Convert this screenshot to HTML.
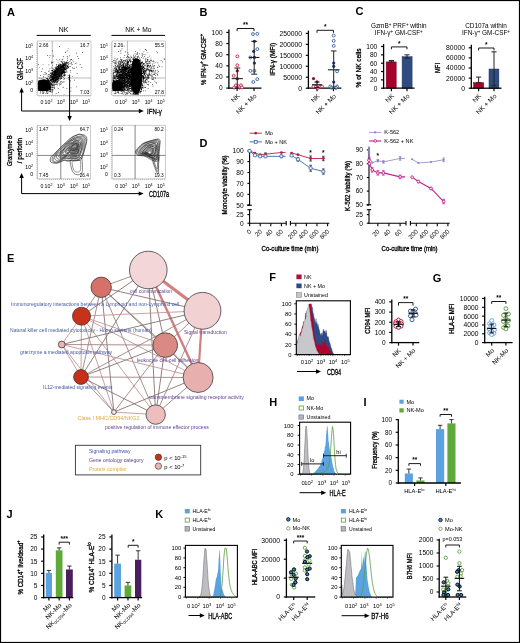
<!DOCTYPE html>
<html><head><meta charset="utf-8"><style>
html,body{margin:0;padding:0;background:#fff;}
svg{display:block;will-change:transform;}
text{font-family:"Liberation Sans",sans-serif;}
</style></head><body>
<svg width="520" height="643" viewBox="0 0 520 643" font-family="Liberation Sans">
<rect x="0" y="0" width="520" height="643" fill="#fff"/>
<text x="7" y="16.4" font-size="11" font-weight="bold">A</text>
<text x="63.6" y="32" font-size="6.9" text-anchor="middle">NK</text>
<line x1="36.6" y1="35.4" x2="90.8" y2="35.4" stroke="#000" stroke-width="1"/>
<text x="138.4" y="32" font-size="6.7" text-anchor="middle">NK + Mo</text>
<line x1="111.5" y1="35.4" x2="165" y2="35.4" stroke="#000" stroke-width="1"/>
<rect x="37.3" y="41" width="53.7" height="54.4" fill="none" stroke="#9a9a9a" stroke-width="0.5"/>
<path d="M37.3 43h-1.2M37.3 45.06h-1.2M37.3 47.11h-1.2M37.3 49.17h-1.2M37.3 51.22h-1.2M37.3 53.28h-1.2M37.3 55.34h-1.2M37.3 57.39h-1.2M37.3 59.45h-1.2M37.3 61.5h-1.2M37.3 63.56h-1.2M37.3 65.62h-1.2M37.3 67.67h-1.2M37.3 69.73h-1.2M37.3 71.78h-1.2M37.3 73.84h-1.2M37.3 75.9h-1.2M37.3 77.95h-1.2M37.3 80.01h-1.2M37.3 82.06h-1.2M37.3 84.12h-1.2M37.3 86.18h-1.2M37.3 88.23h-1.2M37.3 90.29h-1.2M37.3 92.34h-1.2M37.3 94.4h-1.2M39.3 95.4v1.2M41.33 95.4v1.2M43.36 95.4v1.2M45.38 95.4v1.2M47.41 95.4v1.2M49.44 95.4v1.2M51.47 95.4v1.2M53.5 95.4v1.2M55.52 95.4v1.2M57.55 95.4v1.2M59.58 95.4v1.2M61.61 95.4v1.2M63.64 95.4v1.2M65.66 95.4v1.2M67.69 95.4v1.2M69.72 95.4v1.2M71.75 95.4v1.2M73.78 95.4v1.2M75.8 95.4v1.2M77.83 95.4v1.2M79.86 95.4v1.2M81.89 95.4v1.2M83.92 95.4v1.2M85.94 95.4v1.2M87.97 95.4v1.2M90 95.4v1.2" fill="none" stroke="#666" stroke-width="0.4"/>
<text x="33.1" y="47.7" font-size="5.2" text-anchor="end">10<tspan baseline-shift="super" font-size="70%">5</tspan></text>
<text x="33.1" y="60.4" font-size="5.2" text-anchor="end">10<tspan baseline-shift="super" font-size="70%">4</tspan></text>
<text x="33.1" y="72.9" font-size="5.2" text-anchor="end">10<tspan baseline-shift="super" font-size="70%">3</tspan></text>
<text x="33.1" y="84.9" font-size="5.2" text-anchor="end">10<tspan baseline-shift="super" font-size="70%">2</tspan></text>
<text x="33.1" y="91.9" font-size="5.2" text-anchor="end">0</text>
<text x="41.9" y="104.2" font-size="5.2" text-anchor="middle">0</text>
<text x="48.5" y="104.2" font-size="5.2" text-anchor="middle">10<tspan baseline-shift="super" font-size="70%">2</tspan></text>
<text x="60.9" y="104.2" font-size="5.2" text-anchor="middle">10<tspan baseline-shift="super" font-size="70%">3</tspan></text>
<text x="73.9" y="104.2" font-size="5.2" text-anchor="middle">10<tspan baseline-shift="super" font-size="70%">4</tspan></text>
<text x="86.1" y="104.2" font-size="5.2" text-anchor="middle">10<tspan baseline-shift="super" font-size="70%">5</tspan></text>
<line x1="52.3" y1="41" x2="52.3" y2="95.4" stroke="#aaa" stroke-width="0.8"/>
<line x1="37.3" y1="78" x2="91" y2="78" stroke="#aaa" stroke-width="0.8"/>
<text x="39.1" y="46.5" font-size="4.8">2.66</text>
<text x="89.4" y="46.5" font-size="4.8" text-anchor="end">16.7</text>
<text x="39.1" y="93.6" font-size="4.8">79.6</text>
<text x="89.4" y="93.6" font-size="4.8" text-anchor="end">7.03</text>
<rect x="112" y="41" width="53.6" height="54.4" fill="none" stroke="#9a9a9a" stroke-width="0.5"/>
<path d="M112 43h-1.2M112 45.06h-1.2M112 47.11h-1.2M112 49.17h-1.2M112 51.22h-1.2M112 53.28h-1.2M112 55.34h-1.2M112 57.39h-1.2M112 59.45h-1.2M112 61.5h-1.2M112 63.56h-1.2M112 65.62h-1.2M112 67.67h-1.2M112 69.73h-1.2M112 71.78h-1.2M112 73.84h-1.2M112 75.9h-1.2M112 77.95h-1.2M112 80.01h-1.2M112 82.06h-1.2M112 84.12h-1.2M112 86.18h-1.2M112 88.23h-1.2M112 90.29h-1.2M112 92.34h-1.2M112 94.4h-1.2M114 95.4v1.2M116.02 95.4v1.2M118.05 95.4v1.2M120.07 95.4v1.2M122.1 95.4v1.2M124.12 95.4v1.2M126.14 95.4v1.2M128.17 95.4v1.2M130.19 95.4v1.2M132.22 95.4v1.2M134.24 95.4v1.2M136.26 95.4v1.2M138.29 95.4v1.2M140.31 95.4v1.2M142.34 95.4v1.2M144.36 95.4v1.2M146.38 95.4v1.2M148.41 95.4v1.2M150.43 95.4v1.2M152.46 95.4v1.2M154.48 95.4v1.2M156.5 95.4v1.2M158.53 95.4v1.2M160.55 95.4v1.2M162.58 95.4v1.2M164.6 95.4v1.2" fill="none" stroke="#666" stroke-width="0.4"/>
<text x="107.8" y="47.7" font-size="5.2" text-anchor="end">10<tspan baseline-shift="super" font-size="70%">5</tspan></text>
<text x="107.8" y="60.4" font-size="5.2" text-anchor="end">10<tspan baseline-shift="super" font-size="70%">4</tspan></text>
<text x="107.8" y="72.9" font-size="5.2" text-anchor="end">10<tspan baseline-shift="super" font-size="70%">3</tspan></text>
<text x="107.8" y="84.9" font-size="5.2" text-anchor="end">10<tspan baseline-shift="super" font-size="70%">2</tspan></text>
<text x="107.8" y="91.9" font-size="5.2" text-anchor="end">0</text>
<text x="116.6" y="104.2" font-size="5.2" text-anchor="middle">0</text>
<text x="123.2" y="104.2" font-size="5.2" text-anchor="middle">10<tspan baseline-shift="super" font-size="70%">2</tspan></text>
<text x="135.6" y="104.2" font-size="5.2" text-anchor="middle">10<tspan baseline-shift="super" font-size="70%">3</tspan></text>
<text x="148.6" y="104.2" font-size="5.2" text-anchor="middle">10<tspan baseline-shift="super" font-size="70%">4</tspan></text>
<text x="160.8" y="104.2" font-size="5.2" text-anchor="middle">10<tspan baseline-shift="super" font-size="70%">5</tspan></text>
<line x1="127.4" y1="41" x2="127.4" y2="95.4" stroke="#aaa" stroke-width="0.8"/>
<line x1="112" y1="78" x2="165.6" y2="78" stroke="#aaa" stroke-width="0.8"/>
<text x="113.8" y="46.5" font-size="4.8">2.26</text>
<text x="164" y="46.5" font-size="4.8" text-anchor="end">55.5</text>
<text x="113.8" y="93.6" font-size="4.8">14.5</text>
<text x="164" y="93.6" font-size="4.8" text-anchor="end">27.8</text>
<path d="M43.16 87.83h0.7v0.7h-0.7zM43.25 85.68h0.7v0.7h-0.7zM40.93 85.95h0.7v0.7h-0.7zM47.67 87.6h0.7v0.7h-0.7zM47.42 87.15h0.7v0.7h-0.7zM45.3 86.98h0.7v0.7h-0.7zM38.5 88.72h0.7v0.7h-0.7zM45.67 87.8h0.7v0.7h-0.7zM38.42 81.97h0.7v0.7h-0.7zM41.06 85.28h0.7v0.7h-0.7zM45.01 86.38h0.7v0.7h-0.7zM45.72 84.83h0.7v0.7h-0.7zM45.02 87.52h0.7v0.7h-0.7zM41.82 90.97h0.7v0.7h-0.7zM45.84 89.61h0.7v0.7h-0.7zM41.95 84.58h0.7v0.7h-0.7zM42.86 86.22h0.7v0.7h-0.7zM46.09 87.15h0.7v0.7h-0.7zM42.52 84.01h0.7v0.7h-0.7zM42.28 89.67h0.7v0.7h-0.7zM41.33 87.14h0.7v0.7h-0.7zM45.41 82.63h0.7v0.7h-0.7zM44.16 89.9h0.7v0.7h-0.7zM43.65 84.38h0.7v0.7h-0.7zM45.64 86.34h0.7v0.7h-0.7zM39.17 88.65h0.7v0.7h-0.7zM46.21 88.96h0.7v0.7h-0.7zM48.75 87.44h0.7v0.7h-0.7zM44.39 83.12h0.7v0.7h-0.7zM46.03 84.91h0.7v0.7h-0.7zM42.51 83.21h0.7v0.7h-0.7zM40.81 85.12h0.7v0.7h-0.7zM48.25 81.22h0.7v0.7h-0.7zM39.19 87.12h0.7v0.7h-0.7zM48.76 88h0.7v0.7h-0.7zM45.18 84.59h0.7v0.7h-0.7zM40.3 89.04h0.7v0.7h-0.7zM47.64 86.91h0.7v0.7h-0.7zM44.81 87.63h0.7v0.7h-0.7zM49.26 88.11h0.7v0.7h-0.7zM45.71 87.92h0.7v0.7h-0.7zM38.82 89.83h0.7v0.7h-0.7zM47.15 87.88h0.7v0.7h-0.7zM46.78 81.79h0.7v0.7h-0.7zM43.39 89.15h0.7v0.7h-0.7zM39.67 90.69h0.7v0.7h-0.7zM45.82 86.11h0.7v0.7h-0.7zM45.07 88.19h0.7v0.7h-0.7zM44.4 89.48h0.7v0.7h-0.7zM41.82 85.42h0.7v0.7h-0.7zM47.44 86.57h0.7v0.7h-0.7zM41.09 88.96h0.7v0.7h-0.7zM48.84 85.34h0.7v0.7h-0.7zM39.45 86.15h0.7v0.7h-0.7zM43.51 85.73h0.7v0.7h-0.7zM48.64 83.83h0.7v0.7h-0.7zM48.16 83.2h0.7v0.7h-0.7zM41.4 88.14h0.7v0.7h-0.7zM47.72 88.73h0.7v0.7h-0.7zM45.14 86.87h0.7v0.7h-0.7zM44.5 88h0.7v0.7h-0.7zM43.42 87.22h0.7v0.7h-0.7zM45.89 86.5h0.7v0.7h-0.7zM46.52 87.97h0.7v0.7h-0.7zM50.64 87.34h0.7v0.7h-0.7zM42.59 85.53h0.7v0.7h-0.7zM43.96 88.9h0.7v0.7h-0.7zM42.89 87.5h0.7v0.7h-0.7zM50.06 79.83h0.7v0.7h-0.7zM40.29 87.13h0.7v0.7h-0.7zM45.31 87.12h0.7v0.7h-0.7zM42.58 88.2h0.7v0.7h-0.7zM44.93 85.14h0.7v0.7h-0.7zM52.02 87.42h0.7v0.7h-0.7zM42.17 86.24h0.7v0.7h-0.7zM43.26 86.34h0.7v0.7h-0.7zM47.33 83.46h0.7v0.7h-0.7zM43.78 88.98h0.7v0.7h-0.7zM46.83 90.38h0.7v0.7h-0.7zM38.39 85.58h0.7v0.7h-0.7zM42.87 88.12h0.7v0.7h-0.7zM47.6 79.52h0.7v0.7h-0.7zM47.59 82.74h0.7v0.7h-0.7zM46.25 82.62h0.7v0.7h-0.7zM44.58 89.61h0.7v0.7h-0.7zM43.51 87h0.7v0.7h-0.7zM46.63 86.87h0.7v0.7h-0.7zM43.71 90.49h0.7v0.7h-0.7zM47.46 85.74h0.7v0.7h-0.7zM53.06 83.52h0.7v0.7h-0.7zM47.02 85.81h0.7v0.7h-0.7zM44.44 88.33h0.7v0.7h-0.7zM44.73 88.16h0.7v0.7h-0.7zM38.96 82.58h0.7v0.7h-0.7zM46.03 84h0.7v0.7h-0.7zM40.61 82.68h0.7v0.7h-0.7zM48.18 88.44h0.7v0.7h-0.7zM48.86 84.06h0.7v0.7h-0.7zM44 83.54h0.7v0.7h-0.7zM46.53 90.63h0.7v0.7h-0.7zM41.06 90.56h0.7v0.7h-0.7zM47.26 86.04h0.7v0.7h-0.7zM43.68 84.93h0.7v0.7h-0.7zM45.32 87.57h0.7v0.7h-0.7zM48.94 83.85h0.7v0.7h-0.7zM47.75 90.37h0.7v0.7h-0.7zM48.79 86.03h0.7v0.7h-0.7zM41.54 89.15h0.7v0.7h-0.7zM44.38 86.82h0.7v0.7h-0.7zM48.7 85.82h0.7v0.7h-0.7zM37.88 88.63h0.7v0.7h-0.7zM45.05 84.91h0.7v0.7h-0.7zM43.97 88.66h0.7v0.7h-0.7zM44.26 89.95h0.7v0.7h-0.7zM43.8 89.2h0.7v0.7h-0.7zM48.92 90.69h0.7v0.7h-0.7zM41.78 88.79h0.7v0.7h-0.7zM37.81 83.68h0.7v0.7h-0.7zM39.93 86.47h0.7v0.7h-0.7zM43.37 86.43h0.7v0.7h-0.7zM42.05 87.11h0.7v0.7h-0.7zM49.91 86.62h0.7v0.7h-0.7zM45.75 89.1h0.7v0.7h-0.7zM43.35 83.22h0.7v0.7h-0.7zM42.17 89.29h0.7v0.7h-0.7zM38.57 84.95h0.7v0.7h-0.7zM47.32 88.56h0.7v0.7h-0.7zM44.03 88.59h0.7v0.7h-0.7zM44.55 83.43h0.7v0.7h-0.7zM38.84 84.84h0.7v0.7h-0.7zM47.05 85.03h0.7v0.7h-0.7zM41.02 84.5h0.7v0.7h-0.7zM38.95 86.2h0.7v0.7h-0.7zM40.11 87.45h0.7v0.7h-0.7zM41.88 81.45h0.7v0.7h-0.7zM46.39 85.78h0.7v0.7h-0.7zM44.96 85.31h0.7v0.7h-0.7zM46.57 88.44h0.7v0.7h-0.7zM46.2 87.35h0.7v0.7h-0.7zM48.4 88.22h0.7v0.7h-0.7zM45.49 81.08h0.7v0.7h-0.7zM46.96 89.9h0.7v0.7h-0.7zM43.02 85.28h0.7v0.7h-0.7zM50.4 81.93h0.7v0.7h-0.7zM45.55 92.8h0.7v0.7h-0.7zM40.94 88.29h0.7v0.7h-0.7zM50.23 86.19h0.7v0.7h-0.7zM45.85 88.85h0.7v0.7h-0.7zM41.01 86.27h0.7v0.7h-0.7zM44.97 88.65h0.7v0.7h-0.7zM43.89 85.99h0.7v0.7h-0.7zM40.65 85.57h0.7v0.7h-0.7zM46.94 86.76h0.7v0.7h-0.7zM41.19 84.31h0.7v0.7h-0.7zM52.8 89.46h0.7v0.7h-0.7zM46.1 79.76h0.7v0.7h-0.7zM46.05 87.75h0.7v0.7h-0.7zM49.56 87.61h0.7v0.7h-0.7zM43.78 87.86h0.7v0.7h-0.7zM45.07 84.67h0.7v0.7h-0.7zM48.37 91.2h0.7v0.7h-0.7zM39.37 84.77h0.7v0.7h-0.7zM44.96 86.98h0.7v0.7h-0.7zM42.69 83.97h0.7v0.7h-0.7zM51 89.2h0.7v0.7h-0.7zM40.06 83h0.7v0.7h-0.7zM49.62 89.07h0.7v0.7h-0.7zM50.01 88.61h0.7v0.7h-0.7zM41.12 87.18h0.7v0.7h-0.7zM43.81 87.86h0.7v0.7h-0.7zM41.6 86.18h0.7v0.7h-0.7zM45.51 87.48h0.7v0.7h-0.7zM46.11 87.04h0.7v0.7h-0.7zM42.93 88.55h0.7v0.7h-0.7zM44.16 84.35h0.7v0.7h-0.7zM41.93 86.5h0.7v0.7h-0.7zM43.64 86.91h0.7v0.7h-0.7zM44 86.96h0.7v0.7h-0.7zM43.56 83.23h0.7v0.7h-0.7zM45.39 89.24h0.7v0.7h-0.7zM45.43 86.01h0.7v0.7h-0.7zM45.47 83.99h0.7v0.7h-0.7zM40.93 88.42h0.7v0.7h-0.7zM40.42 79.67h0.7v0.7h-0.7zM40.57 90.6h0.7v0.7h-0.7zM42.74 82.94h0.7v0.7h-0.7zM41.48 87.85h0.7v0.7h-0.7zM45.64 86.96h0.7v0.7h-0.7zM48.9 88.34h0.7v0.7h-0.7zM43.93 88.05h0.7v0.7h-0.7zM49.46 89.03h0.7v0.7h-0.7zM47.38 83.68h0.7v0.7h-0.7zM43.51 88.4h0.7v0.7h-0.7zM43.02 89.28h0.7v0.7h-0.7zM45.97 88.86h0.7v0.7h-0.7zM43.3 93.12h0.7v0.7h-0.7zM48.09 85.94h0.7v0.7h-0.7zM44.3 93.25h0.7v0.7h-0.7zM42.87 88.77h0.7v0.7h-0.7zM47.24 86.52h0.7v0.7h-0.7zM40.15 86.99h0.7v0.7h-0.7zM45.19 89.44h0.7v0.7h-0.7zM46.58 86.56h0.7v0.7h-0.7zM46.82 87.9h0.7v0.7h-0.7zM44.68 86.64h0.7v0.7h-0.7zM43.2 88.28h0.7v0.7h-0.7zM40.52 84.87h0.7v0.7h-0.7zM44.02 82.69h0.7v0.7h-0.7zM42.56 81.28h0.7v0.7h-0.7zM41.75 87.98h0.7v0.7h-0.7zM45.87 86.36h0.7v0.7h-0.7zM43.23 82.82h0.7v0.7h-0.7zM50.03 87.84h0.7v0.7h-0.7zM47.61 84.21h0.7v0.7h-0.7zM43.39 81.77h0.7v0.7h-0.7zM46.58 88.93h0.7v0.7h-0.7zM46.08 81.92h0.7v0.7h-0.7zM37.98 83.73h0.7v0.7h-0.7zM41.92 82.85h0.7v0.7h-0.7zM44.1 87.15h0.7v0.7h-0.7zM46.09 88.33h0.7v0.7h-0.7zM48.96 89.53h0.7v0.7h-0.7zM39.67 85.19h0.7v0.7h-0.7zM40.5 83.7h0.7v0.7h-0.7zM43.73 86.51h0.7v0.7h-0.7zM45.62 82.37h0.7v0.7h-0.7zM39.92 86.44h0.7v0.7h-0.7zM43.34 85.69h0.7v0.7h-0.7zM43.79 84.52h0.7v0.7h-0.7zM46.31 87.42h0.7v0.7h-0.7zM43.71 84.75h0.7v0.7h-0.7zM43.43 79.42h0.7v0.7h-0.7zM40.76 86.6h0.7v0.7h-0.7zM39.04 87.02h0.7v0.7h-0.7zM44.49 82.92h0.7v0.7h-0.7zM43.17 85.68h0.7v0.7h-0.7zM45.52 88.09h0.7v0.7h-0.7zM43.88 84.29h0.7v0.7h-0.7zM43.52 86.33h0.7v0.7h-0.7zM46.42 87.27h0.7v0.7h-0.7zM41.62 82.98h0.7v0.7h-0.7zM42.77 84.57h0.7v0.7h-0.7zM40.33 86.2h0.7v0.7h-0.7zM42.38 86.77h0.7v0.7h-0.7zM45.73 85.43h0.7v0.7h-0.7zM51.67 85.66h0.7v0.7h-0.7zM47.64 86.82h0.7v0.7h-0.7zM47.68 80.32h0.7v0.7h-0.7zM41.52 87.14h0.7v0.7h-0.7zM45.99 92.57h0.7v0.7h-0.7zM45.06 89.83h0.7v0.7h-0.7zM46.53 88.96h0.7v0.7h-0.7zM45.68 86.09h0.7v0.7h-0.7zM45.68 83.7h0.7v0.7h-0.7zM47.9 83.86h0.7v0.7h-0.7zM44.82 92.01h0.7v0.7h-0.7zM43.26 86.55h0.7v0.7h-0.7zM47.84 86.57h0.7v0.7h-0.7zM41.33 87.17h0.7v0.7h-0.7zM45.92 88.35h0.7v0.7h-0.7zM41.45 91.06h0.7v0.7h-0.7zM49.5 86.55h0.7v0.7h-0.7zM44.89 85.39h0.7v0.7h-0.7zM48.67 84.67h0.7v0.7h-0.7zM46.22 85.25h0.7v0.7h-0.7zM41.71 88.37h0.7v0.7h-0.7zM48.4 86.47h0.7v0.7h-0.7zM41.76 88.61h0.7v0.7h-0.7zM43.84 87.31h0.7v0.7h-0.7zM49.03 89.44h0.7v0.7h-0.7zM42.28 92.44h0.7v0.7h-0.7zM44.01 88.54h0.7v0.7h-0.7zM41.86 86.38h0.7v0.7h-0.7zM38.23 91.15h0.7v0.7h-0.7zM48.51 83.34h0.7v0.7h-0.7zM39.03 82.29h0.7v0.7h-0.7zM47.88 85.31h0.7v0.7h-0.7zM43.8 85.69h0.7v0.7h-0.7zM43.6 83.67h0.7v0.7h-0.7zM44.08 82.76h0.7v0.7h-0.7zM43.76 87.3h0.7v0.7h-0.7zM45.54 85.9h0.7v0.7h-0.7zM41.02 86.91h0.7v0.7h-0.7zM42.4 90.57h0.7v0.7h-0.7zM46.53 86.2h0.7v0.7h-0.7zM42.45 84.67h0.7v0.7h-0.7zM40.91 85.58h0.7v0.7h-0.7zM44.97 87.84h0.7v0.7h-0.7zM45.88 91.96h0.7v0.7h-0.7zM41.67 86.53h0.7v0.7h-0.7zM53.22 81.65h0.7v0.7h-0.7zM42.28 86.94h0.7v0.7h-0.7zM44.51 87.56h0.7v0.7h-0.7zM43.21 87.45h0.7v0.7h-0.7zM44.17 88.51h0.7v0.7h-0.7zM43.99 83.82h0.7v0.7h-0.7zM40.55 88.13h0.7v0.7h-0.7zM41.86 88.15h0.7v0.7h-0.7zM46.46 87.3h0.7v0.7h-0.7zM45.68 86.23h0.7v0.7h-0.7zM39.35 86.42h0.7v0.7h-0.7zM45.5 85.12h0.7v0.7h-0.7zM43.67 88.45h0.7v0.7h-0.7zM41.1 88.16h0.7v0.7h-0.7zM50.15 85.06h0.7v0.7h-0.7zM44.48 86.11h0.7v0.7h-0.7zM49.08 87.32h0.7v0.7h-0.7zM46.96 84.71h0.7v0.7h-0.7zM43.95 86.47h0.7v0.7h-0.7zM38.14 90.25h0.7v0.7h-0.7zM46.97 81.95h0.7v0.7h-0.7zM46.46 86.16h0.7v0.7h-0.7zM45.48 87.45h0.7v0.7h-0.7zM39.05 85.95h0.7v0.7h-0.7zM48.93 85.01h0.7v0.7h-0.7zM40.62 82.97h0.7v0.7h-0.7zM39.97 87.37h0.7v0.7h-0.7zM49.59 87.62h0.7v0.7h-0.7zM44.81 92.31h0.7v0.7h-0.7zM42.29 84.75h0.7v0.7h-0.7zM45.74 87.93h0.7v0.7h-0.7zM40.65 83.46h0.7v0.7h-0.7zM44.96 87.14h0.7v0.7h-0.7zM39.69 85.97h0.7v0.7h-0.7zM42.21 87.7h0.7v0.7h-0.7zM43.61 86.28h0.7v0.7h-0.7zM42.83 89.24h0.7v0.7h-0.7zM48.59 85.55h0.7v0.7h-0.7zM46.79 84.53h0.7v0.7h-0.7zM44.24 88.45h0.7v0.7h-0.7zM49 85.51h0.7v0.7h-0.7zM43.76 87.01h0.7v0.7h-0.7zM39.06 86.54h0.7v0.7h-0.7zM41.77 87.47h0.7v0.7h-0.7zM40.27 81.36h0.7v0.7h-0.7zM44.13 87.18h0.7v0.7h-0.7zM42.19 88.81h0.7v0.7h-0.7zM43.1 84.93h0.7v0.7h-0.7zM45.58 82.42h0.7v0.7h-0.7zM41.76 86.45h0.7v0.7h-0.7zM46.8 86.08h0.7v0.7h-0.7zM45.02 84.8h0.7v0.7h-0.7zM45 90.83h0.7v0.7h-0.7zM41.73 92.65h0.7v0.7h-0.7zM41.88 86.54h0.7v0.7h-0.7zM44.57 89.16h0.7v0.7h-0.7zM39.92 81.04h0.7v0.7h-0.7zM46 88.57h0.7v0.7h-0.7zM46.06 93.34h0.7v0.7h-0.7zM44.68 87.16h0.7v0.7h-0.7zM47.07 87.46h0.7v0.7h-0.7zM49.49 83.28h0.7v0.7h-0.7zM42.76 77.54h0.7v0.7h-0.7zM46.68 85.53h0.7v0.7h-0.7zM47.05 92.1h0.7v0.7h-0.7zM43.98 85.84h0.7v0.7h-0.7zM42.35 84.32h0.7v0.7h-0.7zM41.92 88.16h0.7v0.7h-0.7zM44.12 86.67h0.7v0.7h-0.7zM43.43 88.88h0.7v0.7h-0.7zM45.63 86.13h0.7v0.7h-0.7zM46.19 86.11h0.7v0.7h-0.7zM40.2 90.28h0.7v0.7h-0.7zM45.54 84.01h0.7v0.7h-0.7zM47.56 87.4h0.7v0.7h-0.7zM38.84 90.69h0.7v0.7h-0.7zM45.1 88.82h0.7v0.7h-0.7zM44.65 86.11h0.7v0.7h-0.7zM38.89 89.03h0.7v0.7h-0.7zM44.1 85.76h0.7v0.7h-0.7zM45.16 86.7h0.7v0.7h-0.7zM46.23 85.54h0.7v0.7h-0.7zM43.88 80.94h0.7v0.7h-0.7zM42.6 88.26h0.7v0.7h-0.7zM48.41 85.55h0.7v0.7h-0.7zM43.6 90.62h0.7v0.7h-0.7zM42.92 88.41h0.7v0.7h-0.7zM49.54 86.6h0.7v0.7h-0.7zM48.05 84.65h0.7v0.7h-0.7zM44.69 86.3h0.7v0.7h-0.7zM44.38 89.44h0.7v0.7h-0.7zM51.89 84.77h0.7v0.7h-0.7zM42.1 87.79h0.7v0.7h-0.7zM40.52 87.79h0.7v0.7h-0.7zM45.89 85.78h0.7v0.7h-0.7zM45.75 82.47h0.7v0.7h-0.7zM46.51 82.48h0.7v0.7h-0.7zM41.7 85.05h0.7v0.7h-0.7zM42.68 88.73h0.7v0.7h-0.7zM44.27 85.47h0.7v0.7h-0.7zM45.79 90.61h0.7v0.7h-0.7zM44.02 87.45h0.7v0.7h-0.7zM48.09 87.2h0.7v0.7h-0.7zM39.76 92.97h0.7v0.7h-0.7zM51.29 81.34h0.7v0.7h-0.7zM43.87 87.58h0.7v0.7h-0.7zM47.19 88.24h0.7v0.7h-0.7zM43.1 83.76h0.7v0.7h-0.7zM44.34 89.19h0.7v0.7h-0.7zM40.4 83.83h0.7v0.7h-0.7zM43.92 81.46h0.7v0.7h-0.7zM43.14 85.37h0.7v0.7h-0.7zM45.49 84.68h0.7v0.7h-0.7zM41.09 85.48h0.7v0.7h-0.7zM43.84 84.77h0.7v0.7h-0.7zM44.04 88.45h0.7v0.7h-0.7zM47.91 90.93h0.7v0.7h-0.7zM41.41 85.41h0.7v0.7h-0.7zM41.61 86.41h0.7v0.7h-0.7zM45.72 82.97h0.7v0.7h-0.7zM45.53 86.43h0.7v0.7h-0.7zM37.97 87.26h0.7v0.7h-0.7zM47.94 81.64h0.7v0.7h-0.7zM46.66 87.04h0.7v0.7h-0.7zM45.57 87.65h0.7v0.7h-0.7zM48.3 85.92h0.7v0.7h-0.7zM46.88 85.43h0.7v0.7h-0.7zM46.4 84.38h0.7v0.7h-0.7zM43.64 91h0.7v0.7h-0.7zM45.47 86.09h0.7v0.7h-0.7zM40.22 84.45h0.7v0.7h-0.7zM44.64 88.94h0.7v0.7h-0.7zM45.41 87.86h0.7v0.7h-0.7zM43.86 90.02h0.7v0.7h-0.7zM42.71 85.07h0.7v0.7h-0.7zM46.93 86.67h0.7v0.7h-0.7zM43.08 85h0.7v0.7h-0.7zM43.15 88.12h0.7v0.7h-0.7zM45.17 83.35h0.7v0.7h-0.7zM45.41 86.97h0.7v0.7h-0.7zM40.7 88.51h0.7v0.7h-0.7zM43.07 85.63h0.7v0.7h-0.7zM46.63 89.93h0.7v0.7h-0.7zM41.73 87.64h0.7v0.7h-0.7zM41.11 92.52h0.7v0.7h-0.7zM42.37 89.61h0.7v0.7h-0.7zM41.86 88.61h0.7v0.7h-0.7zM51.32 79.89h0.7v0.7h-0.7zM42.57 87.8h0.7v0.7h-0.7zM43.69 84.76h0.7v0.7h-0.7zM51.1 86.71h0.7v0.7h-0.7zM38.57 88.72h0.7v0.7h-0.7zM38.32 89.49h0.7v0.7h-0.7zM42.09 86.88h0.7v0.7h-0.7zM48.16 86.81h0.7v0.7h-0.7zM39.41 82.09h0.7v0.7h-0.7zM47.9 88.43h0.7v0.7h-0.7zM41.31 88.73h0.7v0.7h-0.7zM45.64 88.18h0.7v0.7h-0.7zM46.97 88.41h0.7v0.7h-0.7zM46.91 80.11h0.7v0.7h-0.7zM44.56 87.78h0.7v0.7h-0.7zM52.42 84.02h0.7v0.7h-0.7zM42.91 86.59h0.7v0.7h-0.7zM46.92 85.35h0.7v0.7h-0.7zM47.79 84.45h0.7v0.7h-0.7zM44.88 85.13h0.7v0.7h-0.7zM44.52 84.7h0.7v0.7h-0.7zM38.73 89.34h0.7v0.7h-0.7zM45 85.05h0.7v0.7h-0.7zM44.66 89.07h0.7v0.7h-0.7zM40.77 86.21h0.7v0.7h-0.7zM45.78 87.87h0.7v0.7h-0.7zM42.89 81.02h0.7v0.7h-0.7zM48.1 87.35h0.7v0.7h-0.7zM44.04 85.78h0.7v0.7h-0.7zM44.87 85.39h0.7v0.7h-0.7zM40.62 84.58h0.7v0.7h-0.7zM42.03 84.91h0.7v0.7h-0.7zM40.18 88.15h0.7v0.7h-0.7zM39.68 88.22h0.7v0.7h-0.7zM40.65 87.42h0.7v0.7h-0.7zM48.53 87.03h0.7v0.7h-0.7zM41.59 86.63h0.7v0.7h-0.7zM44.49 81.99h0.7v0.7h-0.7zM41.99 86.92h0.7v0.7h-0.7zM42.45 86.71h0.7v0.7h-0.7zM46.42 88.49h0.7v0.7h-0.7zM46.99 88.03h0.7v0.7h-0.7zM43.05 86.45h0.7v0.7h-0.7zM43.11 85.69h0.7v0.7h-0.7zM43.41 82.02h0.7v0.7h-0.7zM42.9 86.44h0.7v0.7h-0.7zM40.79 86.44h0.7v0.7h-0.7zM45.7 86.07h0.7v0.7h-0.7zM50.85 79.72h0.7v0.7h-0.7zM43.32 81.75h0.7v0.7h-0.7zM47.23 93.4h0.7v0.7h-0.7zM45.71 85.71h0.7v0.7h-0.7zM45.82 80.67h0.7v0.7h-0.7zM46.81 87.47h0.7v0.7h-0.7zM44.08 84.97h0.7v0.7h-0.7zM46.11 85.24h0.7v0.7h-0.7zM44.74 85.17h0.7v0.7h-0.7zM44.67 88.46h0.7v0.7h-0.7zM41.11 86.41h0.7v0.7h-0.7zM46.04 86.88h0.7v0.7h-0.7zM48.1 91.68h0.7v0.7h-0.7zM41 81.51h0.7v0.7h-0.7zM46.83 90.48h0.7v0.7h-0.7zM47.04 88.62h0.7v0.7h-0.7zM41.96 84.64h0.7v0.7h-0.7zM46.93 84.13h0.7v0.7h-0.7zM38.02 83.91h0.7v0.7h-0.7zM52.22 91.5h0.7v0.7h-0.7zM41.73 84.6h0.7v0.7h-0.7zM44.76 84.55h0.7v0.7h-0.7zM48.32 86.3h0.7v0.7h-0.7zM40.42 89.9h0.7v0.7h-0.7zM42.08 87.08h0.7v0.7h-0.7zM43.96 85.68h0.7v0.7h-0.7zM45.07 84.7h0.7v0.7h-0.7zM37.91 80.76h0.7v0.7h-0.7zM39.82 84.53h0.7v0.7h-0.7zM43.92 86.64h0.7v0.7h-0.7zM45.83 86.81h0.7v0.7h-0.7zM41.38 84.66h0.7v0.7h-0.7zM45.6 87.88h0.7v0.7h-0.7zM43.6 86.05h0.7v0.7h-0.7zM47.09 86.54h0.7v0.7h-0.7zM46.43 88.01h0.7v0.7h-0.7zM44.7 89.9h0.7v0.7h-0.7zM42.11 85.57h0.7v0.7h-0.7zM41.33 84.43h0.7v0.7h-0.7zM49.13 91.07h0.7v0.7h-0.7zM44.08 87.98h0.7v0.7h-0.7zM47.88 88.6h0.7v0.7h-0.7zM47.98 83.22h0.7v0.7h-0.7zM41.89 87.68h0.7v0.7h-0.7zM48.74 86.77h0.7v0.7h-0.7zM41.17 85.58h0.7v0.7h-0.7zM41.82 84.27h0.7v0.7h-0.7zM48.95 84.87h0.7v0.7h-0.7zM44.07 92.12h0.7v0.7h-0.7zM47.91 87.37h0.7v0.7h-0.7zM41.98 87.57h0.7v0.7h-0.7zM49.35 88.12h0.7v0.7h-0.7zM48.16 86.76h0.7v0.7h-0.7zM45.7 85.98h0.7v0.7h-0.7zM45.41 89.88h0.7v0.7h-0.7zM39.28 86.34h0.7v0.7h-0.7zM44.79 85.02h0.7v0.7h-0.7zM42.98 88.55h0.7v0.7h-0.7zM50.61 88.14h0.7v0.7h-0.7zM45.08 82.47h0.7v0.7h-0.7zM50.36 86.7h0.7v0.7h-0.7zM43.89 83.59h0.7v0.7h-0.7zM43.81 83.65h0.7v0.7h-0.7zM44.23 87.71h0.7v0.7h-0.7zM44.1 87.23h0.7v0.7h-0.7zM41.19 90.22h0.7v0.7h-0.7zM41.84 81.77h0.7v0.7h-0.7zM43.38 84.51h0.7v0.7h-0.7zM40.67 85.58h0.7v0.7h-0.7zM44.96 83.43h0.7v0.7h-0.7zM43.55 90.21h0.7v0.7h-0.7zM46.25 86.1h0.7v0.7h-0.7zM44.42 86.19h0.7v0.7h-0.7zM43.84 88.4h0.7v0.7h-0.7zM43.69 80.25h0.7v0.7h-0.7zM43.93 84.19h0.7v0.7h-0.7zM46.15 84.91h0.7v0.7h-0.7zM44.49 92.16h0.7v0.7h-0.7zM40.55 83.58h0.7v0.7h-0.7zM39.34 80.27h0.7v0.7h-0.7zM37.8 87.45h0.7v0.7h-0.7zM41.89 81.64h0.7v0.7h-0.7zM39.11 88.1h0.7v0.7h-0.7zM41.44 85.55h0.7v0.7h-0.7zM45.09 90.03h0.7v0.7h-0.7zM50.41 89.18h0.7v0.7h-0.7zM44.47 86.98h0.7v0.7h-0.7zM49.95 90.21h0.7v0.7h-0.7zM42.98 87.69h0.7v0.7h-0.7zM44.95 86.64h0.7v0.7h-0.7zM42.35 83.05h0.7v0.7h-0.7zM42.24 82.49h0.7v0.7h-0.7zM48.04 87.9h0.7v0.7h-0.7zM40.02 90.13h0.7v0.7h-0.7zM46.94 81.54h0.7v0.7h-0.7zM50.08 88.61h0.7v0.7h-0.7zM50.81 83.3h0.7v0.7h-0.7zM45.75 87.6h0.7v0.7h-0.7zM44.67 86.95h0.7v0.7h-0.7zM47.48 82.61h0.7v0.7h-0.7zM39.9 82.88h0.7v0.7h-0.7zM42.16 84.93h0.7v0.7h-0.7zM45.21 87.19h0.7v0.7h-0.7zM44.1 84.74h0.7v0.7h-0.7zM42.54 88.98h0.7v0.7h-0.7zM46.52 86.76h0.7v0.7h-0.7zM42.94 90.54h0.7v0.7h-0.7zM42.04 88.19h0.7v0.7h-0.7zM47.81 85.81h0.7v0.7h-0.7zM46.72 83.6h0.7v0.7h-0.7zM47.34 87.02h0.7v0.7h-0.7zM38.76 88.24h0.7v0.7h-0.7zM41.06 89.83h0.7v0.7h-0.7zM41.76 86.07h0.7v0.7h-0.7zM44.93 85.64h0.7v0.7h-0.7zM44.86 85.06h0.7v0.7h-0.7zM46.22 86.51h0.7v0.7h-0.7zM44.7 79.34h0.7v0.7h-0.7zM47.83 86.58h0.7v0.7h-0.7zM38.12 86.75h0.7v0.7h-0.7zM45.54 89.28h0.7v0.7h-0.7zM40.43 90.52h0.7v0.7h-0.7zM43.47 92.73h0.7v0.7h-0.7zM43.52 88.27h0.7v0.7h-0.7zM42.79 83.6h0.7v0.7h-0.7zM47.62 88.86h0.7v0.7h-0.7zM49.08 88.73h0.7v0.7h-0.7zM42.11 82.18h0.7v0.7h-0.7zM41.85 84.74h0.7v0.7h-0.7zM41.31 88.01h0.7v0.7h-0.7zM45.08 85.8h0.7v0.7h-0.7zM44.57 86.12h0.7v0.7h-0.7zM44.7 88.46h0.7v0.7h-0.7zM47.17 84.72h0.7v0.7h-0.7zM39.03 90.21h0.7v0.7h-0.7zM44.38 89.37h0.7v0.7h-0.7zM38.58 85.64h0.7v0.7h-0.7zM44.09 82.75h0.7v0.7h-0.7zM42.3 88.38h0.7v0.7h-0.7zM47.56 90.64h0.7v0.7h-0.7zM41.15 82.86h0.7v0.7h-0.7zM45.72 88.95h0.7v0.7h-0.7zM44.64 83.12h0.7v0.7h-0.7zM46.58 88.56h0.7v0.7h-0.7zM45.83 85.23h0.7v0.7h-0.7zM45 88.56h0.7v0.7h-0.7zM42.16 81.71h0.7v0.7h-0.7zM45.08 87.75h0.7v0.7h-0.7zM44.04 88.81h0.7v0.7h-0.7zM42.06 86.29h0.7v0.7h-0.7zM42.99 87.99h0.7v0.7h-0.7zM49.27 85.85h0.7v0.7h-0.7zM50.78 90.48h0.7v0.7h-0.7zM46.61 88.03h0.7v0.7h-0.7zM49.84 86.03h0.7v0.7h-0.7zM43.63 83.74h0.7v0.7h-0.7zM45.56 90h0.7v0.7h-0.7zM45.76 87.6h0.7v0.7h-0.7zM43.34 86.94h0.7v0.7h-0.7zM39.3 89.23h0.7v0.7h-0.7zM42.65 83.63h0.7v0.7h-0.7zM41.52 84.36h0.7v0.7h-0.7zM46.82 89.25h0.7v0.7h-0.7zM39.52 88.91h0.7v0.7h-0.7zM46.93 84.99h0.7v0.7h-0.7zM39.09 84.56h0.7v0.7h-0.7zM41.91 87.39h0.7v0.7h-0.7zM42.82 81.23h0.7v0.7h-0.7zM44.77 82.51h0.7v0.7h-0.7zM46.99 83.36h0.7v0.7h-0.7zM41.71 84.28h0.7v0.7h-0.7zM42.21 89.87h0.7v0.7h-0.7zM46.81 88.06h0.7v0.7h-0.7zM45.05 82.48h0.7v0.7h-0.7zM42.28 85.07h0.7v0.7h-0.7zM40.77 87.82h0.7v0.7h-0.7zM41.55 84.65h0.7v0.7h-0.7zM40.55 81.15h0.7v0.7h-0.7zM45.96 89.96h0.7v0.7h-0.7zM44.58 83.96h0.7v0.7h-0.7zM48.01 87.27h0.7v0.7h-0.7zM47.06 90.34h0.7v0.7h-0.7zM47.72 85.35h0.7v0.7h-0.7zM47.47 88.52h0.7v0.7h-0.7zM38.93 85.45h0.7v0.7h-0.7zM39.3 86.22h0.7v0.7h-0.7zM45.91 83.72h0.7v0.7h-0.7zM45.24 90.33h0.7v0.7h-0.7zM39.63 89.26h0.7v0.7h-0.7zM50.84 91.72h0.7v0.7h-0.7zM43.31 87.2h0.7v0.7h-0.7zM43.49 89.1h0.7v0.7h-0.7zM47.42 86.73h0.7v0.7h-0.7zM39.52 88.43h0.7v0.7h-0.7zM42.45 88.14h0.7v0.7h-0.7zM44.87 90.72h0.7v0.7h-0.7zM47.75 85.33h0.7v0.7h-0.7zM45.15 91.09h0.7v0.7h-0.7zM42.23 87.63h0.7v0.7h-0.7zM47.93 89.77h0.7v0.7h-0.7zM45.71 83.07h0.7v0.7h-0.7zM39.84 87.14h0.7v0.7h-0.7zM45.28 93.12h0.7v0.7h-0.7zM41.16 89.46h0.7v0.7h-0.7zM46.54 82.15h0.7v0.7h-0.7zM41.3 86.93h0.7v0.7h-0.7zM42.37 86.1h0.7v0.7h-0.7zM45.55 84.4h0.7v0.7h-0.7zM45.54 84.85h0.7v0.7h-0.7zM42.2 87.9h0.7v0.7h-0.7zM42.11 87.25h0.7v0.7h-0.7zM49.28 86.57h0.7v0.7h-0.7zM43.52 88.41h0.7v0.7h-0.7zM42.79 89.32h0.7v0.7h-0.7zM39.77 88.11h0.7v0.7h-0.7zM42.31 84.42h0.7v0.7h-0.7zM49.84 84.29h0.7v0.7h-0.7zM49.8 88.21h0.7v0.7h-0.7zM48.79 83.96h0.7v0.7h-0.7zM47.96 90.29h0.7v0.7h-0.7zM43.62 86.16h0.7v0.7h-0.7zM52.1 86.96h0.7v0.7h-0.7zM42.61 84.86h0.7v0.7h-0.7zM45.47 87.36h0.7v0.7h-0.7zM44.59 90.98h0.7v0.7h-0.7zM42.92 87.73h0.7v0.7h-0.7zM48.82 83.89h0.7v0.7h-0.7zM47.43 91.26h0.7v0.7h-0.7zM39.53 83.65h0.7v0.7h-0.7zM40.57 81.7h0.7v0.7h-0.7zM45.49 81.67h0.7v0.7h-0.7zM45.65 90.28h0.7v0.7h-0.7zM38.67 85.68h0.7v0.7h-0.7zM41.57 85.81h0.7v0.7h-0.7zM44.18 87.92h0.7v0.7h-0.7zM42.86 86.54h0.7v0.7h-0.7zM42.2 86.8h0.7v0.7h-0.7zM40.13 86.67h0.7v0.7h-0.7zM50.32 86.71h0.7v0.7h-0.7zM39.84 87.17h0.7v0.7h-0.7zM40.79 82.21h0.7v0.7h-0.7zM41.57 88.42h0.7v0.7h-0.7zM45.27 86.25h0.7v0.7h-0.7zM40.94 83.7h0.7v0.7h-0.7zM48.45 87.14h0.7v0.7h-0.7zM40.86 81.01h0.7v0.7h-0.7zM39.48 92.94h0.7v0.7h-0.7zM40.21 86.3h0.7v0.7h-0.7zM44.69 86.09h0.7v0.7h-0.7zM43.08 82.93h0.7v0.7h-0.7zM40.53 90.89h0.7v0.7h-0.7zM41.5 88.7h0.7v0.7h-0.7zM38.41 85.79h0.7v0.7h-0.7zM44.86 89.19h0.7v0.7h-0.7zM40.3 88.05h0.7v0.7h-0.7zM45.27 84.58h0.7v0.7h-0.7zM45.57 84.17h0.7v0.7h-0.7zM41.37 86.45h0.7v0.7h-0.7zM40.7 82.7h0.7v0.7h-0.7zM42.6 88.48h0.7v0.7h-0.7zM42.67 89.79h0.7v0.7h-0.7zM40.17 83.09h0.7v0.7h-0.7zM49.12 87.54h0.7v0.7h-0.7zM47.12 84.35h0.7v0.7h-0.7zM46.65 87.18h0.7v0.7h-0.7zM46.14 86.57h0.7v0.7h-0.7zM47.98 84.81h0.7v0.7h-0.7zM40.82 82.66h0.7v0.7h-0.7zM47.83 84.58h0.7v0.7h-0.7zM40.56 84.06h0.7v0.7h-0.7zM42.53 83.19h0.7v0.7h-0.7zM43.04 84.87h0.7v0.7h-0.7zM42.18 84.01h0.7v0.7h-0.7zM44.12 85.3h0.7v0.7h-0.7zM44.38 87.15h0.7v0.7h-0.7zM45.12 80.81h0.7v0.7h-0.7zM42.23 84.43h0.7v0.7h-0.7zM46.56 82.4h0.7v0.7h-0.7zM41.64 85.74h0.7v0.7h-0.7zM42.89 89.08h0.7v0.7h-0.7zM42.54 89.01h0.7v0.7h-0.7zM39.16 81.79h0.7v0.7h-0.7zM48.02 87.63h0.7v0.7h-0.7zM45.61 86.82h0.7v0.7h-0.7zM45.6 83.34h0.7v0.7h-0.7zM47.13 85.12h0.7v0.7h-0.7zM47.25 86.73h0.7v0.7h-0.7zM47.72 86.14h0.7v0.7h-0.7zM42.69 87.13h0.7v0.7h-0.7zM42.6 85.08h0.7v0.7h-0.7zM44.34 86.88h0.7v0.7h-0.7zM49.01 86.62h0.7v0.7h-0.7zM50.2 91.19h0.7v0.7h-0.7zM49.66 89.26h0.7v0.7h-0.7zM44.43 86.86h0.7v0.7h-0.7zM43.53 84.6h0.7v0.7h-0.7zM43.78 84.83h0.7v0.7h-0.7zM49.41 87.89h0.7v0.7h-0.7zM42.53 81.52h0.7v0.7h-0.7zM43.82 85.42h0.7v0.7h-0.7zM40.42 83.55h0.7v0.7h-0.7zM43.78 93.21h0.7v0.7h-0.7zM43.9 86.11h0.7v0.7h-0.7zM48.77 86.85h0.7v0.7h-0.7zM44.55 85.53h0.7v0.7h-0.7zM42 90.4h0.7v0.7h-0.7zM47.3 90.96h0.7v0.7h-0.7zM42.85 86.58h0.7v0.7h-0.7zM41.09 89.01h0.7v0.7h-0.7zM39.4 87.97h0.7v0.7h-0.7zM47.62 90.17h0.7v0.7h-0.7zM40.9 89.33h0.7v0.7h-0.7zM41.65 84.53h0.7v0.7h-0.7zM39.63 89.5h0.7v0.7h-0.7zM49.44 84.95h0.7v0.7h-0.7zM41.49 85.62h0.7v0.7h-0.7zM52.27 89.11h0.7v0.7h-0.7zM42.21 81.83h0.7v0.7h-0.7zM41.78 89.59h0.7v0.7h-0.7zM50.16 85.81h0.7v0.7h-0.7zM41.72 85.17h0.7v0.7h-0.7zM40.42 89.26h0.7v0.7h-0.7zM38.36 83.2h0.7v0.7h-0.7zM44.95 84.51h0.7v0.7h-0.7zM46.58 86.52h0.7v0.7h-0.7zM40.12 88.12h0.7v0.7h-0.7zM46.78 81.53h0.7v0.7h-0.7zM50.03 87.79h0.7v0.7h-0.7zM46.51 81.66h0.7v0.7h-0.7zM41.62 85.59h0.7v0.7h-0.7zM47.55 82.71h0.7v0.7h-0.7zM41.08 81.22h0.7v0.7h-0.7zM43.2 87.4h0.7v0.7h-0.7zM38.44 84.96h0.7v0.7h-0.7zM45.68 90.62h0.7v0.7h-0.7zM46.19 85.71h0.7v0.7h-0.7zM40.11 84.07h0.7v0.7h-0.7zM41.81 86.88h0.7v0.7h-0.7zM43.84 90.83h0.7v0.7h-0.7zM44.95 83.71h0.7v0.7h-0.7zM49.1 88.97h0.7v0.7h-0.7zM44.33 84.63h0.7v0.7h-0.7zM37.83 83.84h0.7v0.7h-0.7zM47.01 84.41h0.7v0.7h-0.7zM39.64 87.01h0.7v0.7h-0.7zM44.8 88.08h0.7v0.7h-0.7zM46.16 90.16h0.7v0.7h-0.7zM41.23 89.04h0.7v0.7h-0.7zM40.74 88.3h0.7v0.7h-0.7zM44.59 87.13h0.7v0.7h-0.7zM47.19 86.45h0.7v0.7h-0.7zM47.67 88.78h0.7v0.7h-0.7zM44.45 85.03h0.7v0.7h-0.7zM41.51 85.13h0.7v0.7h-0.7zM43.33 86.44h0.7v0.7h-0.7zM53.84 88.16h0.7v0.7h-0.7zM46.54 84.26h0.7v0.7h-0.7zM41.66 85.67h0.7v0.7h-0.7zM44.63 83.81h0.7v0.7h-0.7zM49.32 85.04h0.7v0.7h-0.7zM47.56 80.43h0.7v0.7h-0.7zM43.98 87.22h0.7v0.7h-0.7zM44.63 88.06h0.7v0.7h-0.7zM44.92 86.92h0.7v0.7h-0.7zM45.01 85.99h0.7v0.7h-0.7zM41.29 84.99h0.7v0.7h-0.7zM50.09 91h0.7v0.7h-0.7zM43.81 89.85h0.7v0.7h-0.7zM38.76 81.47h0.7v0.7h-0.7zM42.41 84.23h0.7v0.7h-0.7zM42.15 86.99h0.7v0.7h-0.7zM53.98 84.78h0.7v0.7h-0.7zM44.16 87.22h0.7v0.7h-0.7zM43.89 88.92h0.7v0.7h-0.7zM49.86 83.27h0.7v0.7h-0.7zM44.53 85.81h0.7v0.7h-0.7zM45.18 82.52h0.7v0.7h-0.7zM38.2 80.48h0.7v0.7h-0.7zM45.73 87h0.7v0.7h-0.7zM44.24 80.35h0.7v0.7h-0.7zM42.77 84.54h0.7v0.7h-0.7zM39.33 84.12h0.7v0.7h-0.7zM46.3 87.91h0.7v0.7h-0.7zM43.93 87.84h0.7v0.7h-0.7zM42.01 86.69h0.7v0.7h-0.7zM44.13 87.94h0.7v0.7h-0.7zM56.92 73.6h0.7v0.7h-0.7zM55.66 73.05h0.7v0.7h-0.7zM68.09 63.48h0.7v0.7h-0.7zM63.82 75.34h0.7v0.7h-0.7zM60.48 63.98h0.7v0.7h-0.7zM62.12 71.54h0.7v0.7h-0.7zM68.16 66.55h0.7v0.7h-0.7zM58.51 67.72h0.7v0.7h-0.7zM54.29 78.21h0.7v0.7h-0.7zM57.67 69.28h0.7v0.7h-0.7zM55.07 74.69h0.7v0.7h-0.7zM58.42 73.78h0.7v0.7h-0.7zM53.85 72.78h0.7v0.7h-0.7zM65.95 70.17h0.7v0.7h-0.7zM59.05 75.78h0.7v0.7h-0.7zM60.69 72.46h0.7v0.7h-0.7zM58.07 69.84h0.7v0.7h-0.7zM61.94 72.43h0.7v0.7h-0.7zM57.5 81.25h0.7v0.7h-0.7zM70.03 66.42h0.7v0.7h-0.7zM67.48 65.06h0.7v0.7h-0.7zM54.88 74.12h0.7v0.7h-0.7zM54.24 77.67h0.7v0.7h-0.7zM58.67 74.81h0.7v0.7h-0.7zM53.35 87.33h0.7v0.7h-0.7zM67.21 62.34h0.7v0.7h-0.7zM61.33 71.01h0.7v0.7h-0.7zM58.27 71.81h0.7v0.7h-0.7zM55.36 72.68h0.7v0.7h-0.7zM58.22 72.59h0.7v0.7h-0.7zM57.2 70.47h0.7v0.7h-0.7zM57.76 73.39h0.7v0.7h-0.7zM58.02 68.72h0.7v0.7h-0.7zM61.22 73.14h0.7v0.7h-0.7zM59.34 69.95h0.7v0.7h-0.7zM54.93 75.49h0.7v0.7h-0.7zM63.66 72.6h0.7v0.7h-0.7zM55.57 73.17h0.7v0.7h-0.7zM59.51 72.02h0.7v0.7h-0.7zM52.16 76.67h0.7v0.7h-0.7zM58.38 75.15h0.7v0.7h-0.7zM50.39 77.58h0.7v0.7h-0.7zM57.25 68.96h0.7v0.7h-0.7zM58.65 73.57h0.7v0.7h-0.7zM55.04 72.3h0.7v0.7h-0.7zM56.59 73.22h0.7v0.7h-0.7zM57.3 70.42h0.7v0.7h-0.7zM58.91 65.3h0.7v0.7h-0.7zM56.76 74.37h0.7v0.7h-0.7zM60.44 67.76h0.7v0.7h-0.7zM58.73 69.86h0.7v0.7h-0.7zM64.06 72.88h0.7v0.7h-0.7zM56.64 76.22h0.7v0.7h-0.7zM55.42 79.7h0.7v0.7h-0.7zM62.76 67.65h0.7v0.7h-0.7zM53.42 79.73h0.7v0.7h-0.7zM64.56 69.76h0.7v0.7h-0.7zM57.41 66.39h0.7v0.7h-0.7zM57.36 79.26h0.7v0.7h-0.7zM54.45 81.43h0.7v0.7h-0.7zM67.06 65.61h0.7v0.7h-0.7zM61.66 67.46h0.7v0.7h-0.7zM52.04 79.31h0.7v0.7h-0.7zM56.55 74.39h0.7v0.7h-0.7zM60.21 69.85h0.7v0.7h-0.7zM59.15 73.29h0.7v0.7h-0.7zM61.08 76.69h0.7v0.7h-0.7zM59.56 71.48h0.7v0.7h-0.7zM55.39 73.44h0.7v0.7h-0.7zM63.56 67.19h0.7v0.7h-0.7zM51.77 77.8h0.7v0.7h-0.7zM56.04 73.4h0.7v0.7h-0.7zM59.88 66.21h0.7v0.7h-0.7zM59.89 71.34h0.7v0.7h-0.7zM52.54 79.33h0.7v0.7h-0.7zM58.07 74.82h0.7v0.7h-0.7zM56.16 76.22h0.7v0.7h-0.7zM48.24 79.77h0.7v0.7h-0.7zM62.9 71.45h0.7v0.7h-0.7zM56.27 72.53h0.7v0.7h-0.7zM58.06 64.62h0.7v0.7h-0.7zM55.38 78.56h0.7v0.7h-0.7zM58.28 68.54h0.7v0.7h-0.7zM52.24 85.21h0.7v0.7h-0.7zM56.41 71.22h0.7v0.7h-0.7zM59.5 74.78h0.7v0.7h-0.7zM48.55 88.06h0.7v0.7h-0.7zM56.61 66.32h0.7v0.7h-0.7zM57.33 66.68h0.7v0.7h-0.7zM63.17 68.62h0.7v0.7h-0.7zM65.97 61.45h0.7v0.7h-0.7zM59.57 75.27h0.7v0.7h-0.7zM53.38 75.42h0.7v0.7h-0.7zM55.76 75.19h0.7v0.7h-0.7zM53.8 79.62h0.7v0.7h-0.7zM59.97 70.97h0.7v0.7h-0.7zM64.15 64.64h0.7v0.7h-0.7zM62.04 66.18h0.7v0.7h-0.7zM56.96 66.49h0.7v0.7h-0.7zM58.01 72.23h0.7v0.7h-0.7zM54.18 74.87h0.7v0.7h-0.7zM54.6 73.96h0.7v0.7h-0.7zM46.93 83.19h0.7v0.7h-0.7zM54.12 75.28h0.7v0.7h-0.7zM52.7 78.43h0.7v0.7h-0.7zM60.38 69.24h0.7v0.7h-0.7zM58.04 78.24h0.7v0.7h-0.7zM63.49 70.31h0.7v0.7h-0.7zM61.82 67.3h0.7v0.7h-0.7zM59.12 76.04h0.7v0.7h-0.7zM54.89 76h0.7v0.7h-0.7zM59.85 72.29h0.7v0.7h-0.7zM58.24 76.54h0.7v0.7h-0.7zM58.15 75.61h0.7v0.7h-0.7zM63.38 69.4h0.7v0.7h-0.7zM58.38 67.93h0.7v0.7h-0.7zM50.67 78.84h0.7v0.7h-0.7zM62.47 73.75h0.7v0.7h-0.7zM52.86 80h0.7v0.7h-0.7zM52.41 76.41h0.7v0.7h-0.7zM57.67 76.04h0.7v0.7h-0.7zM60.72 74.48h0.7v0.7h-0.7zM55.01 79.84h0.7v0.7h-0.7zM61.63 69.08h0.7v0.7h-0.7zM58.45 70.2h0.7v0.7h-0.7zM52.03 78.13h0.7v0.7h-0.7zM60.39 81.6h0.7v0.7h-0.7zM58.64 78.7h0.7v0.7h-0.7zM58.98 73.05h0.7v0.7h-0.7zM59.17 68.53h0.7v0.7h-0.7zM62.17 69.67h0.7v0.7h-0.7zM52.17 81.93h0.7v0.7h-0.7zM60.75 71.58h0.7v0.7h-0.7zM63.49 65.05h0.7v0.7h-0.7zM61.16 72.28h0.7v0.7h-0.7zM55.98 79.96h0.7v0.7h-0.7zM48.74 78.35h0.7v0.7h-0.7zM57.61 69.08h0.7v0.7h-0.7zM53.79 71.25h0.7v0.7h-0.7zM55.58 71.22h0.7v0.7h-0.7zM55.97 69.2h0.7v0.7h-0.7zM58.9 70.85h0.7v0.7h-0.7zM57.64 73.07h0.7v0.7h-0.7zM55.48 70.59h0.7v0.7h-0.7zM46.56 86.08h0.7v0.7h-0.7zM52.6 77.29h0.7v0.7h-0.7zM55.45 68.01h0.7v0.7h-0.7zM53.03 76.18h0.7v0.7h-0.7zM53.6 79.22h0.7v0.7h-0.7zM55.3 72.78h0.7v0.7h-0.7zM54.85 79.69h0.7v0.7h-0.7zM55.81 77.72h0.7v0.7h-0.7zM55.73 68.06h0.7v0.7h-0.7zM52.86 78.8h0.7v0.7h-0.7zM60.49 73.17h0.7v0.7h-0.7zM62.96 71.36h0.7v0.7h-0.7zM55.48 74.96h0.7v0.7h-0.7zM60 68.98h0.7v0.7h-0.7zM58.93 65.61h0.7v0.7h-0.7zM59.97 70.01h0.7v0.7h-0.7zM50.98 84.79h0.7v0.7h-0.7zM58.88 72.02h0.7v0.7h-0.7zM51.97 77.96h0.7v0.7h-0.7zM62.37 64.7h0.7v0.7h-0.7zM40.93 88.98h0.7v0.7h-0.7zM52.1 79.13h0.7v0.7h-0.7zM54.03 73.85h0.7v0.7h-0.7zM55.94 79.41h0.7v0.7h-0.7zM55.13 83.9h0.7v0.7h-0.7zM53.03 74.28h0.7v0.7h-0.7zM61.98 70.62h0.7v0.7h-0.7zM54.49 79.88h0.7v0.7h-0.7zM47.8 80.9h0.7v0.7h-0.7zM61.83 67.56h0.7v0.7h-0.7zM52.92 80.74h0.7v0.7h-0.7zM61.39 68.98h0.7v0.7h-0.7zM49.07 81.73h0.7v0.7h-0.7zM60.79 72.78h0.7v0.7h-0.7zM64.96 64.02h0.7v0.7h-0.7zM55.36 75.79h0.7v0.7h-0.7zM60.84 65.99h0.7v0.7h-0.7zM57.73 62.41h0.7v0.7h-0.7zM59.6 68.45h0.7v0.7h-0.7zM60.81 72.44h0.7v0.7h-0.7zM52.26 79.13h0.7v0.7h-0.7zM59.68 73.33h0.7v0.7h-0.7zM51.57 76.34h0.7v0.7h-0.7zM54.21 87.25h0.7v0.7h-0.7zM56.24 74.06h0.7v0.7h-0.7zM52.9 82.39h0.7v0.7h-0.7zM58.01 78.57h0.7v0.7h-0.7zM61.2 69.38h0.7v0.7h-0.7zM58.45 68.04h0.7v0.7h-0.7zM54.98 74.1h0.7v0.7h-0.7zM52.09 79.73h0.7v0.7h-0.7zM59.68 76.67h0.7v0.7h-0.7zM41.8 88.72h0.7v0.7h-0.7zM52.65 77.19h0.7v0.7h-0.7zM60.1 72.13h0.7v0.7h-0.7zM56.7 72.55h0.7v0.7h-0.7zM60.32 71.7h0.7v0.7h-0.7zM49.08 82.05h0.7v0.7h-0.7zM49.29 78.19h0.7v0.7h-0.7zM58.25 72.89h0.7v0.7h-0.7zM56.28 71.44h0.7v0.7h-0.7zM54.85 72.92h0.7v0.7h-0.7zM60.48 72.82h0.7v0.7h-0.7zM67.5 67.1h0.7v0.7h-0.7zM53.15 76.65h0.7v0.7h-0.7zM54.07 78.61h0.7v0.7h-0.7zM67.38 65.04h0.7v0.7h-0.7zM45.61 82.08h0.7v0.7h-0.7zM52.96 80.7h0.7v0.7h-0.7zM58.09 74.01h0.7v0.7h-0.7zM63.53 63.38h0.7v0.7h-0.7zM57.7 81.01h0.7v0.7h-0.7zM57.45 70.49h0.7v0.7h-0.7zM45.82 80.79h0.7v0.7h-0.7zM47.15 85.55h0.7v0.7h-0.7zM59.63 74.99h0.7v0.7h-0.7zM55.55 72.99h0.7v0.7h-0.7zM58.03 80.38h0.7v0.7h-0.7zM50.26 82.42h0.7v0.7h-0.7zM58.81 74.43h0.7v0.7h-0.7zM56.74 76.33h0.7v0.7h-0.7zM60.71 69.26h0.7v0.7h-0.7zM55.17 75.41h0.7v0.7h-0.7zM52.95 77.86h0.7v0.7h-0.7zM56.62 75.34h0.7v0.7h-0.7zM65.79 69.22h0.7v0.7h-0.7zM56.77 76.71h0.7v0.7h-0.7zM60.25 73.37h0.7v0.7h-0.7zM58.11 73.85h0.7v0.7h-0.7zM53.96 74.44h0.7v0.7h-0.7zM63.78 71.47h0.7v0.7h-0.7zM61.19 71.01h0.7v0.7h-0.7zM57.76 71.43h0.7v0.7h-0.7zM51.15 83.35h0.7v0.7h-0.7zM57.27 71.58h0.7v0.7h-0.7zM55.86 80.4h0.7v0.7h-0.7zM53.2 85.33h0.7v0.7h-0.7zM64.87 74.44h0.7v0.7h-0.7zM54.38 76.97h0.7v0.7h-0.7zM55.63 76.24h0.7v0.7h-0.7zM55.14 73.24h0.7v0.7h-0.7zM60.58 66.9h0.7v0.7h-0.7zM56.4 76.93h0.7v0.7h-0.7zM54.34 75.38h0.7v0.7h-0.7zM58.31 71.13h0.7v0.7h-0.7zM51.95 79.41h0.7v0.7h-0.7zM59.89 77.5h0.7v0.7h-0.7zM54.69 80.52h0.7v0.7h-0.7zM53.43 76.73h0.7v0.7h-0.7zM56.63 75.56h0.7v0.7h-0.7zM64.62 72.29h0.7v0.7h-0.7zM57.37 78.89h0.7v0.7h-0.7zM63.36 70.03h0.7v0.7h-0.7zM56 78.75h0.7v0.7h-0.7zM57.73 74.63h0.7v0.7h-0.7zM57.64 75.95h0.7v0.7h-0.7zM64.49 70h0.7v0.7h-0.7zM58.56 76.21h0.7v0.7h-0.7zM61.9 64.8h0.7v0.7h-0.7zM61.21 64.02h0.7v0.7h-0.7zM60.99 71.87h0.7v0.7h-0.7zM64.41 66.74h0.7v0.7h-0.7zM53.88 74.48h0.7v0.7h-0.7zM53.63 80.92h0.7v0.7h-0.7zM55.08 73.43h0.7v0.7h-0.7zM58.29 69.59h0.7v0.7h-0.7zM54.73 74.85h0.7v0.7h-0.7zM67.45 67.93h0.7v0.7h-0.7zM53.75 71.58h0.7v0.7h-0.7zM58.83 72.27h0.7v0.7h-0.7zM60.1 72.77h0.7v0.7h-0.7zM57.93 76.65h0.7v0.7h-0.7zM61.5 69.77h0.7v0.7h-0.7zM54.82 74.66h0.7v0.7h-0.7zM58.32 68.23h0.7v0.7h-0.7zM55.35 72.99h0.7v0.7h-0.7zM52.7 81.34h0.7v0.7h-0.7zM57.46 73.69h0.7v0.7h-0.7zM58.33 66.67h0.7v0.7h-0.7zM57.78 74.32h0.7v0.7h-0.7zM58.95 67.57h0.7v0.7h-0.7zM61 70.38h0.7v0.7h-0.7zM65.54 68.83h0.7v0.7h-0.7zM64.05 74.5h0.7v0.7h-0.7zM56.67 72.78h0.7v0.7h-0.7zM54.2 73.55h0.7v0.7h-0.7zM53.71 70.42h0.7v0.7h-0.7zM57.97 74.64h0.7v0.7h-0.7zM61.07 68.06h0.7v0.7h-0.7zM62.19 65.6h0.7v0.7h-0.7zM53.25 70.94h0.7v0.7h-0.7zM52.69 75.86h0.7v0.7h-0.7zM64.77 67.27h0.7v0.7h-0.7zM53.89 79.66h0.7v0.7h-0.7zM59.07 70.81h0.7v0.7h-0.7zM57.01 72.88h0.7v0.7h-0.7zM51.85 73.12h0.7v0.7h-0.7zM59.57 76.08h0.7v0.7h-0.7zM62.97 66.2h0.7v0.7h-0.7zM53.97 76.71h0.7v0.7h-0.7zM61.93 69.81h0.7v0.7h-0.7zM55.75 76.89h0.7v0.7h-0.7zM57.62 75.35h0.7v0.7h-0.7zM52.99 72.98h0.7v0.7h-0.7zM59.19 74.5h0.7v0.7h-0.7zM52.66 78.6h0.7v0.7h-0.7zM60.46 68.69h0.7v0.7h-0.7zM58.64 79.99h0.7v0.7h-0.7zM62.93 71.27h0.7v0.7h-0.7zM56.65 80.73h0.7v0.7h-0.7zM49.59 80.51h0.7v0.7h-0.7zM63.12 72.2h0.7v0.7h-0.7zM52.36 76.81h0.7v0.7h-0.7zM54.65 69.35h0.7v0.7h-0.7zM61.23 71.4h0.7v0.7h-0.7zM56.65 76.52h0.7v0.7h-0.7zM61.32 70.33h0.7v0.7h-0.7zM62.55 73.55h0.7v0.7h-0.7zM55.82 76.03h0.7v0.7h-0.7zM57.28 77.7h0.7v0.7h-0.7zM56.7 76.22h0.7v0.7h-0.7zM58.19 72.96h0.7v0.7h-0.7zM64.48 65.23h0.7v0.7h-0.7zM64.95 68.17h0.7v0.7h-0.7zM62.67 66.99h0.7v0.7h-0.7zM62.78 70.37h0.7v0.7h-0.7zM55.46 76.85h0.7v0.7h-0.7zM56.9 74.05h0.7v0.7h-0.7zM61.54 66.16h0.7v0.7h-0.7zM47.24 78.55h0.7v0.7h-0.7zM54.41 74.57h0.7v0.7h-0.7zM58.63 74.37h0.7v0.7h-0.7zM65.37 65.71h0.7v0.7h-0.7zM58.03 70.1h0.7v0.7h-0.7zM62.46 73.01h0.7v0.7h-0.7zM59.37 63.95h0.7v0.7h-0.7zM64.17 71.93h0.7v0.7h-0.7zM58.1 67.14h0.7v0.7h-0.7zM57.34 75.92h0.7v0.7h-0.7zM57.69 70.2h0.7v0.7h-0.7zM55.64 79.29h0.7v0.7h-0.7zM54.68 82.15h0.7v0.7h-0.7zM58.15 73.9h0.7v0.7h-0.7zM50.87 78.79h0.7v0.7h-0.7zM57.58 67.83h0.7v0.7h-0.7zM63.41 61.45h0.7v0.7h-0.7zM52.54 79.31h0.7v0.7h-0.7zM60.87 72.45h0.7v0.7h-0.7zM55.58 74.9h0.7v0.7h-0.7zM55.45 73.66h0.7v0.7h-0.7zM48.67 87.19h0.7v0.7h-0.7zM58.83 72.58h0.7v0.7h-0.7zM55.38 76.87h0.7v0.7h-0.7zM57.3 73.44h0.7v0.7h-0.7zM58.82 65.47h0.7v0.7h-0.7zM56.54 70.56h0.7v0.7h-0.7zM59 77.46h0.7v0.7h-0.7zM52.85 78.42h0.7v0.7h-0.7zM56.84 77.84h0.7v0.7h-0.7zM50.31 75.32h0.7v0.7h-0.7zM58.95 70.51h0.7v0.7h-0.7zM58.21 76.78h0.7v0.7h-0.7zM53.14 77.05h0.7v0.7h-0.7zM58.88 73.49h0.7v0.7h-0.7zM57.31 77.63h0.7v0.7h-0.7zM65.97 62.32h0.7v0.7h-0.7zM61.25 61.26h0.7v0.7h-0.7zM62.65 66.34h0.7v0.7h-0.7zM57.43 72.3h0.7v0.7h-0.7zM52.48 74.38h0.7v0.7h-0.7zM58.31 77.49h0.7v0.7h-0.7zM61.54 67.58h0.7v0.7h-0.7zM54.01 74.82h0.7v0.7h-0.7zM55.94 82.1h0.7v0.7h-0.7zM60.45 70.58h0.7v0.7h-0.7zM53.56 74.12h0.7v0.7h-0.7zM64.39 68.61h0.7v0.7h-0.7zM55.43 79.6h0.7v0.7h-0.7zM54.14 79.75h0.7v0.7h-0.7zM52.76 77.32h0.7v0.7h-0.7zM60.35 71.89h0.7v0.7h-0.7zM60.1 67.38h0.7v0.7h-0.7zM66.52 68.31h0.7v0.7h-0.7zM58.33 74.31h0.7v0.7h-0.7zM54.01 76.9h0.7v0.7h-0.7zM52.23 79.84h0.7v0.7h-0.7zM60.84 74.78h0.7v0.7h-0.7zM62.93 70.4h0.7v0.7h-0.7zM55.59 74.83h0.7v0.7h-0.7zM56.51 75.46h0.7v0.7h-0.7zM51 83.82h0.7v0.7h-0.7zM50.08 80h0.7v0.7h-0.7zM56.63 72.55h0.7v0.7h-0.7zM64.17 65.54h0.7v0.7h-0.7zM66.17 68.07h0.7v0.7h-0.7zM56.21 76.49h0.7v0.7h-0.7zM62.22 66.86h0.7v0.7h-0.7zM56.82 72.17h0.7v0.7h-0.7zM57.08 72.64h0.7v0.7h-0.7zM59.72 74.76h0.7v0.7h-0.7zM63.49 67.19h0.7v0.7h-0.7zM59.94 73.96h0.7v0.7h-0.7zM54.32 73.12h0.7v0.7h-0.7zM60.32 66.76h0.7v0.7h-0.7zM59.52 67.55h0.7v0.7h-0.7zM63.08 63.2h0.7v0.7h-0.7zM63.81 71.99h0.7v0.7h-0.7zM56.33 80.45h0.7v0.7h-0.7zM50.8 74.45h0.7v0.7h-0.7zM61.79 71.27h0.7v0.7h-0.7zM51.93 70.29h0.7v0.7h-0.7zM56.7 73.25h0.7v0.7h-0.7zM55.39 74.8h0.7v0.7h-0.7zM49.06 80.96h0.7v0.7h-0.7zM67.81 67.61h0.7v0.7h-0.7zM54.68 74.02h0.7v0.7h-0.7zM61.12 73.39h0.7v0.7h-0.7zM58.29 68.18h0.7v0.7h-0.7zM58.43 72.97h0.7v0.7h-0.7zM65.67 68.73h0.7v0.7h-0.7zM61.94 73.05h0.7v0.7h-0.7zM58.76 77.89h0.7v0.7h-0.7zM56.49 76.15h0.7v0.7h-0.7zM59.57 67.69h0.7v0.7h-0.7zM51.31 73.9h0.7v0.7h-0.7zM58.08 72.64h0.7v0.7h-0.7zM57.09 75.85h0.7v0.7h-0.7zM48.74 83.38h0.7v0.7h-0.7zM57.36 72.65h0.7v0.7h-0.7zM64.06 72.66h0.7v0.7h-0.7zM53.9 74.04h0.7v0.7h-0.7zM55.18 76.49h0.7v0.7h-0.7zM58.3 69.33h0.7v0.7h-0.7zM59.69 67.13h0.7v0.7h-0.7zM61.71 70.33h0.7v0.7h-0.7zM63.46 74.88h0.7v0.7h-0.7zM56.1 74.46h0.7v0.7h-0.7zM61.08 72.69h0.7v0.7h-0.7zM52.5 80.23h0.7v0.7h-0.7zM55.63 78.01h0.7v0.7h-0.7zM63.24 67.16h0.7v0.7h-0.7zM57.41 74.3h0.7v0.7h-0.7zM46.77 88.62h0.7v0.7h-0.7zM60.12 71.14h0.7v0.7h-0.7zM54.5 74.15h0.7v0.7h-0.7zM59.04 76.34h0.7v0.7h-0.7zM59.61 76.2h0.7v0.7h-0.7zM46.05 84.8h0.7v0.7h-0.7zM58.6 72.19h0.7v0.7h-0.7zM49.42 80.19h0.7v0.7h-0.7zM60.23 65.51h0.7v0.7h-0.7zM51.36 76.34h0.7v0.7h-0.7zM56.43 77.15h0.7v0.7h-0.7zM56.14 67.37h0.7v0.7h-0.7zM62.4 65.68h0.7v0.7h-0.7zM58.2 79.01h0.7v0.7h-0.7zM54.84 71.84h0.7v0.7h-0.7zM53.51 75.3h0.7v0.7h-0.7zM52.72 77.68h0.7v0.7h-0.7zM61.77 69.96h0.7v0.7h-0.7zM57.04 84.56h0.7v0.7h-0.7zM53.64 78.33h0.7v0.7h-0.7zM59.06 74.61h0.7v0.7h-0.7zM57 75.79h0.7v0.7h-0.7zM66.35 63.79h0.7v0.7h-0.7zM53.66 79.12h0.7v0.7h-0.7zM53.5 76.65h0.7v0.7h-0.7zM58.91 73.17h0.7v0.7h-0.7zM57.92 76.23h0.7v0.7h-0.7zM54.26 72.25h0.7v0.7h-0.7zM60.43 68.78h0.7v0.7h-0.7zM61.27 66.74h0.7v0.7h-0.7zM60.45 71.33h0.7v0.7h-0.7zM43.59 83.68h0.7v0.7h-0.7zM55.53 81.06h0.7v0.7h-0.7zM51.44 83.86h0.7v0.7h-0.7zM62.93 69.2h0.7v0.7h-0.7zM59.35 69.52h0.7v0.7h-0.7zM57.88 73.92h0.7v0.7h-0.7zM60.56 72.69h0.7v0.7h-0.7zM55.33 73.31h0.7v0.7h-0.7zM55.95 76.81h0.7v0.7h-0.7zM48.31 79.22h0.7v0.7h-0.7zM54.77 74.52h0.7v0.7h-0.7zM51.39 70.38h0.7v0.7h-0.7zM55.62 74.68h0.7v0.7h-0.7zM56.98 66.6h0.7v0.7h-0.7zM57.13 75.72h0.7v0.7h-0.7zM61.76 73.18h0.7v0.7h-0.7zM59.88 66.82h0.7v0.7h-0.7zM59.49 69.96h0.7v0.7h-0.7zM57.07 79.8h0.7v0.7h-0.7zM53.3 75.04h0.7v0.7h-0.7zM54.22 74.01h0.7v0.7h-0.7zM62.36 69.4h0.7v0.7h-0.7zM64.05 67.6h0.7v0.7h-0.7zM56.93 78.12h0.7v0.7h-0.7zM53.93 75.81h0.7v0.7h-0.7zM56.88 74.35h0.7v0.7h-0.7zM61.29 66.89h0.7v0.7h-0.7zM58.9 71.8h0.7v0.7h-0.7zM50.25 77.6h0.7v0.7h-0.7zM57.35 75.2h0.7v0.7h-0.7zM59.72 72.79h0.7v0.7h-0.7zM56.86 72.53h0.7v0.7h-0.7zM57.38 69.84h0.7v0.7h-0.7zM51.32 79.27h0.7v0.7h-0.7zM50.62 79.37h0.7v0.7h-0.7zM53.37 76.1h0.7v0.7h-0.7zM55.81 72.39h0.7v0.7h-0.7zM52.53 72.66h0.7v0.7h-0.7zM56.44 71.36h0.7v0.7h-0.7zM53.85 66.92h0.7v0.7h-0.7zM54.64 77.68h0.7v0.7h-0.7zM46.73 84.4h0.7v0.7h-0.7zM58.08 73.23h0.7v0.7h-0.7zM51.74 80.93h0.7v0.7h-0.7zM56.28 71.19h0.7v0.7h-0.7zM60.49 69.91h0.7v0.7h-0.7zM56.73 72.67h0.7v0.7h-0.7zM59.95 71.08h0.7v0.7h-0.7zM63.06 68.89h0.7v0.7h-0.7zM54.52 76.04h0.7v0.7h-0.7zM60.61 68.57h0.7v0.7h-0.7zM60.07 72.56h0.7v0.7h-0.7zM52.36 70.49h0.7v0.7h-0.7zM58.45 73.23h0.7v0.7h-0.7zM56.63 71.6h0.7v0.7h-0.7zM62.26 67.57h0.7v0.7h-0.7zM53.56 75.25h0.7v0.7h-0.7zM56.93 70h0.7v0.7h-0.7zM57.13 81.54h0.7v0.7h-0.7zM64.93 69.06h0.7v0.7h-0.7zM64.29 68.04h0.7v0.7h-0.7zM52.77 83.44h0.7v0.7h-0.7zM63.57 68.46h0.7v0.7h-0.7zM51.73 84.81h0.7v0.7h-0.7zM62.24 66.23h0.7v0.7h-0.7zM59.5 74.19h0.7v0.7h-0.7zM59.22 75.73h0.7v0.7h-0.7zM59.15 74.26h0.7v0.7h-0.7zM55.06 70.64h0.7v0.7h-0.7zM59.36 83.47h0.7v0.7h-0.7zM61.14 74.36h0.7v0.7h-0.7zM65.48 70.96h0.7v0.7h-0.7zM58.68 69.89h0.7v0.7h-0.7zM53.94 70.22h0.7v0.7h-0.7zM58.43 75.9h0.7v0.7h-0.7zM48.88 84.07h0.7v0.7h-0.7zM63.44 71.81h0.7v0.7h-0.7zM52.41 76.8h0.7v0.7h-0.7zM47.76 80.69h0.7v0.7h-0.7zM63.64 74.42h0.7v0.7h-0.7zM55.34 81.23h0.7v0.7h-0.7zM58.34 70.65h0.7v0.7h-0.7zM61.86 58.9h0.7v0.7h-0.7zM57.63 74.18h0.7v0.7h-0.7zM69.78 66.39h0.7v0.7h-0.7zM67.19 62.99h0.7v0.7h-0.7zM64.18 71.12h0.7v0.7h-0.7zM60.32 71.67h0.7v0.7h-0.7zM55.96 73.69h0.7v0.7h-0.7zM56.08 82.58h0.7v0.7h-0.7zM51.69 72.15h0.7v0.7h-0.7zM58.54 72.19h0.7v0.7h-0.7zM61.68 75.69h0.7v0.7h-0.7zM56.55 73.56h0.7v0.7h-0.7zM54.34 77.01h0.7v0.7h-0.7zM56.06 75.92h0.7v0.7h-0.7zM71.28 59.32h0.7v0.7h-0.7zM57.59 80.79h0.7v0.7h-0.7zM62.66 70.76h0.7v0.7h-0.7zM62.04 71.47h0.7v0.7h-0.7zM63 72.65h0.7v0.7h-0.7zM64.26 70.97h0.7v0.7h-0.7zM55.4 75.88h0.7v0.7h-0.7zM56.28 78.56h0.7v0.7h-0.7zM60.08 68.77h0.7v0.7h-0.7zM64.93 75.11h0.7v0.7h-0.7zM60.54 65.76h0.7v0.7h-0.7zM58.32 75h0.7v0.7h-0.7zM58.09 74.32h0.7v0.7h-0.7zM63.05 68.44h0.7v0.7h-0.7zM54.27 79.91h0.7v0.7h-0.7zM57.31 74.15h0.7v0.7h-0.7zM52.5 73.88h0.7v0.7h-0.7zM51.62 78.84h0.7v0.7h-0.7zM47.87 74.05h0.7v0.7h-0.7zM60.09 66.1h0.7v0.7h-0.7zM55.48 77.84h0.7v0.7h-0.7zM49.98 87.21h0.7v0.7h-0.7zM55.54 78.26h0.7v0.7h-0.7zM56.07 76.3h0.7v0.7h-0.7zM57.94 73h0.7v0.7h-0.7zM47.07 79.73h0.7v0.7h-0.7zM60.01 76.05h0.7v0.7h-0.7zM56.23 76.98h0.7v0.7h-0.7zM59.1 73.54h0.7v0.7h-0.7zM58.79 66.28h0.7v0.7h-0.7zM58.31 71.9h0.7v0.7h-0.7zM54.57 73.56h0.7v0.7h-0.7zM52.26 75.52h0.7v0.7h-0.7zM57.69 82.92h0.7v0.7h-0.7zM64.62 65.43h0.7v0.7h-0.7zM58.74 68.34h0.7v0.7h-0.7zM42.4 83.69h0.7v0.7h-0.7zM60.83 75.23h0.7v0.7h-0.7zM55.42 72.03h0.7v0.7h-0.7zM54.59 72.98h0.7v0.7h-0.7zM51.23 79.75h0.7v0.7h-0.7zM54.28 74.04h0.7v0.7h-0.7zM52.03 76.16h0.7v0.7h-0.7zM61.14 74.71h0.7v0.7h-0.7zM60.88 78.24h0.7v0.7h-0.7zM51.26 81.66h0.7v0.7h-0.7zM52.36 78.73h0.7v0.7h-0.7zM58.99 73.95h0.7v0.7h-0.7zM61.17 67.2h0.7v0.7h-0.7zM51.95 79.1h0.7v0.7h-0.7zM57.4 70.93h0.7v0.7h-0.7zM64.44 72.06h0.7v0.7h-0.7zM52.24 80.88h0.7v0.7h-0.7zM58.09 65.45h0.7v0.7h-0.7zM57.93 72.14h0.7v0.7h-0.7zM54.05 82.48h0.7v0.7h-0.7zM57.5 71.67h0.7v0.7h-0.7zM60.58 72.46h0.7v0.7h-0.7zM61.82 70.81h0.7v0.7h-0.7zM56.97 69.59h0.7v0.7h-0.7zM55.98 75.72h0.7v0.7h-0.7zM49.99 90.24h0.7v0.7h-0.7zM53.91 73.54h0.7v0.7h-0.7zM50.37 82.57h0.7v0.7h-0.7zM56.52 72.37h0.7v0.7h-0.7zM54.07 74h0.7v0.7h-0.7zM54.18 76.9h0.7v0.7h-0.7zM56.1 77.7h0.7v0.7h-0.7zM57.16 74.4h0.7v0.7h-0.7zM61.61 73.7h0.7v0.7h-0.7zM60.45 71.02h0.7v0.7h-0.7zM55.28 72.93h0.7v0.7h-0.7zM57.37 76.27h0.7v0.7h-0.7zM57.71 71.77h0.7v0.7h-0.7zM49.01 77.28h0.7v0.7h-0.7zM60.8 73.69h0.7v0.7h-0.7zM56.45 69.42h0.7v0.7h-0.7zM57.03 74.88h0.7v0.7h-0.7zM54.32 78.45h0.7v0.7h-0.7zM55.07 73.06h0.7v0.7h-0.7zM53.85 80.77h0.7v0.7h-0.7zM57.3 70.32h0.7v0.7h-0.7zM54.95 79.81h0.7v0.7h-0.7zM59.41 70.15h0.7v0.7h-0.7zM63.61 65.44h0.7v0.7h-0.7zM55.16 80.35h0.7v0.7h-0.7zM57.37 74.97h0.7v0.7h-0.7zM55.75 71.64h0.7v0.7h-0.7zM52.17 78.82h0.7v0.7h-0.7zM61.46 65.14h0.7v0.7h-0.7zM63.6 67.41h0.7v0.7h-0.7zM53.36 79.23h0.7v0.7h-0.7zM58.16 69.3h0.7v0.7h-0.7zM49.28 84.22h0.7v0.7h-0.7zM53.7 79.51h0.7v0.7h-0.7zM49.25 82.35h0.7v0.7h-0.7zM51.31 74.87h0.7v0.7h-0.7zM56.82 74.93h0.7v0.7h-0.7zM52.93 74.18h0.7v0.7h-0.7zM55.06 69.57h0.7v0.7h-0.7zM60.67 71.78h0.7v0.7h-0.7zM66.18 67.01h0.7v0.7h-0.7zM59.48 72.26h0.7v0.7h-0.7zM55.1 71.16h0.7v0.7h-0.7zM64.6 67.43h0.7v0.7h-0.7zM54.13 72.95h0.7v0.7h-0.7zM64.7 67.34h0.7v0.7h-0.7zM53.83 80.25h0.7v0.7h-0.7zM65.36 64.47h0.7v0.7h-0.7zM58.38 70.91h0.7v0.7h-0.7zM56.92 78.27h0.7v0.7h-0.7zM70.55 59.09h0.7v0.7h-0.7zM58.49 75.41h0.7v0.7h-0.7zM57.61 76.16h0.7v0.7h-0.7zM59.03 67.88h0.7v0.7h-0.7zM52.89 78.46h0.7v0.7h-0.7zM61.49 70.01h0.7v0.7h-0.7zM60.06 65.32h0.7v0.7h-0.7zM58.37 70.13h0.7v0.7h-0.7zM58.53 73.56h0.7v0.7h-0.7zM53.03 77.72h0.7v0.7h-0.7zM53.16 79.46h0.7v0.7h-0.7zM53.02 76.71h0.7v0.7h-0.7zM57.17 71.38h0.7v0.7h-0.7zM61.07 67h0.7v0.7h-0.7zM61.57 69.95h0.7v0.7h-0.7zM52.78 78.04h0.7v0.7h-0.7zM53.33 76.86h0.7v0.7h-0.7zM59.82 77.81h0.7v0.7h-0.7zM58.73 78.09h0.7v0.7h-0.7zM56.88 69.21h0.7v0.7h-0.7zM49.16 85.58h0.7v0.7h-0.7zM50.58 84.12h0.7v0.7h-0.7zM62.52 69.28h0.7v0.7h-0.7zM56.15 74.07h0.7v0.7h-0.7zM58 71.77h0.7v0.7h-0.7zM54.58 75.42h0.7v0.7h-0.7zM61.19 66.93h0.7v0.7h-0.7zM56.9 69.79h0.7v0.7h-0.7zM51.94 74.59h0.7v0.7h-0.7zM57.97 75.57h0.7v0.7h-0.7zM57.84 71.24h0.7v0.7h-0.7zM59.38 70.03h0.7v0.7h-0.7zM59.56 72.19h0.7v0.7h-0.7zM55.06 66.82h0.7v0.7h-0.7zM53.55 80.94h0.7v0.7h-0.7zM61.3 77.73h0.7v0.7h-0.7zM55.48 73.69h0.7v0.7h-0.7zM64.75 67.36h0.7v0.7h-0.7zM66.34 65.38h0.7v0.7h-0.7zM58.02 75.66h0.7v0.7h-0.7zM53.39 76.48h0.7v0.7h-0.7zM54.78 75.75h0.7v0.7h-0.7zM59.82 69.02h0.7v0.7h-0.7zM57.89 71.15h0.7v0.7h-0.7zM55.96 64.75h0.7v0.7h-0.7zM56.96 74.76h0.7v0.7h-0.7zM54.94 80.27h0.7v0.7h-0.7zM60.82 74.6h0.7v0.7h-0.7zM62.7 70.02h0.7v0.7h-0.7zM54.83 72.4h0.7v0.7h-0.7zM55.72 73.78h0.7v0.7h-0.7zM57.66 71.55h0.7v0.7h-0.7zM67.15 56.43h0.7v0.7h-0.7zM61.48 67.18h0.7v0.7h-0.7zM58.24 76.18h0.7v0.7h-0.7zM55.22 71.48h0.7v0.7h-0.7zM58.85 71.23h0.7v0.7h-0.7zM49.34 83.54h0.7v0.7h-0.7zM51.72 77.24h0.7v0.7h-0.7zM60.06 71.72h0.7v0.7h-0.7zM60.39 78.47h0.7v0.7h-0.7zM58.08 70.5h0.7v0.7h-0.7zM58.25 72.18h0.7v0.7h-0.7zM45.4 81.28h0.7v0.7h-0.7zM55.64 83.48h0.7v0.7h-0.7zM56.22 73.91h0.7v0.7h-0.7zM57.01 77.79h0.7v0.7h-0.7zM60.83 76.19h0.7v0.7h-0.7zM63.87 72.51h0.7v0.7h-0.7zM57.72 74.67h0.7v0.7h-0.7zM55.39 75.26h0.7v0.7h-0.7zM49.24 80.69h0.7v0.7h-0.7zM52.33 76.9h0.7v0.7h-0.7zM63.03 68.2h0.7v0.7h-0.7zM64.19 69.15h0.7v0.7h-0.7zM63.2 70.83h0.7v0.7h-0.7zM56.51 77.68h0.7v0.7h-0.7zM55.17 74.14h0.7v0.7h-0.7zM66.52 71.45h0.7v0.7h-0.7zM56.73 80.98h0.7v0.7h-0.7zM59.34 68.19h0.7v0.7h-0.7zM59.33 72.83h0.7v0.7h-0.7zM58.38 71.14h0.7v0.7h-0.7zM52.24 79.6h0.7v0.7h-0.7zM62.54 70.74h0.7v0.7h-0.7zM62.31 72.21h0.7v0.7h-0.7zM53.32 78.1h0.7v0.7h-0.7zM60.79 73.55h0.7v0.7h-0.7zM59.12 73.62h0.7v0.7h-0.7zM62 76.34h0.7v0.7h-0.7zM48.43 83.73h0.7v0.7h-0.7zM68.18 62.24h0.7v0.7h-0.7zM50.18 82.34h0.7v0.7h-0.7zM50.3 79.12h0.7v0.7h-0.7zM61.65 75.28h0.7v0.7h-0.7zM60.67 72.43h0.7v0.7h-0.7zM62.08 69.04h0.7v0.7h-0.7zM53.77 77.37h0.7v0.7h-0.7zM58.37 71.46h0.7v0.7h-0.7zM54.07 76.05h0.7v0.7h-0.7zM49.37 78.87h0.7v0.7h-0.7zM56.45 73.33h0.7v0.7h-0.7zM60.3 75.64h0.7v0.7h-0.7zM58.68 72.04h0.7v0.7h-0.7zM50.62 77.24h0.7v0.7h-0.7zM57.41 70.29h0.7v0.7h-0.7zM57.25 69.71h0.7v0.7h-0.7zM57.92 72.75h0.7v0.7h-0.7zM60.88 68.17h0.7v0.7h-0.7zM56.43 75.66h0.7v0.7h-0.7zM60.9 76.03h0.7v0.7h-0.7zM55.43 73.82h0.7v0.7h-0.7zM57.07 75.78h0.7v0.7h-0.7zM59.77 73.55h0.7v0.7h-0.7zM56.45 84.09h0.7v0.7h-0.7zM65.04 64.8h0.7v0.7h-0.7zM52.8 79.44h0.7v0.7h-0.7zM55.02 67.86h0.7v0.7h-0.7zM54.78 71h0.7v0.7h-0.7zM61.99 73.63h0.7v0.7h-0.7zM58.94 66.16h0.7v0.7h-0.7zM64.91 68.5h0.7v0.7h-0.7zM56.95 76.02h0.7v0.7h-0.7zM63.14 65.82h0.7v0.7h-0.7zM56.38 72.65h0.7v0.7h-0.7zM58.23 64.51h0.7v0.7h-0.7zM61.54 65.23h0.7v0.7h-0.7zM58.27 66.46h0.7v0.7h-0.7zM52.51 76.91h0.7v0.7h-0.7zM57.87 66.93h0.7v0.7h-0.7zM58.79 69.62h0.7v0.7h-0.7zM62.04 67.15h0.7v0.7h-0.7zM59.18 70.93h0.7v0.7h-0.7zM64.23 64.48h0.7v0.7h-0.7zM61.13 76.89h0.7v0.7h-0.7zM59.11 74.27h0.7v0.7h-0.7zM54.83 77.29h0.7v0.7h-0.7zM48.33 84.33h0.7v0.7h-0.7zM52.01 74.06h0.7v0.7h-0.7zM53.8 82.04h0.7v0.7h-0.7zM56.41 68.99h0.7v0.7h-0.7zM63.68 63.83h0.7v0.7h-0.7zM56.44 75.64h0.7v0.7h-0.7zM49.77 76.17h0.7v0.7h-0.7zM56.64 78.95h0.7v0.7h-0.7zM58.46 66.42h0.7v0.7h-0.7zM62.53 67.9h0.7v0.7h-0.7zM59.66 71.23h0.7v0.7h-0.7zM57.33 69.91h0.7v0.7h-0.7zM52.43 76.61h0.7v0.7h-0.7zM57.14 76.25h0.7v0.7h-0.7zM55.48 81.85h0.7v0.7h-0.7zM53.78 75.5h0.7v0.7h-0.7zM61.22 70.91h0.7v0.7h-0.7zM54.09 73.33h0.7v0.7h-0.7zM50.37 75.56h0.7v0.7h-0.7zM64.26 69.92h0.7v0.7h-0.7zM66.15 65.54h0.7v0.7h-0.7zM60.3 73.19h0.7v0.7h-0.7zM60.94 68.6h0.7v0.7h-0.7zM63 75.4h0.7v0.7h-0.7zM47.87 79.14h0.7v0.7h-0.7zM54.94 79.27h0.7v0.7h-0.7zM61.77 67.36h0.7v0.7h-0.7zM60.18 70.26h0.7v0.7h-0.7zM57.72 71.2h0.7v0.7h-0.7zM57.38 73.62h0.7v0.7h-0.7zM66.37 71.87h0.7v0.7h-0.7zM51.01 82.91h0.7v0.7h-0.7zM59.3 75.12h0.7v0.7h-0.7zM63.35 69.8h0.7v0.7h-0.7zM59.05 68.13h0.7v0.7h-0.7zM53.6 84.28h0.7v0.7h-0.7zM60.7 66.24h0.7v0.7h-0.7zM64.08 68.53h0.7v0.7h-0.7zM49.05 86.52h0.7v0.7h-0.7zM55.61 80.07h0.7v0.7h-0.7zM53.29 75.48h0.7v0.7h-0.7zM50.71 80.41h0.7v0.7h-0.7zM60.44 67.6h0.7v0.7h-0.7zM53.85 85.79h0.7v0.7h-0.7zM66.42 65.96h0.7v0.7h-0.7zM53 74.03h0.7v0.7h-0.7zM51.78 82.13h0.7v0.7h-0.7zM60.88 65.63h0.7v0.7h-0.7zM56.98 73.04h0.7v0.7h-0.7zM57.38 75.54h0.7v0.7h-0.7zM64.95 62.6h0.7v0.7h-0.7zM63.06 71.3h0.7v0.7h-0.7zM56.04 74.59h0.7v0.7h-0.7zM53.98 81.6h0.7v0.7h-0.7zM54.07 74.92h0.7v0.7h-0.7zM56.16 71.76h0.7v0.7h-0.7zM52.63 77.91h0.7v0.7h-0.7zM63.26 66.16h0.7v0.7h-0.7zM56.92 68.59h0.7v0.7h-0.7zM52.87 85.67h0.7v0.7h-0.7zM52.96 72.83h0.7v0.7h-0.7zM58.21 75h0.7v0.7h-0.7zM48.7 80.17h0.7v0.7h-0.7zM56.84 70.75h0.7v0.7h-0.7zM62.61 71.34h0.7v0.7h-0.7zM58.52 70.7h0.7v0.7h-0.7zM56.12 72.67h0.7v0.7h-0.7zM57.56 74.64h0.7v0.7h-0.7zM58.09 76.53h0.7v0.7h-0.7zM67.21 60.37h0.7v0.7h-0.7zM60.47 73.25h0.7v0.7h-0.7zM59.72 70.07h0.7v0.7h-0.7zM57.41 77.42h0.7v0.7h-0.7zM61.04 71.39h0.7v0.7h-0.7zM55.36 78.34h0.7v0.7h-0.7zM60.44 69.45h0.7v0.7h-0.7zM64.27 74.05h0.7v0.7h-0.7zM50.87 83.36h0.7v0.7h-0.7zM50.07 76.76h0.7v0.7h-0.7zM59.12 71.46h0.7v0.7h-0.7zM57.46 68.34h0.7v0.7h-0.7zM54.06 73.99h0.7v0.7h-0.7zM57.83 68.9h0.7v0.7h-0.7zM57.23 77.15h0.7v0.7h-0.7zM56.36 72.54h0.7v0.7h-0.7zM56.57 71.05h0.7v0.7h-0.7zM58.68 69.49h0.7v0.7h-0.7zM59.06 66.46h0.7v0.7h-0.7zM57.56 77.35h0.7v0.7h-0.7zM59.9 71.23h0.7v0.7h-0.7zM63.2 66.85h0.7v0.7h-0.7zM56.84 67.89h0.7v0.7h-0.7zM55.82 76.49h0.7v0.7h-0.7zM61.77 68.51h0.7v0.7h-0.7zM51.13 72.7h0.7v0.7h-0.7zM54.24 71.95h0.7v0.7h-0.7zM57.97 68.17h0.7v0.7h-0.7zM62.65 64.02h0.7v0.7h-0.7zM58.64 72.94h0.7v0.7h-0.7zM58.64 67.77h0.7v0.7h-0.7zM64.16 69.77h0.7v0.7h-0.7zM55.11 73.7h0.7v0.7h-0.7zM53.07 71.04h0.7v0.7h-0.7zM61.82 68.84h0.7v0.7h-0.7zM62.43 67.35h0.7v0.7h-0.7zM53.16 76.57h0.7v0.7h-0.7zM55.36 70.68h0.7v0.7h-0.7zM56.93 74.61h0.7v0.7h-0.7zM61.01 73.49h0.7v0.7h-0.7zM57.57 66.01h0.7v0.7h-0.7zM63.4 68.67h0.7v0.7h-0.7zM57.32 68.34h0.7v0.7h-0.7zM62.19 62.51h0.7v0.7h-0.7zM55.97 67.83h0.7v0.7h-0.7zM52.9 71.94h0.7v0.7h-0.7zM63.87 67.93h0.7v0.7h-0.7zM55.85 69.59h0.7v0.7h-0.7zM59.38 70.68h0.7v0.7h-0.7zM52.89 73.53h0.7v0.7h-0.7zM59.73 71.24h0.7v0.7h-0.7zM59.87 70.33h0.7v0.7h-0.7zM51.74 70.91h0.7v0.7h-0.7zM58.56 67.79h0.7v0.7h-0.7zM58.09 69.92h0.7v0.7h-0.7zM59.26 67.42h0.7v0.7h-0.7zM63.23 65.28h0.7v0.7h-0.7zM61.46 69.07h0.7v0.7h-0.7zM62.6 67.1h0.7v0.7h-0.7zM53.01 74.96h0.7v0.7h-0.7zM65.09 64.47h0.7v0.7h-0.7zM61.31 68.75h0.7v0.7h-0.7zM56.14 71.24h0.7v0.7h-0.7zM58.82 73.63h0.7v0.7h-0.7zM62.67 71.09h0.7v0.7h-0.7zM63.23 70.79h0.7v0.7h-0.7zM58.59 66.96h0.7v0.7h-0.7zM64.56 64.68h0.7v0.7h-0.7zM62.78 66.33h0.7v0.7h-0.7zM58.3 71.3h0.7v0.7h-0.7zM53.98 72.17h0.7v0.7h-0.7zM55.64 72.26h0.7v0.7h-0.7zM54.9 74.36h0.7v0.7h-0.7zM62.88 71.62h0.7v0.7h-0.7zM64.29 63.83h0.7v0.7h-0.7zM61.25 66.78h0.7v0.7h-0.7zM60.09 68.66h0.7v0.7h-0.7zM57.54 71.89h0.7v0.7h-0.7zM55.34 75.48h0.7v0.7h-0.7zM56.56 69.56h0.7v0.7h-0.7zM58.77 71.91h0.7v0.7h-0.7zM57.72 72.87h0.7v0.7h-0.7zM62.97 70.13h0.7v0.7h-0.7zM55.66 73.47h0.7v0.7h-0.7zM62.71 70.25h0.7v0.7h-0.7zM60.88 70.11h0.7v0.7h-0.7zM53.85 74.12h0.7v0.7h-0.7zM63.44 64.1h0.7v0.7h-0.7zM64.25 61.85h0.7v0.7h-0.7zM55.83 68.85h0.7v0.7h-0.7zM61.25 68.23h0.7v0.7h-0.7zM65.15 63.49h0.7v0.7h-0.7zM56.18 69h0.7v0.7h-0.7zM60.16 71.51h0.7v0.7h-0.7zM62.99 69.13h0.7v0.7h-0.7zM61.46 67.06h0.7v0.7h-0.7zM61.03 68.21h0.7v0.7h-0.7zM57.63 76.68h0.7v0.7h-0.7zM58.54 67.38h0.7v0.7h-0.7zM60.56 69.09h0.7v0.7h-0.7zM64.07 68.55h0.7v0.7h-0.7zM50.9 80.88h0.7v0.7h-0.7zM62.08 63.65h0.7v0.7h-0.7zM53.96 76.58h0.7v0.7h-0.7zM60.51 69.33h0.7v0.7h-0.7zM55.05 73.1h0.7v0.7h-0.7zM60.68 70.32h0.7v0.7h-0.7zM65.88 63.05h0.7v0.7h-0.7zM53.72 68.93h0.7v0.7h-0.7zM61.96 66.23h0.7v0.7h-0.7zM57.21 69.08h0.7v0.7h-0.7zM58.49 65.2h0.7v0.7h-0.7zM59.5 69.8h0.7v0.7h-0.7zM61.83 70.7h0.7v0.7h-0.7zM58.85 70.45h0.7v0.7h-0.7zM59.21 65.1h0.7v0.7h-0.7zM58.24 71.07h0.7v0.7h-0.7zM60.62 65.75h0.7v0.7h-0.7zM61.94 67.81h0.7v0.7h-0.7zM52.41 73.05h0.7v0.7h-0.7zM54.99 74.99h0.7v0.7h-0.7zM60.69 70.25h0.7v0.7h-0.7zM60.6 66.52h0.7v0.7h-0.7zM63.38 67.48h0.7v0.7h-0.7zM61.11 69.04h0.7v0.7h-0.7zM55.74 74.79h0.7v0.7h-0.7zM54.17 71.91h0.7v0.7h-0.7zM58.18 71.36h0.7v0.7h-0.7zM58.35 69.75h0.7v0.7h-0.7zM56.33 73.61h0.7v0.7h-0.7zM54.71 70.64h0.7v0.7h-0.7zM61.45 71.59h0.7v0.7h-0.7zM56.22 69.97h0.7v0.7h-0.7zM65.65 67.59h0.7v0.7h-0.7zM57.82 70.71h0.7v0.7h-0.7zM64.04 73.16h0.7v0.7h-0.7zM60.88 70.86h0.7v0.7h-0.7zM57.59 66.12h0.7v0.7h-0.7zM53.9 72.09h0.7v0.7h-0.7zM60.44 68.68h0.7v0.7h-0.7zM63.89 63.62h0.7v0.7h-0.7zM60.02 69.06h0.7v0.7h-0.7zM62.88 72.58h0.7v0.7h-0.7zM62.04 70.98h0.7v0.7h-0.7zM61.93 64.83h0.7v0.7h-0.7zM60.46 67.19h0.7v0.7h-0.7zM59.56 69.84h0.7v0.7h-0.7zM58.36 69.31h0.7v0.7h-0.7zM63.21 64.41h0.7v0.7h-0.7zM63.59 69.84h0.7v0.7h-0.7zM62.39 69.24h0.7v0.7h-0.7zM64.74 66.75h0.7v0.7h-0.7zM61.95 62.33h0.7v0.7h-0.7zM64.84 63.44h0.7v0.7h-0.7zM52.86 75.05h0.7v0.7h-0.7zM54.84 74.67h0.7v0.7h-0.7zM53.08 73.7h0.7v0.7h-0.7zM60.11 69.21h0.7v0.7h-0.7zM56.29 72.38h0.7v0.7h-0.7zM58.82 70.43h0.7v0.7h-0.7zM58.65 69.73h0.7v0.7h-0.7zM59.2 64.92h0.7v0.7h-0.7zM57.74 71.84h0.7v0.7h-0.7zM56.98 70.63h0.7v0.7h-0.7zM58.02 71.75h0.7v0.7h-0.7zM62.41 65.55h0.7v0.7h-0.7zM58.74 71.37h0.7v0.7h-0.7zM55.38 68.27h0.7v0.7h-0.7zM59.23 68.6h0.7v0.7h-0.7zM58.24 72.76h0.7v0.7h-0.7zM58.28 69.11h0.7v0.7h-0.7zM49.96 75.09h0.7v0.7h-0.7zM58.87 69.8h0.7v0.7h-0.7zM60.64 68.81h0.7v0.7h-0.7zM55.68 69.95h0.7v0.7h-0.7zM55.54 73.52h0.7v0.7h-0.7zM56.73 74.88h0.7v0.7h-0.7zM52.37 72.12h0.7v0.7h-0.7zM55.76 68.31h0.7v0.7h-0.7zM62.34 63.19h0.7v0.7h-0.7zM58.48 69.85h0.7v0.7h-0.7zM53.91 70.44h0.7v0.7h-0.7zM54.77 77.43h0.7v0.7h-0.7zM65.28 69.4h0.7v0.7h-0.7zM55.5 75.68h0.7v0.7h-0.7zM60.23 71.16h0.7v0.7h-0.7zM58.56 72.69h0.7v0.7h-0.7zM62.57 67.77h0.7v0.7h-0.7zM63.03 64.88h0.7v0.7h-0.7zM62.53 63.86h0.7v0.7h-0.7zM59.82 60.74h0.7v0.7h-0.7zM57.84 68.9h0.7v0.7h-0.7zM60.55 71.36h0.7v0.7h-0.7zM61.28 67.7h0.7v0.7h-0.7zM61.84 62.3h0.7v0.7h-0.7zM58.85 74.75h0.7v0.7h-0.7zM56.86 66.15h0.7v0.7h-0.7zM58.23 67.28h0.7v0.7h-0.7zM65.11 66.52h0.7v0.7h-0.7zM59.32 73.56h0.7v0.7h-0.7zM57.91 74.03h0.7v0.7h-0.7zM60.53 67.87h0.7v0.7h-0.7zM54.36 74.44h0.7v0.7h-0.7zM51.35 77h0.7v0.7h-0.7zM55.33 77.86h0.7v0.7h-0.7zM52.48 70.06h0.7v0.7h-0.7zM61.29 68.51h0.7v0.7h-0.7zM60.68 74.51h0.7v0.7h-0.7zM61.4 67.47h0.7v0.7h-0.7zM52.64 68.28h0.7v0.7h-0.7zM61.87 69.65h0.7v0.7h-0.7zM55.12 70.14h0.7v0.7h-0.7zM56.36 67.93h0.7v0.7h-0.7zM60.18 70.99h0.7v0.7h-0.7zM63.88 65.25h0.7v0.7h-0.7zM60.71 70.33h0.7v0.7h-0.7zM62.68 64.85h0.7v0.7h-0.7zM54.16 73.11h0.7v0.7h-0.7zM53.93 73.08h0.7v0.7h-0.7zM59.16 70.86h0.7v0.7h-0.7zM59.57 69.56h0.7v0.7h-0.7zM58.58 71.77h0.7v0.7h-0.7zM62.77 68.01h0.7v0.7h-0.7zM63.01 64.55h0.7v0.7h-0.7zM60.8 73.09h0.7v0.7h-0.7zM60.22 69.87h0.7v0.7h-0.7zM59.46 72.42h0.7v0.7h-0.7zM56.29 70.03h0.7v0.7h-0.7zM58.16 69.62h0.7v0.7h-0.7zM60.91 66.68h0.7v0.7h-0.7zM59.04 69.3h0.7v0.7h-0.7zM59.06 68.02h0.7v0.7h-0.7zM60.14 64.39h0.7v0.7h-0.7zM56.79 70.37h0.7v0.7h-0.7zM60.98 67.86h0.7v0.7h-0.7zM59.94 67.93h0.7v0.7h-0.7zM55.19 70.95h0.7v0.7h-0.7zM57.2 70.42h0.7v0.7h-0.7zM60.36 69.52h0.7v0.7h-0.7zM61.74 66.56h0.7v0.7h-0.7zM55.18 71.13h0.7v0.7h-0.7zM59.72 70.27h0.7v0.7h-0.7zM65.06 63.65h0.7v0.7h-0.7zM67.03 66.53h0.7v0.7h-0.7zM57.7 75.14h0.7v0.7h-0.7zM64.4 67.93h0.7v0.7h-0.7zM60.41 71.29h0.7v0.7h-0.7zM57.47 71.53h0.7v0.7h-0.7zM61.74 72.29h0.7v0.7h-0.7zM59.8 71.99h0.7v0.7h-0.7zM58.13 68.84h0.7v0.7h-0.7zM60.71 70.05h0.7v0.7h-0.7zM57.84 73.24h0.7v0.7h-0.7zM55.57 71.25h0.7v0.7h-0.7zM59.3 68.95h0.7v0.7h-0.7zM53.63 71.17h0.7v0.7h-0.7zM59.43 70.24h0.7v0.7h-0.7zM57.92 71.8h0.7v0.7h-0.7zM55.05 75.68h0.7v0.7h-0.7zM60.65 68.96h0.7v0.7h-0.7zM57.3 72.18h0.7v0.7h-0.7zM60.99 70.97h0.7v0.7h-0.7zM60.2 69.4h0.7v0.7h-0.7zM58.15 73.58h0.7v0.7h-0.7zM61.74 65.38h0.7v0.7h-0.7zM61.36 68.25h0.7v0.7h-0.7zM56.93 68.46h0.7v0.7h-0.7zM61.41 61.6h0.7v0.7h-0.7zM59.33 68.48h0.7v0.7h-0.7zM61.76 65.57h0.7v0.7h-0.7zM60.03 70.67h0.7v0.7h-0.7zM59.57 67.77h0.7v0.7h-0.7zM61.61 68.22h0.7v0.7h-0.7zM61.17 65.99h0.7v0.7h-0.7zM58.28 69.64h0.7v0.7h-0.7zM56.9 73.16h0.7v0.7h-0.7zM62.34 70.49h0.7v0.7h-0.7zM58.62 71.61h0.7v0.7h-0.7zM62.22 65.99h0.7v0.7h-0.7zM59.39 69.96h0.7v0.7h-0.7zM55.47 71.03h0.7v0.7h-0.7zM62.57 66.46h0.7v0.7h-0.7zM56.92 68.62h0.7v0.7h-0.7zM61.11 71.15h0.7v0.7h-0.7zM54.26 72.7h0.7v0.7h-0.7zM64.43 68.14h0.7v0.7h-0.7zM62.77 64.04h0.7v0.7h-0.7zM59.65 66.99h0.7v0.7h-0.7zM59.99 67.77h0.7v0.7h-0.7zM61.59 71.1h0.7v0.7h-0.7zM59.64 68.54h0.7v0.7h-0.7zM59.56 70.16h0.7v0.7h-0.7zM57.79 72h0.7v0.7h-0.7zM63.1 70.03h0.7v0.7h-0.7zM51.13 75.37h0.7v0.7h-0.7zM56.65 75.31h0.7v0.7h-0.7zM66.5 62.05h0.7v0.7h-0.7zM61.06 71.09h0.7v0.7h-0.7zM51.52 77.97h0.7v0.7h-0.7zM50.03 80.68h0.7v0.7h-0.7zM56.77 71.07h0.7v0.7h-0.7zM59.13 68.09h0.7v0.7h-0.7zM62.28 66.26h0.7v0.7h-0.7zM63.91 72.05h0.7v0.7h-0.7zM59.06 72.72h0.7v0.7h-0.7zM58.42 74.41h0.7v0.7h-0.7zM62.05 66.95h0.7v0.7h-0.7zM64.32 68.78h0.7v0.7h-0.7zM63.06 65.38h0.7v0.7h-0.7zM60.49 71.63h0.7v0.7h-0.7zM53.77 74.15h0.7v0.7h-0.7zM61.28 69.12h0.7v0.7h-0.7zM67.1 66.06h0.7v0.7h-0.7zM60.61 69.49h0.7v0.7h-0.7zM54.84 74.18h0.7v0.7h-0.7zM59.43 68.83h0.7v0.7h-0.7zM60.08 70.59h0.7v0.7h-0.7zM55.36 72.44h0.7v0.7h-0.7zM55.48 77.45h0.7v0.7h-0.7zM53.36 71.31h0.7v0.7h-0.7zM60.95 67.14h0.7v0.7h-0.7zM61.29 66.29h0.7v0.7h-0.7zM66.31 63.82h0.7v0.7h-0.7zM59.61 69.65h0.7v0.7h-0.7zM59.6 71.74h0.7v0.7h-0.7zM64.25 62.76h0.7v0.7h-0.7zM56.69 74.42h0.7v0.7h-0.7zM59.92 64.48h0.7v0.7h-0.7zM55.49 71.01h0.7v0.7h-0.7zM61.4 68.78h0.7v0.7h-0.7zM55.17 70.98h0.7v0.7h-0.7zM57.95 65.04h0.7v0.7h-0.7zM60.66 67.65h0.7v0.7h-0.7zM66.1 64.89h0.7v0.7h-0.7zM56.89 71.58h0.7v0.7h-0.7zM57.11 69.98h0.7v0.7h-0.7zM60.67 70.98h0.7v0.7h-0.7zM54.25 74.73h0.7v0.7h-0.7zM64.47 65.99h0.7v0.7h-0.7zM55.42 71.66h0.7v0.7h-0.7zM54.12 70.76h0.7v0.7h-0.7zM62.47 66.26h0.7v0.7h-0.7zM54.83 70.46h0.7v0.7h-0.7zM57.12 70.61h0.7v0.7h-0.7zM63.36 63.67h0.7v0.7h-0.7zM60.92 71.01h0.7v0.7h-0.7zM60.69 67.54h0.7v0.7h-0.7zM54.69 79.08h0.7v0.7h-0.7zM60.11 67.45h0.7v0.7h-0.7zM57.33 69.05h0.7v0.7h-0.7zM54.18 71.06h0.7v0.7h-0.7zM61.23 69h0.7v0.7h-0.7zM60.66 70.43h0.7v0.7h-0.7zM60.75 68.38h0.7v0.7h-0.7zM57.29 73.7h0.7v0.7h-0.7zM63.4 66.87h0.7v0.7h-0.7zM61.95 65.24h0.7v0.7h-0.7zM57.99 74.88h0.7v0.7h-0.7zM57.66 72.25h0.7v0.7h-0.7zM58.48 70.66h0.7v0.7h-0.7zM57.42 70.2h0.7v0.7h-0.7zM56.61 78.39h0.7v0.7h-0.7zM56.75 66.83h0.7v0.7h-0.7zM54.7 71.55h0.7v0.7h-0.7zM53.08 69.16h0.7v0.7h-0.7zM63.09 70.22h0.7v0.7h-0.7zM59.38 71.78h0.7v0.7h-0.7zM58.92 66.4h0.7v0.7h-0.7zM60.07 63.78h0.7v0.7h-0.7zM56.8 71.44h0.7v0.7h-0.7zM62.83 65.99h0.7v0.7h-0.7zM57.45 69.37h0.7v0.7h-0.7zM59.32 69.76h0.7v0.7h-0.7zM63.18 69.38h0.7v0.7h-0.7zM61.17 67.58h0.7v0.7h-0.7zM60.91 72.58h0.7v0.7h-0.7zM59.56 69.31h0.7v0.7h-0.7zM66.53 66.08h0.7v0.7h-0.7zM60.49 67.98h0.7v0.7h-0.7zM58.73 73.48h0.7v0.7h-0.7zM59.1 72.74h0.7v0.7h-0.7zM56.88 72.73h0.7v0.7h-0.7zM60.38 68.86h0.7v0.7h-0.7zM60.24 69.72h0.7v0.7h-0.7zM54.11 72.28h0.7v0.7h-0.7zM61.23 72.82h0.7v0.7h-0.7zM57.28 69.21h0.7v0.7h-0.7zM57.13 72.23h0.7v0.7h-0.7zM61.6 65.36h0.7v0.7h-0.7zM60.9 68.39h0.7v0.7h-0.7zM56.58 69.96h0.7v0.7h-0.7zM57.5 69.57h0.7v0.7h-0.7zM57.97 65.95h0.7v0.7h-0.7zM63.39 67.25h0.7v0.7h-0.7zM62.88 70.02h0.7v0.7h-0.7zM58.24 65.8h0.7v0.7h-0.7zM59.82 70.4h0.7v0.7h-0.7zM55.36 70.8h0.7v0.7h-0.7zM61.01 69.23h0.7v0.7h-0.7zM57.41 71.09h0.7v0.7h-0.7zM56.7 70.94h0.7v0.7h-0.7zM60.41 71.57h0.7v0.7h-0.7zM53.84 74.87h0.7v0.7h-0.7zM64.14 65.08h0.7v0.7h-0.7zM60.67 70.57h0.7v0.7h-0.7zM54.32 71.75h0.7v0.7h-0.7zM52.06 73.6h0.7v0.7h-0.7zM60.97 70.27h0.7v0.7h-0.7zM56.8 70.5h0.7v0.7h-0.7zM61.07 69.46h0.7v0.7h-0.7zM57.5 60.15h0.7v0.7h-0.7zM49.69 55.25h0.7v0.7h-0.7zM57.37 68.38h0.7v0.7h-0.7zM48.61 86.72h0.7v0.7h-0.7zM67.88 78.76h0.7v0.7h-0.7zM57.69 76.35h0.7v0.7h-0.7zM49.29 74.6h0.7v0.7h-0.7zM73.62 68.18h0.7v0.7h-0.7zM48.55 76.26h0.7v0.7h-0.7zM63.69 81.49h0.7v0.7h-0.7zM45.59 73.99h0.7v0.7h-0.7zM52.42 65.4h0.7v0.7h-0.7zM55.75 71.26h0.7v0.7h-0.7zM63.95 78.37h0.7v0.7h-0.7zM47.41 75.63h0.7v0.7h-0.7zM51.53 70.06h0.7v0.7h-0.7zM50.27 83.28h0.7v0.7h-0.7zM50.98 61.66h0.7v0.7h-0.7zM47.47 81.28h0.7v0.7h-0.7zM75.94 66.8h0.7v0.7h-0.7zM51.54 72.44h0.7v0.7h-0.7zM41.31 78.13h0.7v0.7h-0.7zM54.51 77.17h0.7v0.7h-0.7zM76.77 72.93h0.7v0.7h-0.7zM62.72 81.49h0.7v0.7h-0.7zM48.82 70.4h0.7v0.7h-0.7zM70.15 80.57h0.7v0.7h-0.7zM56.4 66.49h0.7v0.7h-0.7zM63.59 79.11h0.7v0.7h-0.7zM76.37 86.47h0.7v0.7h-0.7zM62.82 77.09h0.7v0.7h-0.7zM55.61 70.72h0.7v0.7h-0.7zM58 76.9h0.7v0.7h-0.7zM61.34 83.45h0.7v0.7h-0.7zM58.04 70.78h0.7v0.7h-0.7zM62.85 87.08h0.7v0.7h-0.7zM46.89 78.27h0.7v0.7h-0.7zM60.33 79.17h0.7v0.7h-0.7zM59.91 74.3h0.7v0.7h-0.7zM54.01 88.12h0.7v0.7h-0.7zM71.84 64.1h0.7v0.7h-0.7zM48.45 70.98h0.7v0.7h-0.7zM39.51 77.75h0.7v0.7h-0.7zM54.47 70.81h0.7v0.7h-0.7zM63.74 93.91h0.7v0.7h-0.7zM69.34 84.13h0.7v0.7h-0.7zM51 80.12h0.7v0.7h-0.7zM54.64 84h0.7v0.7h-0.7zM60.66 74.73h0.7v0.7h-0.7zM60.37 69.42h0.7v0.7h-0.7zM62.7 86.7h0.7v0.7h-0.7zM51.49 79.33h0.7v0.7h-0.7zM38.82 82.29h0.7v0.7h-0.7zM63.53 67.07h0.7v0.7h-0.7zM71.94 75.89h0.7v0.7h-0.7zM38.19 64.36h0.7v0.7h-0.7zM63.5 72.89h0.7v0.7h-0.7zM65.72 62.95h0.7v0.7h-0.7zM54.04 82.6h0.7v0.7h-0.7zM48.42 80.29h0.7v0.7h-0.7zM51.51 77.68h0.7v0.7h-0.7zM58.14 92.36h0.7v0.7h-0.7zM42.97 81.06h0.7v0.7h-0.7zM67.75 66.27h0.7v0.7h-0.7zM55.79 92.95h0.7v0.7h-0.7zM65.2 51.95h0.7v0.7h-0.7zM52.7 61.71h0.7v0.7h-0.7zM57.95 69.36h0.7v0.7h-0.7zM49.55 68.5h0.7v0.7h-0.7zM57.86 71.38h0.7v0.7h-0.7zM46.22 73.24h0.7v0.7h-0.7zM58.95 68.35h0.7v0.7h-0.7zM65.79 62.1h0.7v0.7h-0.7zM58.96 71.98h0.7v0.7h-0.7zM70.29 70h0.7v0.7h-0.7zM48.56 64.57h0.7v0.7h-0.7zM74.29 79.8h0.7v0.7h-0.7zM44.46 72.39h0.7v0.7h-0.7zM45.7 86.84h0.7v0.7h-0.7zM59.06 59.17h0.7v0.7h-0.7zM57.04 82.11h0.7v0.7h-0.7zM55.02 78.68h0.7v0.7h-0.7zM53.93 76.62h0.7v0.7h-0.7zM57.07 69.5h0.7v0.7h-0.7zM58.38 76.29h0.7v0.7h-0.7zM54.63 69.69h0.7v0.7h-0.7zM45.15 76.91h0.7v0.7h-0.7zM63.03 56.21h0.7v0.7h-0.7zM49.8 85.52h0.7v0.7h-0.7zM63.9 69.46h0.7v0.7h-0.7zM68.14 67.33h0.7v0.7h-0.7zM47.33 90.08h0.7v0.7h-0.7zM50.76 73.32h0.7v0.7h-0.7zM38.97 67.14h0.7v0.7h-0.7zM43.57 73.93h0.7v0.7h-0.7zM51.54 70.29h0.7v0.7h-0.7zM48.84 80.78h0.7v0.7h-0.7zM69.91 71.83h0.7v0.7h-0.7zM70.69 87.53h0.7v0.7h-0.7zM68.05 77.33h0.7v0.7h-0.7zM40.51 80.24h0.7v0.7h-0.7zM51.03 76.51h0.7v0.7h-0.7zM57.27 67.71h0.7v0.7h-0.7zM57.86 88.02h0.7v0.7h-0.7zM57.25 69.67h0.7v0.7h-0.7zM78.2 58.24h0.7v0.7h-0.7zM46.06 78.18h0.7v0.7h-0.7zM49.25 57.15h0.7v0.7h-0.7zM57.53 81.47h0.7v0.7h-0.7zM47.27 86.42h0.7v0.7h-0.7zM59.87 84.28h0.7v0.7h-0.7zM40.14 74.98h0.7v0.7h-0.7zM70.57 90.7h0.7v0.7h-0.7zM67.83 75h0.7v0.7h-0.7zM56.78 70.11h0.7v0.7h-0.7zM65.7 69.58h0.7v0.7h-0.7zM56.2 58.92h0.7v0.7h-0.7zM40.34 88.87h0.7v0.7h-0.7zM55.58 76.68h0.7v0.7h-0.7zM75.19 63.34h0.7v0.7h-0.7zM49.82 73.36h0.7v0.7h-0.7zM42.74 64.42h0.7v0.7h-0.7zM42.95 80h0.7v0.7h-0.7zM54.54 81.42h0.7v0.7h-0.7zM44.47 79.61h0.7v0.7h-0.7zM50.68 75.7h0.7v0.7h-0.7zM64.11 75.26h0.7v0.7h-0.7zM51.57 62h0.7v0.7h-0.7zM55.62 81.13h0.7v0.7h-0.7zM48.82 74.48h0.7v0.7h-0.7zM58.94 85.14h0.7v0.7h-0.7zM51.96 61.92h0.7v0.7h-0.7zM51.28 62.76h0.7v0.7h-0.7zM52.31 90.12h0.7v0.7h-0.7zM57.93 73.81h0.7v0.7h-0.7zM65.15 72.03h0.7v0.7h-0.7zM58.25 76.57h0.7v0.7h-0.7zM59.37 63.48h0.7v0.7h-0.7zM61.96 81.92h0.7v0.7h-0.7zM46.22 86.7h0.7v0.7h-0.7zM55.2 80.32h0.7v0.7h-0.7zM60.44 81.97h0.7v0.7h-0.7zM48.74 70.4h0.7v0.7h-0.7zM58.69 79.78h0.7v0.7h-0.7zM60.64 77.67h0.7v0.7h-0.7zM50.24 83.68h0.7v0.7h-0.7zM59.63 83.36h0.7v0.7h-0.7zM48.46 75.95h0.7v0.7h-0.7zM50.32 72.56h0.7v0.7h-0.7zM56.9 77.73h0.7v0.7h-0.7zM47.14 55.07h0.7v0.7h-0.7zM47.32 79.27h0.7v0.7h-0.7zM46.7 78.38h0.7v0.7h-0.7zM51.37 67.57h0.7v0.7h-0.7zM66.51 88.07h0.7v0.7h-0.7zM53.98 74.6h0.7v0.7h-0.7zM64.45 64.53h0.7v0.7h-0.7zM46.39 83.94h0.7v0.7h-0.7zM63.89 71.1h0.7v0.7h-0.7zM47.33 77.77h0.7v0.7h-0.7zM41.1 71.06h0.7v0.7h-0.7zM52.71 55.55h0.7v0.7h-0.7zM60.83 81.04h0.7v0.7h-0.7zM65.54 63.63h0.7v0.7h-0.7zM42.3 68.55h0.7v0.7h-0.7zM42.09 91.26h0.7v0.7h-0.7zM45.34 72.52h0.7v0.7h-0.7zM57.04 78.61h0.7v0.7h-0.7zM69.36 66.38h0.7v0.7h-0.7zM63.71 76.18h0.7v0.7h-0.7zM43.39 76.2h0.7v0.7h-0.7zM58.28 69.64h0.7v0.7h-0.7zM62.94 65.99h0.7v0.7h-0.7zM77.03 56.32h0.7v0.7h-0.7zM61.77 60.78h0.7v0.7h-0.7zM60.72 65.36h0.7v0.7h-0.7zM69.22 55.46h0.7v0.7h-0.7zM63.24 64.32h0.7v0.7h-0.7zM57.93 70.06h0.7v0.7h-0.7zM62.54 58.83h0.7v0.7h-0.7zM61.57 69.68h0.7v0.7h-0.7zM73.73 67.76h0.7v0.7h-0.7zM72.54 60.54h0.7v0.7h-0.7zM79.79 63.96h0.7v0.7h-0.7zM71.04 63.44h0.7v0.7h-0.7zM73.12 61.66h0.7v0.7h-0.7zM66.84 50.48h0.7v0.7h-0.7zM82.34 52.23h0.7v0.7h-0.7zM52.99 55.74h0.7v0.7h-0.7zM81.48 67.29h0.7v0.7h-0.7zM63.8 61.58h0.7v0.7h-0.7zM67.83 48.13h0.7v0.7h-0.7zM65.67 61.75h0.7v0.7h-0.7zM76.18 52.81h0.7v0.7h-0.7zM52.25 50.58h0.7v0.7h-0.7zM70.31 60.48h0.7v0.7h-0.7zM69.04 60.89h0.7v0.7h-0.7zM65.44 51.83h0.7v0.7h-0.7zM71.17 62.31h0.7v0.7h-0.7zM72.04 67.46h0.7v0.7h-0.7zM59.34 45.99h0.7v0.7h-0.7zM55.54 72.81h0.7v0.7h-0.7zM61.61 62.39h0.7v0.7h-0.7zM67.89 64.37h0.7v0.7h-0.7zM66.81 56.42h0.7v0.7h-0.7zM69.72 63.12h0.7v0.7h-0.7zM61.21 67.9h0.7v0.7h-0.7zM76.02 62.67h0.7v0.7h-0.7zM67.23 58.58h0.7v0.7h-0.7zM56.5 63.93h0.7v0.7h-0.7z" fill="#000" stroke="none" stroke-width="1"/>
<path d="M38.5 81C39.5 79.92 42.25 79.42 44 79.5C45.75 79.58 48 80.42 49 81.5C50 82.58 50.08 84.58 50 86C49.92 87.42 49.67 89.17 48.5 90C47.33 90.83 44.67 90.92 43 91C41.33 91.08 39.33 91.33 38.5 90.5C37.67 89.67 38 87.58 38 86C38 84.42 37.5 82.08 38.5 81Z" fill="#000" stroke="none" stroke-width="1"/>
<path d="M56 76C56.08 74.58 57.17 71.42 58 70C58.83 68.58 60.25 67.5 61 67.5C61.75 67.5 62.58 68.75 62.5 70C62.42 71.25 61.33 73.58 60.5 75C59.67 76.42 58.25 78.33 57.5 78.5C56.75 78.67 55.92 77.42 56 76Z" fill="#111" stroke="none" stroke-width="1"/>
<path d="M113.88 85.2h0.7v0.7h-0.7zM120.19 84.11h0.7v0.7h-0.7zM115.33 88.73h0.7v0.7h-0.7zM122.94 84.71h0.7v0.7h-0.7zM120.53 84.8h0.7v0.7h-0.7zM118.24 87.76h0.7v0.7h-0.7zM113.36 89.17h0.7v0.7h-0.7zM122.76 86.64h0.7v0.7h-0.7zM117.86 83.45h0.7v0.7h-0.7zM122.72 86.66h0.7v0.7h-0.7zM112.92 88.49h0.7v0.7h-0.7zM124.07 84.85h0.7v0.7h-0.7zM114.91 85h0.7v0.7h-0.7zM115.19 87.94h0.7v0.7h-0.7zM121.67 83.88h0.7v0.7h-0.7zM118.41 81.81h0.7v0.7h-0.7zM121.88 86.27h0.7v0.7h-0.7zM114.76 90.48h0.7v0.7h-0.7zM116.66 90.06h0.7v0.7h-0.7zM120.44 90.81h0.7v0.7h-0.7zM114.44 86.65h0.7v0.7h-0.7zM118.18 86h0.7v0.7h-0.7zM121.87 84.64h0.7v0.7h-0.7zM120.21 90.04h0.7v0.7h-0.7zM114.11 85.08h0.7v0.7h-0.7zM118.25 86.05h0.7v0.7h-0.7zM117.25 85.31h0.7v0.7h-0.7zM116.74 87.76h0.7v0.7h-0.7zM119.39 84.47h0.7v0.7h-0.7zM116.64 84.52h0.7v0.7h-0.7zM116.43 82.77h0.7v0.7h-0.7zM120.05 88.25h0.7v0.7h-0.7zM116.61 84.72h0.7v0.7h-0.7zM115.54 84.77h0.7v0.7h-0.7zM127.53 83.3h0.7v0.7h-0.7zM113.27 88h0.7v0.7h-0.7zM118.94 82.41h0.7v0.7h-0.7zM115.42 86.72h0.7v0.7h-0.7zM116.99 85.05h0.7v0.7h-0.7zM116.55 85.72h0.7v0.7h-0.7zM120.98 86.26h0.7v0.7h-0.7zM116.9 85.12h0.7v0.7h-0.7zM114.97 84.58h0.7v0.7h-0.7zM117.03 91.28h0.7v0.7h-0.7zM120.57 87.11h0.7v0.7h-0.7zM122.34 89.14h0.7v0.7h-0.7zM117.66 86.07h0.7v0.7h-0.7zM113.49 87.15h0.7v0.7h-0.7zM115.99 82.38h0.7v0.7h-0.7zM112.89 91.53h0.7v0.7h-0.7zM117.69 87.79h0.7v0.7h-0.7zM117.64 85.29h0.7v0.7h-0.7zM118.48 89.32h0.7v0.7h-0.7zM116.01 87.83h0.7v0.7h-0.7zM120.28 85.24h0.7v0.7h-0.7zM117.54 84.58h0.7v0.7h-0.7zM118.93 85.54h0.7v0.7h-0.7zM120.67 84.51h0.7v0.7h-0.7zM122.41 85.69h0.7v0.7h-0.7zM114.31 84.15h0.7v0.7h-0.7zM119.12 84.27h0.7v0.7h-0.7zM122.77 89.83h0.7v0.7h-0.7zM118.66 82.8h0.7v0.7h-0.7zM116.92 84.61h0.7v0.7h-0.7zM124.04 85.11h0.7v0.7h-0.7zM119.59 89.84h0.7v0.7h-0.7zM113.93 85.62h0.7v0.7h-0.7zM117.86 87.73h0.7v0.7h-0.7zM113.33 87.06h0.7v0.7h-0.7zM116.66 88.97h0.7v0.7h-0.7zM115.39 85.68h0.7v0.7h-0.7zM119.31 84.87h0.7v0.7h-0.7zM125.76 84.66h0.7v0.7h-0.7zM119.69 89.15h0.7v0.7h-0.7zM120.09 85.97h0.7v0.7h-0.7zM114.35 85.84h0.7v0.7h-0.7zM119.13 86.82h0.7v0.7h-0.7zM118.86 87.99h0.7v0.7h-0.7zM114.17 84.07h0.7v0.7h-0.7zM121.61 85.24h0.7v0.7h-0.7zM114.33 84.07h0.7v0.7h-0.7zM120.1 83.56h0.7v0.7h-0.7zM114.21 89.22h0.7v0.7h-0.7zM114.38 93.02h0.7v0.7h-0.7zM117.31 93.48h0.7v0.7h-0.7zM117.41 86.64h0.7v0.7h-0.7zM114.95 85.92h0.7v0.7h-0.7zM115.4 86.44h0.7v0.7h-0.7zM119.47 83.19h0.7v0.7h-0.7zM114.06 81.06h0.7v0.7h-0.7zM121.81 86.31h0.7v0.7h-0.7zM116.96 86.35h0.7v0.7h-0.7zM120.21 87.33h0.7v0.7h-0.7zM119.72 86.06h0.7v0.7h-0.7zM116.61 86.36h0.7v0.7h-0.7zM119.15 86.64h0.7v0.7h-0.7zM119.6 90.94h0.7v0.7h-0.7zM122.96 90.09h0.7v0.7h-0.7zM116.28 91.83h0.7v0.7h-0.7zM114.18 86.28h0.7v0.7h-0.7zM120.19 85.94h0.7v0.7h-0.7zM116.61 85.58h0.7v0.7h-0.7zM121.37 80.09h0.7v0.7h-0.7zM121.07 89.26h0.7v0.7h-0.7zM116.77 87.96h0.7v0.7h-0.7zM113.9 89.38h0.7v0.7h-0.7zM126.79 84.11h0.7v0.7h-0.7zM121.47 86.35h0.7v0.7h-0.7zM115.92 85.23h0.7v0.7h-0.7zM116.39 83.25h0.7v0.7h-0.7zM112.66 90.82h0.7v0.7h-0.7zM116.94 87.94h0.7v0.7h-0.7zM117.99 87.74h0.7v0.7h-0.7zM119.03 89.1h0.7v0.7h-0.7zM113.34 85h0.7v0.7h-0.7zM113.58 88.2h0.7v0.7h-0.7zM118.1 86.59h0.7v0.7h-0.7zM114.92 87.39h0.7v0.7h-0.7zM117.1 84.57h0.7v0.7h-0.7zM118.07 84.77h0.7v0.7h-0.7zM120.05 88.13h0.7v0.7h-0.7zM114.8 88.03h0.7v0.7h-0.7zM117.22 84.66h0.7v0.7h-0.7zM114.08 82.18h0.7v0.7h-0.7zM113.38 87.4h0.7v0.7h-0.7zM120.86 84.87h0.7v0.7h-0.7zM117.51 87.4h0.7v0.7h-0.7zM119.5 87.65h0.7v0.7h-0.7zM120.93 88.49h0.7v0.7h-0.7zM114.56 87.53h0.7v0.7h-0.7zM117.07 88.01h0.7v0.7h-0.7zM116.03 88.66h0.7v0.7h-0.7zM121.23 84.32h0.7v0.7h-0.7zM115.26 87.18h0.7v0.7h-0.7zM118.57 86.87h0.7v0.7h-0.7zM119.66 83.43h0.7v0.7h-0.7zM119.48 89.53h0.7v0.7h-0.7zM120.55 87.61h0.7v0.7h-0.7zM116.24 87.54h0.7v0.7h-0.7zM116.76 82.37h0.7v0.7h-0.7zM115.06 86.39h0.7v0.7h-0.7zM115.35 84.08h0.7v0.7h-0.7zM116.26 85.53h0.7v0.7h-0.7zM117.22 86.37h0.7v0.7h-0.7zM117.55 89.08h0.7v0.7h-0.7zM117.44 87.56h0.7v0.7h-0.7zM113.09 78.84h0.7v0.7h-0.7zM115.72 88.26h0.7v0.7h-0.7zM115.91 84.88h0.7v0.7h-0.7zM113.03 88.82h0.7v0.7h-0.7zM115.31 87.14h0.7v0.7h-0.7zM120.62 87.89h0.7v0.7h-0.7zM124.18 86.16h0.7v0.7h-0.7zM120.06 88.3h0.7v0.7h-0.7zM114.9 86.62h0.7v0.7h-0.7zM115.19 83.84h0.7v0.7h-0.7zM117.96 84.49h0.7v0.7h-0.7zM122.37 84.57h0.7v0.7h-0.7zM115.26 86.74h0.7v0.7h-0.7zM115.34 86.64h0.7v0.7h-0.7zM115.06 82.8h0.7v0.7h-0.7zM121.87 87.66h0.7v0.7h-0.7zM117.49 85.29h0.7v0.7h-0.7zM116.53 87.28h0.7v0.7h-0.7zM112.55 84.42h0.7v0.7h-0.7zM114.15 89.77h0.7v0.7h-0.7zM113.62 89.55h0.7v0.7h-0.7zM115.51 93.59h0.7v0.7h-0.7zM116.75 86.58h0.7v0.7h-0.7zM121.32 88.77h0.7v0.7h-0.7zM120.01 83.72h0.7v0.7h-0.7zM120.63 90.87h0.7v0.7h-0.7zM116.67 85.24h0.7v0.7h-0.7zM113.51 89.15h0.7v0.7h-0.7zM117.94 86.52h0.7v0.7h-0.7zM113.05 90.71h0.7v0.7h-0.7zM119.8 86.45h0.7v0.7h-0.7zM121.72 84.03h0.7v0.7h-0.7zM119.82 83.9h0.7v0.7h-0.7zM121.51 85.78h0.7v0.7h-0.7zM120.91 85.42h0.7v0.7h-0.7zM118.28 89.47h0.7v0.7h-0.7zM114.11 86.75h0.7v0.7h-0.7zM114.32 88.72h0.7v0.7h-0.7zM115.07 85.53h0.7v0.7h-0.7zM116.35 89.53h0.7v0.7h-0.7zM113.67 86.43h0.7v0.7h-0.7zM115.95 85.07h0.7v0.7h-0.7zM114.48 86.09h0.7v0.7h-0.7zM117.63 82.48h0.7v0.7h-0.7zM117.75 83.42h0.7v0.7h-0.7zM117.05 92.43h0.7v0.7h-0.7zM113.9 86.33h0.7v0.7h-0.7zM116.19 89.05h0.7v0.7h-0.7zM115.48 81.86h0.7v0.7h-0.7zM117.81 89.27h0.7v0.7h-0.7zM115.28 88.23h0.7v0.7h-0.7zM113.59 89.87h0.7v0.7h-0.7zM116.77 84.74h0.7v0.7h-0.7zM117.57 91.03h0.7v0.7h-0.7zM114.29 83.28h0.7v0.7h-0.7zM113.75 83.5h0.7v0.7h-0.7zM116.84 87.41h0.7v0.7h-0.7zM116.47 87.01h0.7v0.7h-0.7zM120.79 85.75h0.7v0.7h-0.7zM112.99 80.56h0.7v0.7h-0.7zM117.77 84.73h0.7v0.7h-0.7zM116.2 87.57h0.7v0.7h-0.7zM118.48 82.42h0.7v0.7h-0.7zM113.94 86.69h0.7v0.7h-0.7zM116.54 89.48h0.7v0.7h-0.7zM115.39 81.13h0.7v0.7h-0.7zM120.74 82.25h0.7v0.7h-0.7zM113.89 87.51h0.7v0.7h-0.7zM113.61 92.97h0.7v0.7h-0.7zM117.76 87.89h0.7v0.7h-0.7zM115.6 92.26h0.7v0.7h-0.7zM118.73 84.64h0.7v0.7h-0.7zM121.01 82.11h0.7v0.7h-0.7zM115.12 87.25h0.7v0.7h-0.7zM117.44 84.01h0.7v0.7h-0.7zM122.06 90.33h0.7v0.7h-0.7zM114.01 87.47h0.7v0.7h-0.7zM114.97 85.38h0.7v0.7h-0.7zM120.16 86.83h0.7v0.7h-0.7zM116.65 86.77h0.7v0.7h-0.7zM113.25 89.67h0.7v0.7h-0.7zM114.6 89.9h0.7v0.7h-0.7zM115.53 85.32h0.7v0.7h-0.7zM121.75 87h0.7v0.7h-0.7zM114.95 85.11h0.7v0.7h-0.7zM118.94 91.36h0.7v0.7h-0.7zM118.96 85.48h0.7v0.7h-0.7zM113.41 84.75h0.7v0.7h-0.7zM116.62 87.14h0.7v0.7h-0.7zM114.9 89.83h0.7v0.7h-0.7zM113.94 84.64h0.7v0.7h-0.7zM118.59 87.75h0.7v0.7h-0.7zM115.75 89h0.7v0.7h-0.7zM124 91.58h0.7v0.7h-0.7zM117.38 91.61h0.7v0.7h-0.7zM117.17 89.96h0.7v0.7h-0.7zM116.36 87h0.7v0.7h-0.7zM118.68 81.96h0.7v0.7h-0.7zM116.33 90.97h0.7v0.7h-0.7zM119.95 87.35h0.7v0.7h-0.7zM117.62 90.11h0.7v0.7h-0.7zM118.07 81.58h0.7v0.7h-0.7zM113.98 85.73h0.7v0.7h-0.7zM117.46 85.34h0.7v0.7h-0.7zM116.66 90.84h0.7v0.7h-0.7zM120 88.07h0.7v0.7h-0.7zM117.05 86.67h0.7v0.7h-0.7zM118.16 87.13h0.7v0.7h-0.7zM114.68 88.53h0.7v0.7h-0.7zM114.36 86.39h0.7v0.7h-0.7zM115.85 83.51h0.7v0.7h-0.7zM118.94 86.32h0.7v0.7h-0.7zM113.27 86.3h0.7v0.7h-0.7zM112.59 90.23h0.7v0.7h-0.7zM118.65 91.66h0.7v0.7h-0.7zM115.19 88.33h0.7v0.7h-0.7zM113.91 84.29h0.7v0.7h-0.7zM116.72 87.57h0.7v0.7h-0.7zM119.95 85.81h0.7v0.7h-0.7zM120.52 89h0.7v0.7h-0.7zM114.21 86.04h0.7v0.7h-0.7zM114.08 90.92h0.7v0.7h-0.7zM115.24 88.79h0.7v0.7h-0.7zM119.92 85.84h0.7v0.7h-0.7zM115.45 87.39h0.7v0.7h-0.7zM114.53 83.22h0.7v0.7h-0.7zM113.92 87.38h0.7v0.7h-0.7zM117.61 91.07h0.7v0.7h-0.7zM113.32 89.49h0.7v0.7h-0.7zM119.22 86.83h0.7v0.7h-0.7zM121.7 85.54h0.7v0.7h-0.7zM115.31 83.78h0.7v0.7h-0.7zM114.91 86.8h0.7v0.7h-0.7zM119.14 89.81h0.7v0.7h-0.7zM116.14 84.61h0.7v0.7h-0.7zM115.94 85.39h0.7v0.7h-0.7zM115.51 85.46h0.7v0.7h-0.7zM114.23 86.36h0.7v0.7h-0.7zM115.37 86.06h0.7v0.7h-0.7zM112.59 86.88h0.7v0.7h-0.7zM118.82 88.17h0.7v0.7h-0.7zM115.26 83.55h0.7v0.7h-0.7zM112.86 83.47h0.7v0.7h-0.7zM114.96 85.7h0.7v0.7h-0.7zM114.71 88.64h0.7v0.7h-0.7zM122.84 85.59h0.7v0.7h-0.7zM116.13 85.49h0.7v0.7h-0.7zM116.37 86.06h0.7v0.7h-0.7zM124.83 83.69h0.7v0.7h-0.7zM116.65 84.47h0.7v0.7h-0.7zM118.13 85.16h0.7v0.7h-0.7zM118.82 83.72h0.7v0.7h-0.7zM123.69 87.04h0.7v0.7h-0.7zM115.51 83.53h0.7v0.7h-0.7zM118.4 85.17h0.7v0.7h-0.7zM119.34 85.09h0.7v0.7h-0.7zM119.86 86.88h0.7v0.7h-0.7zM118.13 86.91h0.7v0.7h-0.7zM115.85 85.57h0.7v0.7h-0.7zM118.43 88.32h0.7v0.7h-0.7zM115.71 92.25h0.7v0.7h-0.7zM122.36 83.56h0.7v0.7h-0.7zM120.44 86.32h0.7v0.7h-0.7zM117.74 84.48h0.7v0.7h-0.7zM122.23 84.39h0.7v0.7h-0.7zM116.74 84.64h0.7v0.7h-0.7zM123.11 89.72h0.7v0.7h-0.7zM112.83 85.35h0.7v0.7h-0.7zM118.15 85.4h0.7v0.7h-0.7zM115.88 83.74h0.7v0.7h-0.7zM117.79 83.7h0.7v0.7h-0.7zM119.63 92.65h0.7v0.7h-0.7zM115.97 90.72h0.7v0.7h-0.7zM118.18 84.79h0.7v0.7h-0.7zM115.91 84.04h0.7v0.7h-0.7zM117.36 88.3h0.7v0.7h-0.7zM119.94 85.79h0.7v0.7h-0.7zM113.23 86.31h0.7v0.7h-0.7zM122.28 87.22h0.7v0.7h-0.7zM116.8 81.19h0.7v0.7h-0.7zM115.63 87.9h0.7v0.7h-0.7zM114.01 89.95h0.7v0.7h-0.7zM115.22 84.28h0.7v0.7h-0.7zM115.17 86.27h0.7v0.7h-0.7zM120.15 85.06h0.7v0.7h-0.7zM118.65 90.44h0.7v0.7h-0.7zM113.46 90.29h0.7v0.7h-0.7zM119.13 87.67h0.7v0.7h-0.7zM114.58 84.25h0.7v0.7h-0.7zM113.99 88.89h0.7v0.7h-0.7zM117.69 89.23h0.7v0.7h-0.7zM122.73 86.56h0.7v0.7h-0.7zM116.85 91.4h0.7v0.7h-0.7zM112.89 85.37h0.7v0.7h-0.7zM115.84 85.54h0.7v0.7h-0.7zM117.45 84.37h0.7v0.7h-0.7zM120.66 83.03h0.7v0.7h-0.7zM114.43 82.2h0.7v0.7h-0.7zM112.59 88.01h0.7v0.7h-0.7zM118.98 86.01h0.7v0.7h-0.7zM119.66 88.08h0.7v0.7h-0.7zM115.18 86.41h0.7v0.7h-0.7zM118.16 91.63h0.7v0.7h-0.7zM115.61 87.46h0.7v0.7h-0.7zM118.72 89.61h0.7v0.7h-0.7zM118.34 89.24h0.7v0.7h-0.7zM113.65 85.84h0.7v0.7h-0.7zM124.34 87.13h0.7v0.7h-0.7zM117.28 87.19h0.7v0.7h-0.7zM117.46 83.14h0.7v0.7h-0.7zM114.82 86.07h0.7v0.7h-0.7zM117.53 84.32h0.7v0.7h-0.7zM116.67 84.65h0.7v0.7h-0.7zM112.85 84.84h0.7v0.7h-0.7zM114.47 88.65h0.7v0.7h-0.7zM121.21 87.99h0.7v0.7h-0.7zM116.33 85.1h0.7v0.7h-0.7zM121.92 89.45h0.7v0.7h-0.7zM117.71 85.89h0.7v0.7h-0.7zM117.01 87.59h0.7v0.7h-0.7zM116.98 87.6h0.7v0.7h-0.7zM114.58 86.63h0.7v0.7h-0.7zM115.9 89.25h0.7v0.7h-0.7zM113.1 89.81h0.7v0.7h-0.7zM116.73 85.24h0.7v0.7h-0.7zM117.07 86.83h0.7v0.7h-0.7zM116.27 87.59h0.7v0.7h-0.7zM115.18 82.22h0.7v0.7h-0.7zM119.19 86.45h0.7v0.7h-0.7zM122.24 87.5h0.7v0.7h-0.7zM114.84 87.91h0.7v0.7h-0.7zM123.98 89.29h0.7v0.7h-0.7zM113.56 86.29h0.7v0.7h-0.7zM118.77 83.92h0.7v0.7h-0.7zM118.43 88.89h0.7v0.7h-0.7zM119.54 84.82h0.7v0.7h-0.7zM114.82 83.68h0.7v0.7h-0.7zM112.94 87.32h0.7v0.7h-0.7zM117.13 89.82h0.7v0.7h-0.7zM117.86 85.7h0.7v0.7h-0.7zM112.52 90.43h0.7v0.7h-0.7zM117.52 86.44h0.7v0.7h-0.7zM113.84 83.87h0.7v0.7h-0.7zM118.99 84.06h0.7v0.7h-0.7zM118.84 88.11h0.7v0.7h-0.7zM115.8 82.42h0.7v0.7h-0.7zM118.29 90.08h0.7v0.7h-0.7zM114.41 83.33h0.7v0.7h-0.7zM120.42 86.88h0.7v0.7h-0.7zM115.04 89.62h0.7v0.7h-0.7zM116.13 87.66h0.7v0.7h-0.7zM115.74 84.62h0.7v0.7h-0.7zM117.69 84.35h0.7v0.7h-0.7zM120.88 89.3h0.7v0.7h-0.7zM123.83 89.03h0.7v0.7h-0.7zM122.07 87.16h0.7v0.7h-0.7zM115.63 87.7h0.7v0.7h-0.7zM114.02 88.38h0.7v0.7h-0.7zM115.59 87.18h0.7v0.7h-0.7zM114.32 86.19h0.7v0.7h-0.7zM120.08 85.98h0.7v0.7h-0.7zM114.89 87.24h0.7v0.7h-0.7zM119.77 86.05h0.7v0.7h-0.7zM113.33 82.59h0.7v0.7h-0.7zM112.8 89.21h0.7v0.7h-0.7zM116.72 87.73h0.7v0.7h-0.7zM120.37 87.24h0.7v0.7h-0.7zM118.51 85.25h0.7v0.7h-0.7zM116.7 87.98h0.7v0.7h-0.7zM113.66 86.17h0.7v0.7h-0.7zM123.32 84.41h0.7v0.7h-0.7zM117.31 89.83h0.7v0.7h-0.7zM116.27 86.84h0.7v0.7h-0.7zM115.62 89.77h0.7v0.7h-0.7zM116.72 85.59h0.7v0.7h-0.7zM118.37 85.93h0.7v0.7h-0.7zM115.38 90.41h0.7v0.7h-0.7zM120.08 86.81h0.7v0.7h-0.7zM119.54 88.6h0.7v0.7h-0.7zM118.82 86.65h0.7v0.7h-0.7zM117.23 87.56h0.7v0.7h-0.7zM118.77 87.42h0.7v0.7h-0.7zM115.27 86.34h0.7v0.7h-0.7zM118.44 84.06h0.7v0.7h-0.7zM116.97 88.43h0.7v0.7h-0.7zM117.53 85.82h0.7v0.7h-0.7zM116.93 85.32h0.7v0.7h-0.7zM120.08 85.59h0.7v0.7h-0.7zM117.94 87.06h0.7v0.7h-0.7zM115.52 83.25h0.7v0.7h-0.7zM116.53 84.44h0.7v0.7h-0.7zM114.94 86.53h0.7v0.7h-0.7zM114.6 87.31h0.7v0.7h-0.7zM114.68 85.38h0.7v0.7h-0.7zM116.29 90.18h0.7v0.7h-0.7zM121.94 88.89h0.7v0.7h-0.7zM114.69 86.55h0.7v0.7h-0.7zM119.86 88.55h0.7v0.7h-0.7zM114.68 88.41h0.7v0.7h-0.7zM119 85.2h0.7v0.7h-0.7zM123.71 85.85h0.7v0.7h-0.7zM124.65 86.12h0.7v0.7h-0.7zM116.73 91.27h0.7v0.7h-0.7zM115.35 85.36h0.7v0.7h-0.7zM121.62 86.44h0.7v0.7h-0.7zM118.5 83.41h0.7v0.7h-0.7zM122.6 88.99h0.7v0.7h-0.7zM118.12 88.3h0.7v0.7h-0.7zM115.43 85.36h0.7v0.7h-0.7zM120.87 88.67h0.7v0.7h-0.7zM119.88 88.3h0.7v0.7h-0.7zM114.12 83.3h0.7v0.7h-0.7zM119.01 86.95h0.7v0.7h-0.7zM120.09 85.86h0.7v0.7h-0.7zM114.24 87.65h0.7v0.7h-0.7zM115.26 82.47h0.7v0.7h-0.7zM115.1 84.36h0.7v0.7h-0.7zM113.51 85.18h0.7v0.7h-0.7zM119.97 92.37h0.7v0.7h-0.7zM122.41 85.51h0.7v0.7h-0.7zM120.58 86.36h0.7v0.7h-0.7zM137.42 71.34h0.7v0.7h-0.7zM135.74 62.76h0.7v0.7h-0.7zM142.31 70.59h0.7v0.7h-0.7zM138.06 72.11h0.7v0.7h-0.7zM136.95 67.06h0.7v0.7h-0.7zM134.68 84.97h0.7v0.7h-0.7zM138.09 60.5h0.7v0.7h-0.7zM139 65.91h0.7v0.7h-0.7zM137.01 81.59h0.7v0.7h-0.7zM133.74 74.43h0.7v0.7h-0.7zM135.13 80.58h0.7v0.7h-0.7zM139.22 88.82h0.7v0.7h-0.7zM137.15 94.23h0.7v0.7h-0.7zM132.66 92.38h0.7v0.7h-0.7zM135.08 83.72h0.7v0.7h-0.7zM135.56 77.86h0.7v0.7h-0.7zM132.77 80.47h0.7v0.7h-0.7zM143.14 78.42h0.7v0.7h-0.7zM135.93 77.19h0.7v0.7h-0.7zM138.51 75.4h0.7v0.7h-0.7zM135.99 79h0.7v0.7h-0.7zM140.59 85.29h0.7v0.7h-0.7zM132.29 71.75h0.7v0.7h-0.7zM136.07 84.4h0.7v0.7h-0.7zM139.41 75.38h0.7v0.7h-0.7zM143.5 75.76h0.7v0.7h-0.7zM140.95 89.33h0.7v0.7h-0.7zM141.62 78.87h0.7v0.7h-0.7zM138.03 64.08h0.7v0.7h-0.7zM129.73 71.93h0.7v0.7h-0.7zM138.54 86.25h0.7v0.7h-0.7zM135.64 86.04h0.7v0.7h-0.7zM138.04 90.18h0.7v0.7h-0.7zM130.39 70.06h0.7v0.7h-0.7zM132.63 68.22h0.7v0.7h-0.7zM141.81 69.24h0.7v0.7h-0.7zM133.08 73.74h0.7v0.7h-0.7zM139.12 73.2h0.7v0.7h-0.7zM138.6 81.85h0.7v0.7h-0.7zM133.75 56.95h0.7v0.7h-0.7zM132.77 66.48h0.7v0.7h-0.7zM141.77 71.01h0.7v0.7h-0.7zM132.23 80.37h0.7v0.7h-0.7zM136.19 69.14h0.7v0.7h-0.7zM139.86 84.96h0.7v0.7h-0.7zM136.98 70.66h0.7v0.7h-0.7zM132.92 59.62h0.7v0.7h-0.7zM137.35 80.49h0.7v0.7h-0.7zM132.76 77.36h0.7v0.7h-0.7zM147.56 67.49h0.7v0.7h-0.7zM129.98 82.35h0.7v0.7h-0.7zM134.5 72.91h0.7v0.7h-0.7zM138.19 76.02h0.7v0.7h-0.7zM139.51 81.54h0.7v0.7h-0.7zM140.1 78.15h0.7v0.7h-0.7zM128.39 88.74h0.7v0.7h-0.7zM130 86.05h0.7v0.7h-0.7zM136.89 65.25h0.7v0.7h-0.7zM136.24 84.65h0.7v0.7h-0.7zM132.4 77.48h0.7v0.7h-0.7zM133.39 68.54h0.7v0.7h-0.7zM133.82 88.03h0.7v0.7h-0.7zM138.42 76.87h0.7v0.7h-0.7zM135.71 78.2h0.7v0.7h-0.7zM137.01 78.69h0.7v0.7h-0.7zM129.94 84.98h0.7v0.7h-0.7zM132.98 54.84h0.7v0.7h-0.7zM138.48 66.79h0.7v0.7h-0.7zM135.5 76.31h0.7v0.7h-0.7zM133.91 81.68h0.7v0.7h-0.7zM135.04 74.72h0.7v0.7h-0.7zM132.63 74.71h0.7v0.7h-0.7zM132.34 77.46h0.7v0.7h-0.7zM140.68 85.74h0.7v0.7h-0.7zM137.51 65.45h0.7v0.7h-0.7zM139.64 85.09h0.7v0.7h-0.7zM143.29 57.84h0.7v0.7h-0.7zM136.06 74.25h0.7v0.7h-0.7zM139.85 67.8h0.7v0.7h-0.7zM139.52 60.03h0.7v0.7h-0.7zM136.07 88.8h0.7v0.7h-0.7zM133.82 82.2h0.7v0.7h-0.7zM136.35 64.57h0.7v0.7h-0.7zM133.78 86.81h0.7v0.7h-0.7zM140.19 71.93h0.7v0.7h-0.7zM139.98 70.99h0.7v0.7h-0.7zM136.87 76.89h0.7v0.7h-0.7zM131.58 79.84h0.7v0.7h-0.7zM134.62 53.56h0.7v0.7h-0.7zM133.07 69.82h0.7v0.7h-0.7zM133.04 68.7h0.7v0.7h-0.7zM133.56 56.06h0.7v0.7h-0.7zM139.15 77.69h0.7v0.7h-0.7zM136.9 74.79h0.7v0.7h-0.7zM136.23 74.82h0.7v0.7h-0.7zM132.14 64.04h0.7v0.7h-0.7zM136.26 85.79h0.7v0.7h-0.7zM136.83 90.9h0.7v0.7h-0.7zM131.17 74.79h0.7v0.7h-0.7zM133.81 87.64h0.7v0.7h-0.7zM142 72.58h0.7v0.7h-0.7zM138.59 74.98h0.7v0.7h-0.7zM132.46 76.11h0.7v0.7h-0.7zM132.31 90.36h0.7v0.7h-0.7zM138.09 87.25h0.7v0.7h-0.7zM137.27 56.17h0.7v0.7h-0.7zM138.84 77.83h0.7v0.7h-0.7zM127.56 77.92h0.7v0.7h-0.7zM139.58 91.75h0.7v0.7h-0.7zM132.38 83.83h0.7v0.7h-0.7zM137.18 75.57h0.7v0.7h-0.7zM135 81.6h0.7v0.7h-0.7zM138.04 82.7h0.7v0.7h-0.7zM134.56 65.7h0.7v0.7h-0.7zM140.67 88.21h0.7v0.7h-0.7zM134 76.77h0.7v0.7h-0.7zM138.86 61.92h0.7v0.7h-0.7zM136.96 70.97h0.7v0.7h-0.7zM143.24 77.11h0.7v0.7h-0.7zM136.75 73.38h0.7v0.7h-0.7zM136.64 61.58h0.7v0.7h-0.7zM131.46 64.33h0.7v0.7h-0.7zM139.19 76.24h0.7v0.7h-0.7zM140.08 59.48h0.7v0.7h-0.7zM133.88 89.58h0.7v0.7h-0.7zM133.2 60.97h0.7v0.7h-0.7zM133.36 74.05h0.7v0.7h-0.7zM135.95 88.26h0.7v0.7h-0.7zM140.71 90.4h0.7v0.7h-0.7zM138.06 72.7h0.7v0.7h-0.7zM134.25 64.27h0.7v0.7h-0.7zM140.51 87.83h0.7v0.7h-0.7zM136.32 69.34h0.7v0.7h-0.7zM138.39 81.24h0.7v0.7h-0.7zM136.55 67h0.7v0.7h-0.7zM136.85 72.13h0.7v0.7h-0.7zM138.62 82.17h0.7v0.7h-0.7zM137.56 73.34h0.7v0.7h-0.7zM141.39 83.7h0.7v0.7h-0.7zM140.49 84.25h0.7v0.7h-0.7zM138.35 80.39h0.7v0.7h-0.7zM132.22 61.33h0.7v0.7h-0.7zM132.69 82.31h0.7v0.7h-0.7zM139.22 78.59h0.7v0.7h-0.7zM136.32 92.85h0.7v0.7h-0.7zM134.59 61.63h0.7v0.7h-0.7zM130.53 74.24h0.7v0.7h-0.7zM138.48 83.36h0.7v0.7h-0.7zM135.22 84.06h0.7v0.7h-0.7zM135.83 70.77h0.7v0.7h-0.7zM134.66 83.53h0.7v0.7h-0.7zM139.37 67.32h0.7v0.7h-0.7zM132.51 78.07h0.7v0.7h-0.7zM143.51 66.92h0.7v0.7h-0.7zM131.57 80.62h0.7v0.7h-0.7zM137.8 71.73h0.7v0.7h-0.7zM135.91 81.19h0.7v0.7h-0.7zM129.84 76.81h0.7v0.7h-0.7zM138.12 84.97h0.7v0.7h-0.7zM140.12 76.39h0.7v0.7h-0.7zM130.91 88.59h0.7v0.7h-0.7zM138.72 71.52h0.7v0.7h-0.7zM139.66 85.97h0.7v0.7h-0.7zM135.51 56.64h0.7v0.7h-0.7zM134.35 70.48h0.7v0.7h-0.7zM133.05 76.3h0.7v0.7h-0.7zM132.19 80.37h0.7v0.7h-0.7zM142.67 66.75h0.7v0.7h-0.7zM139.67 72.42h0.7v0.7h-0.7zM137.92 75.91h0.7v0.7h-0.7zM140.53 70.88h0.7v0.7h-0.7zM138.59 70.32h0.7v0.7h-0.7zM136.81 76.88h0.7v0.7h-0.7zM139.84 63.4h0.7v0.7h-0.7zM131.24 89.01h0.7v0.7h-0.7zM137.36 91.65h0.7v0.7h-0.7zM132.37 78.82h0.7v0.7h-0.7zM138.13 92.25h0.7v0.7h-0.7zM135.81 73.14h0.7v0.7h-0.7zM138.52 76.12h0.7v0.7h-0.7zM133.36 83.58h0.7v0.7h-0.7zM129.29 68.25h0.7v0.7h-0.7zM140.8 72.69h0.7v0.7h-0.7zM134.86 80.21h0.7v0.7h-0.7zM139.95 81.56h0.7v0.7h-0.7zM132.6 72.11h0.7v0.7h-0.7zM139.7 75.98h0.7v0.7h-0.7zM133.78 84.54h0.7v0.7h-0.7zM132.21 70.91h0.7v0.7h-0.7zM133.56 80.07h0.7v0.7h-0.7zM134.32 86.62h0.7v0.7h-0.7zM126.54 85.3h0.7v0.7h-0.7zM133.74 74.63h0.7v0.7h-0.7zM138 78.75h0.7v0.7h-0.7zM132.44 89.96h0.7v0.7h-0.7zM138.03 72.76h0.7v0.7h-0.7zM136.74 67.46h0.7v0.7h-0.7zM131.68 74.41h0.7v0.7h-0.7zM137.29 77.88h0.7v0.7h-0.7zM133.27 65.05h0.7v0.7h-0.7zM130.1 90.78h0.7v0.7h-0.7zM137.3 70.09h0.7v0.7h-0.7zM140.17 81.66h0.7v0.7h-0.7zM134.55 71.71h0.7v0.7h-0.7zM140 79.83h0.7v0.7h-0.7zM141.75 80.13h0.7v0.7h-0.7zM133.95 71.83h0.7v0.7h-0.7zM133.53 79.19h0.7v0.7h-0.7zM136.89 82.24h0.7v0.7h-0.7zM137.59 67.94h0.7v0.7h-0.7zM135.28 68.88h0.7v0.7h-0.7zM137.69 65.65h0.7v0.7h-0.7zM133.96 69.6h0.7v0.7h-0.7zM133.83 74.78h0.7v0.7h-0.7zM141.3 74.79h0.7v0.7h-0.7zM130.97 74.4h0.7v0.7h-0.7zM138.63 81.78h0.7v0.7h-0.7zM136.84 94.19h0.7v0.7h-0.7zM139.89 77.79h0.7v0.7h-0.7zM140.26 65.44h0.7v0.7h-0.7zM135.41 69.52h0.7v0.7h-0.7zM136.62 90.96h0.7v0.7h-0.7zM134.26 90.75h0.7v0.7h-0.7zM132.42 89.31h0.7v0.7h-0.7zM130.07 69.67h0.7v0.7h-0.7zM139.5 76.21h0.7v0.7h-0.7zM136.51 76.89h0.7v0.7h-0.7zM136.63 75.46h0.7v0.7h-0.7zM132.57 74.5h0.7v0.7h-0.7zM136.39 69.23h0.7v0.7h-0.7zM137.64 92.22h0.7v0.7h-0.7zM130.26 72.3h0.7v0.7h-0.7zM135.02 77.16h0.7v0.7h-0.7zM136.34 70.74h0.7v0.7h-0.7zM135.88 77.05h0.7v0.7h-0.7zM135.7 90.3h0.7v0.7h-0.7zM136.46 64.25h0.7v0.7h-0.7zM130.52 82.11h0.7v0.7h-0.7zM134.81 71.66h0.7v0.7h-0.7zM131.26 74.34h0.7v0.7h-0.7zM135.68 71.08h0.7v0.7h-0.7zM134.77 84.66h0.7v0.7h-0.7zM138.75 81.72h0.7v0.7h-0.7zM135.39 65.28h0.7v0.7h-0.7zM138.72 89.92h0.7v0.7h-0.7zM140.46 87.05h0.7v0.7h-0.7zM136.97 80.24h0.7v0.7h-0.7zM135.95 87.83h0.7v0.7h-0.7zM138.72 74.23h0.7v0.7h-0.7zM136 63.12h0.7v0.7h-0.7zM133.44 74.41h0.7v0.7h-0.7zM144.57 69.98h0.7v0.7h-0.7zM139.21 77.66h0.7v0.7h-0.7zM134.97 82.4h0.7v0.7h-0.7zM129.03 85.16h0.7v0.7h-0.7zM142.77 79.56h0.7v0.7h-0.7zM135.78 78.39h0.7v0.7h-0.7zM138.32 72.77h0.7v0.7h-0.7zM136.42 81.36h0.7v0.7h-0.7zM134.78 80.36h0.7v0.7h-0.7zM137.17 83.17h0.7v0.7h-0.7zM132.55 72.38h0.7v0.7h-0.7zM134.51 87.35h0.7v0.7h-0.7zM136.87 62.72h0.7v0.7h-0.7zM131.54 93.75h0.7v0.7h-0.7zM137.19 65.83h0.7v0.7h-0.7zM132.82 78.23h0.7v0.7h-0.7zM140.99 90.99h0.7v0.7h-0.7zM134.73 74.42h0.7v0.7h-0.7zM142.71 68.52h0.7v0.7h-0.7zM141.47 79.93h0.7v0.7h-0.7zM136.33 88.12h0.7v0.7h-0.7zM137.69 69.78h0.7v0.7h-0.7zM130.67 77.14h0.7v0.7h-0.7zM137.79 88.81h0.7v0.7h-0.7zM126.87 88.59h0.7v0.7h-0.7zM138.17 90.11h0.7v0.7h-0.7zM138.79 78.84h0.7v0.7h-0.7zM137.51 80.45h0.7v0.7h-0.7zM133.81 76.02h0.7v0.7h-0.7zM136.45 73.11h0.7v0.7h-0.7zM130.88 64.52h0.7v0.7h-0.7zM137.77 81.5h0.7v0.7h-0.7zM136.38 66.9h0.7v0.7h-0.7zM138.98 73.62h0.7v0.7h-0.7zM128.75 90.53h0.7v0.7h-0.7zM137.86 73.19h0.7v0.7h-0.7zM127.78 70.92h0.7v0.7h-0.7zM141.18 88.76h0.7v0.7h-0.7zM136.91 62.2h0.7v0.7h-0.7zM134.67 74.56h0.7v0.7h-0.7zM137.62 75.92h0.7v0.7h-0.7zM137.21 62.89h0.7v0.7h-0.7zM133.75 89.47h0.7v0.7h-0.7zM130.92 84.99h0.7v0.7h-0.7zM144.07 82.64h0.7v0.7h-0.7zM131.15 87.77h0.7v0.7h-0.7zM129.52 79.92h0.7v0.7h-0.7zM134.57 87.72h0.7v0.7h-0.7zM140.12 78.65h0.7v0.7h-0.7zM142.26 85.51h0.7v0.7h-0.7zM134.33 68.5h0.7v0.7h-0.7zM144.61 73.49h0.7v0.7h-0.7zM137.44 76h0.7v0.7h-0.7zM134.35 63.09h0.7v0.7h-0.7zM135.49 76.01h0.7v0.7h-0.7zM139.43 72.55h0.7v0.7h-0.7zM130.53 67.71h0.7v0.7h-0.7zM135.86 79.16h0.7v0.7h-0.7zM138.53 73.69h0.7v0.7h-0.7zM137.89 78.25h0.7v0.7h-0.7zM141.9 76.52h0.7v0.7h-0.7zM136.51 81.91h0.7v0.7h-0.7zM140.26 69.02h0.7v0.7h-0.7zM134.34 74.62h0.7v0.7h-0.7zM128.55 88.28h0.7v0.7h-0.7zM139.75 77.19h0.7v0.7h-0.7zM147.77 88.02h0.7v0.7h-0.7zM143.07 90.61h0.7v0.7h-0.7zM139.17 64.73h0.7v0.7h-0.7zM141.36 80.64h0.7v0.7h-0.7zM131.82 77.46h0.7v0.7h-0.7zM138.64 85.53h0.7v0.7h-0.7zM136.61 72.47h0.7v0.7h-0.7zM138.68 70.41h0.7v0.7h-0.7zM135.73 83.62h0.7v0.7h-0.7zM130.97 80.25h0.7v0.7h-0.7zM129.15 68.96h0.7v0.7h-0.7zM131.7 76.22h0.7v0.7h-0.7zM138.5 76.56h0.7v0.7h-0.7zM139.2 77.84h0.7v0.7h-0.7zM135.28 81.27h0.7v0.7h-0.7zM135.17 78.18h0.7v0.7h-0.7zM139.64 72.06h0.7v0.7h-0.7zM140.03 67.4h0.7v0.7h-0.7zM135.23 61.95h0.7v0.7h-0.7zM134.15 90.79h0.7v0.7h-0.7zM137.25 88.02h0.7v0.7h-0.7zM130.86 68.23h0.7v0.7h-0.7zM137.63 84.19h0.7v0.7h-0.7zM138.93 62.48h0.7v0.7h-0.7zM137.79 76.38h0.7v0.7h-0.7zM136.42 81.14h0.7v0.7h-0.7zM135.02 62.31h0.7v0.7h-0.7zM132.26 64.45h0.7v0.7h-0.7zM131.4 75.84h0.7v0.7h-0.7zM140.58 70.81h0.7v0.7h-0.7zM133.33 67.03h0.7v0.7h-0.7zM129.95 77.58h0.7v0.7h-0.7zM134.3 74.92h0.7v0.7h-0.7zM132.64 81.23h0.7v0.7h-0.7zM131.79 81.77h0.7v0.7h-0.7zM133.68 83.85h0.7v0.7h-0.7zM132.89 80.85h0.7v0.7h-0.7zM137.54 76.31h0.7v0.7h-0.7zM141.72 78.53h0.7v0.7h-0.7zM132.89 83.01h0.7v0.7h-0.7zM133.11 72.31h0.7v0.7h-0.7zM136.04 78.58h0.7v0.7h-0.7zM141.98 61.84h0.7v0.7h-0.7zM135.1 86.81h0.7v0.7h-0.7zM135.44 79.79h0.7v0.7h-0.7zM141.35 66.3h0.7v0.7h-0.7zM136.15 83.89h0.7v0.7h-0.7zM133.94 61.78h0.7v0.7h-0.7zM132.5 78.69h0.7v0.7h-0.7zM136.67 93.02h0.7v0.7h-0.7zM140.65 63.55h0.7v0.7h-0.7zM139.64 84.95h0.7v0.7h-0.7zM141.68 75.68h0.7v0.7h-0.7zM134.05 78.28h0.7v0.7h-0.7zM141.42 82.42h0.7v0.7h-0.7zM141.95 83.84h0.7v0.7h-0.7zM133.94 68.2h0.7v0.7h-0.7zM142.5 63.84h0.7v0.7h-0.7zM134.77 74.24h0.7v0.7h-0.7zM132.8 72.03h0.7v0.7h-0.7zM135.77 72.45h0.7v0.7h-0.7zM136.44 85.17h0.7v0.7h-0.7zM133.14 73.47h0.7v0.7h-0.7zM129.87 83.11h0.7v0.7h-0.7zM138.39 90.06h0.7v0.7h-0.7zM139.06 74.61h0.7v0.7h-0.7zM134.63 74.3h0.7v0.7h-0.7zM131.75 83.71h0.7v0.7h-0.7zM133.87 70.71h0.7v0.7h-0.7zM137.81 77.98h0.7v0.7h-0.7zM133.95 74.95h0.7v0.7h-0.7zM134.27 88.72h0.7v0.7h-0.7zM139.52 70.67h0.7v0.7h-0.7zM135.86 88.95h0.7v0.7h-0.7zM134.99 92.51h0.7v0.7h-0.7zM137.56 82.83h0.7v0.7h-0.7zM128.71 84.4h0.7v0.7h-0.7zM137.19 82.07h0.7v0.7h-0.7zM137.69 81.59h0.7v0.7h-0.7zM134.22 84.85h0.7v0.7h-0.7zM136.22 67.86h0.7v0.7h-0.7zM132.43 78.41h0.7v0.7h-0.7zM137.18 57.78h0.7v0.7h-0.7zM128.76 86.16h0.7v0.7h-0.7zM130.62 74.84h0.7v0.7h-0.7zM133.89 81.86h0.7v0.7h-0.7zM140.95 91.06h0.7v0.7h-0.7zM132.46 87.76h0.7v0.7h-0.7zM131.73 79.69h0.7v0.7h-0.7zM136.6 82.41h0.7v0.7h-0.7zM133.19 88.66h0.7v0.7h-0.7zM135.76 76.83h0.7v0.7h-0.7zM135.06 67.7h0.7v0.7h-0.7zM138.53 79.93h0.7v0.7h-0.7zM137.6 93.26h0.7v0.7h-0.7zM132.95 74.52h0.7v0.7h-0.7zM136.03 84.47h0.7v0.7h-0.7zM135.38 85.15h0.7v0.7h-0.7zM137.6 61.65h0.7v0.7h-0.7zM133.6 59.27h0.7v0.7h-0.7zM135 73.36h0.7v0.7h-0.7zM138.07 78.49h0.7v0.7h-0.7zM135.78 88.02h0.7v0.7h-0.7zM138.09 66.26h0.7v0.7h-0.7zM133.58 79.87h0.7v0.7h-0.7zM141.98 75.27h0.7v0.7h-0.7zM135.4 79.32h0.7v0.7h-0.7zM138.75 76.21h0.7v0.7h-0.7zM137.04 73.32h0.7v0.7h-0.7zM134.07 70.07h0.7v0.7h-0.7zM138.32 72.14h0.7v0.7h-0.7zM137.93 80.55h0.7v0.7h-0.7zM139.42 53.56h0.7v0.7h-0.7zM132.61 66.35h0.7v0.7h-0.7zM135.42 84.03h0.7v0.7h-0.7zM144.91 90.5h0.7v0.7h-0.7zM140.77 80.34h0.7v0.7h-0.7zM134.64 81.68h0.7v0.7h-0.7zM128.34 85.14h0.7v0.7h-0.7zM136.03 82.4h0.7v0.7h-0.7zM132.38 67.43h0.7v0.7h-0.7zM133.74 76.62h0.7v0.7h-0.7zM137.23 73.9h0.7v0.7h-0.7zM137.23 82.95h0.7v0.7h-0.7zM131.92 76.11h0.7v0.7h-0.7zM130.53 72.21h0.7v0.7h-0.7zM139.18 70.75h0.7v0.7h-0.7zM142.55 81.42h0.7v0.7h-0.7zM139.13 77.91h0.7v0.7h-0.7zM139.04 86.57h0.7v0.7h-0.7zM136.38 72.37h0.7v0.7h-0.7zM134.07 93.89h0.7v0.7h-0.7zM135.36 73h0.7v0.7h-0.7zM133.51 62.26h0.7v0.7h-0.7zM134.24 79.84h0.7v0.7h-0.7zM134.29 70.36h0.7v0.7h-0.7zM137.44 81.02h0.7v0.7h-0.7zM134.47 79.7h0.7v0.7h-0.7zM132.58 84.53h0.7v0.7h-0.7zM132.53 74.06h0.7v0.7h-0.7zM136.48 73.33h0.7v0.7h-0.7zM141.33 61.74h0.7v0.7h-0.7zM136.43 65.9h0.7v0.7h-0.7zM137.1 65.59h0.7v0.7h-0.7zM138.04 81.65h0.7v0.7h-0.7zM142.01 87.55h0.7v0.7h-0.7zM134.39 85.28h0.7v0.7h-0.7zM134.39 76.01h0.7v0.7h-0.7zM134.24 61.58h0.7v0.7h-0.7zM138.12 59.2h0.7v0.7h-0.7zM135.17 81.6h0.7v0.7h-0.7zM136.4 63.2h0.7v0.7h-0.7zM133.72 82.96h0.7v0.7h-0.7zM139.87 90.98h0.7v0.7h-0.7zM129.62 81.03h0.7v0.7h-0.7zM134.31 83.7h0.7v0.7h-0.7zM130.06 75.76h0.7v0.7h-0.7zM138.49 71.35h0.7v0.7h-0.7zM134.73 68.42h0.7v0.7h-0.7zM139.92 65.37h0.7v0.7h-0.7zM132.79 74.09h0.7v0.7h-0.7zM136.97 69.71h0.7v0.7h-0.7zM138.04 80.01h0.7v0.7h-0.7zM136.99 76.43h0.7v0.7h-0.7zM137.63 66.73h0.7v0.7h-0.7zM131.77 73.27h0.7v0.7h-0.7zM132.12 83.14h0.7v0.7h-0.7zM142.83 87.83h0.7v0.7h-0.7zM137.57 79.96h0.7v0.7h-0.7zM133.59 65.62h0.7v0.7h-0.7zM137.93 64.04h0.7v0.7h-0.7zM137.06 75.76h0.7v0.7h-0.7zM138.64 77.44h0.7v0.7h-0.7zM136.37 71.9h0.7v0.7h-0.7zM129.94 73.99h0.7v0.7h-0.7zM138.45 86.16h0.7v0.7h-0.7zM140.85 68.28h0.7v0.7h-0.7zM132.71 83.15h0.7v0.7h-0.7zM137.11 63.69h0.7v0.7h-0.7zM134.05 90.76h0.7v0.7h-0.7zM129.58 78.34h0.7v0.7h-0.7zM131.12 91.03h0.7v0.7h-0.7zM134.43 67.97h0.7v0.7h-0.7zM129.99 70.75h0.7v0.7h-0.7zM127.01 72.84h0.7v0.7h-0.7zM143.67 77.87h0.7v0.7h-0.7zM135.07 66.83h0.7v0.7h-0.7zM137.2 72.86h0.7v0.7h-0.7zM133.02 89.13h0.7v0.7h-0.7zM137.55 69.21h0.7v0.7h-0.7zM141.2 76.52h0.7v0.7h-0.7zM137.77 78.3h0.7v0.7h-0.7zM140.15 82.4h0.7v0.7h-0.7zM134.78 83.3h0.7v0.7h-0.7zM134.63 78.17h0.7v0.7h-0.7zM141.78 67.7h0.7v0.7h-0.7zM132.36 73.48h0.7v0.7h-0.7zM134.24 88.42h0.7v0.7h-0.7zM141.58 73.06h0.7v0.7h-0.7zM136.65 73.84h0.7v0.7h-0.7zM138.36 82.81h0.7v0.7h-0.7zM138.65 83.72h0.7v0.7h-0.7zM142.8 75.51h0.7v0.7h-0.7zM138.46 75.37h0.7v0.7h-0.7zM136.14 78.93h0.7v0.7h-0.7zM135.82 80.04h0.7v0.7h-0.7zM133 75.66h0.7v0.7h-0.7zM133.87 66.75h0.7v0.7h-0.7zM133.51 72.64h0.7v0.7h-0.7zM135.48 63.3h0.7v0.7h-0.7zM135.1 67.1h0.7v0.7h-0.7zM133.12 78.66h0.7v0.7h-0.7zM139.91 79.51h0.7v0.7h-0.7zM134.28 73.15h0.7v0.7h-0.7zM140.72 62.75h0.7v0.7h-0.7zM140.01 63.82h0.7v0.7h-0.7zM133.77 77.41h0.7v0.7h-0.7zM135.22 91.59h0.7v0.7h-0.7zM137.74 76.58h0.7v0.7h-0.7zM139.36 77.33h0.7v0.7h-0.7zM133.16 86.86h0.7v0.7h-0.7zM141.28 88.25h0.7v0.7h-0.7zM131.86 93.75h0.7v0.7h-0.7zM134.53 83.75h0.7v0.7h-0.7zM130.31 68.04h0.7v0.7h-0.7zM140.16 81.35h0.7v0.7h-0.7zM134.9 51.29h0.7v0.7h-0.7zM137.55 75.37h0.7v0.7h-0.7zM127.19 72.09h0.7v0.7h-0.7zM135.98 79.05h0.7v0.7h-0.7zM138.66 74.66h0.7v0.7h-0.7zM132.84 73.83h0.7v0.7h-0.7zM128.59 67.18h0.7v0.7h-0.7zM142.96 70.96h0.7v0.7h-0.7zM135.72 93.68h0.7v0.7h-0.7zM139.71 78.08h0.7v0.7h-0.7zM138.59 74.63h0.7v0.7h-0.7zM132.81 85.8h0.7v0.7h-0.7zM136.47 91.08h0.7v0.7h-0.7zM135.07 73.71h0.7v0.7h-0.7zM137.22 75.33h0.7v0.7h-0.7zM134.9 69.14h0.7v0.7h-0.7zM136.9 79.85h0.7v0.7h-0.7zM142.45 76.77h0.7v0.7h-0.7zM129.81 81.1h0.7v0.7h-0.7zM144.08 73.12h0.7v0.7h-0.7zM133.17 75.54h0.7v0.7h-0.7zM125.91 74.05h0.7v0.7h-0.7zM135.34 63.71h0.7v0.7h-0.7zM138.03 69.3h0.7v0.7h-0.7zM129.48 70.67h0.7v0.7h-0.7zM138.24 93.91h0.7v0.7h-0.7zM140.41 78.72h0.7v0.7h-0.7zM134.2 74.71h0.7v0.7h-0.7zM139.42 72.44h0.7v0.7h-0.7zM137.47 85.51h0.7v0.7h-0.7zM132.8 71.82h0.7v0.7h-0.7zM137.58 77.07h0.7v0.7h-0.7zM135.56 72.34h0.7v0.7h-0.7zM135.78 93.33h0.7v0.7h-0.7zM140.8 62.8h0.7v0.7h-0.7zM136.17 77.82h0.7v0.7h-0.7zM136.13 64.84h0.7v0.7h-0.7zM135.54 78.31h0.7v0.7h-0.7zM133.59 79.76h0.7v0.7h-0.7zM127.39 63.73h0.7v0.7h-0.7zM136.36 80.44h0.7v0.7h-0.7zM135.41 72.96h0.7v0.7h-0.7zM136.65 86.54h0.7v0.7h-0.7zM139.18 76.3h0.7v0.7h-0.7zM134.36 86.36h0.7v0.7h-0.7zM137.91 84.78h0.7v0.7h-0.7zM135.02 69.42h0.7v0.7h-0.7zM136.66 71.5h0.7v0.7h-0.7zM140.06 84.53h0.7v0.7h-0.7zM128.3 82.87h0.7v0.7h-0.7zM140.71 86.15h0.7v0.7h-0.7zM134.33 69.42h0.7v0.7h-0.7zM139.43 85.94h0.7v0.7h-0.7zM136.21 66.83h0.7v0.7h-0.7zM130.6 79.35h0.7v0.7h-0.7zM133.08 71.01h0.7v0.7h-0.7zM137.57 86.25h0.7v0.7h-0.7zM128.71 71.1h0.7v0.7h-0.7zM140.59 76.63h0.7v0.7h-0.7zM134.79 82.63h0.7v0.7h-0.7zM131.98 66.23h0.7v0.7h-0.7zM136.08 90.78h0.7v0.7h-0.7zM139.59 76.96h0.7v0.7h-0.7zM139.58 73.38h0.7v0.7h-0.7zM131.83 62.24h0.7v0.7h-0.7zM136.96 84.93h0.7v0.7h-0.7zM137.32 76.67h0.7v0.7h-0.7zM134.58 86.61h0.7v0.7h-0.7zM135.84 64.31h0.7v0.7h-0.7zM140.85 71.28h0.7v0.7h-0.7zM137.38 77.03h0.7v0.7h-0.7zM139.73 79.18h0.7v0.7h-0.7zM140.34 78.86h0.7v0.7h-0.7zM134.37 72.52h0.7v0.7h-0.7zM138.3 69.69h0.7v0.7h-0.7zM139.28 74.89h0.7v0.7h-0.7zM132.72 69.3h0.7v0.7h-0.7zM135.49 92.61h0.7v0.7h-0.7zM138.73 77.17h0.7v0.7h-0.7zM132.8 93.8h0.7v0.7h-0.7zM135.02 76.99h0.7v0.7h-0.7zM134.5 88.76h0.7v0.7h-0.7zM136.62 72.97h0.7v0.7h-0.7zM136.66 68.19h0.7v0.7h-0.7zM132.28 75.58h0.7v0.7h-0.7zM125.82 87.37h0.7v0.7h-0.7zM143.03 67.2h0.7v0.7h-0.7zM135.5 63.09h0.7v0.7h-0.7zM136.61 78.87h0.7v0.7h-0.7zM138.62 65.24h0.7v0.7h-0.7zM133.88 71.3h0.7v0.7h-0.7zM135.29 76.64h0.7v0.7h-0.7zM134.2 84.03h0.7v0.7h-0.7zM145.07 87.25h0.7v0.7h-0.7zM141.42 67.53h0.7v0.7h-0.7zM139.74 77.25h0.7v0.7h-0.7zM140.43 86.34h0.7v0.7h-0.7zM138.32 62.21h0.7v0.7h-0.7zM136.47 72.59h0.7v0.7h-0.7zM137.58 77.33h0.7v0.7h-0.7zM139.71 62.85h0.7v0.7h-0.7zM133.38 76.33h0.7v0.7h-0.7zM137.14 73.43h0.7v0.7h-0.7zM135.9 77.49h0.7v0.7h-0.7zM139.71 76h0.7v0.7h-0.7zM136.86 60.96h0.7v0.7h-0.7zM126.74 64.08h0.7v0.7h-0.7zM137.26 56.65h0.7v0.7h-0.7zM137.45 76.15h0.7v0.7h-0.7zM136.01 70.55h0.7v0.7h-0.7zM134.51 84.34h0.7v0.7h-0.7zM137.27 76.77h0.7v0.7h-0.7zM134.27 78.87h0.7v0.7h-0.7zM140.21 76.83h0.7v0.7h-0.7zM134.7 66.59h0.7v0.7h-0.7zM136.35 68.89h0.7v0.7h-0.7zM130.91 84.69h0.7v0.7h-0.7zM133.79 59.01h0.7v0.7h-0.7zM133.46 93.28h0.7v0.7h-0.7zM135.62 65.29h0.7v0.7h-0.7zM132.1 83.35h0.7v0.7h-0.7zM137.44 78.89h0.7v0.7h-0.7zM135.31 81.28h0.7v0.7h-0.7zM141.45 81.31h0.7v0.7h-0.7zM135.42 64.64h0.7v0.7h-0.7zM137.58 90.85h0.7v0.7h-0.7zM138.29 65.89h0.7v0.7h-0.7zM136.66 88.49h0.7v0.7h-0.7zM133.75 81.38h0.7v0.7h-0.7zM140.29 91.47h0.7v0.7h-0.7zM130.36 61.55h0.7v0.7h-0.7zM137.33 83.22h0.7v0.7h-0.7zM134.75 76.82h0.7v0.7h-0.7zM134.55 87.62h0.7v0.7h-0.7zM128.16 79.25h0.7v0.7h-0.7zM131.47 71.01h0.7v0.7h-0.7zM130.57 68.95h0.7v0.7h-0.7zM135.92 77.23h0.7v0.7h-0.7zM142.34 75.05h0.7v0.7h-0.7zM137.23 80.13h0.7v0.7h-0.7zM136.91 89.99h0.7v0.7h-0.7zM136.49 78.33h0.7v0.7h-0.7zM135.6 77.04h0.7v0.7h-0.7zM135.8 85.82h0.7v0.7h-0.7zM136.07 77.61h0.7v0.7h-0.7zM135.83 83.71h0.7v0.7h-0.7zM134.32 85.32h0.7v0.7h-0.7zM133.97 83.14h0.7v0.7h-0.7zM142.81 79.06h0.7v0.7h-0.7zM135.69 66.54h0.7v0.7h-0.7zM138.62 77.12h0.7v0.7h-0.7zM139.23 71.18h0.7v0.7h-0.7zM137.85 93.01h0.7v0.7h-0.7zM137.43 74.1h0.7v0.7h-0.7zM131.38 76.92h0.7v0.7h-0.7zM138.34 82.31h0.7v0.7h-0.7zM132.03 67.89h0.7v0.7h-0.7zM132.54 67.95h0.7v0.7h-0.7zM135.02 79.36h0.7v0.7h-0.7zM142.83 78.74h0.7v0.7h-0.7zM141.16 62.34h0.7v0.7h-0.7zM141.48 84.09h0.7v0.7h-0.7zM137.57 84.32h0.7v0.7h-0.7zM138.19 93.98h0.7v0.7h-0.7zM138.86 61.56h0.7v0.7h-0.7zM129.79 91.31h0.7v0.7h-0.7zM135.7 88.74h0.7v0.7h-0.7zM134.78 71.18h0.7v0.7h-0.7zM134.78 79.8h0.7v0.7h-0.7zM136.66 71.5h0.7v0.7h-0.7zM137.91 82.48h0.7v0.7h-0.7zM132.74 67.11h0.7v0.7h-0.7zM129.03 74.28h0.7v0.7h-0.7zM136.04 70.83h0.7v0.7h-0.7zM133.86 75.81h0.7v0.7h-0.7zM136.1 82.07h0.7v0.7h-0.7zM138.96 80.89h0.7v0.7h-0.7zM139.98 68.39h0.7v0.7h-0.7zM138.16 80.31h0.7v0.7h-0.7zM132.29 70.98h0.7v0.7h-0.7zM137.58 77.67h0.7v0.7h-0.7zM131.53 72.09h0.7v0.7h-0.7zM141.42 84.5h0.7v0.7h-0.7zM136.29 88.98h0.7v0.7h-0.7zM132.77 75.48h0.7v0.7h-0.7zM139.41 74.01h0.7v0.7h-0.7zM132.02 82.21h0.7v0.7h-0.7zM141.7 54.44h0.7v0.7h-0.7zM136.55 65.89h0.7v0.7h-0.7zM134.94 64.44h0.7v0.7h-0.7zM145.25 70.95h0.7v0.7h-0.7zM136.16 70.73h0.7v0.7h-0.7zM132.48 72.96h0.7v0.7h-0.7zM136.74 92.59h0.7v0.7h-0.7zM137.02 90.92h0.7v0.7h-0.7zM132.21 77.64h0.7v0.7h-0.7zM134.45 63.07h0.7v0.7h-0.7zM149.26 74.84h0.7v0.7h-0.7zM136.87 70.3h0.7v0.7h-0.7zM133.95 67.8h0.7v0.7h-0.7zM139.65 73.42h0.7v0.7h-0.7zM135.48 78.61h0.7v0.7h-0.7zM131.64 79.07h0.7v0.7h-0.7zM135.39 80.96h0.7v0.7h-0.7zM134.63 77.35h0.7v0.7h-0.7zM137.84 85.59h0.7v0.7h-0.7zM133.55 85.65h0.7v0.7h-0.7zM132.49 75.32h0.7v0.7h-0.7zM136.46 78.29h0.7v0.7h-0.7zM127.12 68.3h0.7v0.7h-0.7zM135.35 85.22h0.7v0.7h-0.7zM133.49 90.44h0.7v0.7h-0.7zM129.59 77.68h0.7v0.7h-0.7zM137.92 77.16h0.7v0.7h-0.7zM136.94 85.31h0.7v0.7h-0.7zM133.13 82.24h0.7v0.7h-0.7zM139.78 74.93h0.7v0.7h-0.7zM127.76 66.41h0.7v0.7h-0.7zM132.96 67.59h0.7v0.7h-0.7zM137.53 69.84h0.7v0.7h-0.7zM144.82 82.07h0.7v0.7h-0.7zM131.35 74.45h0.7v0.7h-0.7zM141.44 83.05h0.7v0.7h-0.7zM132.38 86.21h0.7v0.7h-0.7zM134.04 82.3h0.7v0.7h-0.7zM138.01 73.05h0.7v0.7h-0.7zM135.45 87.31h0.7v0.7h-0.7zM137.77 76.46h0.7v0.7h-0.7zM137.58 92.55h0.7v0.7h-0.7zM139.32 81.23h0.7v0.7h-0.7zM137.17 63.09h0.7v0.7h-0.7zM136.48 72.67h0.7v0.7h-0.7zM138.61 71.6h0.7v0.7h-0.7zM137.6 67.65h0.7v0.7h-0.7zM139.18 70.53h0.7v0.7h-0.7zM135.9 82.14h0.7v0.7h-0.7zM134.85 77.06h0.7v0.7h-0.7zM139.77 92.73h0.7v0.7h-0.7zM129.58 68.97h0.7v0.7h-0.7zM138.4 85.36h0.7v0.7h-0.7zM134.31 77.84h0.7v0.7h-0.7zM135.29 66.41h0.7v0.7h-0.7zM130.48 65.65h0.7v0.7h-0.7zM140.64 73.54h0.7v0.7h-0.7zM142.94 82.67h0.7v0.7h-0.7zM137.36 82.73h0.7v0.7h-0.7zM138.81 85.18h0.7v0.7h-0.7zM132.53 72.04h0.7v0.7h-0.7zM134.05 77.93h0.7v0.7h-0.7zM135.11 66.05h0.7v0.7h-0.7zM133.53 92.89h0.7v0.7h-0.7zM143.55 69.39h0.7v0.7h-0.7zM137.35 76.68h0.7v0.7h-0.7zM132.99 83.34h0.7v0.7h-0.7zM135.75 91.84h0.7v0.7h-0.7zM137.63 74.24h0.7v0.7h-0.7zM126.58 76.09h0.7v0.7h-0.7zM139.02 70.66h0.7v0.7h-0.7zM139.14 83.07h0.7v0.7h-0.7zM129.72 75.26h0.7v0.7h-0.7zM137.14 83.71h0.7v0.7h-0.7zM136.55 76.87h0.7v0.7h-0.7zM134.77 74.42h0.7v0.7h-0.7zM136.01 67.55h0.7v0.7h-0.7zM138.28 74.11h0.7v0.7h-0.7zM137.86 72.5h0.7v0.7h-0.7zM137.46 78.13h0.7v0.7h-0.7zM139.17 81.11h0.7v0.7h-0.7zM139.32 75.52h0.7v0.7h-0.7zM135.8 74.68h0.7v0.7h-0.7zM131.54 75.89h0.7v0.7h-0.7zM139.87 83.85h0.7v0.7h-0.7zM132.98 79.66h0.7v0.7h-0.7zM138.67 64.92h0.7v0.7h-0.7zM137.24 79.93h0.7v0.7h-0.7zM138.66 79.27h0.7v0.7h-0.7zM129.81 59.1h0.7v0.7h-0.7zM143.06 73.49h0.7v0.7h-0.7zM140.53 88.23h0.7v0.7h-0.7zM136.31 66.85h0.7v0.7h-0.7zM140.87 76.67h0.7v0.7h-0.7zM137.85 81.25h0.7v0.7h-0.7zM139.39 85.99h0.7v0.7h-0.7zM130.95 64.5h0.7v0.7h-0.7zM136.5 77.08h0.7v0.7h-0.7zM138.77 75.8h0.7v0.7h-0.7zM140.89 87.28h0.7v0.7h-0.7zM139.69 70.01h0.7v0.7h-0.7zM135.7 76.38h0.7v0.7h-0.7zM132.11 69.29h0.7v0.7h-0.7zM136.57 66.23h0.7v0.7h-0.7zM137.93 81.19h0.7v0.7h-0.7zM135.16 74h0.7v0.7h-0.7zM138.14 81.25h0.7v0.7h-0.7zM137.3 66.16h0.7v0.7h-0.7zM133.68 73.76h0.7v0.7h-0.7zM129.51 69.92h0.7v0.7h-0.7zM133.39 84.07h0.7v0.7h-0.7zM126.6 64.58h0.7v0.7h-0.7zM134.53 72.65h0.7v0.7h-0.7zM133.24 73.09h0.7v0.7h-0.7zM130.39 79.37h0.7v0.7h-0.7zM140.25 78.36h0.7v0.7h-0.7zM134.09 88.19h0.7v0.7h-0.7zM137.74 67.88h0.7v0.7h-0.7zM133.96 71.59h0.7v0.7h-0.7zM135.84 87.74h0.7v0.7h-0.7zM133.49 75.7h0.7v0.7h-0.7zM136.4 66.46h0.7v0.7h-0.7zM134.3 82.43h0.7v0.7h-0.7zM140.03 60.42h0.7v0.7h-0.7zM138.52 74.43h0.7v0.7h-0.7zM140.59 82.5h0.7v0.7h-0.7zM143.01 79.75h0.7v0.7h-0.7zM134.59 69.64h0.7v0.7h-0.7zM130.91 81.91h0.7v0.7h-0.7zM137.83 84.25h0.7v0.7h-0.7zM137.25 63.76h0.7v0.7h-0.7zM134.56 74.85h0.7v0.7h-0.7zM136.57 83.78h0.7v0.7h-0.7zM141.05 79.53h0.7v0.7h-0.7zM128.66 67.97h0.7v0.7h-0.7zM128.41 70.25h0.7v0.7h-0.7zM131.74 79.11h0.7v0.7h-0.7zM135.21 86.86h0.7v0.7h-0.7zM139.84 72.97h0.7v0.7h-0.7zM139.36 77.11h0.7v0.7h-0.7zM137.62 88.91h0.7v0.7h-0.7zM131.92 76.41h0.7v0.7h-0.7zM141.47 70.25h0.7v0.7h-0.7zM136.77 78.17h0.7v0.7h-0.7zM134.52 65.45h0.7v0.7h-0.7zM133.56 68.33h0.7v0.7h-0.7zM139.85 79.2h0.7v0.7h-0.7zM138.5 66.5h0.7v0.7h-0.7zM137.78 78.27h0.7v0.7h-0.7zM139.73 70.64h0.7v0.7h-0.7zM138.88 89.11h0.7v0.7h-0.7zM142.42 68.8h0.7v0.7h-0.7zM132.01 64.08h0.7v0.7h-0.7zM139.42 82.25h0.7v0.7h-0.7zM137.22 69.36h0.7v0.7h-0.7zM140.46 91.17h0.7v0.7h-0.7zM135.88 75.94h0.7v0.7h-0.7zM140.23 81.47h0.7v0.7h-0.7zM140.78 73.44h0.7v0.7h-0.7zM137.21 74.02h0.7v0.7h-0.7zM133.98 74.38h0.7v0.7h-0.7zM134.99 81.45h0.7v0.7h-0.7zM134.92 77.62h0.7v0.7h-0.7zM133.13 66.19h0.7v0.7h-0.7zM141.08 68.33h0.7v0.7h-0.7zM142.45 85.29h0.7v0.7h-0.7zM127.86 71.37h0.7v0.7h-0.7zM134.52 77.19h0.7v0.7h-0.7zM135.37 71.68h0.7v0.7h-0.7zM140.46 75.88h0.7v0.7h-0.7zM139.43 70.96h0.7v0.7h-0.7zM133.55 88.76h0.7v0.7h-0.7zM135 67.32h0.7v0.7h-0.7zM135.4 86.28h0.7v0.7h-0.7zM135.43 70.68h0.7v0.7h-0.7zM138.27 85.67h0.7v0.7h-0.7zM135.27 74.2h0.7v0.7h-0.7zM135.34 92.38h0.7v0.7h-0.7zM135.48 80.58h0.7v0.7h-0.7zM128.76 78.57h0.7v0.7h-0.7zM136.19 74.22h0.7v0.7h-0.7zM134.55 65h0.7v0.7h-0.7zM130.71 78.47h0.7v0.7h-0.7zM133.73 76.22h0.7v0.7h-0.7zM135.36 72.55h0.7v0.7h-0.7zM133.42 93.35h0.7v0.7h-0.7zM132.08 72.53h0.7v0.7h-0.7zM134.96 66.85h0.7v0.7h-0.7zM132.6 84.6h0.7v0.7h-0.7zM139.32 78.17h0.7v0.7h-0.7zM147.53 84.3h0.7v0.7h-0.7zM140.39 69.83h0.7v0.7h-0.7zM139.86 91.83h0.7v0.7h-0.7zM134.66 92.92h0.7v0.7h-0.7zM133.14 67.03h0.7v0.7h-0.7zM135.85 69.91h0.7v0.7h-0.7zM138.27 67.28h0.7v0.7h-0.7zM136.3 59.79h0.7v0.7h-0.7zM135.89 86.25h0.7v0.7h-0.7zM135.07 79.75h0.7v0.7h-0.7zM139.89 67.35h0.7v0.7h-0.7zM131.49 77.72h0.7v0.7h-0.7zM137 74.65h0.7v0.7h-0.7zM132.56 87.68h0.7v0.7h-0.7zM131.88 74.72h0.7v0.7h-0.7zM135.86 83.38h0.7v0.7h-0.7zM134.42 69.79h0.7v0.7h-0.7zM143.17 69.58h0.7v0.7h-0.7zM138.85 75.65h0.7v0.7h-0.7zM134.32 76.62h0.7v0.7h-0.7zM135.1 79.74h0.7v0.7h-0.7zM126.97 76.77h0.7v0.7h-0.7zM136.27 68.47h0.7v0.7h-0.7zM142.57 82.65h0.7v0.7h-0.7zM136.84 74.33h0.7v0.7h-0.7zM140.95 73.07h0.7v0.7h-0.7zM133.1 83.09h0.7v0.7h-0.7zM132.58 70.06h0.7v0.7h-0.7zM141.16 62.89h0.7v0.7h-0.7zM135.78 78.06h0.7v0.7h-0.7zM136.93 64.21h0.7v0.7h-0.7zM135.21 74.07h0.7v0.7h-0.7zM142.84 85.83h0.7v0.7h-0.7zM133.33 84.69h0.7v0.7h-0.7zM138.34 76.01h0.7v0.7h-0.7zM135.15 74.59h0.7v0.7h-0.7zM130.53 71.47h0.7v0.7h-0.7zM139.34 89.7h0.7v0.7h-0.7zM142.6 73.7h0.7v0.7h-0.7zM138.2 55.87h0.7v0.7h-0.7zM135.06 65.91h0.7v0.7h-0.7zM138.94 62.44h0.7v0.7h-0.7zM132.31 67.3h0.7v0.7h-0.7zM137.42 84.37h0.7v0.7h-0.7zM132.75 92.85h0.7v0.7h-0.7zM136.59 69.69h0.7v0.7h-0.7zM137.26 76.88h0.7v0.7h-0.7zM138.97 80.03h0.7v0.7h-0.7zM143.79 87.28h0.7v0.7h-0.7zM133.75 83.92h0.7v0.7h-0.7zM138.72 68.22h0.7v0.7h-0.7zM133.35 69.92h0.7v0.7h-0.7zM127.25 82.6h0.7v0.7h-0.7zM135.25 87.83h0.7v0.7h-0.7zM134.03 77.67h0.7v0.7h-0.7zM138.6 85.51h0.7v0.7h-0.7zM137.15 67.87h0.7v0.7h-0.7zM143.84 84.63h0.7v0.7h-0.7zM140.86 91.22h0.7v0.7h-0.7zM141.01 80.65h0.7v0.7h-0.7zM137.7 82.55h0.7v0.7h-0.7zM130.68 84.15h0.7v0.7h-0.7zM132.56 80.71h0.7v0.7h-0.7zM132.43 83.28h0.7v0.7h-0.7zM136.7 81.47h0.7v0.7h-0.7zM132.81 74.48h0.7v0.7h-0.7zM135.82 74.49h0.7v0.7h-0.7zM134.48 69.33h0.7v0.7h-0.7zM138.73 73.64h0.7v0.7h-0.7zM133.13 80.22h0.7v0.7h-0.7zM133.14 75.48h0.7v0.7h-0.7zM134.21 68.89h0.7v0.7h-0.7zM135.22 69.79h0.7v0.7h-0.7zM131.58 80.1h0.7v0.7h-0.7zM134.97 64.17h0.7v0.7h-0.7zM134.62 78.64h0.7v0.7h-0.7zM137.54 80.29h0.7v0.7h-0.7zM136.93 82.24h0.7v0.7h-0.7zM134.27 70.01h0.7v0.7h-0.7zM138.2 73.41h0.7v0.7h-0.7zM136.06 82.72h0.7v0.7h-0.7zM139.36 87.73h0.7v0.7h-0.7zM133.59 73.76h0.7v0.7h-0.7zM138 64.45h0.7v0.7h-0.7zM131.56 82.34h0.7v0.7h-0.7zM133.85 68.92h0.7v0.7h-0.7zM138.88 81.67h0.7v0.7h-0.7zM139.28 74.11h0.7v0.7h-0.7zM135 74.03h0.7v0.7h-0.7zM137.08 59.22h0.7v0.7h-0.7zM133.57 83.21h0.7v0.7h-0.7zM133.26 76.44h0.7v0.7h-0.7zM136.47 81.57h0.7v0.7h-0.7zM134.34 67.09h0.7v0.7h-0.7zM144.88 70.74h0.7v0.7h-0.7zM142.09 61.62h0.7v0.7h-0.7zM136.42 75.29h0.7v0.7h-0.7zM139.49 68.13h0.7v0.7h-0.7zM133.18 70.42h0.7v0.7h-0.7zM134.2 79.3h0.7v0.7h-0.7zM133.25 74.85h0.7v0.7h-0.7zM141.25 89.61h0.7v0.7h-0.7zM129.44 68.68h0.7v0.7h-0.7zM134.71 88.36h0.7v0.7h-0.7zM134.86 93.72h0.7v0.7h-0.7zM137.32 89.57h0.7v0.7h-0.7zM132.99 74.3h0.7v0.7h-0.7zM139.64 82.01h0.7v0.7h-0.7zM129.42 74.61h0.7v0.7h-0.7zM136.67 82.52h0.7v0.7h-0.7zM133.79 92.23h0.7v0.7h-0.7zM136.57 89.68h0.7v0.7h-0.7zM137.46 77.75h0.7v0.7h-0.7zM134.91 66.81h0.7v0.7h-0.7zM139.09 83.63h0.7v0.7h-0.7zM139.34 73.73h0.7v0.7h-0.7zM132.48 73.7h0.7v0.7h-0.7zM134.93 76.91h0.7v0.7h-0.7zM139.51 69.05h0.7v0.7h-0.7zM134.31 83.03h0.7v0.7h-0.7zM137.9 69.62h0.7v0.7h-0.7zM132.36 70.11h0.7v0.7h-0.7zM136.29 79.23h0.7v0.7h-0.7zM135.8 71.66h0.7v0.7h-0.7zM135.39 76.34h0.7v0.7h-0.7zM138.14 77.74h0.7v0.7h-0.7zM133.18 66.81h0.7v0.7h-0.7zM141.28 76.26h0.7v0.7h-0.7zM135.42 76.8h0.7v0.7h-0.7zM140.03 74.28h0.7v0.7h-0.7zM136.66 74.95h0.7v0.7h-0.7zM138.09 68.2h0.7v0.7h-0.7zM136.76 85.99h0.7v0.7h-0.7zM140.23 82.4h0.7v0.7h-0.7zM137.08 90.73h0.7v0.7h-0.7zM138.54 89.22h0.7v0.7h-0.7zM131.8 67.44h0.7v0.7h-0.7zM138.87 74.69h0.7v0.7h-0.7zM134.52 68.74h0.7v0.7h-0.7zM141.29 66.61h0.7v0.7h-0.7zM136.42 64.86h0.7v0.7h-0.7zM144.64 72.71h0.7v0.7h-0.7zM132.48 91.22h0.7v0.7h-0.7zM133.02 61.47h0.7v0.7h-0.7zM137.27 67.62h0.7v0.7h-0.7zM130.93 86.81h0.7v0.7h-0.7zM133.47 67.75h0.7v0.7h-0.7zM136.64 75.37h0.7v0.7h-0.7zM140.01 77.85h0.7v0.7h-0.7zM141.66 86.93h0.7v0.7h-0.7zM142.33 86.79h0.7v0.7h-0.7zM136.3 81.77h0.7v0.7h-0.7zM136.13 63.46h0.7v0.7h-0.7zM131.9 83.47h0.7v0.7h-0.7zM127.71 69.83h0.7v0.7h-0.7zM131.52 76.47h0.7v0.7h-0.7zM132.4 79.19h0.7v0.7h-0.7zM135.36 72.93h0.7v0.7h-0.7zM133.07 57.67h0.7v0.7h-0.7zM136.31 65.76h0.7v0.7h-0.7zM135.01 80.25h0.7v0.7h-0.7zM139.75 83.14h0.7v0.7h-0.7zM141.27 64.65h0.7v0.7h-0.7zM138.43 90.68h0.7v0.7h-0.7zM137.45 67.36h0.7v0.7h-0.7zM137.46 72.5h0.7v0.7h-0.7zM133.79 86.29h0.7v0.7h-0.7zM135.43 67.28h0.7v0.7h-0.7zM133.67 94.11h0.7v0.7h-0.7zM133.08 82.9h0.7v0.7h-0.7zM136.68 87.2h0.7v0.7h-0.7zM135.07 68.79h0.7v0.7h-0.7zM133.8 68.06h0.7v0.7h-0.7zM145.19 78.72h0.7v0.7h-0.7zM134.93 87.98h0.7v0.7h-0.7zM138.37 75.43h0.7v0.7h-0.7zM138.25 79.39h0.7v0.7h-0.7zM140.02 91.4h0.7v0.7h-0.7zM134.95 76.71h0.7v0.7h-0.7zM135.42 87.67h0.7v0.7h-0.7zM137.41 83.84h0.7v0.7h-0.7zM139.22 71.49h0.7v0.7h-0.7zM136.51 89.08h0.7v0.7h-0.7zM139.31 84.1h0.7v0.7h-0.7zM135.07 73.89h0.7v0.7h-0.7zM133.04 74.67h0.7v0.7h-0.7zM135.83 64.56h0.7v0.7h-0.7zM140.15 70.37h0.7v0.7h-0.7zM136.94 82.26h0.7v0.7h-0.7zM134.12 61.28h0.7v0.7h-0.7zM139.45 80.58h0.7v0.7h-0.7zM135.17 86.89h0.7v0.7h-0.7zM139.21 68.72h0.7v0.7h-0.7zM135.78 61.7h0.7v0.7h-0.7zM135.14 89.31h0.7v0.7h-0.7zM133.11 84.21h0.7v0.7h-0.7zM130.76 74.46h0.7v0.7h-0.7zM139.37 91.97h0.7v0.7h-0.7zM137.65 83.61h0.7v0.7h-0.7zM142.1 55.79h0.7v0.7h-0.7zM130.06 93.48h0.7v0.7h-0.7zM144.73 82.23h0.7v0.7h-0.7zM136.29 79.29h0.7v0.7h-0.7zM136.16 71.68h0.7v0.7h-0.7zM136.01 75.93h0.7v0.7h-0.7zM138.41 82.95h0.7v0.7h-0.7zM139.5 82.14h0.7v0.7h-0.7zM132.65 89.14h0.7v0.7h-0.7zM126.68 78.04h0.7v0.7h-0.7zM137.22 72.41h0.7v0.7h-0.7zM142.63 67.52h0.7v0.7h-0.7zM131.96 72.63h0.7v0.7h-0.7zM137.53 83.94h0.7v0.7h-0.7zM136.44 82.84h0.7v0.7h-0.7zM133.6 71.76h0.7v0.7h-0.7zM136.52 65.33h0.7v0.7h-0.7zM136.72 73.59h0.7v0.7h-0.7zM138.46 68.22h0.7v0.7h-0.7zM134.21 72.1h0.7v0.7h-0.7zM134.78 68.34h0.7v0.7h-0.7zM135.15 65.27h0.7v0.7h-0.7zM137.94 82.87h0.7v0.7h-0.7zM136.01 75.39h0.7v0.7h-0.7zM132.94 68.67h0.7v0.7h-0.7zM135.29 69.16h0.7v0.7h-0.7zM131.94 78.48h0.7v0.7h-0.7zM135.99 73.5h0.7v0.7h-0.7zM133.21 76.55h0.7v0.7h-0.7zM133.64 73.29h0.7v0.7h-0.7zM136.71 83.29h0.7v0.7h-0.7zM138.7 71.75h0.7v0.7h-0.7zM140.28 66.96h0.7v0.7h-0.7zM135.46 88.36h0.7v0.7h-0.7zM144.35 78.15h0.7v0.7h-0.7zM134.8 73.78h0.7v0.7h-0.7zM131.82 75.75h0.7v0.7h-0.7zM134.58 70.47h0.7v0.7h-0.7zM140.24 70.25h0.7v0.7h-0.7zM141.97 84.33h0.7v0.7h-0.7zM138.3 71.91h0.7v0.7h-0.7zM134.28 59.67h0.7v0.7h-0.7zM137.01 74.68h0.7v0.7h-0.7zM137.41 71.19h0.7v0.7h-0.7zM137.76 64.01h0.7v0.7h-0.7zM128.42 81.15h0.7v0.7h-0.7zM139.81 49.66h0.7v0.7h-0.7zM140.54 73.99h0.7v0.7h-0.7zM135.49 63.65h0.7v0.7h-0.7zM132.57 83.21h0.7v0.7h-0.7zM133.49 76.69h0.7v0.7h-0.7zM135.52 94.32h0.7v0.7h-0.7zM139.16 65.54h0.7v0.7h-0.7zM134.38 67.04h0.7v0.7h-0.7zM131.22 71.08h0.7v0.7h-0.7zM139.89 77.45h0.7v0.7h-0.7zM128 75.97h0.7v0.7h-0.7zM121.64 77.65h0.7v0.7h-0.7zM123.65 91.91h0.7v0.7h-0.7zM134.52 79.93h0.7v0.7h-0.7zM127.59 61.62h0.7v0.7h-0.7zM119.45 83.31h0.7v0.7h-0.7zM131.17 73.94h0.7v0.7h-0.7zM122.78 73.49h0.7v0.7h-0.7zM128.7 77.19h0.7v0.7h-0.7zM132.81 86.19h0.7v0.7h-0.7zM122.3 72.3h0.7v0.7h-0.7zM122.72 70.21h0.7v0.7h-0.7zM121.65 76.46h0.7v0.7h-0.7zM129.25 64.79h0.7v0.7h-0.7zM115.97 71.04h0.7v0.7h-0.7zM122.32 80.53h0.7v0.7h-0.7zM119.52 88.69h0.7v0.7h-0.7zM121.02 75.34h0.7v0.7h-0.7zM124.4 86.07h0.7v0.7h-0.7zM125.81 77.22h0.7v0.7h-0.7zM120.94 78.33h0.7v0.7h-0.7zM126.41 74.3h0.7v0.7h-0.7zM123.95 62.76h0.7v0.7h-0.7zM121 86.16h0.7v0.7h-0.7zM132.3 76.45h0.7v0.7h-0.7zM121.69 84.78h0.7v0.7h-0.7zM120.51 87.65h0.7v0.7h-0.7zM130.78 68.76h0.7v0.7h-0.7zM122.79 67.63h0.7v0.7h-0.7zM125.68 73.91h0.7v0.7h-0.7zM115.4 68.88h0.7v0.7h-0.7zM125.49 65.21h0.7v0.7h-0.7zM130.32 80.5h0.7v0.7h-0.7zM123.03 87.87h0.7v0.7h-0.7zM118.72 82.33h0.7v0.7h-0.7zM116.23 74.49h0.7v0.7h-0.7zM127.77 72.86h0.7v0.7h-0.7zM123.4 82.05h0.7v0.7h-0.7zM132.88 87.11h0.7v0.7h-0.7zM126.72 74.99h0.7v0.7h-0.7zM115.7 90.33h0.7v0.7h-0.7zM134.91 60.28h0.7v0.7h-0.7zM129.1 76.68h0.7v0.7h-0.7zM128.16 79.46h0.7v0.7h-0.7zM122.95 76.98h0.7v0.7h-0.7zM123.85 86.05h0.7v0.7h-0.7zM122.55 72.78h0.7v0.7h-0.7zM127.84 82.01h0.7v0.7h-0.7zM126.58 79.21h0.7v0.7h-0.7zM132.58 85.66h0.7v0.7h-0.7zM125.29 75.37h0.7v0.7h-0.7zM127.88 62.48h0.7v0.7h-0.7zM121.05 71.51h0.7v0.7h-0.7zM125.05 74.02h0.7v0.7h-0.7zM138.29 82.74h0.7v0.7h-0.7zM124.05 74.52h0.7v0.7h-0.7zM131.17 83.45h0.7v0.7h-0.7zM129.4 86.41h0.7v0.7h-0.7zM121.96 71.87h0.7v0.7h-0.7zM119.9 77.81h0.7v0.7h-0.7zM129.85 68.83h0.7v0.7h-0.7zM120.97 66.6h0.7v0.7h-0.7zM135.6 83.23h0.7v0.7h-0.7zM125.32 67.54h0.7v0.7h-0.7zM118.11 71.98h0.7v0.7h-0.7zM124.25 67.13h0.7v0.7h-0.7zM122.75 86.5h0.7v0.7h-0.7zM124.13 77.77h0.7v0.7h-0.7zM123.21 71.62h0.7v0.7h-0.7zM116.07 76.45h0.7v0.7h-0.7zM118.15 72.75h0.7v0.7h-0.7zM114.85 76.28h0.7v0.7h-0.7zM129.3 70.46h0.7v0.7h-0.7zM125.93 65.2h0.7v0.7h-0.7zM127.4 81.23h0.7v0.7h-0.7zM121.82 83.89h0.7v0.7h-0.7zM119 77.37h0.7v0.7h-0.7zM133.76 76.82h0.7v0.7h-0.7zM117.58 85.99h0.7v0.7h-0.7zM127.15 74.85h0.7v0.7h-0.7zM113.57 62.34h0.7v0.7h-0.7zM115.29 88.56h0.7v0.7h-0.7zM125.75 70.37h0.7v0.7h-0.7zM130.7 88.42h0.7v0.7h-0.7zM119.19 80.76h0.7v0.7h-0.7zM114.56 79.91h0.7v0.7h-0.7zM134.52 66h0.7v0.7h-0.7zM124.38 72.05h0.7v0.7h-0.7zM123.52 77.69h0.7v0.7h-0.7zM125.67 83.95h0.7v0.7h-0.7zM127.01 85.16h0.7v0.7h-0.7zM129.9 85.58h0.7v0.7h-0.7zM120.17 80.19h0.7v0.7h-0.7zM121.9 70.44h0.7v0.7h-0.7zM135.33 79.28h0.7v0.7h-0.7zM124.32 60.59h0.7v0.7h-0.7zM122.72 83.03h0.7v0.7h-0.7zM122.88 72.75h0.7v0.7h-0.7zM132.54 74.57h0.7v0.7h-0.7zM122.14 76.22h0.7v0.7h-0.7zM122.69 85.21h0.7v0.7h-0.7zM127.33 76.46h0.7v0.7h-0.7zM121.98 75.24h0.7v0.7h-0.7zM133.79 74.62h0.7v0.7h-0.7zM127.81 64.7h0.7v0.7h-0.7zM125.91 82.37h0.7v0.7h-0.7zM131.37 79.47h0.7v0.7h-0.7zM127.38 79.52h0.7v0.7h-0.7zM130.19 92.98h0.7v0.7h-0.7zM125.21 70.64h0.7v0.7h-0.7zM127.48 76.14h0.7v0.7h-0.7zM127.73 83.06h0.7v0.7h-0.7zM124.94 73.57h0.7v0.7h-0.7zM125.82 67.27h0.7v0.7h-0.7zM125.63 70.09h0.7v0.7h-0.7zM126.64 77.96h0.7v0.7h-0.7zM122.8 67.62h0.7v0.7h-0.7zM124.35 71.69h0.7v0.7h-0.7zM123.24 82.42h0.7v0.7h-0.7zM129.53 66.95h0.7v0.7h-0.7zM129.43 87.63h0.7v0.7h-0.7zM130.53 79.16h0.7v0.7h-0.7zM123.54 90.59h0.7v0.7h-0.7zM122.22 65.09h0.7v0.7h-0.7zM124.58 79.24h0.7v0.7h-0.7zM118.11 67.5h0.7v0.7h-0.7zM135.44 77.89h0.7v0.7h-0.7zM128.54 72.45h0.7v0.7h-0.7zM115.36 75.61h0.7v0.7h-0.7zM131.76 71.79h0.7v0.7h-0.7zM113.78 75.65h0.7v0.7h-0.7zM122.45 77.13h0.7v0.7h-0.7zM118.07 74.58h0.7v0.7h-0.7zM120.94 83.89h0.7v0.7h-0.7zM124.93 83.8h0.7v0.7h-0.7zM123.77 60.35h0.7v0.7h-0.7zM112.83 81.18h0.7v0.7h-0.7zM129.09 83.83h0.7v0.7h-0.7zM123.64 63.06h0.7v0.7h-0.7zM121.24 80.16h0.7v0.7h-0.7zM131.98 74.32h0.7v0.7h-0.7zM120.84 70.95h0.7v0.7h-0.7zM129.91 83.78h0.7v0.7h-0.7zM113.59 86.48h0.7v0.7h-0.7zM118.78 65.52h0.7v0.7h-0.7zM114.91 71.33h0.7v0.7h-0.7zM116.93 71.76h0.7v0.7h-0.7zM124.97 80.25h0.7v0.7h-0.7zM121.32 64.63h0.7v0.7h-0.7zM121.7 71.69h0.7v0.7h-0.7zM113.78 78.13h0.7v0.7h-0.7zM115.65 63.44h0.7v0.7h-0.7zM132.77 84.35h0.7v0.7h-0.7zM132.38 77.93h0.7v0.7h-0.7zM121.7 76.33h0.7v0.7h-0.7zM116.22 82.79h0.7v0.7h-0.7zM125.62 74.63h0.7v0.7h-0.7zM113.33 76.14h0.7v0.7h-0.7zM133.41 88.32h0.7v0.7h-0.7zM129.09 74.25h0.7v0.7h-0.7zM124.86 81.34h0.7v0.7h-0.7zM125.19 85.18h0.7v0.7h-0.7zM120.24 58.88h0.7v0.7h-0.7zM116.13 82.19h0.7v0.7h-0.7zM130.25 77.01h0.7v0.7h-0.7zM127.16 77.61h0.7v0.7h-0.7zM125.07 73.32h0.7v0.7h-0.7zM121.75 86.3h0.7v0.7h-0.7zM122.53 76.68h0.7v0.7h-0.7zM130.93 84.69h0.7v0.7h-0.7zM121.82 78.98h0.7v0.7h-0.7zM118.26 78.04h0.7v0.7h-0.7zM125.88 76.99h0.7v0.7h-0.7zM125 79.85h0.7v0.7h-0.7zM124.51 73.16h0.7v0.7h-0.7zM118.53 75.15h0.7v0.7h-0.7zM133.31 75.22h0.7v0.7h-0.7zM120.33 73.25h0.7v0.7h-0.7zM117.24 80.79h0.7v0.7h-0.7zM118.41 84.12h0.7v0.7h-0.7zM129.29 81.48h0.7v0.7h-0.7zM130.04 76.33h0.7v0.7h-0.7zM113.96 76.5h0.7v0.7h-0.7zM127.74 64.92h0.7v0.7h-0.7zM117.05 85.57h0.7v0.7h-0.7zM126.59 87.53h0.7v0.7h-0.7zM127.9 77.52h0.7v0.7h-0.7zM126.54 83.64h0.7v0.7h-0.7zM123.91 75.36h0.7v0.7h-0.7zM125.88 74.54h0.7v0.7h-0.7zM137.93 71.01h0.7v0.7h-0.7zM115.35 66.9h0.7v0.7h-0.7zM130.09 73.84h0.7v0.7h-0.7zM124.99 75.32h0.7v0.7h-0.7zM125.67 65.65h0.7v0.7h-0.7zM124.57 72.51h0.7v0.7h-0.7zM130.32 81.87h0.7v0.7h-0.7zM116.82 69.44h0.7v0.7h-0.7zM127.35 86.35h0.7v0.7h-0.7zM128.5 75.81h0.7v0.7h-0.7zM130.48 58.56h0.7v0.7h-0.7zM120.99 69.38h0.7v0.7h-0.7zM118.13 81.41h0.7v0.7h-0.7zM125.67 79.22h0.7v0.7h-0.7zM123.31 81.85h0.7v0.7h-0.7zM128.59 72.52h0.7v0.7h-0.7zM129.48 69.74h0.7v0.7h-0.7zM134.25 66.81h0.7v0.7h-0.7zM122.42 68.53h0.7v0.7h-0.7zM124.3 87.3h0.7v0.7h-0.7zM119.74 90.91h0.7v0.7h-0.7zM132.23 80.02h0.7v0.7h-0.7zM120.68 84.08h0.7v0.7h-0.7zM129.64 76.69h0.7v0.7h-0.7zM138.45 71.71h0.7v0.7h-0.7zM116.38 75.32h0.7v0.7h-0.7zM127.43 90.36h0.7v0.7h-0.7zM113.88 78.24h0.7v0.7h-0.7zM131.4 71.73h0.7v0.7h-0.7zM121.44 67.5h0.7v0.7h-0.7zM128.52 83.5h0.7v0.7h-0.7zM127.5 78.93h0.7v0.7h-0.7zM129.83 76.05h0.7v0.7h-0.7zM128.24 83.42h0.7v0.7h-0.7zM131.62 81.03h0.7v0.7h-0.7zM124.57 82.55h0.7v0.7h-0.7zM115.08 63.18h0.7v0.7h-0.7zM133.47 78.08h0.7v0.7h-0.7zM117.97 72.44h0.7v0.7h-0.7zM123.21 77.57h0.7v0.7h-0.7zM119.64 84.81h0.7v0.7h-0.7zM117.78 90.05h0.7v0.7h-0.7zM127.97 63.79h0.7v0.7h-0.7zM116.95 77.48h0.7v0.7h-0.7zM125.66 73.67h0.7v0.7h-0.7zM124.15 78.28h0.7v0.7h-0.7zM117.42 77.48h0.7v0.7h-0.7zM137.33 71.92h0.7v0.7h-0.7zM118.17 82.22h0.7v0.7h-0.7zM131.93 85.2h0.7v0.7h-0.7zM120.39 76.42h0.7v0.7h-0.7zM125.27 75.35h0.7v0.7h-0.7zM126.41 85.52h0.7v0.7h-0.7zM127.28 76.92h0.7v0.7h-0.7zM122.9 91.08h0.7v0.7h-0.7zM116.88 92.77h0.7v0.7h-0.7zM128.39 77.7h0.7v0.7h-0.7zM119.72 91.45h0.7v0.7h-0.7zM131.19 84.17h0.7v0.7h-0.7zM136.29 62.87h0.7v0.7h-0.7zM124.67 74.58h0.7v0.7h-0.7zM119.81 77.59h0.7v0.7h-0.7zM127.23 81.14h0.7v0.7h-0.7zM123.27 66.58h0.7v0.7h-0.7zM127.36 81.8h0.7v0.7h-0.7zM136.54 84.36h0.7v0.7h-0.7zM124.18 67.96h0.7v0.7h-0.7zM140.09 71.68h0.7v0.7h-0.7zM125.24 82.9h0.7v0.7h-0.7zM127.04 87.5h0.7v0.7h-0.7zM118 71.57h0.7v0.7h-0.7zM125.11 67.29h0.7v0.7h-0.7zM120.47 87.92h0.7v0.7h-0.7zM125.82 76.2h0.7v0.7h-0.7zM120.72 77.38h0.7v0.7h-0.7zM123.88 68.5h0.7v0.7h-0.7zM128.73 66.9h0.7v0.7h-0.7zM131.64 74.33h0.7v0.7h-0.7zM125.78 70.14h0.7v0.7h-0.7zM134.77 87.92h0.7v0.7h-0.7zM136.52 84.06h0.7v0.7h-0.7zM132.07 72.21h0.7v0.7h-0.7zM131.78 73.55h0.7v0.7h-0.7zM123.79 66.23h0.7v0.7h-0.7zM124.42 80.19h0.7v0.7h-0.7zM123.71 68.24h0.7v0.7h-0.7zM129.44 84.23h0.7v0.7h-0.7zM123.56 83.21h0.7v0.7h-0.7zM129.93 69.21h0.7v0.7h-0.7zM123.87 62.26h0.7v0.7h-0.7zM117.94 80.4h0.7v0.7h-0.7zM118.86 80.11h0.7v0.7h-0.7zM126.23 60.65h0.7v0.7h-0.7zM121.19 89.04h0.7v0.7h-0.7zM124.16 77.98h0.7v0.7h-0.7zM119.89 64.29h0.7v0.7h-0.7zM122.98 70.09h0.7v0.7h-0.7zM124.74 61.62h0.7v0.7h-0.7zM132.41 90.6h0.7v0.7h-0.7zM119.6 79.57h0.7v0.7h-0.7zM118.71 83.82h0.7v0.7h-0.7zM119.06 75.86h0.7v0.7h-0.7zM131.87 81.17h0.7v0.7h-0.7zM122.13 64.92h0.7v0.7h-0.7zM114.57 86.56h0.7v0.7h-0.7zM127.14 77.46h0.7v0.7h-0.7zM131.58 78.17h0.7v0.7h-0.7zM119.73 76.17h0.7v0.7h-0.7zM123.5 76.89h0.7v0.7h-0.7zM138.98 81.62h0.7v0.7h-0.7zM125.71 75h0.7v0.7h-0.7zM120.01 69.09h0.7v0.7h-0.7zM112.84 73.34h0.7v0.7h-0.7zM114.99 62.24h0.7v0.7h-0.7zM118.45 60.84h0.7v0.7h-0.7zM132.3 86.93h0.7v0.7h-0.7zM118.28 93.32h0.7v0.7h-0.7zM128.03 56.87h0.7v0.7h-0.7zM124.2 69.04h0.7v0.7h-0.7zM113.64 74.92h0.7v0.7h-0.7zM130.98 80.55h0.7v0.7h-0.7zM115.31 71.72h0.7v0.7h-0.7zM119.52 86.14h0.7v0.7h-0.7zM123.48 69.19h0.7v0.7h-0.7zM118.6 61.27h0.7v0.7h-0.7zM119 84.15h0.7v0.7h-0.7zM112.6 78.54h0.7v0.7h-0.7zM123.38 83.52h0.7v0.7h-0.7zM117.19 84.27h0.7v0.7h-0.7zM114.29 76.75h0.7v0.7h-0.7zM122.8 77.98h0.7v0.7h-0.7zM118.12 83.86h0.7v0.7h-0.7zM138.15 89.04h0.7v0.7h-0.7zM118.32 72.39h0.7v0.7h-0.7zM128.44 78.08h0.7v0.7h-0.7zM119.47 86.89h0.7v0.7h-0.7zM127.17 85.19h0.7v0.7h-0.7zM123 87.23h0.7v0.7h-0.7zM121.25 68.06h0.7v0.7h-0.7zM124.01 65.83h0.7v0.7h-0.7zM131.59 82.87h0.7v0.7h-0.7zM113.93 78.37h0.7v0.7h-0.7zM129.15 74.13h0.7v0.7h-0.7zM126.55 72.32h0.7v0.7h-0.7zM123.63 76.32h0.7v0.7h-0.7zM126.96 69.25h0.7v0.7h-0.7zM117.24 79.64h0.7v0.7h-0.7zM120.98 81.16h0.7v0.7h-0.7zM121.01 66.5h0.7v0.7h-0.7zM128.49 79.13h0.7v0.7h-0.7zM128.45 74.28h0.7v0.7h-0.7zM121.87 87.12h0.7v0.7h-0.7zM113.85 90.94h0.7v0.7h-0.7zM127.14 76.54h0.7v0.7h-0.7zM124.58 81.84h0.7v0.7h-0.7zM119.39 79.22h0.7v0.7h-0.7zM118.28 62.19h0.7v0.7h-0.7zM125.25 77.8h0.7v0.7h-0.7zM127.94 81.46h0.7v0.7h-0.7zM128.25 83.34h0.7v0.7h-0.7zM117.67 86.75h0.7v0.7h-0.7zM140.18 72.46h0.7v0.7h-0.7zM116.44 82.5h0.7v0.7h-0.7zM129.56 85.11h0.7v0.7h-0.7zM133.29 65.88h0.7v0.7h-0.7zM126.3 80.72h0.7v0.7h-0.7zM131.57 69.85h0.7v0.7h-0.7zM124.17 74.02h0.7v0.7h-0.7zM123.05 75.83h0.7v0.7h-0.7zM123.11 62.81h0.7v0.7h-0.7zM123.8 77.54h0.7v0.7h-0.7zM121.7 48.53h0.7v0.7h-0.7zM119.84 71.75h0.7v0.7h-0.7zM118.78 89.86h0.7v0.7h-0.7zM129.61 75.51h0.7v0.7h-0.7zM118.17 80.8h0.7v0.7h-0.7zM120.41 88.93h0.7v0.7h-0.7zM130.71 76.01h0.7v0.7h-0.7zM127.72 70.61h0.7v0.7h-0.7zM114.47 83.77h0.7v0.7h-0.7zM133.9 74.56h0.7v0.7h-0.7zM120.85 62.61h0.7v0.7h-0.7zM136.98 67.37h0.7v0.7h-0.7zM118.17 75.44h0.7v0.7h-0.7zM131.33 77.43h0.7v0.7h-0.7zM123.9 77.17h0.7v0.7h-0.7zM129.14 76.7h0.7v0.7h-0.7zM124.97 76.41h0.7v0.7h-0.7zM117.32 87.8h0.7v0.7h-0.7zM119.83 66.41h0.7v0.7h-0.7zM121.38 77.26h0.7v0.7h-0.7zM128.97 65.19h0.7v0.7h-0.7zM116.37 78.43h0.7v0.7h-0.7zM126.33 68.19h0.7v0.7h-0.7zM117.17 78.41h0.7v0.7h-0.7zM123.15 64h0.7v0.7h-0.7zM118.73 88.93h0.7v0.7h-0.7zM117.63 85.43h0.7v0.7h-0.7zM114.77 88.93h0.7v0.7h-0.7zM133.68 71.91h0.7v0.7h-0.7zM119.9 82.05h0.7v0.7h-0.7zM116.53 81.43h0.7v0.7h-0.7zM131.36 79.11h0.7v0.7h-0.7zM125.97 75.73h0.7v0.7h-0.7zM130.06 70.42h0.7v0.7h-0.7zM133.61 76.81h0.7v0.7h-0.7zM122.05 63.88h0.7v0.7h-0.7zM121.36 78.9h0.7v0.7h-0.7zM131.52 64.04h0.7v0.7h-0.7zM123.25 71.49h0.7v0.7h-0.7zM116.79 77.04h0.7v0.7h-0.7zM119.43 84h0.7v0.7h-0.7zM112.53 61.33h0.7v0.7h-0.7zM127.15 74.28h0.7v0.7h-0.7zM124.78 69.23h0.7v0.7h-0.7zM117.68 71.09h0.7v0.7h-0.7zM123.67 70.25h0.7v0.7h-0.7zM121.48 70.09h0.7v0.7h-0.7zM125.42 67.86h0.7v0.7h-0.7zM123.89 77.77h0.7v0.7h-0.7zM129.8 71.05h0.7v0.7h-0.7zM117.13 65.03h0.7v0.7h-0.7zM128.58 71.98h0.7v0.7h-0.7zM129.95 76.36h0.7v0.7h-0.7zM122.35 62.06h0.7v0.7h-0.7zM119.93 83.34h0.7v0.7h-0.7zM120.33 82.45h0.7v0.7h-0.7zM114.09 85.15h0.7v0.7h-0.7zM140.78 85.96h0.7v0.7h-0.7zM125.94 67.09h0.7v0.7h-0.7zM120.83 71.74h0.7v0.7h-0.7zM125.12 60.78h0.7v0.7h-0.7zM118.8 83.36h0.7v0.7h-0.7zM124.89 82.96h0.7v0.7h-0.7zM129.15 67.81h0.7v0.7h-0.7zM115.89 80.73h0.7v0.7h-0.7zM124.21 77.63h0.7v0.7h-0.7zM119.1 85.18h0.7v0.7h-0.7zM126.99 86.16h0.7v0.7h-0.7zM121.87 82.56h0.7v0.7h-0.7zM123.65 69.45h0.7v0.7h-0.7zM123.52 63.7h0.7v0.7h-0.7zM122.92 78.43h0.7v0.7h-0.7zM128.19 68.54h0.7v0.7h-0.7zM116 71.13h0.7v0.7h-0.7zM139.76 78.16h0.7v0.7h-0.7zM119.43 71.54h0.7v0.7h-0.7zM134.65 67.65h0.7v0.7h-0.7zM123.31 76.37h0.7v0.7h-0.7zM119.58 71.22h0.7v0.7h-0.7zM113.89 70.26h0.7v0.7h-0.7zM131.83 88.37h0.7v0.7h-0.7zM122.3 82.65h0.7v0.7h-0.7zM126.77 77.88h0.7v0.7h-0.7zM123.18 86.76h0.7v0.7h-0.7zM127.43 75.19h0.7v0.7h-0.7zM122.59 84.5h0.7v0.7h-0.7zM120.43 71.24h0.7v0.7h-0.7zM122.35 73h0.7v0.7h-0.7zM131.6 79.86h0.7v0.7h-0.7zM123.47 72.77h0.7v0.7h-0.7zM132.52 80.54h0.7v0.7h-0.7zM136.54 84.3h0.7v0.7h-0.7zM122.71 72.59h0.7v0.7h-0.7zM122.29 78.46h0.7v0.7h-0.7zM128.76 80.9h0.7v0.7h-0.7zM133.45 64.8h0.7v0.7h-0.7zM124.17 65.61h0.7v0.7h-0.7zM117.81 72.17h0.7v0.7h-0.7zM120.08 69.22h0.7v0.7h-0.7zM114.86 86.13h0.7v0.7h-0.7zM122.07 84.75h0.7v0.7h-0.7zM117.35 58.38h0.7v0.7h-0.7zM120.42 84.06h0.7v0.7h-0.7zM120.64 80.17h0.7v0.7h-0.7zM117.52 88.17h0.7v0.7h-0.7zM126.6 85.43h0.7v0.7h-0.7zM122.33 87.27h0.7v0.7h-0.7zM124.43 73.08h0.7v0.7h-0.7zM120.15 77.44h0.7v0.7h-0.7zM118.53 67.42h0.7v0.7h-0.7zM124.78 82.7h0.7v0.7h-0.7zM122.25 83.74h0.7v0.7h-0.7zM133.54 66.83h0.7v0.7h-0.7zM125.55 69.26h0.7v0.7h-0.7zM120.12 78.42h0.7v0.7h-0.7zM129.05 81.35h0.7v0.7h-0.7zM127.9 91.55h0.7v0.7h-0.7zM121.8 85.77h0.7v0.7h-0.7zM132.7 80.94h0.7v0.7h-0.7zM113.26 75.74h0.7v0.7h-0.7zM122.23 64h0.7v0.7h-0.7zM123.63 83.06h0.7v0.7h-0.7zM122.44 75.53h0.7v0.7h-0.7zM132.84 72.06h0.7v0.7h-0.7zM118.32 77.31h0.7v0.7h-0.7zM130.74 81.76h0.7v0.7h-0.7zM124.43 73.04h0.7v0.7h-0.7zM131.42 84.1h0.7v0.7h-0.7zM113.56 79.66h0.7v0.7h-0.7zM127.68 71.95h0.7v0.7h-0.7zM116.23 74.58h0.7v0.7h-0.7zM113.46 81.52h0.7v0.7h-0.7zM120.92 62.8h0.7v0.7h-0.7zM123.87 86.48h0.7v0.7h-0.7zM116.35 74.14h0.7v0.7h-0.7zM134.92 78.47h0.7v0.7h-0.7zM120.66 78.51h0.7v0.7h-0.7zM128.69 68.94h0.7v0.7h-0.7zM123.4 63.9h0.7v0.7h-0.7zM114.46 64.65h0.7v0.7h-0.7zM129.07 79.48h0.7v0.7h-0.7zM128.4 86.75h0.7v0.7h-0.7zM124.27 78.88h0.7v0.7h-0.7zM126.43 80.74h0.7v0.7h-0.7zM117.6 74.79h0.7v0.7h-0.7zM123.08 77.28h0.7v0.7h-0.7zM119.48 75.92h0.7v0.7h-0.7zM125.72 78.49h0.7v0.7h-0.7zM127.54 83.58h0.7v0.7h-0.7zM127.35 84.73h0.7v0.7h-0.7zM129.05 88.16h0.7v0.7h-0.7zM127.77 72.03h0.7v0.7h-0.7zM137.99 86.04h0.7v0.7h-0.7zM131.51 82.84h0.7v0.7h-0.7zM124.28 67.82h0.7v0.7h-0.7zM126.62 74.15h0.7v0.7h-0.7zM121.59 59.86h0.7v0.7h-0.7zM133.31 67.63h0.7v0.7h-0.7zM117.38 80.73h0.7v0.7h-0.7zM127.41 70.64h0.7v0.7h-0.7zM123.95 79.02h0.7v0.7h-0.7zM124.94 81.22h0.7v0.7h-0.7zM128.66 74.05h0.7v0.7h-0.7zM114.24 94.34h0.7v0.7h-0.7zM121.68 69.05h0.7v0.7h-0.7zM128.51 81.69h0.7v0.7h-0.7zM123.76 79.47h0.7v0.7h-0.7zM125.91 75.13h0.7v0.7h-0.7zM125.91 66.54h0.7v0.7h-0.7zM121.6 91.82h0.7v0.7h-0.7zM129.28 73.71h0.7v0.7h-0.7zM120.51 64.96h0.7v0.7h-0.7zM123.27 75.57h0.7v0.7h-0.7zM120.15 64.46h0.7v0.7h-0.7zM124.93 80.36h0.7v0.7h-0.7zM130.86 81.12h0.7v0.7h-0.7zM133.15 86.61h0.7v0.7h-0.7zM123.36 68.58h0.7v0.7h-0.7zM126.6 84.69h0.7v0.7h-0.7zM114.67 67.09h0.7v0.7h-0.7zM128.14 72.55h0.7v0.7h-0.7zM132.77 78.73h0.7v0.7h-0.7zM120.68 66.33h0.7v0.7h-0.7zM127.6 63.18h0.7v0.7h-0.7zM116.15 66.47h0.7v0.7h-0.7zM134.25 90.68h0.7v0.7h-0.7zM122.66 73.92h0.7v0.7h-0.7zM128.21 86.99h0.7v0.7h-0.7zM122.75 86.08h0.7v0.7h-0.7zM119.8 92.92h0.7v0.7h-0.7zM122.7 66.76h0.7v0.7h-0.7zM135.74 71.49h0.7v0.7h-0.7zM123.97 66.95h0.7v0.7h-0.7zM128.08 78.54h0.7v0.7h-0.7zM122.25 73.76h0.7v0.7h-0.7zM120.56 71.22h0.7v0.7h-0.7zM115.52 86.67h0.7v0.7h-0.7zM129.37 65.82h0.7v0.7h-0.7zM116.98 80.26h0.7v0.7h-0.7zM137.63 75.35h0.7v0.7h-0.7zM122.1 74.97h0.7v0.7h-0.7zM125.5 75.58h0.7v0.7h-0.7zM130.52 84.88h0.7v0.7h-0.7zM127.32 89.64h0.7v0.7h-0.7zM122.6 72.57h0.7v0.7h-0.7zM141.93 61.48h0.7v0.7h-0.7zM114.6 58.08h0.7v0.7h-0.7zM126.15 68.41h0.7v0.7h-0.7zM130.39 60.14h0.7v0.7h-0.7zM123.17 73.85h0.7v0.7h-0.7zM117.49 85.97h0.7v0.7h-0.7zM121.59 80.6h0.7v0.7h-0.7zM120.82 78.2h0.7v0.7h-0.7zM121.3 77.58h0.7v0.7h-0.7zM123.39 71.52h0.7v0.7h-0.7zM126.63 75.5h0.7v0.7h-0.7zM118.15 68.56h0.7v0.7h-0.7zM126.66 87.66h0.7v0.7h-0.7zM116.1 73.63h0.7v0.7h-0.7zM126.71 85.36h0.7v0.7h-0.7zM128.28 67.48h0.7v0.7h-0.7zM124.21 84.21h0.7v0.7h-0.7zM125.44 75.18h0.7v0.7h-0.7zM116.87 78.32h0.7v0.7h-0.7zM123.6 77.25h0.7v0.7h-0.7zM133.05 86.52h0.7v0.7h-0.7zM119.21 78.85h0.7v0.7h-0.7zM122.12 77.79h0.7v0.7h-0.7zM133.83 84.34h0.7v0.7h-0.7zM124.24 71.71h0.7v0.7h-0.7zM123.01 79.91h0.7v0.7h-0.7zM120.99 85.84h0.7v0.7h-0.7zM124.12 67.5h0.7v0.7h-0.7zM136.32 53.7h0.7v0.7h-0.7zM122.37 76.02h0.7v0.7h-0.7zM129.95 85.94h0.7v0.7h-0.7zM132.78 89.52h0.7v0.7h-0.7zM125.91 77.9h0.7v0.7h-0.7zM130.13 76.78h0.7v0.7h-0.7zM116.4 73.34h0.7v0.7h-0.7zM127.99 81.9h0.7v0.7h-0.7zM117.33 86.61h0.7v0.7h-0.7zM125.86 64.93h0.7v0.7h-0.7zM126.81 85.07h0.7v0.7h-0.7zM127.21 74.5h0.7v0.7h-0.7zM119.17 86h0.7v0.7h-0.7zM125.36 76.95h0.7v0.7h-0.7zM121.59 68.7h0.7v0.7h-0.7zM112.69 74.23h0.7v0.7h-0.7zM130.68 83.12h0.7v0.7h-0.7zM119.89 89.25h0.7v0.7h-0.7zM122.62 68.91h0.7v0.7h-0.7zM129.89 88.11h0.7v0.7h-0.7zM121.65 67.19h0.7v0.7h-0.7zM123.61 57.49h0.7v0.7h-0.7zM124.32 89.23h0.7v0.7h-0.7zM125.65 71.11h0.7v0.7h-0.7zM128.27 73.03h0.7v0.7h-0.7zM131.63 74.12h0.7v0.7h-0.7zM136.28 74.17h0.7v0.7h-0.7zM125.15 69.46h0.7v0.7h-0.7zM116.29 79.76h0.7v0.7h-0.7zM126.11 69.19h0.7v0.7h-0.7zM127.38 73.68h0.7v0.7h-0.7zM120.67 76.42h0.7v0.7h-0.7zM126.37 82.83h0.7v0.7h-0.7zM131.45 80.06h0.7v0.7h-0.7zM119.61 71.5h0.7v0.7h-0.7zM126.22 67.4h0.7v0.7h-0.7zM122.97 73.91h0.7v0.7h-0.7zM123.4 78.45h0.7v0.7h-0.7zM130.27 90.15h0.7v0.7h-0.7zM129.32 85.1h0.7v0.7h-0.7zM117.56 85.32h0.7v0.7h-0.7zM131.8 66.13h0.7v0.7h-0.7zM139.21 72.45h0.7v0.7h-0.7zM124.38 70.56h0.7v0.7h-0.7zM120.55 85.59h0.7v0.7h-0.7zM125.55 73.98h0.7v0.7h-0.7zM130.93 69.47h0.7v0.7h-0.7zM118.88 72.49h0.7v0.7h-0.7zM119.5 82.53h0.7v0.7h-0.7zM122.61 68.55h0.7v0.7h-0.7zM121.23 61.07h0.7v0.7h-0.7zM125 77.81h0.7v0.7h-0.7zM127.67 75.11h0.7v0.7h-0.7zM126.4 69.5h0.7v0.7h-0.7zM124.15 78.24h0.7v0.7h-0.7zM116.68 81.7h0.7v0.7h-0.7zM124.86 77.41h0.7v0.7h-0.7zM121.12 93.05h0.7v0.7h-0.7zM124 70.84h0.7v0.7h-0.7zM118.88 81.74h0.7v0.7h-0.7zM122.74 70.67h0.7v0.7h-0.7zM119.64 84.48h0.7v0.7h-0.7zM124.51 85.44h0.7v0.7h-0.7zM123.9 67.52h0.7v0.7h-0.7zM129.22 79.55h0.7v0.7h-0.7zM120.06 74.52h0.7v0.7h-0.7zM118.15 83.65h0.7v0.7h-0.7zM121.49 80.83h0.7v0.7h-0.7zM125.56 74.92h0.7v0.7h-0.7zM126.23 75.01h0.7v0.7h-0.7zM116.9 73.66h0.7v0.7h-0.7zM116.91 83.04h0.7v0.7h-0.7zM127.91 72.31h0.7v0.7h-0.7zM127.72 78.97h0.7v0.7h-0.7zM129.85 69.52h0.7v0.7h-0.7zM124.15 69.06h0.7v0.7h-0.7zM119.89 87.95h0.7v0.7h-0.7zM126.93 83.21h0.7v0.7h-0.7zM119.28 60.74h0.7v0.7h-0.7zM113.67 79.93h0.7v0.7h-0.7zM130.62 84.26h0.7v0.7h-0.7zM119.6 87.81h0.7v0.7h-0.7zM122.87 81.92h0.7v0.7h-0.7zM122.85 89.74h0.7v0.7h-0.7zM120.89 59.82h0.7v0.7h-0.7zM122.11 78.52h0.7v0.7h-0.7zM125.66 71.26h0.7v0.7h-0.7zM122.61 67.92h0.7v0.7h-0.7zM122.59 77.69h0.7v0.7h-0.7zM125.44 90.15h0.7v0.7h-0.7zM126.59 67.74h0.7v0.7h-0.7zM124.42 76.94h0.7v0.7h-0.7zM117.98 82.76h0.7v0.7h-0.7zM135.45 82.38h0.7v0.7h-0.7zM128.66 85.52h0.7v0.7h-0.7zM123.22 84.78h0.7v0.7h-0.7zM119.16 78.43h0.7v0.7h-0.7zM128.23 87.44h0.7v0.7h-0.7zM122.27 74.66h0.7v0.7h-0.7zM126.8 76.36h0.7v0.7h-0.7zM124.82 83.41h0.7v0.7h-0.7zM119.41 83.99h0.7v0.7h-0.7zM126.27 74.89h0.7v0.7h-0.7zM116.5 71.97h0.7v0.7h-0.7zM123.73 84.49h0.7v0.7h-0.7zM125.15 67.98h0.7v0.7h-0.7zM129.12 80.16h0.7v0.7h-0.7zM126.61 69.2h0.7v0.7h-0.7zM117.38 84.24h0.7v0.7h-0.7zM132.39 79.91h0.7v0.7h-0.7zM122.84 73.4h0.7v0.7h-0.7zM113.75 84.83h0.7v0.7h-0.7zM123.43 86.8h0.7v0.7h-0.7zM119.69 85.37h0.7v0.7h-0.7zM119.73 81.65h0.7v0.7h-0.7zM132.2 71.4h0.7v0.7h-0.7zM129.42 76.94h0.7v0.7h-0.7zM118.4 78.59h0.7v0.7h-0.7zM127.85 71.32h0.7v0.7h-0.7zM122.41 72.48h0.7v0.7h-0.7zM119.41 75.33h0.7v0.7h-0.7zM128.91 73.06h0.7v0.7h-0.7zM131.42 73.98h0.7v0.7h-0.7zM119.89 85.51h0.7v0.7h-0.7zM132.37 71.83h0.7v0.7h-0.7zM127.49 67.76h0.7v0.7h-0.7zM121.58 74.03h0.7v0.7h-0.7zM128.22 67.04h0.7v0.7h-0.7zM120.96 71.53h0.7v0.7h-0.7zM124.6 67.24h0.7v0.7h-0.7zM125.27 65.06h0.7v0.7h-0.7zM128.96 66.57h0.7v0.7h-0.7zM112.8 90.22h0.7v0.7h-0.7zM131.43 70.34h0.7v0.7h-0.7zM117.51 80.75h0.7v0.7h-0.7zM136.07 81.75h0.7v0.7h-0.7zM127.92 67.61h0.7v0.7h-0.7zM113.42 80.06h0.7v0.7h-0.7zM130.01 78.08h0.7v0.7h-0.7zM123.97 87.95h0.7v0.7h-0.7zM119.01 85.68h0.7v0.7h-0.7zM128.93 72.06h0.7v0.7h-0.7zM124.73 77.86h0.7v0.7h-0.7zM127.45 69.27h0.7v0.7h-0.7zM122.62 77.71h0.7v0.7h-0.7zM124.17 77.17h0.7v0.7h-0.7zM125.48 75.48h0.7v0.7h-0.7zM121.04 85.15h0.7v0.7h-0.7zM120.19 74.48h0.7v0.7h-0.7zM118.78 67.94h0.7v0.7h-0.7zM126.65 76.66h0.7v0.7h-0.7zM123.21 80.57h0.7v0.7h-0.7zM122.98 82.37h0.7v0.7h-0.7zM134.69 79.75h0.7v0.7h-0.7zM122.43 90.05h0.7v0.7h-0.7zM128.18 63.86h0.7v0.7h-0.7zM131.88 78.66h0.7v0.7h-0.7zM129.04 67.89h0.7v0.7h-0.7zM118.98 71.88h0.7v0.7h-0.7zM127.26 68.13h0.7v0.7h-0.7zM119.81 84.51h0.7v0.7h-0.7zM120.2 77.92h0.7v0.7h-0.7zM118.69 63.59h0.7v0.7h-0.7zM123.51 76.05h0.7v0.7h-0.7zM115.54 84.67h0.7v0.7h-0.7zM128.84 83.96h0.7v0.7h-0.7zM120.98 67.97h0.7v0.7h-0.7zM123.46 78.3h0.7v0.7h-0.7zM122.97 72.37h0.7v0.7h-0.7zM118.12 71.2h0.7v0.7h-0.7zM123.5 73.16h0.7v0.7h-0.7zM133.83 74.82h0.7v0.7h-0.7zM126.67 73.33h0.7v0.7h-0.7zM122.91 69.33h0.7v0.7h-0.7zM121.14 65.22h0.7v0.7h-0.7zM117.77 80.4h0.7v0.7h-0.7zM123.25 72.53h0.7v0.7h-0.7zM128.28 72.62h0.7v0.7h-0.7zM126.55 74.09h0.7v0.7h-0.7zM129.71 84.5h0.7v0.7h-0.7zM124.38 85.6h0.7v0.7h-0.7zM126.96 89.22h0.7v0.7h-0.7zM123.27 64.86h0.7v0.7h-0.7zM125.24 78.86h0.7v0.7h-0.7zM121.85 75.36h0.7v0.7h-0.7zM122.41 67.16h0.7v0.7h-0.7zM134.09 70.91h0.7v0.7h-0.7zM117.69 64.58h0.7v0.7h-0.7zM119.03 76.69h0.7v0.7h-0.7zM132.67 81.69h0.7v0.7h-0.7zM119.71 67.23h0.7v0.7h-0.7zM117.41 76.34h0.7v0.7h-0.7zM129.1 73.22h0.7v0.7h-0.7zM133.41 92.14h0.7v0.7h-0.7zM124.92 60.01h0.7v0.7h-0.7zM130.4 76.22h0.7v0.7h-0.7zM127.91 84.72h0.7v0.7h-0.7zM118.07 77.49h0.7v0.7h-0.7zM125.03 71.09h0.7v0.7h-0.7zM128.07 75.98h0.7v0.7h-0.7zM121.61 91.71h0.7v0.7h-0.7zM124.97 89.79h0.7v0.7h-0.7zM123.08 85.11h0.7v0.7h-0.7zM119.57 78.14h0.7v0.7h-0.7zM130.34 59.95h0.7v0.7h-0.7zM127.15 74.86h0.7v0.7h-0.7zM130.38 78.39h0.7v0.7h-0.7zM123.54 66.95h0.7v0.7h-0.7zM141.23 71.21h0.7v0.7h-0.7zM122.09 71.32h0.7v0.7h-0.7zM122.2 78.7h0.7v0.7h-0.7zM116.14 85.26h0.7v0.7h-0.7zM122.45 81.68h0.7v0.7h-0.7zM122.23 73.94h0.7v0.7h-0.7zM120.06 79.4h0.7v0.7h-0.7zM126.37 69.3h0.7v0.7h-0.7zM122.1 85.35h0.7v0.7h-0.7zM129.09 76.16h0.7v0.7h-0.7zM115.59 74.15h0.7v0.7h-0.7zM119.71 86.7h0.7v0.7h-0.7zM114.03 84.15h0.7v0.7h-0.7zM114.94 72.5h0.7v0.7h-0.7zM115.69 71.51h0.7v0.7h-0.7zM121.39 79.88h0.7v0.7h-0.7zM120.51 82.37h0.7v0.7h-0.7zM134.23 78.24h0.7v0.7h-0.7zM117.22 75.58h0.7v0.7h-0.7zM123.37 74.15h0.7v0.7h-0.7zM130.71 86.02h0.7v0.7h-0.7zM135.7 81.08h0.7v0.7h-0.7zM127.89 70.66h0.7v0.7h-0.7zM120.45 84.1h0.7v0.7h-0.7zM124.81 68.16h0.7v0.7h-0.7zM120.55 52.83h0.7v0.7h-0.7zM123.95 67.4h0.7v0.7h-0.7zM123.66 67.67h0.7v0.7h-0.7zM118.53 72.94h0.7v0.7h-0.7zM140.27 67.67h0.7v0.7h-0.7zM117.02 72.76h0.7v0.7h-0.7zM130.18 83.23h0.7v0.7h-0.7zM128.04 74.44h0.7v0.7h-0.7zM124.71 70.94h0.7v0.7h-0.7zM122.9 70.66h0.7v0.7h-0.7zM115.45 69.19h0.7v0.7h-0.7zM135.25 80.09h0.7v0.7h-0.7zM119.56 76.12h0.7v0.7h-0.7zM121.31 86.52h0.7v0.7h-0.7zM123.79 72h0.7v0.7h-0.7zM127.94 79.48h0.7v0.7h-0.7zM119.95 70.92h0.7v0.7h-0.7zM124.78 64.15h0.7v0.7h-0.7zM118.6 84.88h0.7v0.7h-0.7zM129.01 85.7h0.7v0.7h-0.7zM121.35 72.31h0.7v0.7h-0.7zM122.36 73.22h0.7v0.7h-0.7zM131.44 75.23h0.7v0.7h-0.7zM131.87 71.41h0.7v0.7h-0.7zM126.15 89.67h0.7v0.7h-0.7zM119.6 71.86h0.7v0.7h-0.7zM120.44 64.34h0.7v0.7h-0.7zM122.2 71.93h0.7v0.7h-0.7zM136.85 73.23h0.7v0.7h-0.7zM129.51 76.7h0.7v0.7h-0.7zM125.62 82.58h0.7v0.7h-0.7zM120.66 77.29h0.7v0.7h-0.7zM124.78 89.94h0.7v0.7h-0.7zM132.2 78.29h0.7v0.7h-0.7zM116.1 83.89h0.7v0.7h-0.7zM123.62 86.11h0.7v0.7h-0.7zM124.25 78.39h0.7v0.7h-0.7zM127.77 71.24h0.7v0.7h-0.7zM118.87 84.27h0.7v0.7h-0.7zM127.92 83.37h0.7v0.7h-0.7zM131.93 66.47h0.7v0.7h-0.7zM129.52 60.84h0.7v0.7h-0.7zM124.24 79.61h0.7v0.7h-0.7zM129.95 85.46h0.7v0.7h-0.7zM118.48 74.83h0.7v0.7h-0.7zM123 71.52h0.7v0.7h-0.7zM119.15 71.78h0.7v0.7h-0.7zM130.64 87.63h0.7v0.7h-0.7zM128.32 90.15h0.7v0.7h-0.7zM124.45 68.45h0.7v0.7h-0.7zM120.11 78.56h0.7v0.7h-0.7zM129.93 86.49h0.7v0.7h-0.7zM118.69 84.47h0.7v0.7h-0.7zM120.81 81.64h0.7v0.7h-0.7zM129.29 88.59h0.7v0.7h-0.7zM120.85 78.88h0.7v0.7h-0.7zM126.43 73.69h0.7v0.7h-0.7zM124.46 81.64h0.7v0.7h-0.7zM114.32 71.93h0.7v0.7h-0.7zM137.39 80.52h0.7v0.7h-0.7zM120.67 62.58h0.7v0.7h-0.7zM118.33 81.04h0.7v0.7h-0.7zM127.89 80.47h0.7v0.7h-0.7zM127.38 72.25h0.7v0.7h-0.7zM133.23 68.16h0.7v0.7h-0.7zM126.9 74.89h0.7v0.7h-0.7zM113.95 84.06h0.7v0.7h-0.7zM122.31 82.55h0.7v0.7h-0.7zM131.35 78.27h0.7v0.7h-0.7zM120.06 75.29h0.7v0.7h-0.7zM123.52 88.31h0.7v0.7h-0.7zM128.91 89.43h0.7v0.7h-0.7zM128.35 70.99h0.7v0.7h-0.7zM129.33 84.59h0.7v0.7h-0.7zM123.21 80.62h0.7v0.7h-0.7zM122.06 67.09h0.7v0.7h-0.7zM123.39 82.97h0.7v0.7h-0.7zM121.81 59.4h0.7v0.7h-0.7zM119.25 85.52h0.7v0.7h-0.7zM125.23 85.8h0.7v0.7h-0.7zM119.52 73.69h0.7v0.7h-0.7zM118.07 70.88h0.7v0.7h-0.7zM126.9 78.08h0.7v0.7h-0.7zM121.09 79.32h0.7v0.7h-0.7zM116.29 73.92h0.7v0.7h-0.7zM115.18 65.22h0.7v0.7h-0.7zM115.98 68.36h0.7v0.7h-0.7zM133.12 87.78h0.7v0.7h-0.7zM131.26 72.42h0.7v0.7h-0.7zM127.55 68.07h0.7v0.7h-0.7zM120.75 78.89h0.7v0.7h-0.7zM114.59 78.54h0.7v0.7h-0.7zM127.49 60.71h0.7v0.7h-0.7zM123.19 78.12h0.7v0.7h-0.7zM117.3 81.47h0.7v0.7h-0.7zM124.63 71.23h0.7v0.7h-0.7zM133.49 79.02h0.7v0.7h-0.7zM128.23 91.58h0.7v0.7h-0.7zM121.03 75.26h0.7v0.7h-0.7zM113.77 75.19h0.7v0.7h-0.7zM127.19 78.58h0.7v0.7h-0.7zM116.53 70.28h0.7v0.7h-0.7zM113.11 66.14h0.7v0.7h-0.7zM124.55 79.34h0.7v0.7h-0.7zM118.57 75.27h0.7v0.7h-0.7zM119.21 81.87h0.7v0.7h-0.7zM127.63 72.58h0.7v0.7h-0.7zM121.23 67.32h0.7v0.7h-0.7zM121.18 94.23h0.7v0.7h-0.7zM123.82 83.76h0.7v0.7h-0.7zM127.29 88.63h0.7v0.7h-0.7zM122 69.86h0.7v0.7h-0.7zM129.97 84.25h0.7v0.7h-0.7zM120.04 85.63h0.7v0.7h-0.7zM123.82 76.65h0.7v0.7h-0.7zM134.64 81.18h0.7v0.7h-0.7zM125.73 74.48h0.7v0.7h-0.7zM125.07 85.31h0.7v0.7h-0.7zM126.57 71.03h0.7v0.7h-0.7zM126.52 76.06h0.7v0.7h-0.7zM125.7 75.47h0.7v0.7h-0.7zM121.65 59.57h0.7v0.7h-0.7zM115.11 93.03h0.7v0.7h-0.7zM127.95 73.35h0.7v0.7h-0.7zM125.81 59.29h0.7v0.7h-0.7zM125.35 84.77h0.7v0.7h-0.7zM125.01 66.64h0.7v0.7h-0.7zM129.56 72.79h0.7v0.7h-0.7zM120.56 78.55h0.7v0.7h-0.7zM122.13 93.12h0.7v0.7h-0.7zM123.09 93.99h0.7v0.7h-0.7zM126.55 67.17h0.7v0.7h-0.7zM123.9 77.41h0.7v0.7h-0.7zM132.31 87.13h0.7v0.7h-0.7zM138.85 71.73h0.7v0.7h-0.7zM118.65 79.81h0.7v0.7h-0.7zM133.33 68.97h0.7v0.7h-0.7zM121.86 71.08h0.7v0.7h-0.7zM126.98 80.17h0.7v0.7h-0.7zM123.67 82.2h0.7v0.7h-0.7zM119.29 74h0.7v0.7h-0.7zM126.64 93h0.7v0.7h-0.7zM123.68 77.47h0.7v0.7h-0.7zM131.59 77.6h0.7v0.7h-0.7zM131.53 78.89h0.7v0.7h-0.7zM130.67 78.44h0.7v0.7h-0.7zM118.51 70.23h0.7v0.7h-0.7zM126.42 91.93h0.7v0.7h-0.7zM134.84 74.48h0.7v0.7h-0.7zM138.57 68.15h0.7v0.7h-0.7zM118.93 84.4h0.7v0.7h-0.7zM114.96 84.25h0.7v0.7h-0.7zM126.12 81.99h0.7v0.7h-0.7zM116.83 80.04h0.7v0.7h-0.7zM129.42 76.58h0.7v0.7h-0.7zM129.94 77.19h0.7v0.7h-0.7zM125.93 74.49h0.7v0.7h-0.7zM115.94 75.73h0.7v0.7h-0.7zM126.84 70.96h0.7v0.7h-0.7zM131.62 75.22h0.7v0.7h-0.7zM119.41 86.85h0.7v0.7h-0.7zM122.89 65.01h0.7v0.7h-0.7zM121.32 69.97h0.7v0.7h-0.7zM122.82 69.72h0.7v0.7h-0.7zM124.3 80.65h0.7v0.7h-0.7zM120.54 75.39h0.7v0.7h-0.7zM122.99 83.59h0.7v0.7h-0.7zM119.68 82.99h0.7v0.7h-0.7zM131.24 75.45h0.7v0.7h-0.7zM118.22 74.54h0.7v0.7h-0.7zM113.48 72.67h0.7v0.7h-0.7zM116.88 75.64h0.7v0.7h-0.7zM121.72 81.12h0.7v0.7h-0.7zM124.6 80.37h0.7v0.7h-0.7zM123.63 79.25h0.7v0.7h-0.7zM117.25 82.28h0.7v0.7h-0.7zM131.57 85.86h0.7v0.7h-0.7zM115.99 80.34h0.7v0.7h-0.7zM114.34 83.04h0.7v0.7h-0.7zM122.7 73.33h0.7v0.7h-0.7zM119.51 75.11h0.7v0.7h-0.7zM123.88 69.3h0.7v0.7h-0.7zM124.26 79.07h0.7v0.7h-0.7zM127.01 76.65h0.7v0.7h-0.7zM129.86 79.59h0.7v0.7h-0.7zM115.73 81.95h0.7v0.7h-0.7zM127.29 55.78h0.7v0.7h-0.7zM122.95 80.05h0.7v0.7h-0.7zM124.13 77.78h0.7v0.7h-0.7zM123 88.05h0.7v0.7h-0.7zM126.16 74.74h0.7v0.7h-0.7zM122.57 93.68h0.7v0.7h-0.7zM118.83 72.79h0.7v0.7h-0.7zM125.84 78.19h0.7v0.7h-0.7zM125.69 87.84h0.7v0.7h-0.7zM130.63 80.37h0.7v0.7h-0.7zM124.17 76.5h0.7v0.7h-0.7zM122.55 85.04h0.7v0.7h-0.7zM116.45 68.69h0.7v0.7h-0.7zM121.22 69.31h0.7v0.7h-0.7zM119.58 86.55h0.7v0.7h-0.7zM116.17 75.07h0.7v0.7h-0.7zM120.53 69.07h0.7v0.7h-0.7zM115.15 77.58h0.7v0.7h-0.7zM121.62 85.79h0.7v0.7h-0.7zM134.87 74.66h0.7v0.7h-0.7zM119.18 74.73h0.7v0.7h-0.7zM126.7 84.48h0.7v0.7h-0.7zM118.29 80.8h0.7v0.7h-0.7zM123.74 86.15h0.7v0.7h-0.7zM121.51 75.34h0.7v0.7h-0.7zM118.88 66.42h0.7v0.7h-0.7zM125.53 82.7h0.7v0.7h-0.7zM130.58 79.15h0.7v0.7h-0.7zM121.2 69.66h0.7v0.7h-0.7zM117.06 71.22h0.7v0.7h-0.7zM125.92 77.73h0.7v0.7h-0.7zM122.22 68.64h0.7v0.7h-0.7zM123.81 81.25h0.7v0.7h-0.7zM117.8 66.19h0.7v0.7h-0.7zM122.02 79.11h0.7v0.7h-0.7zM122.41 89.36h0.7v0.7h-0.7zM124.8 68.98h0.7v0.7h-0.7zM128.53 71.83h0.7v0.7h-0.7zM128.02 77.8h0.7v0.7h-0.7zM131.23 69.03h0.7v0.7h-0.7zM128.22 80.4h0.7v0.7h-0.7zM118.57 82.63h0.7v0.7h-0.7zM137.38 79.86h0.7v0.7h-0.7zM119.39 75.78h0.7v0.7h-0.7zM131.66 79.05h0.7v0.7h-0.7zM132.72 71.78h0.7v0.7h-0.7zM131.71 64.38h0.7v0.7h-0.7zM122.95 74.64h0.7v0.7h-0.7zM121.04 86.8h0.7v0.7h-0.7zM120.37 79.82h0.7v0.7h-0.7zM134.95 83.61h0.7v0.7h-0.7zM121.48 71.15h0.7v0.7h-0.7zM129.22 85.86h0.7v0.7h-0.7zM125.38 94.25h0.7v0.7h-0.7zM128.55 58.51h0.7v0.7h-0.7zM118.71 83.39h0.7v0.7h-0.7zM121.58 83.7h0.7v0.7h-0.7zM139.19 70.9h0.7v0.7h-0.7zM137.11 76.36h0.7v0.7h-0.7zM115.2 77.78h0.7v0.7h-0.7zM129.33 72.36h0.7v0.7h-0.7zM133.35 70.02h0.7v0.7h-0.7zM122.8 84.38h0.7v0.7h-0.7zM122.69 72.54h0.7v0.7h-0.7zM123.85 82.25h0.7v0.7h-0.7zM134.27 87.87h0.7v0.7h-0.7zM135.12 76.77h0.7v0.7h-0.7zM114.07 76.67h0.7v0.7h-0.7zM121.5 69.03h0.7v0.7h-0.7zM120.89 76.47h0.7v0.7h-0.7zM124.28 84.33h0.7v0.7h-0.7zM118.52 86.18h0.7v0.7h-0.7zM124.23 82.89h0.7v0.7h-0.7zM131.39 67.1h0.7v0.7h-0.7zM133.49 71.26h0.7v0.7h-0.7zM126.35 85.71h0.7v0.7h-0.7zM129.47 64.47h0.7v0.7h-0.7zM124.94 86.1h0.7v0.7h-0.7zM123.24 76.37h0.7v0.7h-0.7zM124.4 90.15h0.7v0.7h-0.7zM120.73 69.46h0.7v0.7h-0.7zM117.37 72.77h0.7v0.7h-0.7zM122.57 79.78h0.7v0.7h-0.7zM123.48 63.25h0.7v0.7h-0.7zM114.57 82.45h0.7v0.7h-0.7zM128.31 66.16h0.7v0.7h-0.7zM129.58 57.53h0.7v0.7h-0.7zM137.87 81.73h0.7v0.7h-0.7zM114.06 81.1h0.7v0.7h-0.7zM123.78 73.37h0.7v0.7h-0.7zM121.78 75.21h0.7v0.7h-0.7zM123.38 69.77h0.7v0.7h-0.7zM120.58 81.47h0.7v0.7h-0.7zM127.14 66.35h0.7v0.7h-0.7zM121.04 89.54h0.7v0.7h-0.7zM128.27 90.23h0.7v0.7h-0.7zM115.9 68.68h0.7v0.7h-0.7zM121.74 68.59h0.7v0.7h-0.7zM117.46 71.43h0.7v0.7h-0.7zM122.87 83.67h0.7v0.7h-0.7zM127.35 62.92h0.7v0.7h-0.7zM132.92 74.36h0.7v0.7h-0.7zM117.99 76.76h0.7v0.7h-0.7zM121.59 65.88h0.7v0.7h-0.7zM133.33 72.37h0.7v0.7h-0.7zM120.39 81.31h0.7v0.7h-0.7zM134.03 80.88h0.7v0.7h-0.7zM118.6 80.51h0.7v0.7h-0.7zM130.63 80.05h0.7v0.7h-0.7zM127.88 73.15h0.7v0.7h-0.7zM123.58 63.52h0.7v0.7h-0.7zM119.68 67.9h0.7v0.7h-0.7zM124.03 88.99h0.7v0.7h-0.7zM118.41 76.28h0.7v0.7h-0.7zM130.98 70.77h0.7v0.7h-0.7zM119.28 86.73h0.7v0.7h-0.7zM126.23 81.23h0.7v0.7h-0.7zM129 71.06h0.7v0.7h-0.7zM125.34 71.73h0.7v0.7h-0.7zM119.66 78.08h0.7v0.7h-0.7zM126.61 66.79h0.7v0.7h-0.7zM119.37 81.89h0.7v0.7h-0.7zM124.99 82.34h0.7v0.7h-0.7zM122.1 70.56h0.7v0.7h-0.7zM128.69 81.82h0.7v0.7h-0.7zM119.42 82.36h0.7v0.7h-0.7zM133.44 74.76h0.7v0.7h-0.7zM118.16 79.06h0.7v0.7h-0.7zM124.53 81.55h0.7v0.7h-0.7zM115.55 78.98h0.7v0.7h-0.7zM129.37 82.62h0.7v0.7h-0.7zM127.78 86.62h0.7v0.7h-0.7zM119.03 86.82h0.7v0.7h-0.7zM125.25 69.03h0.7v0.7h-0.7zM122.2 79.18h0.7v0.7h-0.7zM125.99 87.83h0.7v0.7h-0.7zM125.15 72.91h0.7v0.7h-0.7zM137.15 74.35h0.7v0.7h-0.7zM119.04 84.44h0.7v0.7h-0.7zM121.49 70.68h0.7v0.7h-0.7zM117.59 86.53h0.7v0.7h-0.7zM117.6 77.83h0.7v0.7h-0.7zM121.25 75.47h0.7v0.7h-0.7zM119.07 78.23h0.7v0.7h-0.7zM127.63 85.46h0.7v0.7h-0.7zM121.84 67.66h0.7v0.7h-0.7zM115.07 77.08h0.7v0.7h-0.7zM124.17 78h0.7v0.7h-0.7zM115.59 71.85h0.7v0.7h-0.7zM119.52 82.44h0.7v0.7h-0.7zM121.53 81.98h0.7v0.7h-0.7zM127.1 61.59h0.7v0.7h-0.7zM122.59 87.14h0.7v0.7h-0.7zM120.92 78.07h0.7v0.7h-0.7zM123.24 67.2h0.7v0.7h-0.7zM137.14 75.97h0.7v0.7h-0.7zM127.84 73.44h0.7v0.7h-0.7zM132.44 86.27h0.7v0.7h-0.7zM131.11 84.67h0.7v0.7h-0.7zM128.23 88.16h0.7v0.7h-0.7zM126.42 78.14h0.7v0.7h-0.7zM128.87 69.89h0.7v0.7h-0.7zM124.92 71.41h0.7v0.7h-0.7zM122.38 69.41h0.7v0.7h-0.7zM118.93 78.56h0.7v0.7h-0.7zM124.73 83.72h0.7v0.7h-0.7zM123.45 82.12h0.7v0.7h-0.7zM128.11 71.44h0.7v0.7h-0.7zM113.83 71.57h0.7v0.7h-0.7zM122.47 72.8h0.7v0.7h-0.7zM137.3 71.6h0.7v0.7h-0.7zM126.85 70.94h0.7v0.7h-0.7zM128.16 66.97h0.7v0.7h-0.7zM129.73 78.52h0.7v0.7h-0.7zM121.59 67.5h0.7v0.7h-0.7zM134.04 72.44h0.7v0.7h-0.7zM132.68 57.8h0.7v0.7h-0.7zM116.77 91.57h0.7v0.7h-0.7zM134.74 77.22h0.7v0.7h-0.7zM130.01 81.94h0.7v0.7h-0.7zM121.84 78.12h0.7v0.7h-0.7zM117.09 66.35h0.7v0.7h-0.7zM124.75 82.92h0.7v0.7h-0.7zM124.96 67.27h0.7v0.7h-0.7zM129.1 77.79h0.7v0.7h-0.7zM128.52 74.77h0.7v0.7h-0.7zM122.4 85.5h0.7v0.7h-0.7zM132.26 67.47h0.7v0.7h-0.7zM117.33 84.83h0.7v0.7h-0.7zM126.16 77.51h0.7v0.7h-0.7zM118.1 85.17h0.7v0.7h-0.7zM125.13 78.83h0.7v0.7h-0.7zM126.33 72.91h0.7v0.7h-0.7zM126.39 78.14h0.7v0.7h-0.7zM128.33 80.13h0.7v0.7h-0.7zM116.28 71.44h0.7v0.7h-0.7zM122.39 86.38h0.7v0.7h-0.7zM120.09 86.15h0.7v0.7h-0.7zM130.5 84.09h0.7v0.7h-0.7zM137.58 77.03h0.7v0.7h-0.7zM125.93 86.84h0.7v0.7h-0.7zM126.45 85.04h0.7v0.7h-0.7zM123.22 88.4h0.7v0.7h-0.7zM126.12 61.83h0.7v0.7h-0.7zM130.53 75.57h0.7v0.7h-0.7zM118.68 74.72h0.7v0.7h-0.7zM122.3 86.26h0.7v0.7h-0.7zM126 76.55h0.7v0.7h-0.7zM123.91 69.94h0.7v0.7h-0.7zM120.15 73.38h0.7v0.7h-0.7zM122.63 67.81h0.7v0.7h-0.7zM121.59 85.11h0.7v0.7h-0.7zM126.73 77.11h0.7v0.7h-0.7zM126.08 75.18h0.7v0.7h-0.7zM116.86 84.15h0.7v0.7h-0.7zM137.52 81.18h0.7v0.7h-0.7zM116.71 81.3h0.7v0.7h-0.7zM121.94 74.9h0.7v0.7h-0.7zM114.03 76.48h0.7v0.7h-0.7zM126.4 64.37h0.7v0.7h-0.7zM122.67 73.21h0.7v0.7h-0.7zM117.98 82.15h0.7v0.7h-0.7zM133.89 80.44h0.7v0.7h-0.7zM130.2 83.17h0.7v0.7h-0.7zM123.62 81.74h0.7v0.7h-0.7zM131.98 73.73h0.7v0.7h-0.7zM123.11 66.14h0.7v0.7h-0.7zM112.8 70.62h0.7v0.7h-0.7zM129.4 80.02h0.7v0.7h-0.7zM125.57 87.57h0.7v0.7h-0.7zM113.36 88.1h0.7v0.7h-0.7zM124.5 83.3h0.7v0.7h-0.7zM132.32 70.65h0.7v0.7h-0.7zM118.76 80.33h0.7v0.7h-0.7zM123.66 72.48h0.7v0.7h-0.7zM123.24 71.35h0.7v0.7h-0.7zM124.81 74.06h0.7v0.7h-0.7zM134.24 68.83h0.7v0.7h-0.7zM127.5 77.72h0.7v0.7h-0.7zM133.53 69.42h0.7v0.7h-0.7zM121.19 90.88h0.7v0.7h-0.7zM120.04 74.1h0.7v0.7h-0.7zM121.63 69.34h0.7v0.7h-0.7zM131.35 89.15h0.7v0.7h-0.7zM123.09 71.14h0.7v0.7h-0.7zM115.85 82.37h0.7v0.7h-0.7zM120.8 81.47h0.7v0.7h-0.7zM127.78 80.43h0.7v0.7h-0.7zM124.78 76.95h0.7v0.7h-0.7zM121.94 73.61h0.7v0.7h-0.7zM124.86 81.16h0.7v0.7h-0.7zM129.61 75.37h0.7v0.7h-0.7zM131.36 69.7h0.7v0.7h-0.7zM135.52 84.74h0.7v0.7h-0.7zM132.68 89.67h0.7v0.7h-0.7zM116.8 76.23h0.7v0.7h-0.7zM126.84 85.45h0.7v0.7h-0.7zM124.46 66.82h0.7v0.7h-0.7zM131.36 75.78h0.7v0.7h-0.7zM126.65 74.57h0.7v0.7h-0.7zM123.32 66.21h0.7v0.7h-0.7zM128.02 72.14h0.7v0.7h-0.7zM113.31 80.38h0.7v0.7h-0.7zM123.79 84.71h0.7v0.7h-0.7zM128.94 67.49h0.7v0.7h-0.7zM122.94 77.09h0.7v0.7h-0.7zM124.54 68.75h0.7v0.7h-0.7zM124.46 84.88h0.7v0.7h-0.7zM131.48 88.66h0.7v0.7h-0.7zM128.57 57.12h0.7v0.7h-0.7zM122.37 72.79h0.7v0.7h-0.7zM129.49 77.04h0.7v0.7h-0.7zM126.17 80.95h0.7v0.7h-0.7zM122.69 87.98h0.7v0.7h-0.7zM134.99 83.6h0.7v0.7h-0.7zM120.65 79.09h0.7v0.7h-0.7zM129.89 82.79h0.7v0.7h-0.7zM119.87 84.66h0.7v0.7h-0.7zM128.38 81.7h0.7v0.7h-0.7zM121.48 76.88h0.7v0.7h-0.7zM112.5 76.86h0.7v0.7h-0.7zM121.33 74.75h0.7v0.7h-0.7zM122.31 74.56h0.7v0.7h-0.7zM124.52 77.86h0.7v0.7h-0.7zM120.32 76.05h0.7v0.7h-0.7zM123.45 80.99h0.7v0.7h-0.7zM126.66 74.26h0.7v0.7h-0.7zM119.03 64.11h0.7v0.7h-0.7zM116.47 80.31h0.7v0.7h-0.7zM118.46 89.81h0.7v0.7h-0.7zM123.05 74.04h0.7v0.7h-0.7zM123.05 72.78h0.7v0.7h-0.7zM120.21 77.61h0.7v0.7h-0.7zM115.29 78.14h0.7v0.7h-0.7zM123.44 69.94h0.7v0.7h-0.7zM130.18 79.95h0.7v0.7h-0.7zM130.53 71.81h0.7v0.7h-0.7zM116.52 67.71h0.7v0.7h-0.7zM114.54 62.13h0.7v0.7h-0.7zM133.43 73.32h0.7v0.7h-0.7zM125.17 72.86h0.7v0.7h-0.7zM123.13 89.55h0.7v0.7h-0.7zM113.55 69.29h0.7v0.7h-0.7zM124.81 69.9h0.7v0.7h-0.7zM128.17 87.31h0.7v0.7h-0.7zM129.38 83h0.7v0.7h-0.7zM123.02 85h0.7v0.7h-0.7zM119.18 67.66h0.7v0.7h-0.7zM122.43 75.1h0.7v0.7h-0.7zM131.37 69.28h0.7v0.7h-0.7zM130.89 70.93h0.7v0.7h-0.7zM116.39 63.67h0.7v0.7h-0.7zM123.79 65.65h0.7v0.7h-0.7zM125.28 77.44h0.7v0.7h-0.7zM121.6 61.83h0.7v0.7h-0.7zM120.88 80.6h0.7v0.7h-0.7zM113.26 82.53h0.7v0.7h-0.7zM124.11 72.77h0.7v0.7h-0.7zM125.23 82.21h0.7v0.7h-0.7zM123.87 70.92h0.7v0.7h-0.7zM128.73 71.7h0.7v0.7h-0.7zM126.18 84.76h0.7v0.7h-0.7zM131.87 89.66h0.7v0.7h-0.7zM130.16 78.2h0.7v0.7h-0.7zM122.79 78.55h0.7v0.7h-0.7zM127.97 70.52h0.7v0.7h-0.7zM133.16 64.49h0.7v0.7h-0.7zM130.04 66.95h0.7v0.7h-0.7zM117.45 73.08h0.7v0.7h-0.7zM122.29 66.39h0.7v0.7h-0.7zM127.73 76.15h0.7v0.7h-0.7zM132.08 69.01h0.7v0.7h-0.7zM113.1 82.49h0.7v0.7h-0.7zM122.65 84.77h0.7v0.7h-0.7zM124.55 92.5h0.7v0.7h-0.7zM116.58 61.98h0.7v0.7h-0.7zM121.27 88.23h0.7v0.7h-0.7zM133.52 66.29h0.7v0.7h-0.7zM120.33 62.49h0.7v0.7h-0.7zM118.93 69.43h0.7v0.7h-0.7zM126.57 86.04h0.7v0.7h-0.7zM138.35 74.21h0.7v0.7h-0.7zM128.93 78.78h0.7v0.7h-0.7zM124.76 92.34h0.7v0.7h-0.7zM128.24 89.4h0.7v0.7h-0.7zM125.81 83.88h0.7v0.7h-0.7zM127.06 76.29h0.7v0.7h-0.7zM119.81 73.85h0.7v0.7h-0.7zM124.08 74.02h0.7v0.7h-0.7zM121.95 71.46h0.7v0.7h-0.7zM129.17 75.11h0.7v0.7h-0.7zM123.3 75.31h0.7v0.7h-0.7zM131.89 72.79h0.7v0.7h-0.7zM132.5 70.23h0.7v0.7h-0.7zM133.2 81.88h0.7v0.7h-0.7zM121.06 80.65h0.7v0.7h-0.7zM130.85 69.5h0.7v0.7h-0.7zM122.65 79.51h0.7v0.7h-0.7zM122.76 74.74h0.7v0.7h-0.7zM124.13 79.51h0.7v0.7h-0.7zM128.68 88.72h0.7v0.7h-0.7zM122.04 91.1h0.7v0.7h-0.7zM123.24 65.55h0.7v0.7h-0.7zM121.4 74.31h0.7v0.7h-0.7zM130.44 61.07h0.7v0.7h-0.7zM120.21 76h0.7v0.7h-0.7zM127.96 80.17h0.7v0.7h-0.7zM129.16 75.78h0.7v0.7h-0.7zM122.61 86.59h0.7v0.7h-0.7zM134.34 80.05h0.7v0.7h-0.7zM124.95 70.26h0.7v0.7h-0.7zM136.65 80.2h0.7v0.7h-0.7zM127.73 64.35h0.7v0.7h-0.7zM123.03 75.43h0.7v0.7h-0.7zM133.23 75.56h0.7v0.7h-0.7zM129.08 92.4h0.7v0.7h-0.7zM117.01 70.48h0.7v0.7h-0.7zM128.09 77.97h0.7v0.7h-0.7zM124.26 75.72h0.7v0.7h-0.7zM124.79 79.85h0.7v0.7h-0.7zM121.16 74.84h0.7v0.7h-0.7zM125.41 68.43h0.7v0.7h-0.7zM126.67 59.67h0.7v0.7h-0.7zM127.85 76.08h0.7v0.7h-0.7zM116.98 87.7h0.7v0.7h-0.7zM116.99 93.39h0.7v0.7h-0.7zM119.66 86.62h0.7v0.7h-0.7zM123.64 89.81h0.7v0.7h-0.7zM122.69 85.19h0.7v0.7h-0.7zM122.1 62.2h0.7v0.7h-0.7zM126.36 80.8h0.7v0.7h-0.7zM126.42 90.27h0.7v0.7h-0.7zM119.62 65.71h0.7v0.7h-0.7zM125.55 71.54h0.7v0.7h-0.7zM123.4 77.02h0.7v0.7h-0.7zM119.13 85.68h0.7v0.7h-0.7zM123.3 91.21h0.7v0.7h-0.7zM125.52 85.4h0.7v0.7h-0.7zM122.29 71.82h0.7v0.7h-0.7zM120.87 70.07h0.7v0.7h-0.7zM126.7 78.13h0.7v0.7h-0.7zM117.57 64.84h0.7v0.7h-0.7zM118.89 62.58h0.7v0.7h-0.7zM118.73 65.01h0.7v0.7h-0.7zM128.24 67.85h0.7v0.7h-0.7zM120.51 76.07h0.7v0.7h-0.7zM124.22 80.38h0.7v0.7h-0.7zM128.58 82.13h0.7v0.7h-0.7zM121.97 86.93h0.7v0.7h-0.7zM126.24 71.42h0.7v0.7h-0.7zM132.96 67.66h0.7v0.7h-0.7zM126.85 86.98h0.7v0.7h-0.7zM124.71 79.77h0.7v0.7h-0.7zM124.75 82.31h0.7v0.7h-0.7zM125.36 77.09h0.7v0.7h-0.7zM128.23 62.01h0.7v0.7h-0.7zM125.53 74.64h0.7v0.7h-0.7zM135.71 79.33h0.7v0.7h-0.7zM120.1 82.22h0.7v0.7h-0.7zM121.75 67.63h0.7v0.7h-0.7zM122.36 81.01h0.7v0.7h-0.7zM131.11 85.34h0.7v0.7h-0.7zM125.39 75.75h0.7v0.7h-0.7zM125.22 86.62h0.7v0.7h-0.7zM123.28 86.22h0.7v0.7h-0.7zM119.3 76.93h0.7v0.7h-0.7zM128.63 82.6h0.7v0.7h-0.7zM125.23 72.95h0.7v0.7h-0.7zM113.36 73.55h0.7v0.7h-0.7zM119 73.84h0.7v0.7h-0.7zM133.42 70.92h0.7v0.7h-0.7zM129.06 76.87h0.7v0.7h-0.7zM117.47 77.89h0.7v0.7h-0.7zM128.49 67.62h0.7v0.7h-0.7zM117.14 74.01h0.7v0.7h-0.7zM128.33 72.27h0.7v0.7h-0.7zM126.54 80.66h0.7v0.7h-0.7zM124.11 80.59h0.7v0.7h-0.7zM131.55 75.51h0.7v0.7h-0.7zM125.96 68.59h0.7v0.7h-0.7zM119.75 76.24h0.7v0.7h-0.7zM128.85 71.71h0.7v0.7h-0.7zM115.8 84.35h0.7v0.7h-0.7zM138.08 56.64h0.7v0.7h-0.7zM117.74 77.99h0.7v0.7h-0.7zM126.9 69.53h0.7v0.7h-0.7zM126.01 85.72h0.7v0.7h-0.7zM122.41 82.8h0.7v0.7h-0.7zM124.79 69.66h0.7v0.7h-0.7zM120.4 72.19h0.7v0.7h-0.7zM131.88 86.17h0.7v0.7h-0.7zM125.46 64.65h0.7v0.7h-0.7zM121.14 73.85h0.7v0.7h-0.7zM112.65 76.86h0.7v0.7h-0.7zM125.71 66.55h0.7v0.7h-0.7zM121.51 73.41h0.7v0.7h-0.7zM134.92 82.26h0.7v0.7h-0.7zM128.56 77.7h0.7v0.7h-0.7zM116.47 84.32h0.7v0.7h-0.7zM120.05 61.83h0.7v0.7h-0.7zM128.32 74.28h0.7v0.7h-0.7zM124.02 81.08h0.7v0.7h-0.7zM122.65 80.27h0.7v0.7h-0.7zM131.62 74.47h0.7v0.7h-0.7zM121.94 77.15h0.7v0.7h-0.7zM127.83 73.85h0.7v0.7h-0.7zM124.5 71.63h0.7v0.7h-0.7zM123.58 81.31h0.7v0.7h-0.7zM119.21 75.57h0.7v0.7h-0.7zM115.44 71.49h0.7v0.7h-0.7zM124.48 81.2h0.7v0.7h-0.7zM117.97 76.22h0.7v0.7h-0.7zM118.57 79.51h0.7v0.7h-0.7zM125.56 80.52h0.7v0.7h-0.7zM122.78 65.77h0.7v0.7h-0.7zM120.74 66.45h0.7v0.7h-0.7zM120.04 76.56h0.7v0.7h-0.7zM130.35 71.93h0.7v0.7h-0.7zM119.49 78.62h0.7v0.7h-0.7zM115 85.03h0.7v0.7h-0.7zM129.76 84.62h0.7v0.7h-0.7zM123.4 82.79h0.7v0.7h-0.7zM122.01 84.59h0.7v0.7h-0.7zM120.2 70.58h0.7v0.7h-0.7zM126.24 73.44h0.7v0.7h-0.7zM127.95 70.24h0.7v0.7h-0.7zM125.59 69.27h0.7v0.7h-0.7zM123.42 93.95h0.7v0.7h-0.7zM117.72 67.31h0.7v0.7h-0.7zM114.65 75.22h0.7v0.7h-0.7zM133.49 73.46h0.7v0.7h-0.7zM129.46 75.56h0.7v0.7h-0.7zM120.31 92.84h0.7v0.7h-0.7zM130.32 62.51h0.7v0.7h-0.7zM118.3 80.26h0.7v0.7h-0.7zM127.82 75.25h0.7v0.7h-0.7zM125.85 81.25h0.7v0.7h-0.7zM121.97 84.87h0.7v0.7h-0.7zM119.06 82.96h0.7v0.7h-0.7zM129.35 78.61h0.7v0.7h-0.7zM122 76.86h0.7v0.7h-0.7zM115.72 61.13h0.7v0.7h-0.7zM128.46 69.81h0.7v0.7h-0.7zM126.08 77.37h0.7v0.7h-0.7zM113.76 69.91h0.7v0.7h-0.7zM122.44 80.7h0.7v0.7h-0.7zM124.42 67.06h0.7v0.7h-0.7zM120.93 77.84h0.7v0.7h-0.7zM116.61 73.53h0.7v0.7h-0.7zM120.83 60.28h0.7v0.7h-0.7zM134.05 83.92h0.7v0.7h-0.7zM121.3 84.47h0.7v0.7h-0.7zM117.94 89.06h0.7v0.7h-0.7zM121.85 78.11h0.7v0.7h-0.7zM120.65 77.73h0.7v0.7h-0.7zM125.93 77.26h0.7v0.7h-0.7zM119.2 82.97h0.7v0.7h-0.7zM127.25 77.02h0.7v0.7h-0.7zM130.13 71.2h0.7v0.7h-0.7zM131.44 75.75h0.7v0.7h-0.7zM132.82 73.52h0.7v0.7h-0.7zM122.54 78.67h0.7v0.7h-0.7zM130.38 88.35h0.7v0.7h-0.7zM121.36 71.28h0.7v0.7h-0.7zM128.45 86.78h0.7v0.7h-0.7zM128.1 74.42h0.7v0.7h-0.7zM131.41 76.81h0.7v0.7h-0.7zM124.99 81.9h0.7v0.7h-0.7zM120.71 59.18h0.7v0.7h-0.7zM125.28 82.65h0.7v0.7h-0.7zM126.55 81.28h0.7v0.7h-0.7zM124.95 85.22h0.7v0.7h-0.7zM124.68 88.76h0.7v0.7h-0.7zM124.3 83.28h0.7v0.7h-0.7zM120.81 79.38h0.7v0.7h-0.7zM126.48 78.1h0.7v0.7h-0.7zM132.98 77.36h0.7v0.7h-0.7zM130.53 79.78h0.7v0.7h-0.7zM130.35 69.91h0.7v0.7h-0.7zM121.9 84.61h0.7v0.7h-0.7zM119.26 80.1h0.7v0.7h-0.7zM127.3 78.55h0.7v0.7h-0.7zM126.55 81.28h0.7v0.7h-0.7zM122.64 80.25h0.7v0.7h-0.7zM121.01 73.45h0.7v0.7h-0.7zM114.8 76.2h0.7v0.7h-0.7zM114.14 77.23h0.7v0.7h-0.7zM125.23 68.44h0.7v0.7h-0.7zM124.41 79.29h0.7v0.7h-0.7zM121.98 69.83h0.7v0.7h-0.7zM123.36 80.23h0.7v0.7h-0.7zM129.39 92.26h0.7v0.7h-0.7zM112.55 79.71h0.7v0.7h-0.7zM126.53 71.99h0.7v0.7h-0.7zM125.88 93.51h0.7v0.7h-0.7zM124.67 87.77h0.7v0.7h-0.7zM130.19 73.52h0.7v0.7h-0.7zM132.95 63.12h0.7v0.7h-0.7zM122.86 71.51h0.7v0.7h-0.7zM125.2 77.5h0.7v0.7h-0.7zM130.65 72.35h0.7v0.7h-0.7zM135.21 63.53h0.7v0.7h-0.7zM123.44 81.97h0.7v0.7h-0.7zM129.2 74.24h0.7v0.7h-0.7zM112.89 78.68h0.7v0.7h-0.7zM128.26 60.9h0.7v0.7h-0.7zM121.17 81.43h0.7v0.7h-0.7zM114.78 66.42h0.7v0.7h-0.7zM126.37 85.98h0.7v0.7h-0.7zM130.77 71.82h0.7v0.7h-0.7zM126.96 63.02h0.7v0.7h-0.7zM115.41 81.31h0.7v0.7h-0.7zM121.69 68.96h0.7v0.7h-0.7zM113.15 75.16h0.7v0.7h-0.7zM136.98 61.08h0.7v0.7h-0.7zM117.94 85.89h0.7v0.7h-0.7zM112.87 72.09h0.7v0.7h-0.7zM124.41 85.96h0.7v0.7h-0.7zM123.58 91.41h0.7v0.7h-0.7zM123.83 76.12h0.7v0.7h-0.7zM126.58 79.79h0.7v0.7h-0.7zM115.29 69.5h0.7v0.7h-0.7zM122.64 79.7h0.7v0.7h-0.7zM116.88 71.35h0.7v0.7h-0.7zM119.68 79.69h0.7v0.7h-0.7zM121.51 81.77h0.7v0.7h-0.7zM126.26 69.76h0.7v0.7h-0.7zM122.28 67.17h0.7v0.7h-0.7zM124.63 83.42h0.7v0.7h-0.7zM118.26 63h0.7v0.7h-0.7zM127.01 74.71h0.7v0.7h-0.7zM123.84 80.65h0.7v0.7h-0.7zM126.21 84.34h0.7v0.7h-0.7zM121.34 59.55h0.7v0.7h-0.7zM121.17 74.58h0.7v0.7h-0.7zM121.62 80.12h0.7v0.7h-0.7zM122.55 87.28h0.7v0.7h-0.7zM120.31 76.95h0.7v0.7h-0.7zM121.91 93.8h0.7v0.7h-0.7zM118.45 69.07h0.7v0.7h-0.7zM121.79 83.06h0.7v0.7h-0.7zM124.08 75.61h0.7v0.7h-0.7zM115.47 60.53h0.7v0.7h-0.7zM122.76 75.11h0.7v0.7h-0.7zM134.28 79.96h0.7v0.7h-0.7zM126.49 84.69h0.7v0.7h-0.7zM118.78 67.23h0.7v0.7h-0.7zM121.86 88.77h0.7v0.7h-0.7zM129.78 72.36h0.7v0.7h-0.7zM116.74 84.38h0.7v0.7h-0.7zM130.39 68.28h0.7v0.7h-0.7zM133.39 70.85h0.7v0.7h-0.7zM128.39 75.37h0.7v0.7h-0.7zM122.09 72.14h0.7v0.7h-0.7zM128.06 81.92h0.7v0.7h-0.7zM128.72 74.77h0.7v0.7h-0.7zM119.04 94.06h0.7v0.7h-0.7zM145.05 70.28h0.7v0.7h-0.7zM119.93 85.4h0.7v0.7h-0.7zM131.18 72.51h0.7v0.7h-0.7zM137.49 75.14h0.7v0.7h-0.7zM130.98 89.79h0.7v0.7h-0.7zM113.41 77.77h0.7v0.7h-0.7zM121.34 72.66h0.7v0.7h-0.7zM128.51 74.38h0.7v0.7h-0.7zM150.52 68.31h0.7v0.7h-0.7zM137.95 77.61h0.7v0.7h-0.7zM132.62 67.5h0.7v0.7h-0.7zM135.6 74.44h0.7v0.7h-0.7zM142.76 79.45h0.7v0.7h-0.7zM123.74 45.86h0.7v0.7h-0.7zM143.32 76.38h0.7v0.7h-0.7zM131.52 66.57h0.7v0.7h-0.7zM152.11 83.99h0.7v0.7h-0.7zM130.86 68.7h0.7v0.7h-0.7zM135.08 84.18h0.7v0.7h-0.7zM134.59 80.47h0.7v0.7h-0.7zM132.32 75.19h0.7v0.7h-0.7zM118.8 73.1h0.7v0.7h-0.7zM130.46 71.35h0.7v0.7h-0.7zM127.87 74.75h0.7v0.7h-0.7zM124.88 70.24h0.7v0.7h-0.7zM118.41 92.73h0.7v0.7h-0.7zM122.1 61.21h0.7v0.7h-0.7zM125.24 68.28h0.7v0.7h-0.7zM120.49 50.12h0.7v0.7h-0.7zM144.56 81.15h0.7v0.7h-0.7zM126.64 77.01h0.7v0.7h-0.7zM120.14 57.46h0.7v0.7h-0.7zM132.97 77.17h0.7v0.7h-0.7zM123.91 71.97h0.7v0.7h-0.7zM139.39 73.53h0.7v0.7h-0.7zM131.61 77.19h0.7v0.7h-0.7zM118.7 74.17h0.7v0.7h-0.7zM124.42 55.08h0.7v0.7h-0.7zM137.93 70.32h0.7v0.7h-0.7zM138.85 90h0.7v0.7h-0.7zM115.29 60.56h0.7v0.7h-0.7zM139.6 84.65h0.7v0.7h-0.7zM133.53 75.24h0.7v0.7h-0.7zM136.18 77.88h0.7v0.7h-0.7zM118.65 78.69h0.7v0.7h-0.7zM138.82 68.36h0.7v0.7h-0.7zM121.85 67.62h0.7v0.7h-0.7zM124.77 76.74h0.7v0.7h-0.7zM136.91 72.22h0.7v0.7h-0.7zM127.27 56.11h0.7v0.7h-0.7zM126.2 63.07h0.7v0.7h-0.7zM125.06 75.09h0.7v0.7h-0.7zM122.2 67.21h0.7v0.7h-0.7zM119.77 69.71h0.7v0.7h-0.7zM127.45 81.01h0.7v0.7h-0.7zM112.57 80.16h0.7v0.7h-0.7zM135.75 67.3h0.7v0.7h-0.7zM123.87 73.76h0.7v0.7h-0.7zM134.66 70.58h0.7v0.7h-0.7zM128.6 72.16h0.7v0.7h-0.7zM120.31 74.44h0.7v0.7h-0.7zM135.14 72.46h0.7v0.7h-0.7zM119.8 72.01h0.7v0.7h-0.7zM129.01 74.83h0.7v0.7h-0.7zM126.26 79.43h0.7v0.7h-0.7zM139.68 79.38h0.7v0.7h-0.7zM132.08 82.89h0.7v0.7h-0.7zM129.62 70.52h0.7v0.7h-0.7zM117.19 72.18h0.7v0.7h-0.7zM140.84 63.49h0.7v0.7h-0.7zM136.95 60.7h0.7v0.7h-0.7zM132.65 88.28h0.7v0.7h-0.7zM130.38 61.61h0.7v0.7h-0.7zM132.54 70.71h0.7v0.7h-0.7zM137.09 67.37h0.7v0.7h-0.7zM114.49 67.77h0.7v0.7h-0.7zM135.24 81.14h0.7v0.7h-0.7zM132.44 72.23h0.7v0.7h-0.7zM136.1 70.27h0.7v0.7h-0.7zM125.91 74.02h0.7v0.7h-0.7zM139.74 67.57h0.7v0.7h-0.7zM134.4 66.34h0.7v0.7h-0.7zM123.4 73.55h0.7v0.7h-0.7zM118.07 64.47h0.7v0.7h-0.7zM119.32 66.69h0.7v0.7h-0.7zM121.81 92.64h0.7v0.7h-0.7zM135.39 72.66h0.7v0.7h-0.7zM118.01 51h0.7v0.7h-0.7zM133.89 66.46h0.7v0.7h-0.7zM139.32 68.54h0.7v0.7h-0.7zM118.28 66.39h0.7v0.7h-0.7zM116.31 59.54h0.7v0.7h-0.7zM136.31 67.34h0.7v0.7h-0.7zM136.11 67.08h0.7v0.7h-0.7zM127.87 67.17h0.7v0.7h-0.7zM125.07 66.21h0.7v0.7h-0.7zM143.3 71.54h0.7v0.7h-0.7zM112.51 86.97h0.7v0.7h-0.7zM141.16 81.9h0.7v0.7h-0.7zM129 70.66h0.7v0.7h-0.7zM125.66 73.12h0.7v0.7h-0.7zM134.13 72h0.7v0.7h-0.7zM122.58 63.52h0.7v0.7h-0.7zM144.83 86.87h0.7v0.7h-0.7zM118.84 66.4h0.7v0.7h-0.7zM129.56 77.18h0.7v0.7h-0.7zM128.9 74.13h0.7v0.7h-0.7zM133.18 82.05h0.7v0.7h-0.7zM118.25 81.66h0.7v0.7h-0.7zM133.85 76.76h0.7v0.7h-0.7zM116.42 70.01h0.7v0.7h-0.7zM127.59 77.63h0.7v0.7h-0.7zM136.04 78.06h0.7v0.7h-0.7zM118.34 83.05h0.7v0.7h-0.7zM130.51 80.2h0.7v0.7h-0.7zM129.82 65.87h0.7v0.7h-0.7zM153.39 77.78h0.7v0.7h-0.7zM136.74 67.99h0.7v0.7h-0.7zM127.92 81.77h0.7v0.7h-0.7zM133.9 87.33h0.7v0.7h-0.7zM140.66 62.62h0.7v0.7h-0.7zM116.1 82.18h0.7v0.7h-0.7zM135.28 69.77h0.7v0.7h-0.7zM127.28 67.17h0.7v0.7h-0.7zM145.98 70.61h0.7v0.7h-0.7zM117.52 79.95h0.7v0.7h-0.7zM129.13 75.14h0.7v0.7h-0.7zM126.45 71.7h0.7v0.7h-0.7zM113.02 76.72h0.7v0.7h-0.7zM123.74 68.7h0.7v0.7h-0.7zM132.72 83.18h0.7v0.7h-0.7zM134.77 80.88h0.7v0.7h-0.7zM121.71 74.82h0.7v0.7h-0.7zM133.45 80.15h0.7v0.7h-0.7zM124.3 70.43h0.7v0.7h-0.7zM125.28 81.95h0.7v0.7h-0.7zM139.61 68.2h0.7v0.7h-0.7zM128.65 73.96h0.7v0.7h-0.7zM121.79 71.07h0.7v0.7h-0.7zM137.62 78.79h0.7v0.7h-0.7zM123.76 66.42h0.7v0.7h-0.7zM128.82 59.33h0.7v0.7h-0.7zM132.64 73.1h0.7v0.7h-0.7zM117.89 70.04h0.7v0.7h-0.7zM123.92 69.72h0.7v0.7h-0.7zM122 83.87h0.7v0.7h-0.7zM121.2 78.67h0.7v0.7h-0.7zM131.71 84.56h0.7v0.7h-0.7zM129.33 72.09h0.7v0.7h-0.7zM130.45 55.78h0.7v0.7h-0.7zM151.43 70.24h0.7v0.7h-0.7zM127.02 62.36h0.7v0.7h-0.7zM128.62 85.97h0.7v0.7h-0.7zM123.06 75.88h0.7v0.7h-0.7zM139.11 80.23h0.7v0.7h-0.7zM126.22 57.06h0.7v0.7h-0.7zM133.5 76.99h0.7v0.7h-0.7zM126.91 68.4h0.7v0.7h-0.7zM145.58 58.5h0.7v0.7h-0.7zM125.23 66.86h0.7v0.7h-0.7zM115.82 66.14h0.7v0.7h-0.7zM122.68 82.78h0.7v0.7h-0.7zM114.17 60.29h0.7v0.7h-0.7zM132.19 58.79h0.7v0.7h-0.7zM119.01 63.73h0.7v0.7h-0.7zM128.41 75.98h0.7v0.7h-0.7zM124.03 69.73h0.7v0.7h-0.7zM136.25 70.79h0.7v0.7h-0.7zM136.42 67.06h0.7v0.7h-0.7zM134.23 83.03h0.7v0.7h-0.7zM126.93 69.2h0.7v0.7h-0.7zM128.39 76.07h0.7v0.7h-0.7zM118.98 72.45h0.7v0.7h-0.7zM124.59 84.32h0.7v0.7h-0.7zM114.33 77.66h0.7v0.7h-0.7zM127 65.72h0.7v0.7h-0.7zM131.06 70.07h0.7v0.7h-0.7zM130.2 74.15h0.7v0.7h-0.7zM140.63 68.66h0.7v0.7h-0.7zM144.84 49.05h0.7v0.7h-0.7zM146.21 82.5h0.7v0.7h-0.7zM143.87 73.81h0.7v0.7h-0.7zM132.38 63.45h0.7v0.7h-0.7zM141.84 62.22h0.7v0.7h-0.7zM122.69 72.11h0.7v0.7h-0.7zM131.93 75.02h0.7v0.7h-0.7zM119.39 69.18h0.7v0.7h-0.7zM134.23 82.23h0.7v0.7h-0.7zM136.7 75.65h0.7v0.7h-0.7zM127.49 67.5h0.7v0.7h-0.7zM125.23 71.31h0.7v0.7h-0.7zM134.58 67.81h0.7v0.7h-0.7zM148.3 63.59h0.7v0.7h-0.7zM137.15 70.39h0.7v0.7h-0.7zM128.57 68.88h0.7v0.7h-0.7zM143.6 69.59h0.7v0.7h-0.7zM134.78 73.13h0.7v0.7h-0.7zM136.56 77.12h0.7v0.7h-0.7zM144.66 65.9h0.7v0.7h-0.7zM122.46 86.55h0.7v0.7h-0.7zM141.27 72.75h0.7v0.7h-0.7zM127.26 74.29h0.7v0.7h-0.7zM141.52 65.61h0.7v0.7h-0.7zM142.86 71.65h0.7v0.7h-0.7zM126.59 68.76h0.7v0.7h-0.7zM118.03 67.37h0.7v0.7h-0.7zM121.8 74.12h0.7v0.7h-0.7zM136.3 72.46h0.7v0.7h-0.7zM131.54 75.63h0.7v0.7h-0.7zM144.24 77.04h0.7v0.7h-0.7zM143.92 71.6h0.7v0.7h-0.7zM133 66.6h0.7v0.7h-0.7zM135.16 64.86h0.7v0.7h-0.7zM134.05 66.75h0.7v0.7h-0.7zM126.67 82.49h0.7v0.7h-0.7zM131.15 78.87h0.7v0.7h-0.7zM127.68 56.29h0.7v0.7h-0.7zM143.05 70.6h0.7v0.7h-0.7zM124.02 80.17h0.7v0.7h-0.7zM119.65 65.81h0.7v0.7h-0.7zM140.11 66.22h0.7v0.7h-0.7zM139.96 69.54h0.7v0.7h-0.7zM127.94 72.72h0.7v0.7h-0.7zM125.36 81.23h0.7v0.7h-0.7zM139.66 72.7h0.7v0.7h-0.7zM135.3 76.73h0.7v0.7h-0.7zM144.93 58.68h0.7v0.7h-0.7zM139.02 79.89h0.7v0.7h-0.7zM127.02 72.26h0.7v0.7h-0.7zM126.73 82.64h0.7v0.7h-0.7zM119.58 77.29h0.7v0.7h-0.7zM141.35 77h0.7v0.7h-0.7zM125.54 68.24h0.7v0.7h-0.7zM139.66 64.12h0.7v0.7h-0.7zM115.15 70.05h0.7v0.7h-0.7zM116.49 76.03h0.7v0.7h-0.7zM122.02 80.21h0.7v0.7h-0.7zM128.79 60.12h0.7v0.7h-0.7zM122.93 66.66h0.7v0.7h-0.7zM122.27 82.62h0.7v0.7h-0.7zM120.85 75.23h0.7v0.7h-0.7zM124.6 77.15h0.7v0.7h-0.7zM117.02 58.87h0.7v0.7h-0.7zM134.42 84.26h0.7v0.7h-0.7zM117.43 69.49h0.7v0.7h-0.7zM125.29 64.22h0.7v0.7h-0.7zM138.53 72.56h0.7v0.7h-0.7zM117.43 70.32h0.7v0.7h-0.7zM141.81 66.15h0.7v0.7h-0.7zM125.22 65.14h0.7v0.7h-0.7zM131.3 67.44h0.7v0.7h-0.7zM137.84 65.11h0.7v0.7h-0.7zM116.77 75.98h0.7v0.7h-0.7zM132.37 74.24h0.7v0.7h-0.7zM124.66 68.38h0.7v0.7h-0.7zM122.63 70.64h0.7v0.7h-0.7zM125.75 76.83h0.7v0.7h-0.7zM129.94 76.84h0.7v0.7h-0.7zM144.5 69.84h0.7v0.7h-0.7zM127.25 75.34h0.7v0.7h-0.7zM148.68 69.11h0.7v0.7h-0.7zM145.01 82.2h0.7v0.7h-0.7zM121.04 75.52h0.7v0.7h-0.7zM141.78 72.62h0.7v0.7h-0.7zM131.32 90.53h0.7v0.7h-0.7zM133.05 90.39h0.7v0.7h-0.7zM121.82 86.12h0.7v0.7h-0.7zM125.31 51.59h0.7v0.7h-0.7zM122.42 68.13h0.7v0.7h-0.7zM129.47 78.56h0.7v0.7h-0.7zM136.05 76.58h0.7v0.7h-0.7zM123.15 87.28h0.7v0.7h-0.7zM140.62 72.46h0.7v0.7h-0.7zM124.72 71.75h0.7v0.7h-0.7zM127.86 66.25h0.7v0.7h-0.7zM129.76 66.52h0.7v0.7h-0.7zM135.63 66.62h0.7v0.7h-0.7zM134.26 74.87h0.7v0.7h-0.7zM131.36 76.59h0.7v0.7h-0.7zM120.65 94.01h0.7v0.7h-0.7zM123.65 78.38h0.7v0.7h-0.7zM130.07 68.47h0.7v0.7h-0.7zM145.49 81.51h0.7v0.7h-0.7zM127.4 76.94h0.7v0.7h-0.7zM136.01 85.58h0.7v0.7h-0.7zM138.99 70.72h0.7v0.7h-0.7zM127.61 62.27h0.7v0.7h-0.7zM132.24 79.5h0.7v0.7h-0.7zM126.37 77.79h0.7v0.7h-0.7zM131.06 68.22h0.7v0.7h-0.7zM118.92 81.6h0.7v0.7h-0.7zM152.66 76.79h0.7v0.7h-0.7zM120.18 63.35h0.7v0.7h-0.7zM132.15 77.67h0.7v0.7h-0.7zM143.54 51.61h0.7v0.7h-0.7zM146.52 73.55h0.7v0.7h-0.7zM131.11 75.43h0.7v0.7h-0.7zM126.7 69.7h0.7v0.7h-0.7zM139.37 57.4h0.7v0.7h-0.7zM128.87 76.9h0.7v0.7h-0.7zM115.08 70.78h0.7v0.7h-0.7zM143.66 75.31h0.7v0.7h-0.7zM136.26 78.14h0.7v0.7h-0.7zM131.88 75.18h0.7v0.7h-0.7zM122.59 70.35h0.7v0.7h-0.7zM146.52 61.67h0.7v0.7h-0.7zM128.4 61.34h0.7v0.7h-0.7zM125.11 65.55h0.7v0.7h-0.7zM118.88 74.19h0.7v0.7h-0.7zM121.41 76.64h0.7v0.7h-0.7zM146.17 50.33h0.7v0.7h-0.7zM128.42 54.27h0.7v0.7h-0.7zM128.8 75.33h0.7v0.7h-0.7zM131.81 82.44h0.7v0.7h-0.7zM131.35 57.42h0.7v0.7h-0.7zM143.46 64.04h0.7v0.7h-0.7zM129.09 74.89h0.7v0.7h-0.7zM122 72.9h0.7v0.7h-0.7zM143.37 57.73h0.7v0.7h-0.7zM114.93 68.31h0.7v0.7h-0.7zM128.42 61.21h0.7v0.7h-0.7zM133.45 60.81h0.7v0.7h-0.7zM135.09 71.58h0.7v0.7h-0.7zM131.38 60.71h0.7v0.7h-0.7zM127.96 76.22h0.7v0.7h-0.7zM114.16 63.15h0.7v0.7h-0.7zM138.66 89.19h0.7v0.7h-0.7zM135.89 71.51h0.7v0.7h-0.7zM120.19 68.64h0.7v0.7h-0.7zM127.67 75.9h0.7v0.7h-0.7zM127.65 93.32h0.7v0.7h-0.7zM141.86 53.32h0.7v0.7h-0.7zM119.42 72.1h0.7v0.7h-0.7zM138.79 75.58h0.7v0.7h-0.7zM142.1 77.18h0.7v0.7h-0.7zM153.02 78.97h0.7v0.7h-0.7zM134.12 85.22h0.7v0.7h-0.7zM125.94 67.44h0.7v0.7h-0.7zM120.83 74.24h0.7v0.7h-0.7zM133.91 80.15h0.7v0.7h-0.7zM143.01 77.47h0.7v0.7h-0.7zM141.06 69.97h0.7v0.7h-0.7zM121.27 78.38h0.7v0.7h-0.7zM139.1 83.61h0.7v0.7h-0.7zM128.48 68.07h0.7v0.7h-0.7zM126.69 75.2h0.7v0.7h-0.7zM129.53 70.52h0.7v0.7h-0.7zM132.26 69.6h0.7v0.7h-0.7zM133.01 66.95h0.7v0.7h-0.7zM116.04 69.43h0.7v0.7h-0.7zM147.01 65.12h0.7v0.7h-0.7zM138.22 83.67h0.7v0.7h-0.7zM125.07 74.32h0.7v0.7h-0.7zM143.84 73.69h0.7v0.7h-0.7zM123.27 73.06h0.7v0.7h-0.7zM132.56 68.53h0.7v0.7h-0.7zM127.18 65.05h0.7v0.7h-0.7zM135.15 73.81h0.7v0.7h-0.7zM133.1 67.75h0.7v0.7h-0.7zM134.43 69.51h0.7v0.7h-0.7zM132.66 70.71h0.7v0.7h-0.7zM124 62.64h0.7v0.7h-0.7zM113.17 60.31h0.7v0.7h-0.7zM115.17 65.05h0.7v0.7h-0.7zM128.13 62.01h0.7v0.7h-0.7zM133.76 90.1h0.7v0.7h-0.7zM141.15 62.03h0.7v0.7h-0.7zM129.04 66.63h0.7v0.7h-0.7zM136.87 59.51h0.7v0.7h-0.7zM132.79 73.96h0.7v0.7h-0.7zM135.08 75.77h0.7v0.7h-0.7zM131.37 56.69h0.7v0.7h-0.7zM127.07 63.88h0.7v0.7h-0.7zM134.77 70.04h0.7v0.7h-0.7zM131.36 81.61h0.7v0.7h-0.7zM129.02 86.66h0.7v0.7h-0.7zM137.53 59.2h0.7v0.7h-0.7zM124.72 82.62h0.7v0.7h-0.7zM125.49 82.42h0.7v0.7h-0.7zM124.92 71h0.7v0.7h-0.7zM139.26 58.39h0.7v0.7h-0.7zM130.68 68.12h0.7v0.7h-0.7zM131.52 86.89h0.7v0.7h-0.7zM134.41 60.33h0.7v0.7h-0.7zM138.66 68.12h0.7v0.7h-0.7zM131.48 82.1h0.7v0.7h-0.7zM127.2 80.36h0.7v0.7h-0.7zM131.6 64.21h0.7v0.7h-0.7zM127.2 60.26h0.7v0.7h-0.7zM140.66 73.46h0.7v0.7h-0.7zM138.72 62.36h0.7v0.7h-0.7zM137.63 61.66h0.7v0.7h-0.7zM132.53 71.92h0.7v0.7h-0.7zM124.67 74.7h0.7v0.7h-0.7zM130.31 64.49h0.7v0.7h-0.7zM123.3 60.7h0.7v0.7h-0.7zM142.35 73.34h0.7v0.7h-0.7zM126.72 78.04h0.7v0.7h-0.7zM122.24 61.92h0.7v0.7h-0.7zM133.21 85.81h0.7v0.7h-0.7zM132.7 73.38h0.7v0.7h-0.7zM145.72 58.58h0.7v0.7h-0.7zM157.56 62.45h0.7v0.7h-0.7zM129.34 60.34h0.7v0.7h-0.7zM119.05 69.94h0.7v0.7h-0.7zM152.01 63.83h0.7v0.7h-0.7zM124.44 74.37h0.7v0.7h-0.7zM120.82 69.78h0.7v0.7h-0.7zM137.38 53.05h0.7v0.7h-0.7zM127.28 69.45h0.7v0.7h-0.7zM125.39 70.99h0.7v0.7h-0.7zM113.81 68.19h0.7v0.7h-0.7zM125.3 63.05h0.7v0.7h-0.7zM141.38 89.44h0.7v0.7h-0.7zM137.2 64.47h0.7v0.7h-0.7zM142.8 76.36h0.7v0.7h-0.7zM122.64 77.28h0.7v0.7h-0.7zM124.79 77h0.7v0.7h-0.7zM138.29 82.08h0.7v0.7h-0.7zM120.51 70.9h0.7v0.7h-0.7zM130.03 61.36h0.7v0.7h-0.7zM133.74 78.05h0.7v0.7h-0.7zM117.56 67.2h0.7v0.7h-0.7zM120.05 60.91h0.7v0.7h-0.7zM120.39 83.98h0.7v0.7h-0.7zM124.02 68.57h0.7v0.7h-0.7zM138.91 80.94h0.7v0.7h-0.7zM142.66 53.9h0.7v0.7h-0.7zM136.8 56.7h0.7v0.7h-0.7zM124.29 68.38h0.7v0.7h-0.7zM124.86 89.14h0.7v0.7h-0.7zM128.49 82.25h0.7v0.7h-0.7zM128.37 71.48h0.7v0.7h-0.7zM134.6 75.87h0.7v0.7h-0.7zM134.51 56.87h0.7v0.7h-0.7zM134.57 74.8h0.7v0.7h-0.7zM135.4 71.54h0.7v0.7h-0.7zM133.69 60.62h0.7v0.7h-0.7zM140.2 61.41h0.7v0.7h-0.7zM142.62 80.85h0.7v0.7h-0.7zM129.43 69.43h0.7v0.7h-0.7zM137 69.34h0.7v0.7h-0.7zM119.3 74.43h0.7v0.7h-0.7zM119.01 68.02h0.7v0.7h-0.7zM146.16 79.07h0.7v0.7h-0.7zM125.95 71.4h0.7v0.7h-0.7zM124.17 71.9h0.7v0.7h-0.7zM116.95 77.97h0.7v0.7h-0.7zM130.12 66.66h0.7v0.7h-0.7zM126.01 67.83h0.7v0.7h-0.7zM124.76 67.68h0.7v0.7h-0.7zM141.78 77.93h0.7v0.7h-0.7zM133.77 75.2h0.7v0.7h-0.7zM119.77 50.89h0.7v0.7h-0.7zM143.59 78.27h0.7v0.7h-0.7zM131.95 74.44h0.7v0.7h-0.7zM131.81 72.19h0.7v0.7h-0.7zM127.64 52.51h0.7v0.7h-0.7zM135.12 72.42h0.7v0.7h-0.7zM138.8 74.69h0.7v0.7h-0.7zM127.43 77.28h0.7v0.7h-0.7zM131.69 68.12h0.7v0.7h-0.7zM126.62 68.3h0.7v0.7h-0.7zM127.31 68.1h0.7v0.7h-0.7zM128.98 81.8h0.7v0.7h-0.7zM125.74 70.64h0.7v0.7h-0.7zM123.32 60.09h0.7v0.7h-0.7zM122.34 67.52h0.7v0.7h-0.7zM131.38 69.06h0.7v0.7h-0.7zM119.2 68.76h0.7v0.7h-0.7zM143.62 64.29h0.7v0.7h-0.7zM130.59 80.83h0.7v0.7h-0.7zM122.75 67.01h0.7v0.7h-0.7zM156.06 82.84h0.7v0.7h-0.7zM125.26 73.4h0.7v0.7h-0.7zM130.9 73.29h0.7v0.7h-0.7zM134.19 69.38h0.7v0.7h-0.7zM145.91 62.7h0.7v0.7h-0.7zM143.06 82.23h0.7v0.7h-0.7zM146.43 67.53h0.7v0.7h-0.7zM145.83 79.14h0.7v0.7h-0.7zM134.73 63.49h0.7v0.7h-0.7zM141.02 69.01h0.7v0.7h-0.7zM144.47 68.05h0.7v0.7h-0.7zM145.65 72.6h0.7v0.7h-0.7zM138.01 67.75h0.7v0.7h-0.7zM137.57 73.96h0.7v0.7h-0.7zM146.57 76.45h0.7v0.7h-0.7zM139.75 68.38h0.7v0.7h-0.7zM131.69 72.08h0.7v0.7h-0.7zM135.3 74.35h0.7v0.7h-0.7zM151.47 75.03h0.7v0.7h-0.7zM148.76 73.55h0.7v0.7h-0.7zM147.22 78.38h0.7v0.7h-0.7zM152.57 85.74h0.7v0.7h-0.7zM143.4 77.67h0.7v0.7h-0.7zM150.19 74.9h0.7v0.7h-0.7zM146.6 63.4h0.7v0.7h-0.7zM151.53 65.99h0.7v0.7h-0.7zM141.09 66.19h0.7v0.7h-0.7zM148.35 65.42h0.7v0.7h-0.7zM147.74 75.83h0.7v0.7h-0.7zM145.61 69.69h0.7v0.7h-0.7zM148.57 80.91h0.7v0.7h-0.7zM142.23 64.86h0.7v0.7h-0.7zM141.4 66.03h0.7v0.7h-0.7zM143.57 70.95h0.7v0.7h-0.7zM131.21 81.92h0.7v0.7h-0.7zM140.12 69.09h0.7v0.7h-0.7zM133.27 58.61h0.7v0.7h-0.7zM138.92 73.56h0.7v0.7h-0.7zM150.09 59.7h0.7v0.7h-0.7zM146.33 82.28h0.7v0.7h-0.7zM143.31 78.23h0.7v0.7h-0.7zM146.86 65.72h0.7v0.7h-0.7zM150.95 67.86h0.7v0.7h-0.7zM147.12 69.27h0.7v0.7h-0.7zM143.7 73.04h0.7v0.7h-0.7zM152.91 60.57h0.7v0.7h-0.7zM138.32 72.69h0.7v0.7h-0.7zM150.83 70.72h0.7v0.7h-0.7zM143.87 75.57h0.7v0.7h-0.7zM154.43 65.85h0.7v0.7h-0.7zM135.44 70.09h0.7v0.7h-0.7zM149.58 63.07h0.7v0.7h-0.7zM151.74 78.37h0.7v0.7h-0.7zM149.72 66.26h0.7v0.7h-0.7zM137.26 76.45h0.7v0.7h-0.7zM146.56 76.66h0.7v0.7h-0.7zM136.93 51.94h0.7v0.7h-0.7zM151.7 78.78h0.7v0.7h-0.7zM143.34 71.96h0.7v0.7h-0.7zM147.71 77.07h0.7v0.7h-0.7zM143.86 68.51h0.7v0.7h-0.7zM139.15 78.96h0.7v0.7h-0.7zM145.59 48.88h0.7v0.7h-0.7zM147.05 68.12h0.7v0.7h-0.7zM137.37 68.53h0.7v0.7h-0.7zM137.34 68.94h0.7v0.7h-0.7zM141.72 75.46h0.7v0.7h-0.7zM138.94 59.65h0.7v0.7h-0.7zM141.37 62.66h0.7v0.7h-0.7zM149.43 70.6h0.7v0.7h-0.7zM134.98 66.05h0.7v0.7h-0.7zM144.83 71.72h0.7v0.7h-0.7zM133.97 71.12h0.7v0.7h-0.7zM146.77 78.69h0.7v0.7h-0.7zM151.56 71.15h0.7v0.7h-0.7zM137.2 69.46h0.7v0.7h-0.7zM148.88 65.75h0.7v0.7h-0.7zM152.53 65.49h0.7v0.7h-0.7zM138.25 77.62h0.7v0.7h-0.7zM144.39 74.17h0.7v0.7h-0.7zM143.17 72.2h0.7v0.7h-0.7zM141.5 84.84h0.7v0.7h-0.7zM148.92 71.14h0.7v0.7h-0.7zM147.82 77.64h0.7v0.7h-0.7zM141.84 73.18h0.7v0.7h-0.7zM146.22 68.16h0.7v0.7h-0.7zM140.36 70.63h0.7v0.7h-0.7zM143.2 69.23h0.7v0.7h-0.7zM133.36 72.51h0.7v0.7h-0.7zM148.91 72.48h0.7v0.7h-0.7zM155.26 77.83h0.7v0.7h-0.7zM142.87 67.42h0.7v0.7h-0.7zM147.99 69.46h0.7v0.7h-0.7zM135.32 72.81h0.7v0.7h-0.7zM143.22 70.47h0.7v0.7h-0.7zM148.66 73.31h0.7v0.7h-0.7zM157.1 66.98h0.7v0.7h-0.7zM144.41 74.08h0.7v0.7h-0.7zM142.36 68.51h0.7v0.7h-0.7zM155.46 62.16h0.7v0.7h-0.7zM147.08 60.12h0.7v0.7h-0.7zM147.02 58.99h0.7v0.7h-0.7zM138.01 79.68h0.7v0.7h-0.7zM154.21 72.86h0.7v0.7h-0.7zM128.74 78.85h0.7v0.7h-0.7zM146.46 64.5h0.7v0.7h-0.7zM142.87 63.05h0.7v0.7h-0.7zM144.43 71.4h0.7v0.7h-0.7zM145.73 77.33h0.7v0.7h-0.7zM141.14 57.08h0.7v0.7h-0.7zM138.01 63.48h0.7v0.7h-0.7zM142.79 69.03h0.7v0.7h-0.7zM144.74 81.24h0.7v0.7h-0.7zM145.15 64.7h0.7v0.7h-0.7zM143.16 66.06h0.7v0.7h-0.7zM143.55 75.91h0.7v0.7h-0.7zM138.23 76.75h0.7v0.7h-0.7zM155.67 82.28h0.7v0.7h-0.7zM154.71 72.6h0.7v0.7h-0.7zM136.92 85.54h0.7v0.7h-0.7zM144.69 73.55h0.7v0.7h-0.7zM142.86 65.65h0.7v0.7h-0.7zM148.69 62.56h0.7v0.7h-0.7zM136.77 75.72h0.7v0.7h-0.7zM142.76 66.32h0.7v0.7h-0.7zM147.97 81.59h0.7v0.7h-0.7zM143.3 71.08h0.7v0.7h-0.7zM148.35 78.32h0.7v0.7h-0.7zM151.18 76.57h0.7v0.7h-0.7zM141.03 75.58h0.7v0.7h-0.7zM145.04 60.54h0.7v0.7h-0.7zM152.38 75.86h0.7v0.7h-0.7zM153.19 71.56h0.7v0.7h-0.7zM149.35 71.52h0.7v0.7h-0.7zM145.97 78.13h0.7v0.7h-0.7zM145.34 76.11h0.7v0.7h-0.7zM144.79 80.25h0.7v0.7h-0.7zM148.9 60.84h0.7v0.7h-0.7zM154.92 74.95h0.7v0.7h-0.7zM141.95 67.8h0.7v0.7h-0.7zM156.88 72.6h0.7v0.7h-0.7zM148.04 76.01h0.7v0.7h-0.7zM141.43 83.78h0.7v0.7h-0.7zM157.56 66.76h0.7v0.7h-0.7zM151.78 61.03h0.7v0.7h-0.7zM142.99 72.41h0.7v0.7h-0.7zM145.31 75.84h0.7v0.7h-0.7zM147.41 74.5h0.7v0.7h-0.7zM144.19 74.04h0.7v0.7h-0.7zM141.69 85.22h0.7v0.7h-0.7zM145.37 80.34h0.7v0.7h-0.7zM145.63 71h0.7v0.7h-0.7zM143.93 63.33h0.7v0.7h-0.7zM157.4 74.78h0.7v0.7h-0.7zM145.78 68.89h0.7v0.7h-0.7zM152.64 69.79h0.7v0.7h-0.7zM142.26 68.37h0.7v0.7h-0.7zM154.2 74.09h0.7v0.7h-0.7zM144.13 67.69h0.7v0.7h-0.7zM152.67 73.94h0.7v0.7h-0.7zM143.04 78.01h0.7v0.7h-0.7zM150.23 65.34h0.7v0.7h-0.7zM151.86 79.32h0.7v0.7h-0.7zM143.57 63.09h0.7v0.7h-0.7zM151.53 69.71h0.7v0.7h-0.7zM143.8 70.08h0.7v0.7h-0.7zM143.4 77.61h0.7v0.7h-0.7zM138.51 75.58h0.7v0.7h-0.7zM151.91 79.08h0.7v0.7h-0.7zM149.31 73.79h0.7v0.7h-0.7zM143.86 71.21h0.7v0.7h-0.7zM139.81 83.21h0.7v0.7h-0.7zM144.33 65.25h0.7v0.7h-0.7zM149.98 82.11h0.7v0.7h-0.7zM146.68 69.89h0.7v0.7h-0.7zM138.41 76.33h0.7v0.7h-0.7zM143.59 67.58h0.7v0.7h-0.7zM148.6 63.38h0.7v0.7h-0.7zM149.4 55.76h0.7v0.7h-0.7zM141.37 62.47h0.7v0.7h-0.7zM143.59 77.34h0.7v0.7h-0.7zM137.32 81.1h0.7v0.7h-0.7zM141.01 68.79h0.7v0.7h-0.7zM150.92 67.15h0.7v0.7h-0.7zM153.65 70.65h0.7v0.7h-0.7zM144.48 65.59h0.7v0.7h-0.7zM151.85 71.58h0.7v0.7h-0.7zM142.19 65.69h0.7v0.7h-0.7zM141.3 71.37h0.7v0.7h-0.7zM140.8 77.32h0.7v0.7h-0.7zM144.84 67.89h0.7v0.7h-0.7zM147.78 81.52h0.7v0.7h-0.7zM132.77 74.4h0.7v0.7h-0.7zM151.44 72.92h0.7v0.7h-0.7zM149.92 61.76h0.7v0.7h-0.7zM140.65 78.73h0.7v0.7h-0.7zM144.52 72.42h0.7v0.7h-0.7zM148.77 74.46h0.7v0.7h-0.7zM147.72 68.71h0.7v0.7h-0.7zM143.31 80.72h0.7v0.7h-0.7zM142.17 62.43h0.7v0.7h-0.7zM143.01 77.96h0.7v0.7h-0.7zM155.64 73.01h0.7v0.7h-0.7zM141.43 76.05h0.7v0.7h-0.7zM146.86 79.87h0.7v0.7h-0.7zM148.14 77.02h0.7v0.7h-0.7zM148.08 74.79h0.7v0.7h-0.7zM139.73 70.93h0.7v0.7h-0.7zM154.5 80.86h0.7v0.7h-0.7zM150.76 74.64h0.7v0.7h-0.7zM144.45 74.33h0.7v0.7h-0.7zM143.16 79.24h0.7v0.7h-0.7zM143.27 66.97h0.7v0.7h-0.7zM135.64 82.34h0.7v0.7h-0.7zM140.68 66.31h0.7v0.7h-0.7zM147.48 83.94h0.7v0.7h-0.7zM149.03 69.81h0.7v0.7h-0.7zM148.44 66.54h0.7v0.7h-0.7zM143.64 72.21h0.7v0.7h-0.7zM145.2 77.19h0.7v0.7h-0.7zM148.29 84.52h0.7v0.7h-0.7zM150.01 70.14h0.7v0.7h-0.7zM146.64 66.39h0.7v0.7h-0.7zM141.55 69.76h0.7v0.7h-0.7zM151.08 67.45h0.7v0.7h-0.7zM136.01 65.31h0.7v0.7h-0.7zM138.12 70.8h0.7v0.7h-0.7zM143.38 64.29h0.7v0.7h-0.7zM140.51 69.27h0.7v0.7h-0.7zM147.45 76.07h0.7v0.7h-0.7zM152.89 70.32h0.7v0.7h-0.7zM148.84 72.52h0.7v0.7h-0.7zM138.78 67.82h0.7v0.7h-0.7zM157.94 70.96h0.7v0.7h-0.7zM154.8 77.49h0.7v0.7h-0.7zM154.88 70.77h0.7v0.7h-0.7zM150.62 70.02h0.7v0.7h-0.7zM138.72 64.28h0.7v0.7h-0.7zM147.75 61.36h0.7v0.7h-0.7zM147.33 66.26h0.7v0.7h-0.7zM147.27 62.94h0.7v0.7h-0.7zM150.15 70.5h0.7v0.7h-0.7zM136.3 62.5h0.7v0.7h-0.7zM145.58 61.2h0.7v0.7h-0.7zM147.12 75.23h0.7v0.7h-0.7zM141.39 81.26h0.7v0.7h-0.7zM153.62 74.1h0.7v0.7h-0.7zM147.87 75.14h0.7v0.7h-0.7zM143.7 80.7h0.7v0.7h-0.7zM142.11 55.38h0.7v0.7h-0.7zM145.34 74.93h0.7v0.7h-0.7zM150.01 64.71h0.7v0.7h-0.7zM153.31 66.6h0.7v0.7h-0.7zM148.89 76.84h0.7v0.7h-0.7zM151.47 71.51h0.7v0.7h-0.7zM146.92 77.57h0.7v0.7h-0.7zM153.6 61.24h0.7v0.7h-0.7zM139.29 73.4h0.7v0.7h-0.7zM160.75 60.2h0.7v0.7h-0.7zM143.57 71.48h0.7v0.7h-0.7zM150.67 57.66h0.7v0.7h-0.7zM147.01 64.47h0.7v0.7h-0.7zM156.93 74.37h0.7v0.7h-0.7zM146.08 74.17h0.7v0.7h-0.7zM140.04 68.74h0.7v0.7h-0.7zM149.34 66.91h0.7v0.7h-0.7zM147.33 59.31h0.7v0.7h-0.7zM152.2 71.49h0.7v0.7h-0.7zM135.28 64.36h0.7v0.7h-0.7zM147.55 56.93h0.7v0.7h-0.7zM141.17 67.44h0.7v0.7h-0.7zM154.04 68.29h0.7v0.7h-0.7zM136.82 53.94h0.7v0.7h-0.7zM146.13 61.15h0.7v0.7h-0.7zM162.22 61.47h0.7v0.7h-0.7zM151.14 70.61h0.7v0.7h-0.7zM161.6 66.48h0.7v0.7h-0.7zM152.61 76.84h0.7v0.7h-0.7zM147.56 52.13h0.7v0.7h-0.7zM145.2 61.94h0.7v0.7h-0.7zM159.16 66.11h0.7v0.7h-0.7zM158.44 64.7h0.7v0.7h-0.7zM150.58 60.19h0.7v0.7h-0.7zM141.94 67.37h0.7v0.7h-0.7zM152.74 67.81h0.7v0.7h-0.7zM146.68 61.24h0.7v0.7h-0.7zM152.85 68.04h0.7v0.7h-0.7zM163.78 58.23h0.7v0.7h-0.7zM156.99 69.88h0.7v0.7h-0.7zM148.51 64.93h0.7v0.7h-0.7zM149.92 74.15h0.7v0.7h-0.7zM148.57 70.31h0.7v0.7h-0.7zM153.64 62.79h0.7v0.7h-0.7zM155.4 69.79h0.7v0.7h-0.7zM147.63 69.66h0.7v0.7h-0.7zM135.12 55.49h0.7v0.7h-0.7zM148.2 65.07h0.7v0.7h-0.7zM140.43 73.81h0.7v0.7h-0.7zM147.74 65.02h0.7v0.7h-0.7zM150.01 69.02h0.7v0.7h-0.7zM146.38 68.94h0.7v0.7h-0.7zM144.68 54.2h0.7v0.7h-0.7zM153.77 65.09h0.7v0.7h-0.7zM156.26 51.15h0.7v0.7h-0.7zM151.05 59.75h0.7v0.7h-0.7zM149.03 61.41h0.7v0.7h-0.7zM147.76 59.58h0.7v0.7h-0.7zM157.21 52.61h0.7v0.7h-0.7zM138.98 66.3h0.7v0.7h-0.7zM163.92 58.95h0.7v0.7h-0.7zM144.18 56.26h0.7v0.7h-0.7zM143.39 72.31h0.7v0.7h-0.7z" fill="#000" stroke="none" stroke-width="1"/>
<path d="M133.5 59.5C134.42 58.25 135.92 58.25 137 58.5C138.08 58.75 139.2 59.08 140 61C140.8 62.92 141.47 66.83 141.8 70C142.13 73.17 142.22 76.83 142 80C141.78 83.17 141.25 86.67 140.5 89C139.75 91.33 138.58 93.33 137.5 94C136.42 94.67 135 94.17 134 93C133 91.83 132.08 89.67 131.5 87C130.92 84.33 130.5 80.5 130.5 77C130.5 73.5 131 68.92 131.5 66C132 63.08 132.58 60.75 133.5 59.5Z" fill="#000" stroke="none" stroke-width="1"/>
<path d="M112.5 82C113.2 80.28 115.5 80.5 117 80.5C118.5 80.5 120.5 81 121.5 82C122.5 83 123 85.17 123 86.5C123 87.83 122.5 89.25 121.5 90C120.5 90.75 118.45 90.87 117 91C115.55 91.13 113.55 92.3 112.8 90.8C112.05 89.3 111.8 83.72 112.5 82Z" fill="#000" stroke="none" stroke-width="1"/>
<rect x="37.8" y="91.1" width="11" height="4" fill="#fff" stroke="none" stroke-width="1"/>
<text x="39.1" y="94.3" font-size="4.8">79.6</text>
<rect x="112.5" y="91.1" width="11" height="4" fill="#fff" stroke="none" stroke-width="1"/>
<text x="113.8" y="94.3" font-size="4.8">14.5</text>
<rect x="37.3" y="125.2" width="53.3" height="53.7" fill="none" stroke="#9a9a9a" stroke-width="0.5"/>
<path d="M37.3 127.2h-1.2M37.3 129.23h-1.2M37.3 131.26h-1.2M37.3 133.28h-1.2M37.3 135.31h-1.2M37.3 137.34h-1.2M37.3 139.37h-1.2M37.3 141.4h-1.2M37.3 143.42h-1.2M37.3 145.45h-1.2M37.3 147.48h-1.2M37.3 149.51h-1.2M37.3 151.54h-1.2M37.3 153.56h-1.2M37.3 155.59h-1.2M37.3 157.62h-1.2M37.3 159.65h-1.2M37.3 161.68h-1.2M37.3 163.7h-1.2M37.3 165.73h-1.2M37.3 167.76h-1.2M37.3 169.79h-1.2M37.3 171.82h-1.2M37.3 173.84h-1.2M37.3 175.87h-1.2M37.3 177.9h-1.2M39.3 178.9v1.2M41.31 178.9v1.2M43.32 178.9v1.2M45.34 178.9v1.2M47.35 178.9v1.2M49.36 178.9v1.2M51.37 178.9v1.2M53.38 178.9v1.2M55.4 178.9v1.2M57.41 178.9v1.2M59.42 178.9v1.2M61.43 178.9v1.2M63.44 178.9v1.2M65.46 178.9v1.2M67.47 178.9v1.2M69.48 178.9v1.2M71.49 178.9v1.2M73.5 178.9v1.2M75.52 178.9v1.2M77.53 178.9v1.2M79.54 178.9v1.2M81.55 178.9v1.2M83.56 178.9v1.2M85.58 178.9v1.2M87.59 178.9v1.2M89.6 178.9v1.2" fill="none" stroke="#666" stroke-width="0.4"/>
<text x="33.1" y="131.9" font-size="5.2" text-anchor="end">10<tspan baseline-shift="super" font-size="70%">5</tspan></text>
<text x="33.1" y="144.6" font-size="5.2" text-anchor="end">10<tspan baseline-shift="super" font-size="70%">4</tspan></text>
<text x="33.1" y="157.1" font-size="5.2" text-anchor="end">10<tspan baseline-shift="super" font-size="70%">3</tspan></text>
<text x="33.1" y="169.1" font-size="5.2" text-anchor="end">10<tspan baseline-shift="super" font-size="70%">2</tspan></text>
<text x="33.1" y="176.1" font-size="5.2" text-anchor="end">0</text>
<text x="41.9" y="187.7" font-size="5.2" text-anchor="middle">0</text>
<text x="48.5" y="187.7" font-size="5.2" text-anchor="middle">10<tspan baseline-shift="super" font-size="70%">2</tspan></text>
<text x="60.9" y="187.7" font-size="5.2" text-anchor="middle">10<tspan baseline-shift="super" font-size="70%">3</tspan></text>
<text x="73.9" y="187.7" font-size="5.2" text-anchor="middle">10<tspan baseline-shift="super" font-size="70%">4</tspan></text>
<text x="86.1" y="187.7" font-size="5.2" text-anchor="middle">10<tspan baseline-shift="super" font-size="70%">5</tspan></text>
<line x1="60.8" y1="125.2" x2="60.8" y2="178.9" stroke="#555" stroke-width="0.7"/>
<line x1="37.3" y1="155.4" x2="90.6" y2="155.4" stroke="#555" stroke-width="0.7"/>
<text x="39.1" y="130.7" font-size="4.8">1.47</text>
<text x="89" y="130.7" font-size="4.8" text-anchor="end">64.7</text>
<text x="39.1" y="177.1" font-size="4.8">7.45</text>
<text x="89" y="177.1" font-size="4.8" text-anchor="end">26.4</text>
<rect x="112.1" y="125.2" width="53.3" height="53.7" fill="none" stroke="#9a9a9a" stroke-width="0.5"/>
<path d="M112.1 127.2h-1.2M112.1 129.23h-1.2M112.1 131.26h-1.2M112.1 133.28h-1.2M112.1 135.31h-1.2M112.1 137.34h-1.2M112.1 139.37h-1.2M112.1 141.4h-1.2M112.1 143.42h-1.2M112.1 145.45h-1.2M112.1 147.48h-1.2M112.1 149.51h-1.2M112.1 151.54h-1.2M112.1 153.56h-1.2M112.1 155.59h-1.2M112.1 157.62h-1.2M112.1 159.65h-1.2M112.1 161.68h-1.2M112.1 163.7h-1.2M112.1 165.73h-1.2M112.1 167.76h-1.2M112.1 169.79h-1.2M112.1 171.82h-1.2M112.1 173.84h-1.2M112.1 175.87h-1.2M112.1 177.9h-1.2M114.1 178.9v1.2M116.11 178.9v1.2M118.12 178.9v1.2M120.14 178.9v1.2M122.15 178.9v1.2M124.16 178.9v1.2M126.17 178.9v1.2M128.18 178.9v1.2M130.2 178.9v1.2M132.21 178.9v1.2M134.22 178.9v1.2M136.23 178.9v1.2M138.24 178.9v1.2M140.26 178.9v1.2M142.27 178.9v1.2M144.28 178.9v1.2M146.29 178.9v1.2M148.3 178.9v1.2M150.32 178.9v1.2M152.33 178.9v1.2M154.34 178.9v1.2M156.35 178.9v1.2M158.36 178.9v1.2M160.38 178.9v1.2M162.39 178.9v1.2M164.4 178.9v1.2" fill="none" stroke="#666" stroke-width="0.4"/>
<text x="107.8" y="131.9" font-size="5.2" text-anchor="end">10<tspan baseline-shift="super" font-size="70%">5</tspan></text>
<text x="107.8" y="144.6" font-size="5.2" text-anchor="end">10<tspan baseline-shift="super" font-size="70%">4</tspan></text>
<text x="107.8" y="157.1" font-size="5.2" text-anchor="end">10<tspan baseline-shift="super" font-size="70%">3</tspan></text>
<text x="107.8" y="169.1" font-size="5.2" text-anchor="end">10<tspan baseline-shift="super" font-size="70%">2</tspan></text>
<text x="107.8" y="176.1" font-size="5.2" text-anchor="end">0</text>
<text x="116.7" y="187.7" font-size="5.2" text-anchor="middle">0</text>
<text x="123.3" y="187.7" font-size="5.2" text-anchor="middle">10<tspan baseline-shift="super" font-size="70%">2</tspan></text>
<text x="135.7" y="187.7" font-size="5.2" text-anchor="middle">10<tspan baseline-shift="super" font-size="70%">3</tspan></text>
<text x="148.7" y="187.7" font-size="5.2" text-anchor="middle">10<tspan baseline-shift="super" font-size="70%">4</tspan></text>
<text x="160.9" y="187.7" font-size="5.2" text-anchor="middle">10<tspan baseline-shift="super" font-size="70%">5</tspan></text>
<line x1="135.1" y1="125.2" x2="135.1" y2="178.9" stroke="#555" stroke-width="0.7"/>
<line x1="112.1" y1="155.4" x2="165.4" y2="155.4" stroke="#555" stroke-width="0.7"/>
<text x="113.9" y="130.7" font-size="4.8">0.24</text>
<text x="163.8" y="130.7" font-size="4.8" text-anchor="end">80.2</text>
<text x="113.9" y="177.1" font-size="4.8">0.3</text>
<text x="163.8" y="177.1" font-size="4.8" text-anchor="end">19.3</text>
<path d="M81.43 157.99C82.48 159.21 82.28 163.59 82.42 165.92C82.55 168.25 82.73 170.54 82.23 171.99C81.74 173.43 80.57 174.2 79.44 174.59C78.31 174.98 76.62 174.83 75.46 174.31C74.3 173.78 73.26 172.81 72.5 171.44C71.74 170.06 71.22 167.96 70.9 166.05C70.58 164.14 69.71 161.2 70.58 159.96C71.44 158.71 74.27 158.91 76.08 158.58C77.89 158.25 80.37 156.77 81.43 157.99Z" fill="none" stroke="#222" stroke-width="0.55"/>
<path d="M80.09 160.34C80.84 161.19 80.58 164.27 80.63 165.92C80.68 167.57 80.76 169.24 80.41 170.24C80.05 171.24 79.28 171.67 78.51 171.94C77.74 172.21 76.59 172.2 75.77 171.86C74.95 171.51 74.14 170.88 73.61 169.89C73.08 168.91 72.82 167.3 72.6 165.96C72.38 164.62 71.7 162.7 72.28 161.85C72.87 160.99 74.81 161.07 76.11 160.82C77.41 160.57 79.33 159.49 80.09 160.34Z" fill="none" stroke="#444" stroke-width="0.55"/>
<path d="M79.54 134.14C81.06 134.27 84.26 134.92 85.47 135.9C86.68 136.89 86.89 138.09 86.83 140.07C86.77 142.04 85.74 145.23 85.11 147.74C84.49 150.25 83.83 153.1 83.06 155.13C82.29 157.17 81.95 159.08 80.5 159.97C79.04 160.86 76.55 160.33 74.34 160.48C72.13 160.62 68.99 160.85 67.24 160.85C65.49 160.85 65.19 160.17 63.83 160.47C62.48 160.77 60.65 162.21 59.12 162.64C57.6 163.07 56.08 163.19 54.67 163.06C53.26 162.94 51.3 162.85 50.66 161.89C50.01 160.94 50.1 158.8 50.8 157.33C51.5 155.86 53.26 154.66 54.87 153.07C56.47 151.48 58.53 149.62 60.42 147.78C62.31 145.94 64.33 143.77 66.21 142.02C68.09 140.27 70.01 138.45 71.69 137.3C73.38 136.15 75.04 135.66 76.34 135.14C77.65 134.61 78.02 134.02 79.54 134.14Z" fill="none" stroke="#111" stroke-width="0.6"/>
<path d="M79.65 134.79C81.03 134.97 83.21 135.44 84.3 136.49C85.38 137.54 86.07 139.27 86.15 141.08C86.23 142.89 85.39 145.06 84.79 147.36C84.19 149.66 83.44 152.89 82.53 154.89C81.62 156.89 80.73 158.49 79.31 159.37C77.88 160.24 75.9 159.91 73.96 160.15C72.01 160.39 69.19 160.87 67.64 160.83C66.09 160.78 65.89 159.81 64.65 159.86C63.41 159.92 61.61 160.65 60.19 161.18C58.76 161.7 57.41 163.03 56.1 163C54.79 162.97 52.9 162.03 52.33 161.02C51.76 160.01 52.08 158.29 52.7 156.95C53.32 155.6 54.72 154.57 56.07 152.94C57.43 151.3 59.04 148.84 60.83 147.13C62.61 145.41 65.02 144.15 66.79 142.66C68.55 141.17 69.88 139.4 71.42 138.19C72.96 136.98 74.65 135.97 76.02 135.4C77.39 134.84 78.27 134.61 79.65 134.79Z" fill="none" stroke="#333" stroke-width="0.6"/>
<path d="M78.56 136.52C79.95 136.56 83.09 136.46 84.13 137.25C85.17 138.05 84.84 139.59 84.82 141.3C84.79 143.01 84.42 145.22 83.97 147.52C83.53 149.81 83 153.13 82.16 155.05C81.32 156.96 80.37 158.44 78.94 159.02C77.52 159.6 75.42 158.52 73.59 158.53C71.76 158.54 69.44 159.09 67.94 159.08C66.45 159.08 65.76 158.32 64.62 158.52C63.47 158.71 62.42 159.68 61.08 160.24C59.73 160.81 57.85 161.85 56.55 161.9C55.25 161.95 53.66 161.43 53.3 160.53C52.94 159.63 53.78 157.83 54.4 156.51C55.01 155.19 55.69 154.06 56.97 152.61C58.25 151.15 60.39 149.41 62.05 147.78C63.72 146.15 65.25 144.32 66.96 142.82C68.67 141.31 70.86 139.72 72.33 138.75C73.8 137.78 74.74 137.36 75.77 136.98C76.81 136.61 77.17 136.47 78.56 136.52Z" fill="none" stroke="#444" stroke-width="0.6"/>
<path d="M78.03 137.06C79.31 137.17 82.39 137.83 83.35 138.63C84.31 139.42 83.89 140.29 83.79 141.83C83.7 143.37 83.33 145.79 82.79 147.85C82.26 149.91 81.28 152.63 80.58 154.21C79.88 155.78 79.71 156.64 78.58 157.28C77.46 157.93 75.53 157.88 73.84 158.08C72.15 158.29 69.78 158.53 68.44 158.52C67.1 158.52 66.95 157.93 65.78 158.04C64.62 158.15 62.68 158.69 61.46 159.18C60.25 159.67 59.59 160.96 58.48 160.95C57.38 160.94 55.29 159.96 54.82 159.1C54.34 158.24 55.08 156.98 55.63 155.81C56.19 154.64 57 153.41 58.17 152.09C59.35 150.76 61.18 149.37 62.68 147.87C64.18 146.36 65.6 144.53 67.19 143.06C68.79 141.6 70.83 139.93 72.25 139.08C73.66 138.23 74.71 138.31 75.68 137.97C76.64 137.64 76.75 136.95 78.03 137.06Z" fill="none" stroke="#333" stroke-width="0.6"/>
<path d="M77.66 137.96C78.84 138.06 81.52 138.4 82.33 139.2C83.14 140 82.52 141.41 82.51 142.78C82.49 144.15 82.61 145.65 82.23 147.42C81.84 149.19 80.84 151.84 80.19 153.41C79.54 154.98 79.36 156.24 78.33 156.82C77.3 157.41 75.66 156.74 74.03 156.92C72.4 157.09 69.78 157.9 68.54 157.9C67.31 157.9 67.62 156.85 66.64 156.91C65.67 156.97 63.84 157.87 62.67 158.24C61.51 158.6 60.61 159.05 59.66 159.1C58.72 159.14 57.47 159.19 56.99 158.52C56.51 157.85 56.31 156.16 56.8 155.08C57.29 154 58.73 153.3 59.94 152.06C61.15 150.82 62.78 149.1 64.05 147.66C65.31 146.22 66.15 144.69 67.54 143.43C68.93 142.17 71.1 140.9 72.39 140.1C73.67 139.29 74.37 138.94 75.25 138.59C76.13 138.23 76.48 137.86 77.66 137.96Z" fill="none" stroke="#333" stroke-width="0.6"/>
<path d="M77.36 139.08C78.4 139.14 80.95 139.15 81.63 139.94C82.31 140.72 81.43 142.38 81.43 143.78C81.42 145.17 81.88 146.69 81.59 148.31C81.29 149.92 80.25 152.23 79.65 153.47C79.05 154.71 78.95 155.2 77.99 155.73C77.04 156.27 75.35 156.49 73.91 156.67C72.47 156.85 70.54 156.93 69.35 156.81C68.15 156.68 67.7 155.86 66.76 155.92C65.82 155.97 64.66 156.78 63.71 157.14C62.76 157.5 61.93 158.14 61.08 158.07C60.24 158 58.96 157.27 58.64 156.73C58.31 156.18 58.66 155.57 59.12 154.77C59.58 153.97 60.42 153.07 61.42 151.92C62.41 150.78 64 149.17 65.1 147.9C66.19 146.63 66.85 145.47 67.98 144.3C69.12 143.12 70.67 141.64 71.91 140.86C73.14 140.08 74.48 139.89 75.39 139.59C76.3 139.29 76.32 139.03 77.36 139.08Z" fill="none" stroke="#222" stroke-width="0.6"/>
<path d="M76.97 140.51C77.94 140.59 79.89 140.29 80.53 140.9C81.17 141.51 80.83 142.95 80.81 144.15C80.79 145.34 80.71 146.74 80.39 148.07C80.08 149.4 79.47 150.9 78.94 152.12C78.4 153.35 78.13 154.82 77.2 155.41C76.27 156 74.54 155.56 73.36 155.68C72.18 155.79 71 156.27 70.11 156.1C69.22 155.93 68.86 154.53 68.04 154.66C67.22 154.79 66.19 156.48 65.18 156.85C64.16 157.22 62.83 157.01 61.93 156.9C61.03 156.78 60.05 156.68 59.77 156.17C59.49 155.65 59.79 154.72 60.27 153.79C60.75 152.86 61.83 151.66 62.66 150.59C63.48 149.53 64.24 148.51 65.24 147.41C66.24 146.31 67.4 144.87 68.67 143.99C69.95 143.11 71.89 142.7 72.89 142.11C73.89 141.51 73.99 140.69 74.67 140.42C75.35 140.16 75.99 140.43 76.97 140.51Z" fill="none" stroke="#222" stroke-width="0.6"/>
<path d="M76.51 140.75C77.2 140.88 78.88 141.39 79.51 141.94C80.14 142.5 80.33 143.12 80.3 144.06C80.28 144.99 79.71 146.24 79.35 147.54C78.98 148.84 78.5 150.77 78.11 151.85C77.72 152.93 77.81 153.65 77.02 154.02C76.22 154.39 74.47 153.93 73.32 154.07C72.17 154.21 70.85 154.86 70.09 154.86C69.34 154.86 69.38 153.97 68.77 154.07C68.16 154.18 67.28 155.2 66.44 155.49C65.6 155.77 64.52 155.83 63.73 155.8C62.94 155.76 62 155.69 61.7 155.26C61.4 154.83 61.59 154.03 61.93 153.21C62.27 152.4 62.95 151.25 63.76 150.37C64.56 149.48 65.83 148.86 66.74 147.91C67.65 146.96 68.26 145.53 69.23 144.68C70.2 143.83 71.52 143.38 72.54 142.79C73.57 142.19 74.74 141.45 75.4 141.11C76.06 140.77 75.83 140.61 76.51 140.75Z" fill="none" stroke="#111" stroke-width="0.6"/>
<path d="M76.77 142.04C77.37 142.18 78.31 141.99 78.69 142.46C79.06 142.93 78.97 143.96 79.03 144.88C79.1 145.8 79.22 146.92 79.09 147.99C78.95 149.06 78.6 150.42 78.21 151.29C77.81 152.16 77.49 152.85 76.69 153.21C75.9 153.57 74.49 153.44 73.42 153.45C72.36 153.47 70.93 153.44 70.29 153.32C69.65 153.2 70.14 152.65 69.56 152.73C68.99 152.81 67.51 153.53 66.86 153.8C66.2 154.07 66.27 154.29 65.62 154.36C64.97 154.44 63.34 154.59 62.96 154.28C62.58 153.97 62.91 153.16 63.32 152.52C63.73 151.88 64.6 151.25 65.41 150.45C66.23 149.64 67.34 148.66 68.2 147.68C69.07 146.7 69.78 145.36 70.6 144.59C71.42 143.81 72.37 143.53 73.12 143.04C73.87 142.54 74.48 141.79 75.09 141.62C75.7 141.45 76.17 141.9 76.77 142.04Z" fill="none" stroke="#111" stroke-width="0.6"/>
<path d="M76.33 142.96C76.83 142.97 77.39 142.61 77.78 142.98C78.18 143.36 78.66 144.53 78.69 145.23C78.72 145.92 78.23 146.25 77.96 147.13C77.7 148.01 77.38 149.71 77.12 150.53C76.86 151.34 76.96 151.73 76.4 152.01C75.85 152.28 74.66 152.12 73.8 152.19C72.94 152.27 71.91 152.48 71.23 152.47C70.55 152.47 70.09 152.08 69.7 152.15C69.31 152.22 69.35 152.76 68.89 152.91C68.43 153.07 67.55 153.05 66.96 153.07C66.38 153.09 65.62 153.33 65.39 153.03C65.16 152.74 65.38 151.87 65.59 151.32C65.81 150.76 66.09 150.4 66.7 149.7C67.3 149 68.58 147.79 69.22 147.1C69.87 146.41 69.85 146.13 70.57 145.55C71.29 144.97 72.83 144.05 73.53 143.62C74.23 143.19 74.3 143.08 74.76 142.97C75.23 142.86 75.82 142.96 76.33 142.96Z" fill="none" stroke="#111" stroke-width="0.6"/>
<path d="M75.5 143.04C75.87 143.03 76.88 143.55 77.25 143.87C77.62 144.18 77.61 144.28 77.69 144.92C77.78 145.56 77.91 146.89 77.74 147.71C77.57 148.54 76.98 149.25 76.66 149.87C76.33 150.48 76.2 151.21 75.78 151.39C75.37 151.58 74.83 151.04 74.15 150.96C73.48 150.88 72.25 150.92 71.72 150.92C71.19 150.92 71.37 150.84 70.96 150.95C70.55 151.07 69.76 151.39 69.27 151.62C68.79 151.86 68.48 152.29 68.04 152.36C67.6 152.44 66.78 152.39 66.63 152.07C66.48 151.76 66.89 150.94 67.15 150.48C67.41 150.02 67.67 149.83 68.19 149.3C68.71 148.78 69.67 147.91 70.25 147.32C70.83 146.72 71.07 146.29 71.65 145.74C72.24 145.19 73.2 144.35 73.77 144.04C74.33 143.74 74.74 144.08 75.02 143.91C75.31 143.74 75.13 143.04 75.5 143.04Z" fill="none" stroke="#222" stroke-width="0.6"/>
<path d="M75.54 143.7C75.84 143.84 76.34 144.21 76.64 144.58C76.94 144.95 77.23 145.54 77.34 145.9C77.44 146.27 77.47 146.32 77.26 146.77C77.05 147.23 76.39 148.07 76.07 148.63C75.74 149.19 75.55 149.83 75.31 150.13C75.06 150.44 75.08 150.37 74.6 150.44C74.11 150.52 72.89 150.66 72.41 150.57C71.92 150.47 71.91 149.96 71.68 149.87C71.46 149.79 71.43 149.87 71.04 150.07C70.65 150.27 69.75 151.05 69.35 151.07C68.94 151.09 68.66 150.44 68.6 150.2C68.55 149.95 68.92 149.94 69.03 149.6C69.14 149.26 68.93 148.61 69.26 148.18C69.59 147.75 70.53 147.42 71 147.02C71.48 146.62 71.58 146.2 72.11 145.78C72.64 145.37 73.73 144.87 74.19 144.53C74.64 144.19 74.61 143.87 74.84 143.73C75.06 143.59 75.24 143.56 75.54 143.7Z" fill="none" stroke="#333" stroke-width="0.6"/>
<path d="M75.14 144.8C75.35 144.86 75.62 145.22 75.91 145.29C76.19 145.37 76.74 145.03 76.88 145.25C77.02 145.48 76.85 146.13 76.73 146.64C76.62 147.14 76.45 147.91 76.2 148.3C75.94 148.69 75.46 148.81 75.19 148.95C74.92 149.1 74.94 149.12 74.59 149.16C74.24 149.21 73.32 149.26 73.1 149.22C72.87 149.19 73.42 149.04 73.25 148.97C73.08 148.89 72.41 148.74 72.09 148.77C71.77 148.81 71.51 149.11 71.31 149.19C71.11 149.27 70.96 149.42 70.88 149.24C70.8 149.06 70.73 148.35 70.82 148.11C70.92 147.87 71.28 147.96 71.46 147.8C71.64 147.65 71.6 147.54 71.91 147.15C72.22 146.76 72.88 145.86 73.31 145.46C73.75 145.05 74.29 144.82 74.52 144.74C74.74 144.65 74.55 144.94 74.65 144.95C74.76 144.96 74.93 144.74 75.14 144.8Z" fill="none" stroke="#444" stroke-width="0.6"/>
<path d="M76.44 142.78C76.9 142.84 77.83 142.97 78.18 143.29C78.52 143.61 78.51 144.12 78.51 144.7C78.51 145.28 78.35 146.03 78.18 146.77C78.01 147.52 77.77 148.54 77.49 149.17C77.21 149.8 76.97 150.3 76.5 150.55C76.03 150.81 75.34 150.64 74.7 150.7C74.06 150.76 73.14 150.93 72.63 150.91C72.11 150.89 72.01 150.52 71.61 150.58C71.21 150.64 70.69 151.1 70.23 151.27C69.77 151.44 69.28 151.63 68.85 151.6C68.41 151.57 67.8 151.38 67.62 151.09C67.45 150.81 67.59 150.33 67.8 149.89C68 149.46 68.39 149 68.85 148.48C69.31 147.96 69.98 147.34 70.56 146.77C71.14 146.2 71.72 145.55 72.3 145.03C72.88 144.51 73.52 144 74.04 143.65C74.56 143.31 75.02 143.11 75.42 142.96C75.82 142.81 75.98 142.72 76.44 142.78Z" fill="#222" stroke="none" stroke-width="1" fill-opacity="0.45"/>
<path d="M70 150C70.5 148.67 72.67 147.33 74 147C75.33 146.67 77.17 147.17 78 148C78.83 148.83 79.33 150.83 79 152C78.67 153.17 77.33 154.5 76 155C74.67 155.5 72 155.83 71 155C70 154.17 69.5 151.33 70 150Z" fill="#333" stroke="none" stroke-width="1" fill-opacity="0.4"/>
<path d="M159.06 155.05C159.91 156.12 158.7 161.26 158.62 163.43C158.54 165.59 158.62 166.44 158.58 168.04C158.54 169.64 158.63 172.11 158.41 173.01C158.18 173.92 157.67 173.9 157.24 173.45C156.82 173 156.29 171.37 155.86 170.31C155.43 169.24 155.16 168.5 154.66 167.08C154.17 165.66 153.08 163.45 152.89 161.78C152.7 160.1 152.48 158.14 153.51 157.02C154.54 155.9 158.21 153.98 159.06 155.05Z" fill="none" stroke="#222" stroke-width="0.55"/>
<path d="M158.4 157.35C159.06 158.15 158.15 161.96 158.11 163.58C158.07 165.21 158.17 165.87 158.15 167.07C158.12 168.27 158.14 170.11 157.95 170.8C157.75 171.48 157.32 171.51 157 171.18C156.68 170.85 156.33 169.62 156.01 168.8C155.69 167.98 155.47 167.32 155.08 166.24C154.69 165.17 153.82 163.6 153.66 162.36C153.51 161.11 153.37 159.59 154.16 158.75C154.95 157.92 157.74 156.54 158.4 157.35Z" fill="none" stroke="#333" stroke-width="0.55"/>
<path d="M157.78 159.49C158.2 160.06 157.59 162.76 157.56 163.84C157.54 164.92 157.64 165.2 157.63 165.98C157.62 166.76 157.64 168.07 157.51 168.52C157.37 168.98 157.05 168.96 156.81 168.72C156.57 168.49 156.31 167.64 156.1 167.12C155.89 166.59 155.8 166.28 155.56 165.59C155.31 164.9 154.7 163.83 154.61 162.97C154.53 162.11 154.51 161.01 155.04 160.43C155.57 159.85 157.36 158.92 157.78 159.49Z" fill="none" stroke="#444" stroke-width="0.55"/>
<path d="M135.92 150.89C136.3 150.09 136.8 149.48 138.08 148.19C139.37 146.91 141.52 144.38 143.62 143.16C145.71 141.94 148.34 141.57 150.68 140.89C153.01 140.2 156.07 139.11 157.63 139.04C159.18 138.98 159.66 139.55 160.03 140.49C160.4 141.43 159.98 142.81 159.85 144.69C159.71 146.56 159.41 149.75 159.22 151.73C159.03 153.72 158.95 155.05 158.69 156.6C158.44 158.15 158.64 160.36 157.68 161.03C156.72 161.71 154.56 161.18 152.93 160.63C151.3 160.09 149.47 158.56 147.92 157.77C146.37 156.98 145.28 156.33 143.63 155.91C141.98 155.49 139.32 155.75 138.01 155.26C136.71 154.77 136.15 153.71 135.8 152.98C135.45 152.25 135.54 151.69 135.92 150.89Z" fill="none" stroke="#111" stroke-width="0.6"/>
<path d="M136.49 150.78C136.87 150.01 137.49 149.11 138.64 147.9C139.8 146.69 141.41 144.69 143.41 143.52C145.41 142.34 148.4 141.51 150.62 140.85C152.85 140.2 155.38 139.59 156.75 139.6C158.12 139.6 158.41 139.95 158.85 140.88C159.29 141.8 159.45 143.38 159.39 145.15C159.34 146.93 158.72 149.69 158.5 151.52C158.28 153.35 158.39 154.76 158.07 156.14C157.75 157.52 157.46 159.22 156.57 159.81C155.69 160.4 154.1 160.18 152.74 159.69C151.38 159.2 149.91 157.56 148.41 156.86C146.92 156.16 145.39 155.81 143.77 155.5C142.15 155.18 139.92 155.48 138.69 154.99C137.45 154.49 136.72 153.23 136.35 152.53C135.98 151.83 136.1 151.55 136.49 150.78Z" fill="none" stroke="#333" stroke-width="0.6"/>
<path d="M137.57 150.43C137.83 149.72 138.45 149.27 139.51 148.18C140.58 147.09 142.13 144.96 143.97 143.87C145.8 142.79 148.44 142.21 150.53 141.67C152.62 141.13 155.14 140.63 156.52 140.63C157.9 140.64 158.46 140.86 158.8 141.69C159.13 142.52 158.57 143.92 158.53 145.61C158.48 147.31 158.68 150.25 158.52 151.88C158.36 153.5 157.9 154.01 157.58 155.35C157.26 156.69 157.42 159.38 156.59 159.92C155.77 160.47 154.09 159.21 152.64 158.62C151.2 158.03 149.36 157.02 147.92 156.38C146.48 155.74 145.41 155.11 144.01 154.78C142.61 154.45 140.53 154.78 139.52 154.39C138.51 154 138.28 153.1 137.96 152.44C137.63 151.77 137.31 151.13 137.57 150.43Z" fill="none" stroke="#333" stroke-width="0.6"/>
<path d="M139.01 150.7C139.36 150.14 139.49 149.94 140.51 148.88C141.53 147.83 143.54 145.41 145.14 144.38C146.74 143.34 148.27 143.22 150.1 142.68C151.93 142.13 154.89 141.07 156.12 141.11C157.36 141.14 157.25 142.06 157.51 142.9C157.77 143.73 157.69 144.63 157.67 146.12C157.65 147.61 157.43 150.35 157.39 151.83C157.35 153.31 157.67 153.82 157.45 155.01C157.24 156.2 156.9 158.42 156.1 158.99C155.29 159.56 153.84 158.91 152.63 158.43C151.42 157.95 150.16 156.77 148.84 156.13C147.51 155.49 145.98 154.95 144.67 154.58C143.35 154.22 142.01 154.33 140.96 153.94C139.92 153.55 138.7 152.78 138.37 152.24C138.05 151.7 138.65 151.26 139.01 150.7Z" fill="none" stroke="#333" stroke-width="0.6"/>
<path d="M139.75 150.83C140.1 150.18 140.35 149.58 141.26 148.61C142.16 147.65 143.63 145.98 145.16 145.02C146.68 144.07 148.73 143.3 150.4 142.89C152.06 142.47 154.02 142.53 155.15 142.54C156.27 142.55 156.82 142.22 157.14 142.95C157.45 143.69 157.06 145.44 157.03 146.94C157 148.44 157.01 150.62 156.96 151.94C156.91 153.26 156.95 153.81 156.74 154.86C156.52 155.92 156.48 157.83 155.68 158.29C154.88 158.74 153.18 158.03 151.93 157.6C150.68 157.17 149.23 156.26 148.17 155.68C147.11 155.1 146.68 154.51 145.58 154.12C144.48 153.73 142.63 153.6 141.56 153.33C140.49 153.07 139.48 152.94 139.18 152.52C138.88 152.11 139.41 151.48 139.75 150.83Z" fill="none" stroke="#222" stroke-width="0.6"/>
<path d="M140.28 150.36C140.44 149.81 140.67 149.89 141.57 149.08C142.47 148.26 144.28 146.21 145.66 145.45C147.05 144.69 148.44 144.86 149.89 144.49C151.35 144.12 153.32 143.24 154.37 143.22C155.42 143.19 155.8 143.64 156.18 144.32C156.55 145.01 156.61 146.16 156.6 147.32C156.6 148.48 156.34 150.12 156.15 151.26C155.96 152.4 155.62 153.19 155.44 154.16C155.25 155.12 155.72 156.49 155.05 157.05C154.37 157.6 152.51 157.72 151.4 157.49C150.29 157.26 149.4 156.23 148.37 155.67C147.34 155.11 146.27 154.44 145.21 154.11C144.16 153.79 142.79 154.01 142.02 153.73C141.26 153.44 140.91 152.95 140.62 152.39C140.33 151.83 140.13 150.91 140.28 150.36Z" fill="none" stroke="#222" stroke-width="0.6"/>
<path d="M141.71 151.15C141.93 150.72 141.84 150.12 142.55 149.29C143.26 148.45 144.65 146.84 145.95 146.12C147.25 145.39 148.96 145.32 150.36 144.93C151.76 144.54 153.48 143.79 154.34 143.77C155.21 143.75 155.28 144.25 155.54 144.81C155.81 145.37 155.99 146.02 155.94 147.13C155.9 148.25 155.47 150.32 155.25 151.5C155.04 152.68 154.8 153.37 154.66 154.23C154.51 155.09 154.88 156.28 154.39 156.66C153.89 157.05 152.68 156.86 151.7 156.54C150.71 156.22 149.34 155.22 148.46 154.74C147.59 154.27 147.36 154 146.44 153.68C145.53 153.36 143.85 153.13 142.98 152.82C142.1 152.51 141.43 152.13 141.22 151.85C141.01 151.57 141.48 151.58 141.71 151.15Z" fill="none" stroke="#111" stroke-width="0.6"/>
<path d="M142.8 151.09C143.06 150.7 143.21 150.5 143.82 149.9C144.44 149.29 145.47 148.17 146.49 147.45C147.52 146.73 148.76 145.92 150 145.56C151.23 145.2 153.03 145.27 153.89 145.28C154.75 145.29 154.94 145.19 155.16 145.62C155.38 146.06 155.22 146.85 155.21 147.9C155.2 148.94 155.28 150.82 155.1 151.88C154.93 152.94 154.46 153.6 154.16 154.24C153.86 154.88 153.75 155.49 153.3 155.73C152.86 155.96 152.24 155.84 151.49 155.65C150.74 155.46 149.73 154.9 148.81 154.58C147.89 154.27 146.85 154.04 145.98 153.76C145.11 153.48 144.21 153.17 143.59 152.92C142.97 152.67 142.41 152.58 142.28 152.28C142.14 151.97 142.55 151.49 142.8 151.09Z" fill="none" stroke="#111" stroke-width="0.6"/>
<path d="M143.57 150.79C143.72 150.38 143.4 150.15 143.92 149.57C144.44 148.99 145.76 147.78 146.7 147.3C147.64 146.82 148.49 146.86 149.55 146.68C150.61 146.51 152.27 146.24 153.08 146.26C153.89 146.28 154.27 146.47 154.43 146.79C154.59 147.1 154.17 147.39 154.06 148.17C153.94 148.95 153.81 150.57 153.74 151.47C153.68 152.37 153.82 152.85 153.67 153.57C153.52 154.29 153.34 155.51 152.86 155.78C152.38 156.06 151.42 155.46 150.81 155.21C150.2 154.97 149.9 154.7 149.2 154.34C148.5 153.97 147.33 153.37 146.6 153.04C145.87 152.7 145.41 152.51 144.81 152.34C144.22 152.17 143.23 152.28 143.02 152.02C142.81 151.76 143.42 151.2 143.57 150.79Z" fill="none" stroke="#111" stroke-width="0.6"/>
<path d="M144.31 150.79C144.41 150.48 144.13 150.2 144.65 149.79C145.16 149.37 146.48 148.66 147.4 148.28C148.33 147.91 149.29 147.86 150.18 147.54C151.07 147.21 152.27 146.46 152.74 146.34C153.2 146.23 152.85 146.43 152.95 146.84C153.04 147.26 153.35 148.05 153.32 148.84C153.28 149.62 152.88 150.87 152.75 151.58C152.63 152.28 152.67 152.47 152.57 153.07C152.47 153.66 152.47 154.9 152.15 155.14C151.83 155.37 151.25 154.72 150.64 154.46C150.03 154.21 149.05 153.83 148.49 153.62C147.93 153.4 147.75 153.29 147.28 153.17C146.8 153.05 146.18 153.14 145.65 152.88C145.11 152.62 144.27 151.96 144.05 151.61C143.82 151.26 144.21 151.09 144.31 150.79Z" fill="none" stroke="#222" stroke-width="0.6"/>
<path d="M145.42 151.48C145.46 151.33 145.47 151.13 145.83 150.68C146.19 150.23 146.99 149.27 147.58 148.77C148.16 148.27 148.62 147.81 149.33 147.7C150.04 147.58 151.25 148 151.83 148.07C152.41 148.13 152.67 147.8 152.82 148.1C152.96 148.41 152.74 149.3 152.72 149.9C152.7 150.49 152.77 151.16 152.67 151.67C152.57 152.19 152.33 152.59 152.13 152.98C151.93 153.36 151.72 153.73 151.46 153.99C151.2 154.26 150.99 154.7 150.58 154.57C150.16 154.45 149.51 153.54 148.98 153.24C148.45 152.93 147.85 152.88 147.4 152.74C146.95 152.6 146.57 152.6 146.27 152.41C145.97 152.22 145.75 151.75 145.6 151.6C145.46 151.45 145.39 151.63 145.42 151.48Z" fill="none" stroke="#222" stroke-width="0.6"/>
<path d="M144.71 151.62C144.82 151.34 144.97 151.12 145.38 150.72C145.8 150.32 146.53 149.62 147.21 149.22C147.89 148.82 148.71 148.54 149.45 148.32C150.19 148.1 151.15 147.87 151.66 147.87C152.16 147.87 152.3 148 152.46 148.32C152.61 148.64 152.59 149.18 152.58 149.79C152.57 150.41 152.46 151.39 152.39 152C152.33 152.61 152.31 152.99 152.2 153.47C152.09 153.95 152.04 154.67 151.72 154.88C151.4 155.09 150.78 154.89 150.28 154.72C149.78 154.55 149.22 154.1 148.71 153.86C148.2 153.62 147.73 153.43 147.21 153.28C146.69 153.13 145.99 153.08 145.58 152.93C145.16 152.77 144.86 152.57 144.71 152.35C144.57 152.13 144.6 151.89 144.71 151.62Z" fill="#222" stroke="none" stroke-width="1" fill-opacity="0.5"/>
<circle cx="149.5" cy="152.5" r="1.1" fill="#fff" stroke="none" stroke-width="1"/>
<line x1="21.6" y1="111" x2="139.5" y2="111" stroke="#000" stroke-width="1"/>
<path d="M143.8 111 L138.8 108.8 L138.8 113.2Z" fill="#000" stroke="none" stroke-width="1"/>
<line x1="21.6" y1="111" x2="21.6" y2="91" stroke="#000" stroke-width="1"/>
<path d="M21.6 87.4 L19.4 92.4 L23.8 92.4Z" fill="#000" stroke="none" stroke-width="1"/>
<text x="22.9" y="69" font-size="9" text-anchor="middle" stroke="#000" stroke-width="0.32" textLength="22" lengthAdjust="spacingAndGlyphs" transform="rotate(-90 22.9 69)">GM-CSF</text>
<text x="147.1" y="113.6" font-size="8.1" stroke="#000" stroke-width="0.32" textLength="14.7" lengthAdjust="spacingAndGlyphs">IFN-γ</text>
<line x1="21.6" y1="193.6" x2="139.5" y2="193.6" stroke="#000" stroke-width="1"/>
<path d="M143.7 193.6 L138.7 191.4 L138.7 195.8Z" fill="#000" stroke="none" stroke-width="1"/>
<line x1="21.6" y1="193.6" x2="21.6" y2="177" stroke="#000" stroke-width="1"/>
<path d="M21.6 173 L19.4 178 L23.8 178Z" fill="#000" stroke="none" stroke-width="1"/>
<text x="149.1" y="196.7" font-size="9" stroke="#000" stroke-width="0.32" textLength="20" lengthAdjust="spacingAndGlyphs">CD107a</text>
<text x="11.8" y="150.6" font-size="7.3" text-anchor="middle" stroke="#000" stroke-width="0.32" textLength="30.7" lengthAdjust="spacingAndGlyphs" transform="rotate(-90 11.8 150.6)">Granzyme B</text>
<text x="21.9" y="150.6" font-size="7.2" text-anchor="middle" stroke="#000" stroke-width="0.32" textLength="25.2" lengthAdjust="spacingAndGlyphs" transform="rotate(-90 21.9 150.6)">/ perforin</text>
<line x1="69.6" y1="74.6" x2="69.6" y2="117" stroke="#000" stroke-width="1"/>
<path d="M69.6 121 L67.4 116 L71.8 116Z" fill="#000" stroke="none" stroke-width="1"/>
<text x="199.5" y="15.9" font-size="11" font-weight="bold">B</text>
<line x1="228.9" y1="29.4" x2="228.9" y2="88.75" stroke="#000" stroke-width="1.3"/>
<line x1="226.3" y1="88.1" x2="228.9" y2="88.1" stroke="#000" stroke-width="1.17"/>
<text x="222.6" y="90.48" font-size="6.6" text-anchor="end">0</text>
<line x1="226.3" y1="76.96" x2="228.9" y2="76.96" stroke="#000" stroke-width="1.17"/>
<text x="222.6" y="79.34" font-size="6.6" text-anchor="end">20</text>
<line x1="226.3" y1="65.82" x2="228.9" y2="65.82" stroke="#000" stroke-width="1.17"/>
<text x="222.6" y="68.2" font-size="6.6" text-anchor="end">40</text>
<line x1="226.3" y1="54.68" x2="228.9" y2="54.68" stroke="#000" stroke-width="1.17"/>
<text x="222.6" y="57.06" font-size="6.6" text-anchor="end">60</text>
<line x1="226.3" y1="43.54" x2="228.9" y2="43.54" stroke="#000" stroke-width="1.17"/>
<text x="222.6" y="45.92" font-size="6.6" text-anchor="end">80</text>
<line x1="226.3" y1="32.4" x2="228.9" y2="32.4" stroke="#000" stroke-width="1.17"/>
<text x="222.6" y="34.78" font-size="6.6" text-anchor="end">100</text>
<line x1="228.25" y1="88.1" x2="261.5" y2="88.1" stroke="#000" stroke-width="1.3"/>
<line x1="237.1" y1="88.1" x2="237.1" y2="91.1" stroke="#000" stroke-width="1.17"/>
<line x1="254" y1="88.1" x2="254" y2="91.1" stroke="#000" stroke-width="1.17"/>
<path d="M237.1 31.2V28.5H254V31.2" fill="none" stroke="#000" stroke-width="0.9"/>
<text x="245.55" y="27" font-size="6.5" text-anchor="middle" font-weight="bold">**</text>
<text x="206.5" y="59.4" font-size="7.3" text-anchor="middle" stroke="#000" stroke-width="0.32" textLength="51" lengthAdjust="spacingAndGlyphs" transform="rotate(-90 206.5 59.4)">% IFN-γ<tspan baseline-shift="super" font-size="70%">+</tspan> GM-CSF<tspan baseline-shift="super" font-size="70%">+</tspan></text>
<circle cx="237.3" cy="56.35" r="1.45" fill="#fff" stroke="#b8163e" stroke-width="0.85"/>
<circle cx="237.3" cy="65.26" r="1.45" fill="#fff" stroke="#b8163e" stroke-width="0.85"/>
<circle cx="233.7" cy="75.85" r="1.45" fill="#fff" stroke="#b8163e" stroke-width="0.85"/>
<circle cx="235.9" cy="85.31" r="1.45" fill="#fff" stroke="#b8163e" stroke-width="0.85"/>
<circle cx="241" cy="85.31" r="1.45" fill="#fff" stroke="#b8163e" stroke-width="0.85"/>
<circle cx="238.5" cy="86.32" r="1.45" fill="#fff" stroke="#b8163e" stroke-width="0.85"/>
<circle cx="234.2" cy="87.54" r="1.45" fill="#fff" stroke="#b8163e" stroke-width="0.85"/>
<circle cx="239.7" cy="87.54" r="1.45" fill="#fff" stroke="#b8163e" stroke-width="0.85"/>
<circle cx="242" cy="87.43" r="1.45" fill="#fff" stroke="#b8163e" stroke-width="0.85"/>
<circle cx="237.3" cy="70.83" r="1.6" fill="#8c1230" stroke="none" stroke-width="1"/>
<circle cx="237.3" cy="78.63" r="1.6" fill="#8c1230" stroke="none" stroke-width="1"/>
<line x1="237.3" y1="68.05" x2="237.3" y2="88.1" stroke="#222" stroke-width="1"/>
<line x1="234.3" y1="68.05" x2="240.3" y2="68.05" stroke="#222" stroke-width="1"/>
<line x1="234.3" y1="88.1" x2="240.3" y2="88.1" stroke="#222" stroke-width="1"/>
<line x1="231.7" y1="78.63" x2="242.9" y2="78.63" stroke="#222" stroke-width="1.1"/>
<circle cx="253" cy="34.07" r="1.45" fill="#fff" stroke="#2d5493" stroke-width="0.85"/>
<circle cx="257.3" cy="33.79" r="1.45" fill="#fff" stroke="#2d5493" stroke-width="0.85"/>
<circle cx="257.3" cy="49.11" r="1.45" fill="#fff" stroke="#2d5493" stroke-width="0.85"/>
<circle cx="250.4" cy="57.46" r="1.45" fill="#fff" stroke="#2d5493" stroke-width="0.85"/>
<circle cx="250.4" cy="70.83" r="1.45" fill="#fff" stroke="#2d5493" stroke-width="0.85"/>
<circle cx="254.4" cy="70.83" r="1.45" fill="#fff" stroke="#2d5493" stroke-width="0.85"/>
<circle cx="257.3" cy="79.19" r="1.45" fill="#fff" stroke="#2d5493" stroke-width="0.85"/>
<circle cx="253.3" cy="81.97" r="1.45" fill="#fff" stroke="#2d5493" stroke-width="0.85"/>
<circle cx="254.4" cy="41.31" r="1.6" fill="#1d3a6e" stroke="none" stroke-width="1"/>
<circle cx="253.7" cy="51.34" r="1.6" fill="#1d3a6e" stroke="none" stroke-width="1"/>
<circle cx="254.4" cy="57.46" r="1.6" fill="#1d3a6e" stroke="none" stroke-width="1"/>
<circle cx="254.4" cy="63.03" r="1.6" fill="#1d3a6e" stroke="none" stroke-width="1"/>
<line x1="254.2" y1="41.31" x2="254.2" y2="74.17" stroke="#222" stroke-width="1"/>
<line x1="251.2" y1="41.31" x2="257.2" y2="41.31" stroke="#222" stroke-width="1"/>
<line x1="251.2" y1="74.17" x2="257.2" y2="74.17" stroke="#222" stroke-width="1"/>
<line x1="248.9" y1="57.46" x2="259.5" y2="57.46" stroke="#222" stroke-width="1.1"/>
<text x="240.3" y="96.3" font-size="6.57" text-anchor="end" transform="rotate(-45 240.3 96.3)">NK</text>
<text x="257" y="96.3" font-size="6.57" text-anchor="end" transform="rotate(-45 257 96.3)">NK + Mo</text>
<line x1="308.4" y1="30.6" x2="308.4" y2="88.85" stroke="#000" stroke-width="1.3"/>
<line x1="305.8" y1="88.2" x2="308.4" y2="88.2" stroke="#000" stroke-width="1.17"/>
<text x="302.1" y="90.65" font-size="6.8" text-anchor="end">0</text>
<line x1="305.8" y1="77.24" x2="308.4" y2="77.24" stroke="#000" stroke-width="1.17"/>
<text x="302.1" y="79.69" font-size="6.8" text-anchor="end">50000</text>
<line x1="305.8" y1="66.28" x2="308.4" y2="66.28" stroke="#000" stroke-width="1.17"/>
<text x="302.1" y="68.73" font-size="6.8" text-anchor="end">100000</text>
<line x1="305.8" y1="55.32" x2="308.4" y2="55.32" stroke="#000" stroke-width="1.17"/>
<text x="302.1" y="57.77" font-size="6.8" text-anchor="end">150000</text>
<line x1="305.8" y1="44.36" x2="308.4" y2="44.36" stroke="#000" stroke-width="1.17"/>
<text x="302.1" y="46.81" font-size="6.8" text-anchor="end">200000</text>
<line x1="305.8" y1="33.4" x2="308.4" y2="33.4" stroke="#000" stroke-width="1.17"/>
<text x="302.1" y="35.85" font-size="6.8" text-anchor="end">250000</text>
<line x1="307.75" y1="88.2" x2="341.3" y2="88.2" stroke="#000" stroke-width="1.3"/>
<line x1="317" y1="88.2" x2="317" y2="91.2" stroke="#000" stroke-width="1.17"/>
<line x1="333.5" y1="88.2" x2="333.5" y2="91.2" stroke="#000" stroke-width="1.17"/>
<path d="M317 32.8V30.3H333.5V32.8" fill="none" stroke="#000" stroke-width="0.9"/>
<text x="325.25" y="29" font-size="6.5" text-anchor="middle" font-weight="bold">*</text>
<text x="275.3" y="59.3" font-size="7.3" text-anchor="middle" stroke="#000" stroke-width="0.32" textLength="33" lengthAdjust="spacingAndGlyphs" transform="rotate(-90 275.3 59.3)">IFN-γ (MFI)</text>
<circle cx="313.5" cy="78.56" r="1.6" fill="#8c1230" stroke="none" stroke-width="1"/>
<circle cx="317" cy="81.84" r="1.6" fill="#8c1230" stroke="none" stroke-width="1"/>
<circle cx="313.5" cy="86.45" r="1.45" fill="#fff" stroke="#b8163e" stroke-width="0.85"/>
<circle cx="316" cy="86.78" r="1.45" fill="#fff" stroke="#b8163e" stroke-width="0.85"/>
<circle cx="320" cy="86.78" r="1.45" fill="#fff" stroke="#b8163e" stroke-width="0.85"/>
<circle cx="322" cy="86.45" r="1.45" fill="#fff" stroke="#b8163e" stroke-width="0.85"/>
<circle cx="318" cy="87.76" r="1.45" fill="#fff" stroke="#b8163e" stroke-width="0.85"/>
<line x1="317" y1="82.06" x2="317" y2="87.54" stroke="#222" stroke-width="1"/>
<line x1="314.4" y1="82.06" x2="319.6" y2="82.06" stroke="#222" stroke-width="1"/>
<line x1="314.4" y1="87.54" x2="319.6" y2="87.54" stroke="#222" stroke-width="1"/>
<line x1="312" y1="84.69" x2="322" y2="84.69" stroke="#222" stroke-width="1.1"/>
<circle cx="333.7" cy="35.59" r="1.45" fill="#fff" stroke="#2d5493" stroke-width="0.85"/>
<circle cx="333.7" cy="40.85" r="1.45" fill="#fff" stroke="#2d5493" stroke-width="0.85"/>
<circle cx="333.7" cy="45.89" r="1.45" fill="#fff" stroke="#2d5493" stroke-width="0.85"/>
<circle cx="337.1" cy="71.32" r="1.45" fill="#fff" stroke="#2d5493" stroke-width="0.85"/>
<circle cx="330.3" cy="86.45" r="1.45" fill="#fff" stroke="#2d5493" stroke-width="0.85"/>
<circle cx="337" cy="86.45" r="1.45" fill="#fff" stroke="#2d5493" stroke-width="0.85"/>
<circle cx="333.7" cy="87.54" r="1.45" fill="#fff" stroke="#2d5493" stroke-width="0.85"/>
<circle cx="331.5" cy="87.87" r="1.45" fill="#fff" stroke="#2d5493" stroke-width="0.85"/>
<circle cx="336" cy="87.87" r="1.45" fill="#fff" stroke="#2d5493" stroke-width="0.85"/>
<circle cx="333.7" cy="62.99" r="1.6" fill="#1d3a6e" stroke="none" stroke-width="1"/>
<circle cx="333.7" cy="66.28" r="1.6" fill="#1d3a6e" stroke="none" stroke-width="1"/>
<circle cx="333.7" cy="82.06" r="1.6" fill="#1d3a6e" stroke="none" stroke-width="1"/>
<line x1="333.7" y1="50.94" x2="333.7" y2="88.2" stroke="#222" stroke-width="1"/>
<line x1="330.9" y1="50.94" x2="336.5" y2="50.94" stroke="#222" stroke-width="1"/>
<line x1="330.9" y1="88.2" x2="336.5" y2="88.2" stroke="#222" stroke-width="1"/>
<line x1="327.9" y1="69.79" x2="339.5" y2="69.79" stroke="#222" stroke-width="1.1"/>
<text x="320.2" y="96.6" font-size="6.57" text-anchor="end" transform="rotate(-45 320.2 96.6)">NK</text>
<text x="336.7" y="96.6" font-size="6.57" text-anchor="end" transform="rotate(-45 336.7 96.6)">NK + Mo</text>
<text x="355.5" y="15.3" font-size="11" font-weight="bold">C</text>
<text x="398.8" y="28.2" font-size="6.4" text-anchor="middle">GzmB<tspan baseline-shift="super" font-size="70%">+</tspan> PRF<tspan baseline-shift="super" font-size="70%">+</tspan> within</text>
<text x="398.8" y="35.2" font-size="6.4" text-anchor="middle">IFN-γ<tspan baseline-shift="super" font-size="70%">+</tspan> GM-CSF<tspan baseline-shift="super" font-size="70%">+</tspan></text>
<line x1="383.6" y1="44" x2="383.6" y2="88.85" stroke="#000" stroke-width="1.3"/>
<line x1="381" y1="88.2" x2="383.6" y2="88.2" stroke="#000" stroke-width="1.17"/>
<text x="377.3" y="90.58" font-size="6.6" text-anchor="end">0</text>
<line x1="381" y1="79.86" x2="383.6" y2="79.86" stroke="#000" stroke-width="1.17"/>
<text x="377.3" y="82.24" font-size="6.6" text-anchor="end">20</text>
<line x1="381" y1="71.52" x2="383.6" y2="71.52" stroke="#000" stroke-width="1.17"/>
<text x="377.3" y="73.9" font-size="6.6" text-anchor="end">40</text>
<line x1="381" y1="63.18" x2="383.6" y2="63.18" stroke="#000" stroke-width="1.17"/>
<text x="377.3" y="65.56" font-size="6.6" text-anchor="end">60</text>
<line x1="381" y1="54.84" x2="383.6" y2="54.84" stroke="#000" stroke-width="1.17"/>
<text x="377.3" y="57.22" font-size="6.6" text-anchor="end">80</text>
<line x1="381" y1="46.5" x2="383.6" y2="46.5" stroke="#000" stroke-width="1.17"/>
<text x="377.3" y="48.88" font-size="6.6" text-anchor="end">100</text>
<rect x="386.2" y="61.93" width="10" height="26.27" fill="#a6022b" stroke="#7a001c" stroke-width="0.5"/>
<rect x="402.1" y="56.72" width="10" height="31.48" fill="#2f4b80" stroke="#1d3260" stroke-width="0.5"/>
<line x1="391.4" y1="60.47" x2="391.4" y2="61.93" stroke="#222" stroke-width="1"/>
<line x1="388.8" y1="60.47" x2="394" y2="60.47" stroke="#222" stroke-width="1"/>
<line x1="388.8" y1="61.93" x2="394" y2="61.93" stroke="#222" stroke-width="1"/>
<line x1="391.4" y1="61.93" x2="391.4" y2="61.93" stroke="#222" stroke-width="1.1"/>
<line x1="407" y1="54.84" x2="407" y2="58.18" stroke="#222" stroke-width="1"/>
<line x1="404.4" y1="54.84" x2="409.6" y2="54.84" stroke="#222" stroke-width="1"/>
<line x1="404.4" y1="58.18" x2="409.6" y2="58.18" stroke="#222" stroke-width="1"/>
<line x1="407" y1="56.72" x2="407" y2="56.72" stroke="#222" stroke-width="1.1"/>
<line x1="382.95" y1="88.2" x2="414.6" y2="88.2" stroke="#000" stroke-width="1.3"/>
<line x1="391.4" y1="88.2" x2="391.4" y2="91.2" stroke="#000" stroke-width="1.17"/>
<line x1="407" y1="88.2" x2="407" y2="91.2" stroke="#000" stroke-width="1.17"/>
<path d="M391.4 49.3V46.9H407V49.3" fill="none" stroke="#000" stroke-width="0.9"/>
<text x="399.2" y="45.5" font-size="6.5" text-anchor="middle" font-weight="bold">*</text>
<text x="361.4" y="68" font-size="7.2" text-anchor="middle" stroke="#000" stroke-width="0.32" textLength="39" lengthAdjust="spacingAndGlyphs" transform="rotate(-90 361.4 68)">% of NK cells</text>
<text x="394.5" y="96.5" font-size="6.57" text-anchor="end" transform="rotate(-45 394.5 96.5)">NK</text>
<text x="410" y="96.5" font-size="6.57" text-anchor="end" transform="rotate(-45 410 96.5)">NK + Mo</text>
<text x="486" y="27.8" font-size="6.4" text-anchor="middle">CD107a within</text>
<text x="486" y="34.9" font-size="6.4" text-anchor="middle">IFN-γ<tspan baseline-shift="super" font-size="70%">+</tspan> GM-CSF<tspan baseline-shift="super" font-size="70%">+</tspan></text>
<line x1="471.3" y1="44.7" x2="471.3" y2="88.85" stroke="#000" stroke-width="1.3"/>
<line x1="468.7" y1="88.2" x2="471.3" y2="88.2" stroke="#000" stroke-width="1.17"/>
<text x="465" y="90.65" font-size="6.8" text-anchor="end">0</text>
<line x1="468.7" y1="78.1" x2="471.3" y2="78.1" stroke="#000" stroke-width="1.17"/>
<text x="465" y="80.55" font-size="6.8" text-anchor="end">20000</text>
<line x1="468.7" y1="68" x2="471.3" y2="68" stroke="#000" stroke-width="1.17"/>
<text x="465" y="70.45" font-size="6.8" text-anchor="end">40000</text>
<line x1="468.7" y1="57.9" x2="471.3" y2="57.9" stroke="#000" stroke-width="1.17"/>
<text x="465" y="60.35" font-size="6.8" text-anchor="end">60000</text>
<line x1="468.7" y1="47.8" x2="471.3" y2="47.8" stroke="#000" stroke-width="1.17"/>
<text x="465" y="50.25" font-size="6.8" text-anchor="end">80000</text>
<rect x="473.6" y="82.64" width="10.1" height="5.56" fill="#a6022b" stroke="#7a001c" stroke-width="0.5"/>
<rect x="489" y="69.01" width="9.9" height="19.19" fill="#2f4b80" stroke="#1d3260" stroke-width="0.5"/>
<line x1="478.6" y1="77.09" x2="478.6" y2="82.64" stroke="#222" stroke-width="1"/>
<line x1="476" y1="77.09" x2="481.2" y2="77.09" stroke="#222" stroke-width="1"/>
<line x1="476" y1="82.64" x2="481.2" y2="82.64" stroke="#222" stroke-width="1"/>
<line x1="478.6" y1="82.64" x2="478.6" y2="82.64" stroke="#222" stroke-width="1.1"/>
<line x1="494" y1="51.84" x2="494" y2="85.67" stroke="#222" stroke-width="1"/>
<line x1="491.4" y1="51.84" x2="496.6" y2="51.84" stroke="#222" stroke-width="1"/>
<line x1="491.4" y1="85.67" x2="496.6" y2="85.67" stroke="#222" stroke-width="1"/>
<line x1="494" y1="69.01" x2="494" y2="69.01" stroke="#222" stroke-width="1.1"/>
<line x1="470.65" y1="88.2" x2="501.5" y2="88.2" stroke="#000" stroke-width="1.3"/>
<line x1="478.6" y1="88.2" x2="478.6" y2="91.2" stroke="#000" stroke-width="1.17"/>
<line x1="494" y1="88.2" x2="494" y2="91.2" stroke="#000" stroke-width="1.17"/>
<path d="M478.6 50.4V48H494V50.4" fill="none" stroke="#000" stroke-width="0.9"/>
<text x="486.3" y="46.6" font-size="6.5" text-anchor="middle" font-weight="bold">*</text>
<text x="440.2" y="68" font-size="7.2" text-anchor="middle" stroke="#000" stroke-width="0.32" textLength="10" lengthAdjust="spacingAndGlyphs" transform="rotate(-90 440.2 68)">MFI</text>
<text x="481.7" y="96.5" font-size="6.57" text-anchor="end" transform="rotate(-45 481.7 96.5)">NK</text>
<text x="497" y="96.5" font-size="6.57" text-anchor="end" transform="rotate(-45 497 96.5)">NK + Mo</text>
<text x="199.5" y="146.5" font-size="11" font-weight="bold">D</text>
<line x1="249.6" y1="149.5" x2="249.6" y2="205.2" stroke="#000" stroke-width="1.1"/>
<line x1="247.4" y1="205.2" x2="249.6" y2="205.2" stroke="#000" stroke-width="1.1"/>
<line x1="249.6" y1="209.7" x2="249.6" y2="223.75" stroke="#000" stroke-width="1.1"/>
<line x1="247.4" y1="209.7" x2="251.8" y2="209.7" stroke="#000" stroke-width="1.1"/>
<line x1="247.4" y1="205.2" x2="251.8" y2="205.2" stroke="#000" stroke-width="1.1"/>
<line x1="247.4" y1="150.9" x2="249.6" y2="150.9" stroke="#000" stroke-width="1.1"/>
<text x="243.6" y="153.25" font-size="6.6" text-anchor="end">100</text>
<line x1="247.4" y1="161.6" x2="249.6" y2="161.6" stroke="#000" stroke-width="1.1"/>
<text x="243.6" y="163.95" font-size="6.6" text-anchor="end">90</text>
<line x1="247.4" y1="172.5" x2="249.6" y2="172.5" stroke="#000" stroke-width="1.1"/>
<text x="243.6" y="174.85" font-size="6.6" text-anchor="end">80</text>
<line x1="247.4" y1="183.4" x2="249.6" y2="183.4" stroke="#000" stroke-width="1.1"/>
<text x="243.6" y="185.75" font-size="6.6" text-anchor="end">70</text>
<line x1="247.4" y1="194.3" x2="249.6" y2="194.3" stroke="#000" stroke-width="1.1"/>
<text x="243.6" y="196.65" font-size="6.6" text-anchor="end">60</text>
<line x1="247.4" y1="205.2" x2="249.6" y2="205.2" stroke="#000" stroke-width="1.1"/>
<text x="243.6" y="207.55" font-size="6.6" text-anchor="end">50</text>
<line x1="247.4" y1="214.6" x2="249.6" y2="214.6" stroke="#000" stroke-width="1.1"/>
<text x="243.6" y="216.95" font-size="6.6" text-anchor="end">25</text>
<line x1="247.4" y1="223.2" x2="249.6" y2="223.2" stroke="#000" stroke-width="1.1"/>
<text x="243.6" y="225.55" font-size="6.6" text-anchor="end">0</text>
<line x1="249.05" y1="223.2" x2="286.2" y2="223.2" stroke="#000" stroke-width="1.1"/>
<line x1="286.2" y1="221" x2="286.2" y2="225.4" stroke="#000" stroke-width="1.1"/>
<line x1="290.4" y1="221" x2="290.4" y2="225.4" stroke="#000" stroke-width="1.1"/>
<line x1="290.4" y1="223.2" x2="329.4" y2="223.2" stroke="#000" stroke-width="1.1"/>
<line x1="249.6" y1="223.2" x2="249.6" y2="226.2" stroke="#000" stroke-width="1.1"/>
<text x="251.8" y="232" font-size="6.36" text-anchor="end" transform="rotate(-45 251.8 232)">0</text>
<line x1="260.2" y1="223.2" x2="260.2" y2="226.2" stroke="#000" stroke-width="1.1"/>
<text x="262.4" y="232" font-size="6.36" text-anchor="end" transform="rotate(-45 262.4 232)">20</text>
<line x1="270.8" y1="223.2" x2="270.8" y2="226.2" stroke="#000" stroke-width="1.1"/>
<text x="273" y="232" font-size="6.36" text-anchor="end" transform="rotate(-45 273 232)">40</text>
<line x1="281.4" y1="223.2" x2="281.4" y2="226.2" stroke="#000" stroke-width="1.1"/>
<text x="283.6" y="232" font-size="6.36" text-anchor="end" transform="rotate(-45 283.6 232)">60</text>
<line x1="295.8" y1="223.2" x2="295.8" y2="226.2" stroke="#000" stroke-width="1.1"/>
<text x="298" y="232" font-size="6.36" text-anchor="end" transform="rotate(-45 298 232)">200</text>
<line x1="306.4" y1="223.2" x2="306.4" y2="226.2" stroke="#000" stroke-width="1.1"/>
<text x="308.6" y="232" font-size="6.36" text-anchor="end" transform="rotate(-45 308.6 232)">400</text>
<line x1="317" y1="223.2" x2="317" y2="226.2" stroke="#000" stroke-width="1.1"/>
<text x="319.2" y="232" font-size="6.36" text-anchor="end" transform="rotate(-45 319.2 232)">600</text>
<line x1="327.6" y1="223.2" x2="327.6" y2="226.2" stroke="#000" stroke-width="1.1"/>
<text x="329.8" y="232" font-size="6.36" text-anchor="end" transform="rotate(-45 329.8 232)">800</text>
<path d="M249.6 150.9 L254.9 153.07 L260.2 154.7 L265.5 154.16 L281.4 152.53 L285.5 152.53" fill="none" stroke="#b51e3c" stroke-width="0.9"/>
<path d="M291.56 153.07 L297.92 154.7 L310.64 158.5 L323.36 158.5" fill="none" stroke="#b51e3c" stroke-width="0.9"/>
<circle cx="249.6" cy="150.9" r="1.4" fill="#b51e3c" stroke="none" stroke-width="1"/>
<circle cx="254.9" cy="153.07" r="1.4" fill="#b51e3c" stroke="none" stroke-width="1"/>
<circle cx="260.2" cy="154.7" r="1.4" fill="#b51e3c" stroke="none" stroke-width="1"/>
<line x1="265.5" y1="152.96" x2="265.5" y2="155.36" stroke="#222" stroke-width="0.8"/>
<line x1="264.2" y1="152.96" x2="266.8" y2="152.96" stroke="#222" stroke-width="0.8"/>
<line x1="264.2" y1="155.36" x2="266.8" y2="155.36" stroke="#222" stroke-width="0.8"/>
<circle cx="265.5" cy="154.16" r="1.4" fill="#b51e3c" stroke="none" stroke-width="1"/>
<circle cx="281.4" cy="152.53" r="1.4" fill="#b51e3c" stroke="none" stroke-width="1"/>
<circle cx="291.56" cy="153.07" r="1.4" fill="#b51e3c" stroke="none" stroke-width="1"/>
<circle cx="297.92" cy="154.7" r="1.4" fill="#b51e3c" stroke="none" stroke-width="1"/>
<line x1="310.64" y1="156" x2="310.64" y2="161" stroke="#222" stroke-width="0.8"/>
<line x1="309.34" y1="156" x2="311.94" y2="156" stroke="#222" stroke-width="0.8"/>
<line x1="309.34" y1="161" x2="311.94" y2="161" stroke="#222" stroke-width="0.8"/>
<circle cx="310.64" cy="158.5" r="1.4" fill="#b51e3c" stroke="none" stroke-width="1"/>
<line x1="323.36" y1="156.3" x2="323.36" y2="160.7" stroke="#222" stroke-width="0.8"/>
<line x1="322.06" y1="156.3" x2="324.66" y2="156.3" stroke="#222" stroke-width="0.8"/>
<line x1="322.06" y1="160.7" x2="324.66" y2="160.7" stroke="#222" stroke-width="0.8"/>
<circle cx="323.36" cy="158.5" r="1.4" fill="#b51e3c" stroke="none" stroke-width="1"/>
<path d="M249.6 150.9 L254.9 155.24 L260.2 156.33 L265.5 156.33 L281.4 156.33 L285.5 156.33" fill="none" stroke="#3a63a8" stroke-width="0.9"/>
<path d="M291.56 155.46 L297.92 159.37 L310.64 168.28 L323.36 171.53" fill="none" stroke="#3a63a8" stroke-width="0.9"/>
<rect x="248.1" y="149.4" width="3" height="3" fill="#fff" stroke="#3a63a8" stroke-width="0.9" rx="0.8"/>
<rect x="253.4" y="153.74" width="3" height="3" fill="#fff" stroke="#3a63a8" stroke-width="0.9" rx="0.8"/>
<rect x="258.7" y="154.83" width="3" height="3" fill="#fff" stroke="#3a63a8" stroke-width="0.9" rx="0.8"/>
<rect x="264" y="154.83" width="3" height="3" fill="#fff" stroke="#3a63a8" stroke-width="0.9" rx="0.8"/>
<line x1="281.4" y1="155.13" x2="281.4" y2="157.53" stroke="#222" stroke-width="0.8"/>
<line x1="280.1" y1="155.13" x2="282.7" y2="155.13" stroke="#222" stroke-width="0.8"/>
<line x1="280.1" y1="157.53" x2="282.7" y2="157.53" stroke="#222" stroke-width="0.8"/>
<rect x="279.9" y="154.83" width="3" height="3" fill="#fff" stroke="#3a63a8" stroke-width="0.9" rx="0.8"/>
<rect x="290.06" y="153.96" width="3" height="3" fill="#fff" stroke="#3a63a8" stroke-width="0.9" rx="0.8"/>
<line x1="297.92" y1="157.57" x2="297.92" y2="161.17" stroke="#222" stroke-width="0.8"/>
<line x1="296.62" y1="157.57" x2="299.22" y2="157.57" stroke="#222" stroke-width="0.8"/>
<line x1="296.62" y1="161.17" x2="299.22" y2="161.17" stroke="#222" stroke-width="0.8"/>
<rect x="296.42" y="157.87" width="3" height="3" fill="#fff" stroke="#3a63a8" stroke-width="0.9" rx="0.8"/>
<line x1="310.64" y1="165.28" x2="310.64" y2="171.28" stroke="#222" stroke-width="0.8"/>
<line x1="309.34" y1="165.28" x2="311.94" y2="165.28" stroke="#222" stroke-width="0.8"/>
<line x1="309.34" y1="171.28" x2="311.94" y2="171.28" stroke="#222" stroke-width="0.8"/>
<rect x="309.14" y="166.78" width="3" height="3" fill="#fff" stroke="#3a63a8" stroke-width="0.9" rx="0.8"/>
<line x1="323.36" y1="168.93" x2="323.36" y2="174.13" stroke="#222" stroke-width="0.8"/>
<line x1="322.06" y1="168.93" x2="324.66" y2="168.93" stroke="#222" stroke-width="0.8"/>
<line x1="322.06" y1="174.13" x2="324.66" y2="174.13" stroke="#222" stroke-width="0.8"/>
<rect x="321.86" y="170.03" width="3" height="3" fill="#fff" stroke="#3a63a8" stroke-width="0.9" rx="0.8"/>
<text x="310.64" y="154.6" font-size="6.5" text-anchor="middle" font-weight="bold">*</text>
<text x="323.36" y="154.6" font-size="6.5" text-anchor="middle" font-weight="bold">*</text>
<line x1="249.6" y1="133.2" x2="261.9" y2="133.2" stroke="#b51e3c" stroke-width="0.9"/>
<circle cx="255.7" cy="133.2" r="1.35" fill="#b51e3c" stroke="none" stroke-width="1"/>
<text x="265.2" y="135.2" font-size="5.6">Mo</text>
<line x1="249.6" y1="141.9" x2="261.9" y2="141.9" stroke="#3a63a8" stroke-width="0.9"/>
<rect x="254.3" y="140.5" width="2.8" height="2.8" fill="#fff" stroke="#3a63a8" stroke-width="0.8"/>
<text x="265.2" y="143.9" font-size="5.6">Mo + NK</text>
<text x="226.8" y="184.9" font-size="7.2" text-anchor="middle" stroke="#000" stroke-width="0.32" textLength="59" lengthAdjust="spacingAndGlyphs" transform="rotate(-90 226.8 184.9)">Monocyte viability (%)</text>
<text x="290" y="251.2" font-size="7" text-anchor="middle" stroke="#000" stroke-width="0.32" textLength="57" lengthAdjust="spacingAndGlyphs">Co-culture time (min)</text>
<line x1="369" y1="147.5" x2="369" y2="204.8" stroke="#000" stroke-width="1.1"/>
<line x1="366.8" y1="204.8" x2="369" y2="204.8" stroke="#000" stroke-width="1.1"/>
<line x1="369" y1="209.7" x2="369" y2="223.75" stroke="#000" stroke-width="1.1"/>
<line x1="366.8" y1="209.7" x2="371.2" y2="209.7" stroke="#000" stroke-width="1.1"/>
<line x1="366.8" y1="204.8" x2="371.2" y2="204.8" stroke="#000" stroke-width="1.1"/>
<line x1="366.8" y1="149.9" x2="369" y2="149.9" stroke="#000" stroke-width="1.1"/>
<text x="363" y="152.25" font-size="6.6" text-anchor="end">90</text>
<line x1="366.8" y1="163.7" x2="369" y2="163.7" stroke="#000" stroke-width="1.1"/>
<text x="363" y="166.05" font-size="6.6" text-anchor="end">80</text>
<line x1="366.8" y1="177.5" x2="369" y2="177.5" stroke="#000" stroke-width="1.1"/>
<text x="363" y="179.85" font-size="6.6" text-anchor="end">70</text>
<line x1="366.8" y1="191.1" x2="369" y2="191.1" stroke="#000" stroke-width="1.1"/>
<text x="363" y="193.45" font-size="6.6" text-anchor="end">60</text>
<line x1="366.8" y1="204.8" x2="369" y2="204.8" stroke="#000" stroke-width="1.1"/>
<text x="363" y="207.15" font-size="6.6" text-anchor="end">50</text>
<line x1="366.8" y1="214.6" x2="369" y2="214.6" stroke="#000" stroke-width="1.1"/>
<text x="363" y="216.95" font-size="6.6" text-anchor="end">25</text>
<line x1="366.8" y1="223.2" x2="369" y2="223.2" stroke="#000" stroke-width="1.1"/>
<text x="363" y="225.55" font-size="6.6" text-anchor="end">0</text>
<line x1="368.45" y1="223.2" x2="406" y2="223.2" stroke="#000" stroke-width="1.1"/>
<line x1="406" y1="221" x2="406" y2="225.4" stroke="#000" stroke-width="1.1"/>
<line x1="410.4" y1="221" x2="410.4" y2="225.4" stroke="#000" stroke-width="1.1"/>
<line x1="410.4" y1="223.2" x2="449.7" y2="223.2" stroke="#000" stroke-width="1.1"/>
<line x1="377.8" y1="223.2" x2="377.8" y2="226.2" stroke="#000" stroke-width="1.1"/>
<text x="380" y="232" font-size="6.36" text-anchor="end" transform="rotate(-45 380 232)">20</text>
<line x1="388.9" y1="223.2" x2="388.9" y2="226.2" stroke="#000" stroke-width="1.1"/>
<text x="391.1" y="232" font-size="6.36" text-anchor="end" transform="rotate(-45 391.1 232)">40</text>
<line x1="400.1" y1="223.2" x2="400.1" y2="226.2" stroke="#000" stroke-width="1.1"/>
<text x="402.3" y="232" font-size="6.36" text-anchor="end" transform="rotate(-45 402.3 232)">60</text>
<line x1="416.3" y1="223.2" x2="416.3" y2="226.2" stroke="#000" stroke-width="1.1"/>
<text x="418.5" y="232" font-size="6.36" text-anchor="end" transform="rotate(-45 418.5 232)">200</text>
<line x1="426.8" y1="223.2" x2="426.8" y2="226.2" stroke="#000" stroke-width="1.1"/>
<text x="429" y="232" font-size="6.36" text-anchor="end" transform="rotate(-45 429 232)">400</text>
<line x1="437.3" y1="223.2" x2="437.3" y2="226.2" stroke="#000" stroke-width="1.1"/>
<text x="439.5" y="232" font-size="6.36" text-anchor="end" transform="rotate(-45 439.5 232)">600</text>
<line x1="447.9" y1="223.2" x2="447.9" y2="226.2" stroke="#000" stroke-width="1.1"/>
<text x="450.1" y="232" font-size="6.36" text-anchor="end" transform="rotate(-45 450.1 232)">800</text>
<path d="M368.93 149.9 L369.49 157.47 L372.27 162.71 L377.84 160.64 L383.41 161.88 L400.12 158.44 L405 158.44" fill="none" stroke="#8a86c6" stroke-width="0.8"/>
<path d="M412.09 159.26 L418.4 162.98 L431.03 162.02 L443.65 159.81" fill="none" stroke="#8a86c6" stroke-width="0.8"/>
<line x1="368.93" y1="146.9" x2="368.93" y2="152.9" stroke="#8a86c6" stroke-width="0.8"/>
<line x1="367.63" y1="146.9" x2="370.23" y2="146.9" stroke="#8a86c6" stroke-width="0.8"/>
<line x1="367.63" y1="152.9" x2="370.23" y2="152.9" stroke="#8a86c6" stroke-width="0.8"/>
<circle cx="368.93" cy="149.9" r="1.1" fill="#8a86c6" stroke="none" stroke-width="1"/>
<circle cx="369.49" cy="157.47" r="1.1" fill="#8a86c6" stroke="none" stroke-width="1"/>
<circle cx="372.27" cy="162.71" r="1.1" fill="#8a86c6" stroke="none" stroke-width="1"/>
<line x1="377.84" y1="159.44" x2="377.84" y2="161.84" stroke="#8a86c6" stroke-width="0.8"/>
<line x1="376.54" y1="159.44" x2="379.14" y2="159.44" stroke="#8a86c6" stroke-width="0.8"/>
<line x1="376.54" y1="161.84" x2="379.14" y2="161.84" stroke="#8a86c6" stroke-width="0.8"/>
<circle cx="377.84" cy="160.64" r="1.1" fill="#8a86c6" stroke="none" stroke-width="1"/>
<line x1="383.41" y1="160.68" x2="383.41" y2="163.08" stroke="#8a86c6" stroke-width="0.8"/>
<line x1="382.11" y1="160.68" x2="384.71" y2="160.68" stroke="#8a86c6" stroke-width="0.8"/>
<line x1="382.11" y1="163.08" x2="384.71" y2="163.08" stroke="#8a86c6" stroke-width="0.8"/>
<circle cx="383.41" cy="161.88" r="1.1" fill="#8a86c6" stroke="none" stroke-width="1"/>
<line x1="400.12" y1="156.64" x2="400.12" y2="160.24" stroke="#8a86c6" stroke-width="0.8"/>
<line x1="398.82" y1="156.64" x2="401.42" y2="156.64" stroke="#8a86c6" stroke-width="0.8"/>
<line x1="398.82" y1="160.24" x2="401.42" y2="160.24" stroke="#8a86c6" stroke-width="0.8"/>
<circle cx="400.12" cy="158.44" r="1.1" fill="#8a86c6" stroke="none" stroke-width="1"/>
<circle cx="412.09" cy="159.26" r="1.1" fill="#8a86c6" stroke="none" stroke-width="1"/>
<circle cx="418.4" cy="162.98" r="1.1" fill="#8a86c6" stroke="none" stroke-width="1"/>
<circle cx="431.03" cy="162.02" r="1.1" fill="#8a86c6" stroke="none" stroke-width="1"/>
<line x1="443.65" y1="158.01" x2="443.65" y2="161.61" stroke="#8a86c6" stroke-width="0.8"/>
<line x1="442.35" y1="158.01" x2="444.95" y2="158.01" stroke="#8a86c6" stroke-width="0.8"/>
<line x1="442.35" y1="161.61" x2="444.95" y2="161.61" stroke="#8a86c6" stroke-width="0.8"/>
<circle cx="443.65" cy="159.81" r="1.1" fill="#8a86c6" stroke="none" stroke-width="1"/>
<path d="M368.93 160.23 L369.49 163.67 L372.27 169.87 L377.84 172.9 L383.41 172.9 L400.12 176.89 L405 176.89" fill="none" stroke="#c61f8c" stroke-width="1.1"/>
<path d="M412.09 177.16 L418.4 181.57 L431.03 188.46 L443.65 201.54" fill="none" stroke="#c61f8c" stroke-width="1.1"/>
<line x1="368.93" y1="157.73" x2="368.93" y2="162.73" stroke="#c61f8c" stroke-width="0.8"/>
<line x1="367.63" y1="157.73" x2="370.23" y2="157.73" stroke="#c61f8c" stroke-width="0.8"/>
<line x1="367.63" y1="162.73" x2="370.23" y2="162.73" stroke="#c61f8c" stroke-width="0.8"/>
<circle cx="368.93" cy="160.23" r="1.35" fill="#fff" stroke="#c61f8c" stroke-width="0.9"/>
<circle cx="369.49" cy="163.67" r="1.35" fill="#fff" stroke="#c61f8c" stroke-width="0.9"/>
<line x1="372.27" y1="167.67" x2="372.27" y2="172.07" stroke="#c61f8c" stroke-width="0.8"/>
<line x1="370.97" y1="167.67" x2="373.57" y2="167.67" stroke="#c61f8c" stroke-width="0.8"/>
<line x1="370.97" y1="172.07" x2="373.57" y2="172.07" stroke="#c61f8c" stroke-width="0.8"/>
<circle cx="372.27" cy="169.87" r="1.35" fill="#fff" stroke="#c61f8c" stroke-width="0.9"/>
<line x1="377.84" y1="170.7" x2="377.84" y2="175.1" stroke="#c61f8c" stroke-width="0.8"/>
<line x1="376.54" y1="170.7" x2="379.14" y2="170.7" stroke="#c61f8c" stroke-width="0.8"/>
<line x1="376.54" y1="175.1" x2="379.14" y2="175.1" stroke="#c61f8c" stroke-width="0.8"/>
<circle cx="377.84" cy="172.9" r="1.35" fill="#fff" stroke="#c61f8c" stroke-width="0.9"/>
<line x1="383.41" y1="170.7" x2="383.41" y2="175.1" stroke="#c61f8c" stroke-width="0.8"/>
<line x1="382.11" y1="170.7" x2="384.71" y2="170.7" stroke="#c61f8c" stroke-width="0.8"/>
<line x1="382.11" y1="175.1" x2="384.71" y2="175.1" stroke="#c61f8c" stroke-width="0.8"/>
<circle cx="383.41" cy="172.9" r="1.35" fill="#fff" stroke="#c61f8c" stroke-width="0.9"/>
<line x1="400.12" y1="175.09" x2="400.12" y2="178.69" stroke="#c61f8c" stroke-width="0.8"/>
<line x1="398.82" y1="175.09" x2="401.42" y2="175.09" stroke="#c61f8c" stroke-width="0.8"/>
<line x1="398.82" y1="178.69" x2="401.42" y2="178.69" stroke="#c61f8c" stroke-width="0.8"/>
<circle cx="400.12" cy="176.89" r="1.35" fill="#fff" stroke="#c61f8c" stroke-width="0.9"/>
<circle cx="412.09" cy="177.16" r="1.35" fill="#fff" stroke="#c61f8c" stroke-width="0.9"/>
<line x1="418.4" y1="180.37" x2="418.4" y2="182.77" stroke="#c61f8c" stroke-width="0.8"/>
<line x1="417.1" y1="180.37" x2="419.7" y2="180.37" stroke="#c61f8c" stroke-width="0.8"/>
<line x1="417.1" y1="182.77" x2="419.7" y2="182.77" stroke="#c61f8c" stroke-width="0.8"/>
<circle cx="418.4" cy="181.57" r="1.35" fill="#fff" stroke="#c61f8c" stroke-width="0.9"/>
<line x1="431.03" y1="187.26" x2="431.03" y2="189.66" stroke="#c61f8c" stroke-width="0.8"/>
<line x1="429.73" y1="187.26" x2="432.33" y2="187.26" stroke="#c61f8c" stroke-width="0.8"/>
<line x1="429.73" y1="189.66" x2="432.33" y2="189.66" stroke="#c61f8c" stroke-width="0.8"/>
<circle cx="431.03" cy="188.46" r="1.35" fill="#fff" stroke="#c61f8c" stroke-width="0.9"/>
<line x1="443.65" y1="199.34" x2="443.65" y2="203.74" stroke="#c61f8c" stroke-width="0.8"/>
<line x1="442.35" y1="199.34" x2="444.95" y2="199.34" stroke="#c61f8c" stroke-width="0.8"/>
<line x1="442.35" y1="203.74" x2="444.95" y2="203.74" stroke="#c61f8c" stroke-width="0.8"/>
<circle cx="443.65" cy="201.54" r="1.35" fill="#fff" stroke="#c61f8c" stroke-width="0.9"/>
<text x="377.8" y="158.4" font-size="6.5" text-anchor="middle" font-weight="bold">*</text>
<line x1="369" y1="132.4" x2="381.3" y2="132.4" stroke="#8a86c6" stroke-width="0.8"/>
<circle cx="375.2" cy="132.4" r="1.1" fill="#8a86c6" stroke="none" stroke-width="1"/>
<text x="384.3" y="134.4" font-size="5.6">K-562</text>
<line x1="369" y1="141" x2="381.3" y2="141" stroke="#c61f8c" stroke-width="1.1"/>
<circle cx="375.2" cy="141" r="1.35" fill="#fff" stroke="#c61f8c" stroke-width="0.9"/>
<text x="384.3" y="143" font-size="5.6">K-562 + NK</text>
<text x="349.8" y="186" font-size="7.2" text-anchor="middle" stroke="#000" stroke-width="0.32" textLength="50" lengthAdjust="spacingAndGlyphs" transform="rotate(-90 349.8 186)">K-562 viability (%)</text>
<text x="409.6" y="251.2" font-size="7" text-anchor="middle" stroke="#000" stroke-width="0.32" textLength="56" lengthAdjust="spacingAndGlyphs">Co-culture time (min)</text>
<text x="7" y="261.8" font-size="11" font-weight="bold">E</text>
<line x1="148.3" y1="270" x2="101.2" y2="287.3" stroke="#9a7c7c" stroke-width="0.85"/>
<line x1="148.3" y1="270" x2="81.5" y2="316.2" stroke="#806c6c" stroke-width="0.85"/>
<line x1="148.3" y1="270" x2="202.5" y2="310.8" stroke="#d27f80" stroke-width="3.2"/>
<line x1="148.3" y1="270" x2="165.3" y2="345.1" stroke="#806c6c" stroke-width="0.85"/>
<line x1="148.3" y1="270" x2="81" y2="377" stroke="#806c6c" stroke-width="0.85"/>
<line x1="148.3" y1="270" x2="198.1" y2="377.5" stroke="#d27f80" stroke-width="2.4"/>
<line x1="148.3" y1="270" x2="155.7" y2="414.6" stroke="#806c6c" stroke-width="0.85"/>
<line x1="101.2" y1="287.3" x2="81.5" y2="316.2" stroke="#9a7c7c" stroke-width="0.85"/>
<line x1="101.2" y1="287.3" x2="202.5" y2="310.8" stroke="#806c6c" stroke-width="0.85"/>
<line x1="101.2" y1="287.3" x2="165.3" y2="345.1" stroke="#9a7c7c" stroke-width="0.85"/>
<line x1="101.2" y1="287.3" x2="81" y2="377" stroke="#9a7c7c" stroke-width="0.85"/>
<line x1="101.2" y1="287.3" x2="198.1" y2="377.5" stroke="#806c6c" stroke-width="0.85"/>
<line x1="101.2" y1="287.3" x2="155.7" y2="414.6" stroke="#9a7c7c" stroke-width="0.85"/>
<line x1="101.2" y1="287.3" x2="113.9" y2="412.1" stroke="#806c6c" stroke-width="0.85"/>
<line x1="81.5" y1="316.2" x2="202.5" y2="310.8" stroke="#bf9090" stroke-width="0.85"/>
<line x1="81.5" y1="316.2" x2="165.3" y2="345.1" stroke="#bf9090" stroke-width="0.85"/>
<line x1="81.5" y1="316.2" x2="61.8" y2="344.5" stroke="#bf9090" stroke-width="0.85"/>
<line x1="81.5" y1="316.2" x2="81" y2="377" stroke="#bf9090" stroke-width="0.85"/>
<line x1="81.5" y1="316.2" x2="198.1" y2="377.5" stroke="#bf9090" stroke-width="0.85"/>
<line x1="81.5" y1="316.2" x2="155.7" y2="414.6" stroke="#bf9090" stroke-width="0.85"/>
<line x1="81.5" y1="316.2" x2="113.9" y2="412.1" stroke="#bf9090" stroke-width="0.85"/>
<line x1="202.5" y1="310.8" x2="165.3" y2="345.1" stroke="#9a7c7c" stroke-width="0.85"/>
<line x1="202.5" y1="310.8" x2="61.8" y2="344.5" stroke="#806c6c" stroke-width="0.85"/>
<line x1="202.5" y1="310.8" x2="81" y2="377" stroke="#9a7c7c" stroke-width="0.85"/>
<line x1="202.5" y1="310.8" x2="198.1" y2="377.5" stroke="#d27f80" stroke-width="2.2"/>
<line x1="202.5" y1="310.8" x2="155.7" y2="414.6" stroke="#9a7c7c" stroke-width="0.85"/>
<line x1="165.3" y1="345.1" x2="61.8" y2="344.5" stroke="#9a7c7c" stroke-width="0.85"/>
<line x1="165.3" y1="345.1" x2="81" y2="377" stroke="#806c6c" stroke-width="0.85"/>
<line x1="165.3" y1="345.1" x2="198.1" y2="377.5" stroke="#9a7c7c" stroke-width="0.85"/>
<line x1="165.3" y1="345.1" x2="155.7" y2="414.6" stroke="#806c6c" stroke-width="0.85"/>
<line x1="165.3" y1="345.1" x2="113.9" y2="412.1" stroke="#9a7c7c" stroke-width="0.85"/>
<line x1="61.8" y1="344.5" x2="81" y2="377" stroke="#bf9090" stroke-width="0.85"/>
<line x1="61.8" y1="344.5" x2="198.1" y2="377.5" stroke="#bf9090" stroke-width="0.85"/>
<line x1="61.8" y1="344.5" x2="113.9" y2="412.1" stroke="#bf9090" stroke-width="0.85"/>
<line x1="81" y1="377" x2="198.1" y2="377.5" stroke="#9a7c7c" stroke-width="0.85"/>
<line x1="81" y1="377" x2="155.7" y2="414.6" stroke="#806c6c" stroke-width="0.85"/>
<line x1="81" y1="377" x2="113.9" y2="412.1" stroke="#9a7c7c" stroke-width="0.85"/>
<line x1="198.1" y1="377.5" x2="155.7" y2="414.6" stroke="#9a7c7c" stroke-width="0.85"/>
<line x1="198.1" y1="377.5" x2="113.9" y2="412.1" stroke="#806c6c" stroke-width="0.85"/>
<line x1="155.7" y1="414.6" x2="113.9" y2="412.1" stroke="#bf9090" stroke-width="0.85"/>
<circle cx="148.3" cy="270" r="18.8" fill="#f3d6d8" stroke="#333" stroke-width="0.75"/>
<circle cx="101.2" cy="287.3" r="10.2" fill="#d6716a" stroke="#333" stroke-width="0.75"/>
<circle cx="81.5" cy="316.2" r="9" fill="#c8321b" stroke="#333" stroke-width="0.75"/>
<circle cx="202.5" cy="310.8" r="18.4" fill="#f1d1d2" stroke="#333" stroke-width="0.75"/>
<circle cx="165.3" cy="345.1" r="12.3" fill="#d98a85" stroke="#333" stroke-width="0.75"/>
<circle cx="61.8" cy="344.5" r="3.4" fill="#ebb3b1" stroke="#333" stroke-width="0.75"/>
<circle cx="81" cy="377" r="7.4" fill="#c6301b" stroke="#333" stroke-width="0.75"/>
<circle cx="198.1" cy="377.5" r="15" fill="#e8afaf" stroke="#333" stroke-width="0.75"/>
<circle cx="155.7" cy="414.6" r="9.7" fill="#efbdbd" stroke="#333" stroke-width="0.75"/>
<circle cx="113.9" cy="412.1" r="2.4" fill="#f6e6e6" stroke="#333" stroke-width="0.75"/>
<text x="11" y="305.6" font-size="6" fill="#4258a6" textLength="168.4" lengthAdjust="spacingAndGlyphs">Immunoregulatory interactions between a Lymphoid and non-Lymphoid cell</text>
<text x="10" y="332.3" font-size="6" fill="#4258a6" textLength="141.7" lengthAdjust="spacingAndGlyphs">Natural killer cell mediated cytotoxicity - Homo sapiens (human)</text>
<text x="20" y="353.8" font-size="6" fill="#4258a6" textLength="92" lengthAdjust="spacingAndGlyphs">granzyme a mediated apoptosis pathway</text>
<text x="43" y="388.8" font-size="6" fill="#4258a6" textLength="69.5" lengthAdjust="spacingAndGlyphs">IL12-mediated signaling events</text>
<text x="130" y="293.4" font-size="6" fill="#5f3f92" textLength="42" lengthAdjust="spacingAndGlyphs">cell communication</text>
<text x="183.9" y="334.3" font-size="6" fill="#5f3f92" textLength="42.9" lengthAdjust="spacingAndGlyphs">Signal transduction</text>
<text x="136.8" y="362" font-size="6" fill="#5f3f92" textLength="61.6" lengthAdjust="spacingAndGlyphs">leukocyte cell-cell adhesion</text>
<text x="149.2" y="399.3" font-size="6" fill="#5f3f92" textLength="94.5" lengthAdjust="spacingAndGlyphs">transmembrane signaling receptor activity</text>
<text x="105" y="429" font-size="6" fill="#5f3f92" textLength="103.8" lengthAdjust="spacingAndGlyphs">positive regulation of immune effector process</text>
<text x="77.5" y="420.3" font-size="6" fill="#e3a640" textLength="62" lengthAdjust="spacingAndGlyphs">Class I MHC/CD94/NKG2</text>
<rect x="75.4" y="445.3" width="125.3" height="29.6" fill="none" stroke="#333" stroke-width="0.9"/>
<text x="88.9" y="453.3" font-size="6" fill="#4258a6" textLength="41.6" lengthAdjust="spacingAndGlyphs">Signaling pathway</text>
<text x="88.9" y="461.6" font-size="6" fill="#5f3f92" textLength="54.6" lengthAdjust="spacingAndGlyphs">Gene ontology category</text>
<text x="88.9" y="471.4" font-size="6" fill="#e3a640" textLength="37.6" lengthAdjust="spacingAndGlyphs">Protein complex</text>
<circle cx="158.4" cy="457.2" r="3.2" fill="#c8321b" stroke="#333" stroke-width="0.6"/>
<circle cx="158.4" cy="466.1" r="3.2" fill="#ebb3b1" stroke="#333" stroke-width="0.6"/>
<text x="164.3" y="459.6" font-size="5.8">p &lt; 10<tspan baseline-shift="super" font-size="70%">-15</tspan></text>
<text x="164.3" y="468.5" font-size="5.8">p &lt; 10<tspan baseline-shift="super" font-size="70%">-7</tspan></text>
<text x="269.2" y="281.4" font-size="11" font-weight="bold">F</text>
<rect x="296.4" y="274.5" width="5.2" height="4.7" fill="#b0103a" stroke="none" stroke-width="0.5"/>
<text x="304.1" y="278.6" font-size="5.3">NK</text>
<rect x="296.4" y="283.5" width="5.2" height="4.7" fill="#2a4a8c" stroke="none" stroke-width="0.5"/>
<text x="304.1" y="287.6" font-size="5.3">NK + Mo</text>
<rect x="296.4" y="292.6" width="5.2" height="4.7" fill="#c6c6ca" stroke="#777" stroke-width="0.5"/>
<text x="304.1" y="296.7" font-size="5.3">Unstained</text>
<path d="M296.5 354.6 L296.5 346.19 L297 343.37 L297.5 341.86 L298 340.74 L298.5 340.13 L299 336.27 L299.5 334.49 L300 334.22 L300.5 332.73 L301 332.71 L301.5 332.68 L302 329 L302.5 326.09 L303 328.18 L303.5 321.43 L304 324.18 L304.5 322.75 L305 322.95 L305.5 313.02 L306 313.65 L306.5 310.65 L307 311.52 L307.5 315.97 L308 311.37 L308.5 307.95 L309 310.79 L309.5 303.8 L310 306.22 L310.5 303.8 L311 309.17 L311.5 303.8 L312 313 L312.5 306.99 L313 313.16 L313.5 313.45 L314 317.45 L314.5 318.16 L315 321.71 L315.5 323.89 L316 318.68 L316.5 325.11 L317 322.07 L317.5 327.2 L318 324.08 L318.5 326.8 L319 328.99 L319.5 330.3 L320 333.11 L320.5 334.23 L321 336.12 L321.5 333.39 L322 332.69 L322.5 336.68 L323 331.1 L323.5 329.06 L324 331.24 L324.5 331 L325 332.01 L325.5 333.85 L326 329.88 L326.5 332.36 L327 335.91 L327.5 337.18 L328 336.42 L328.5 337.56 L329 340.64 L329.5 341.93 L330 343.55 L330.5 344.91 L331 347.49 L331.5 348.34 L332 349.97 L332.5 351.46 L333 352.72 L333.5 353.66 L334 354.6 L334 354.6Z" fill="#2c4a86" stroke="#1d3468" stroke-width="0.3"/>
<path d="M296.5 354.6 L296.5 344.45 L297 344.39 L297.5 342.9 L298 337.54 L298.5 339.34 L299 338.44 L299.5 334.86 L300 335.03 L300.5 330.99 L301 333.21 L301.5 327.81 L302 330.3 L302.5 327.28 L303 323.76 L303.5 324.09 L304 321.02 L304.5 320.6 L305 324.03 L305.5 315.09 L306 315.68 L306.5 316.61 L307 316.2 L307.5 307.79 L308 309.35 L308.5 304.26 L309 304.79 L309.5 303.8 L310 304.37 L310.5 303.8 L311 303.8 L311.5 306.6 L312 315.36 L312.5 314.01 L313 323.79 L313.5 324.77 L314 328.4 L314.5 334.6 L315 339.28 L315.5 339.27 L316 341.39 L316.5 344.27 L317 345.24 L317.5 344.7 L318 346.48 L318.5 343.4 L319 343.41 L319.5 345.16 L320 347.15 L320.5 345.37 L321 343.42 L321.5 345.39 L322 345.73 L322.5 343.2 L323 342.03 L323.5 341.61 L324 342.28 L324.5 341.85 L325 340.31 L325.5 342.58 L326 345.44 L326.5 343.99 L327 346.1 L327.5 346.61 L328 347.32 L328.5 347.13 L329 347.84 L329.5 349.17 L330 349.97 L330.5 350.93 L331 351.08 L331.5 352.42 L332 353.06 L332.5 353.62 L333 354.11 L333.5 354.6 L333.5 354.6Z" fill="#ad0530" stroke="none" stroke-width="0.6"/>
<path d="M296.5 354.6 L296.5 344.83 L297 343.71 L297.5 342.72 L298 341.09 L298.5 336.56 L299 335.78 L299.5 334.18 L300 335.96 L300.5 336.25 L301 333.7 L301.5 332.76 L302 329.38 L302.5 328.78 L303 327.8 L303.5 324.15 L304 323 L304.5 319.99 L305 318.23 L305.5 319.84 L306 318.73 L306.5 311.06 L307 310.8 L307.5 308.77 L308.3 303.8 L309.2 307.99 L310 313.63 L310.5 320.57 L311 321.79 L311.5 326.75 L312 328.91 L312.5 331.67 L313 335.87 L313.5 338.95 L314 340.44 L314.5 342.51 L315 345.32 L315.5 346.88 L316 348.02 L316.5 349.78 L317 350.75 L317.5 351.64 L318 352.47 L318.5 353.31 L319 353.96 L319.5 354.6 L319.5 354.6Z" fill="#c8c8cc" stroke="#aaa" stroke-width="0.3"/>
<rect x="296.3" y="300.8" width="54.1" height="53.8" fill="none" stroke="#000" stroke-width="1.1"/>
<line x1="294.3" y1="354.6" x2="296.3" y2="354.6" stroke="#000" stroke-width="0.9"/>
<text x="291.6" y="356.7" font-size="5.9" text-anchor="end">0</text>
<line x1="294.3" y1="344.44" x2="296.3" y2="344.44" stroke="#000" stroke-width="0.9"/>
<text x="291.6" y="346.54" font-size="5.9" text-anchor="end">20</text>
<line x1="294.3" y1="334.28" x2="296.3" y2="334.28" stroke="#000" stroke-width="0.9"/>
<text x="291.6" y="336.38" font-size="5.9" text-anchor="end">40</text>
<line x1="294.3" y1="324.12" x2="296.3" y2="324.12" stroke="#000" stroke-width="0.9"/>
<text x="291.6" y="326.22" font-size="5.9" text-anchor="end">60</text>
<line x1="294.3" y1="313.96" x2="296.3" y2="313.96" stroke="#000" stroke-width="0.9"/>
<text x="291.6" y="316.06" font-size="5.9" text-anchor="end">80</text>
<line x1="294.3" y1="303.8" x2="296.3" y2="303.8" stroke="#000" stroke-width="0.9"/>
<text x="291.6" y="305.9" font-size="5.9" text-anchor="end">100</text>
<path d="M297.3 354.6v1.6M299.67 354.6v0.9M302.04 354.6v0.9M304.4 354.6v0.9M306.77 354.6v0.9M309.14 354.6v1.6M311.51 354.6v0.9M313.88 354.6v0.9M316.25 354.6v0.9M318.61 354.6v0.9M320.98 354.6v1.6M323.35 354.6v0.9M325.72 354.6v0.9M328.09 354.6v0.9M330.45 354.6v0.9M332.82 354.6v1.6M335.19 354.6v0.9M337.56 354.6v0.9M339.93 354.6v0.9M342.3 354.6v0.9M344.66 354.6v1.6M347.03 354.6v0.9M349.4 354.6v0.9" fill="none" stroke="#000" stroke-width="0.6"/>
<text x="302.3" y="363.6" font-size="5.8" text-anchor="middle">0</text>
<text x="308.8" y="363.6" font-size="5.8" text-anchor="middle">10<tspan baseline-shift="super" font-size="70%">2</tspan></text>
<text x="320.8" y="363.6" font-size="5.8" text-anchor="middle">10<tspan baseline-shift="super" font-size="70%">3</tspan></text>
<text x="333" y="363.6" font-size="5.8" text-anchor="middle">10<tspan baseline-shift="super" font-size="70%">4</tspan></text>
<text x="345.4" y="363.6" font-size="5.8" text-anchor="middle">10<tspan baseline-shift="super" font-size="70%">5</tspan></text>
<line x1="297" y1="371.5" x2="317" y2="371.5" stroke="#000" stroke-width="1"/>
<path d="M321 371.5 L316 369.3 L316 373.7Z" fill="#000" stroke="none" stroke-width="1"/>
<text x="327" y="375.4" font-size="9.2" stroke="#000" stroke-width="0.32" textLength="14.2" lengthAdjust="spacingAndGlyphs">CD94</text>
<line x1="391.8" y1="299.5" x2="391.8" y2="343.25" stroke="#000" stroke-width="1.3"/>
<line x1="389.2" y1="342.6" x2="391.8" y2="342.6" stroke="#000" stroke-width="1.17"/>
<text x="385.5" y="344.94" font-size="6.5" text-anchor="end">0</text>
<line x1="389.2" y1="332.43" x2="391.8" y2="332.43" stroke="#000" stroke-width="1.17"/>
<text x="385.5" y="334.77" font-size="6.5" text-anchor="end">100</text>
<line x1="389.2" y1="322.26" x2="391.8" y2="322.26" stroke="#000" stroke-width="1.17"/>
<text x="385.5" y="324.6" font-size="6.5" text-anchor="end">200</text>
<line x1="389.2" y1="312.09" x2="391.8" y2="312.09" stroke="#000" stroke-width="1.17"/>
<text x="385.5" y="314.43" font-size="6.5" text-anchor="end">300</text>
<line x1="389.2" y1="301.92" x2="391.8" y2="301.92" stroke="#000" stroke-width="1.17"/>
<text x="385.5" y="304.26" font-size="6.5" text-anchor="end">400</text>
<line x1="391.15" y1="342.6" x2="419.3" y2="342.6" stroke="#000" stroke-width="1.3"/>
<line x1="398.5" y1="342.6" x2="398.5" y2="345.6" stroke="#000" stroke-width="1.17"/>
<line x1="413" y1="342.6" x2="413" y2="345.6" stroke="#000" stroke-width="1.17"/>
<path d="M398.5 305.6V302.6H413V305.6" fill="none" stroke="#000" stroke-width="0.9"/>
<text x="405.75" y="301" font-size="6.5" text-anchor="middle" font-weight="bold">**</text>
<circle cx="398.5" cy="320.02" r="2" fill="#fff" stroke="#b8163e" stroke-width="0.95"/>
<circle cx="396" cy="321.75" r="2" fill="#fff" stroke="#b8163e" stroke-width="0.95"/>
<circle cx="401" cy="321.55" r="2" fill="#fff" stroke="#b8163e" stroke-width="0.95"/>
<circle cx="395.5" cy="323.79" r="2" fill="#fff" stroke="#b8163e" stroke-width="0.95"/>
<circle cx="401.5" cy="323.99" r="2" fill="#fff" stroke="#b8163e" stroke-width="0.95"/>
<circle cx="398.5" cy="325.11" r="2" fill="#fff" stroke="#b8163e" stroke-width="0.95"/>
<circle cx="396" cy="326.33" r="2" fill="#fff" stroke="#b8163e" stroke-width="0.95"/>
<circle cx="401" cy="326.12" r="2" fill="#fff" stroke="#b8163e" stroke-width="0.95"/>
<circle cx="398.5" cy="327.35" r="2" fill="#fff" stroke="#b8163e" stroke-width="0.95"/>
<line x1="398.5" y1="321.75" x2="398.5" y2="326.63" stroke="#111" stroke-width="1"/>
<line x1="396.1" y1="321.75" x2="400.9" y2="321.75" stroke="#111" stroke-width="1"/>
<line x1="396.1" y1="326.63" x2="400.9" y2="326.63" stroke="#111" stroke-width="1"/>
<line x1="393.9" y1="324.29" x2="403.1" y2="324.29" stroke="#111" stroke-width="1.1"/>
<circle cx="415.5" cy="309.04" r="2" fill="#fff" stroke="#2d5493" stroke-width="0.95"/>
<circle cx="410.5" cy="311.07" r="2" fill="#fff" stroke="#2d5493" stroke-width="0.95"/>
<circle cx="413" cy="312.09" r="2" fill="#fff" stroke="#2d5493" stroke-width="0.95"/>
<circle cx="415.5" cy="313.62" r="2" fill="#fff" stroke="#2d5493" stroke-width="0.95"/>
<circle cx="416" cy="315.14" r="2" fill="#fff" stroke="#2d5493" stroke-width="0.95"/>
<circle cx="410.5" cy="315.95" r="2" fill="#fff" stroke="#2d5493" stroke-width="0.95"/>
<circle cx="412" cy="319.72" r="2" fill="#fff" stroke="#2d5493" stroke-width="0.95"/>
<line x1="413" y1="309.85" x2="413" y2="316.97" stroke="#111" stroke-width="1"/>
<line x1="410.6" y1="309.85" x2="415.4" y2="309.85" stroke="#111" stroke-width="1"/>
<line x1="410.6" y1="316.97" x2="415.4" y2="316.97" stroke="#111" stroke-width="1"/>
<line x1="408.4" y1="313.31" x2="417.6" y2="313.31" stroke="#111" stroke-width="1.1"/>
<text x="369.6" y="320.7" font-size="7.2" text-anchor="middle" stroke="#000" stroke-width="0.32" textLength="26" lengthAdjust="spacingAndGlyphs" transform="rotate(-90 369.6 320.7)">CD94 MFI</text>
<text x="401.3" y="351" font-size="6.36" text-anchor="end" transform="rotate(-45 401.3 351)">NK</text>
<text x="415.8" y="351" font-size="6.36" text-anchor="end" transform="rotate(-45 415.8 351)">NK + Mo</text>
<text x="432.8" y="281.7" font-size="11" font-weight="bold">G</text>
<line x1="484.7" y1="296.8" x2="484.7" y2="343.25" stroke="#000" stroke-width="1.3"/>
<line x1="482.1" y1="342.6" x2="484.7" y2="342.6" stroke="#000" stroke-width="1.17"/>
<text x="478.4" y="345.01" font-size="6.7" text-anchor="end">0</text>
<line x1="482.1" y1="333.78" x2="484.7" y2="333.78" stroke="#000" stroke-width="1.17"/>
<text x="478.4" y="336.19" font-size="6.7" text-anchor="end">2000</text>
<line x1="482.1" y1="324.96" x2="484.7" y2="324.96" stroke="#000" stroke-width="1.17"/>
<text x="478.4" y="327.37" font-size="6.7" text-anchor="end">4000</text>
<line x1="482.1" y1="316.14" x2="484.7" y2="316.14" stroke="#000" stroke-width="1.17"/>
<text x="478.4" y="318.55" font-size="6.7" text-anchor="end">6000</text>
<line x1="482.1" y1="307.32" x2="484.7" y2="307.32" stroke="#000" stroke-width="1.17"/>
<text x="478.4" y="309.73" font-size="6.7" text-anchor="end">8000</text>
<line x1="482.1" y1="298.5" x2="484.7" y2="298.5" stroke="#000" stroke-width="1.17"/>
<text x="478.4" y="300.91" font-size="6.7" text-anchor="end">10000</text>
<line x1="484.05" y1="342.6" x2="512.6" y2="342.6" stroke="#000" stroke-width="1.3"/>
<line x1="491.7" y1="342.6" x2="491.7" y2="345.6" stroke="#000" stroke-width="1.17"/>
<line x1="505.9" y1="342.6" x2="505.9" y2="345.6" stroke="#000" stroke-width="1.17"/>
<path d="M491.7 303.9V301.5H505.9V303.9" fill="none" stroke="#000" stroke-width="0.9"/>
<text x="498.8" y="300" font-size="6.5" text-anchor="middle" font-weight="bold">**</text>
<circle cx="491.7" cy="320.55" r="1.9" fill="#fff" stroke="#5ea8e2" stroke-width="0.95"/>
<circle cx="489.5" cy="323.64" r="1.9" fill="#fff" stroke="#5ea8e2" stroke-width="0.95"/>
<circle cx="494" cy="324.96" r="1.9" fill="#fff" stroke="#5ea8e2" stroke-width="0.95"/>
<circle cx="491.7" cy="326.72" r="1.9" fill="#fff" stroke="#5ea8e2" stroke-width="0.95"/>
<circle cx="489" cy="328.93" r="1.9" fill="#fff" stroke="#5ea8e2" stroke-width="0.95"/>
<circle cx="494.5" cy="329.81" r="1.9" fill="#fff" stroke="#5ea8e2" stroke-width="0.95"/>
<circle cx="491.7" cy="331.13" r="1.9" fill="#fff" stroke="#5ea8e2" stroke-width="0.95"/>
<circle cx="489.5" cy="332.9" r="1.9" fill="#fff" stroke="#5ea8e2" stroke-width="0.95"/>
<circle cx="494" cy="333.34" r="1.9" fill="#fff" stroke="#5ea8e2" stroke-width="0.95"/>
<circle cx="491.7" cy="334.66" r="1.9" fill="#fff" stroke="#5ea8e2" stroke-width="0.95"/>
<line x1="491.7" y1="324.08" x2="491.7" y2="332.9" stroke="#111" stroke-width="1"/>
<line x1="489.3" y1="324.08" x2="494.1" y2="324.08" stroke="#111" stroke-width="1"/>
<line x1="489.3" y1="332.9" x2="494.1" y2="332.9" stroke="#111" stroke-width="1"/>
<line x1="487.1" y1="328.49" x2="496.3" y2="328.49" stroke="#111" stroke-width="1.1"/>
<circle cx="505.9" cy="308.64" r="1.9" fill="#fff" stroke="#5a9e3c" stroke-width="0.95"/>
<circle cx="508.5" cy="313.94" r="1.9" fill="#fff" stroke="#5a9e3c" stroke-width="0.95"/>
<circle cx="503.5" cy="315.26" r="1.9" fill="#fff" stroke="#5a9e3c" stroke-width="0.95"/>
<circle cx="505.9" cy="317.9" r="1.9" fill="#fff" stroke="#5a9e3c" stroke-width="0.95"/>
<circle cx="508.5" cy="320.55" r="1.9" fill="#fff" stroke="#5a9e3c" stroke-width="0.95"/>
<circle cx="503.3" cy="321.43" r="1.9" fill="#fff" stroke="#5a9e3c" stroke-width="0.95"/>
<circle cx="505.9" cy="323.64" r="1.9" fill="#fff" stroke="#5a9e3c" stroke-width="0.95"/>
<circle cx="508" cy="325.84" r="1.9" fill="#fff" stroke="#5a9e3c" stroke-width="0.95"/>
<circle cx="503.5" cy="327.61" r="1.9" fill="#fff" stroke="#5a9e3c" stroke-width="0.95"/>
<circle cx="505.9" cy="328.93" r="1.9" fill="#fff" stroke="#5a9e3c" stroke-width="0.95"/>
<line x1="505.9" y1="313.05" x2="505.9" y2="326.72" stroke="#111" stroke-width="1"/>
<line x1="503.5" y1="313.05" x2="508.3" y2="313.05" stroke="#111" stroke-width="1"/>
<line x1="503.5" y1="326.72" x2="508.3" y2="326.72" stroke="#111" stroke-width="1"/>
<line x1="501.3" y1="320.11" x2="510.5" y2="320.11" stroke="#111" stroke-width="1.1"/>
<text x="454.5" y="318.7" font-size="7.2" text-anchor="middle" stroke="#000" stroke-width="0.32" textLength="30" lengthAdjust="spacingAndGlyphs" transform="rotate(-90 454.5 318.7)">HLA-E MFI</text>
<text x="494.5" y="351" font-size="6.36" text-anchor="end" transform="rotate(-45 494.5 351)">Mo</text>
<text x="508.7" y="351" font-size="6.36" text-anchor="end" transform="rotate(-45 508.7 351)">NK-Mo</text>
<text x="269.2" y="405.7" font-size="11" font-weight="bold">H</text>
<rect x="298.7" y="396.4" width="5.2" height="4.6" fill="#5aa3e0" stroke="none" stroke-width="1"/>
<text x="306.6" y="400.3" font-size="5.3">Mo</text>
<rect x="299.1" y="406" width="4.4" height="4" fill="#fff" stroke="#5a9e3c" stroke-width="0.8"/>
<text x="306.6" y="409.6" font-size="5.3">NK-Mo</text>
<rect x="298.9" y="414.9" width="4.8" height="4.3" fill="#b4b4bf" stroke="#555a70" stroke-width="0.5"/>
<text x="306.6" y="418.6" font-size="5.3">Unstained</text>
<path d="M310.5 474.3 L310.5 474.05 L310.9 473.97 L311.3 473.88 L311.7 473.8 L312.1 473.68 L312.5 473.5 L312.9 473.32 L313.3 473.03 L313.7 472.79 L314.1 472.51 L314.5 472.2 L314.9 471.81 L315.3 471.59 L315.7 471.07 L316.1 470.75 L316.5 469.92 L316.9 469.88 L317.3 468.93 L317.7 468.9 L318.1 467.94 L318.5 467.67 L318.9 467.05 L319.3 466.05 L319.7 466.22 L320.1 465.5 L320.5 463.71 L320.9 463.27 L321.3 462.82 L321.7 460.24 L322.1 458.86 L322.5 458.88 L322.9 456.66 L323.3 455.65 L323.7 453.55 L324.1 451.03 L324.5 450.59 L324.9 446.93 L325.3 446.46 L325.7 442.42 L326.1 434.78 L326.5 431.48 L326.9 427.34 L327.3 425.5 L327.7 427.99 L328.1 433.39 L328.5 440.75 L328.9 443.24 L329.3 446.52 L329.7 449.3 L330.1 452.12 L330.5 454.5 L330.9 456.09 L331.3 457.17 L331.7 459.17 L332.1 462.09 L332.5 463.87 L332.9 465.63 L333.3 467.28 L333.7 468.69 L334.1 470.25 L334.5 471.53 L334.9 472.16 L335.3 472.91 L335.7 473.37 L336.1 473.73 L336.5 473.94 L336.9 474.08 L337.3 474.17 L337.7 474.23 L338.1 474.26 L338.5 474.28 L338.9 474.29 L338.9 474.3Z" fill="#5aa3e0" stroke="none" stroke-width="0.6"/>
<path d="M300 473.81 L312 474.12 L312.5 474.08 L313 474.03 L313.5 473.98 L314 473.94 L314.5 473.88 L315 473.82 L315.5 473.75 L316 473.66 L316.5 473.59 L317 473.5 L317.5 473.42 L318 473.32 L318.5 473.22 L319 473.1 L319.5 473.01 L320 472.94 L320.5 472.83 L321 472.74 L321.5 472.59 L322 472.48 L322.5 472.37 L323 472.23 L323.5 472.08 L324 471.86 L324.5 471.62 L325 471.35 L325.5 470.85 L326 470.38 L326.5 469.68 L327 468.95 L327.5 468.08 L328 467.05 L328.5 465.76 L329 464.11 L329.5 461.74 L330 457.54 L330.5 451.95 L331 444.45 L331.5 436.85 L332 430.33 L332.5 426.55 L333 428.93 L333.5 433.62 L334 442.37 L334.5 451.51 L335 459.07 L335.5 464.5 L336 468.24 L336.5 470.4 L337 471.7 L337.5 472.53 L338 473.08 L338.5 473.43 L339 473.7 L339.5 473.89 L340 474.02 L340.5 474.11 L341 474.18 L341.5 474.21 L342 474.24 L342.5 474.26 L343 474.27 L343.5 474.28 L344 474.29 L344.5 474.29 L345 474.29 L345.5 474.29 L346 474.3 L346.5 474.3 L347 474.3 L347.5 474.3 L348 474.3 L350 474.06" fill="none" stroke="#5a9e3c" stroke-width="0.8"/>
<path d="M300.5 474.3 L300.5 474.29 L300.8 474.28 L301.1 474.26 L301.4 474.21 L301.7 474.11 L302 473.92 L302.3 473.53 L302.6 472.89 L302.9 471.88 L303.2 470.11 L303.5 467.75 L303.8 464.03 L304.1 460.19 L304.4 454.68 L304.7 447.13 L305 441.8 L305.3 435.97 L305.6 429.01 L305.9 426.19 L306.2 426.87 L306.5 426.49 L306.8 429.51 L307.1 436.27 L307.4 441.03 L307.7 448.77 L308 454.5 L308.3 460.23 L308.6 464.49 L308.9 467.44 L309.2 470.2 L309.5 471.74 L309.8 472.91 L310.1 473.54 L310.4 473.9 L310.7 474.11 L311 474.21 L311.3 474.26 L311.6 474.28 L311.9 474.29 L311.9 474.3Z" fill="#bdbdc2" stroke="#666" stroke-width="0.5"/>
<rect x="299.6" y="422.2" width="51" height="51.9" fill="none" stroke="#000" stroke-width="1.1"/>
<line x1="297.6" y1="474.3" x2="299.6" y2="474.3" stroke="#000" stroke-width="0.9"/>
<text x="293.6" y="476.4" font-size="5.9" text-anchor="end">0</text>
<line x1="297.6" y1="464.54" x2="299.6" y2="464.54" stroke="#000" stroke-width="0.9"/>
<text x="293.6" y="466.64" font-size="5.9" text-anchor="end">20</text>
<line x1="297.6" y1="454.78" x2="299.6" y2="454.78" stroke="#000" stroke-width="0.9"/>
<text x="293.6" y="456.88" font-size="5.9" text-anchor="end">40</text>
<line x1="297.6" y1="445.02" x2="299.6" y2="445.02" stroke="#000" stroke-width="0.9"/>
<text x="293.6" y="447.12" font-size="5.9" text-anchor="end">60</text>
<line x1="297.6" y1="435.26" x2="299.6" y2="435.26" stroke="#000" stroke-width="0.9"/>
<text x="293.6" y="437.36" font-size="5.9" text-anchor="end">80</text>
<line x1="297.6" y1="425.5" x2="299.6" y2="425.5" stroke="#000" stroke-width="0.9"/>
<text x="293.6" y="427.6" font-size="5.9" text-anchor="end">100</text>
<path d="M300.6 474.1v1.6M302.83 474.1v0.9M305.05 474.1v0.9M307.28 474.1v0.9M309.51 474.1v0.9M311.74 474.1v1.6M313.96 474.1v0.9M316.19 474.1v0.9M318.42 474.1v0.9M320.65 474.1v0.9M322.87 474.1v1.6M325.1 474.1v0.9M327.33 474.1v0.9M329.55 474.1v0.9M331.78 474.1v0.9M334.01 474.1v1.6M336.24 474.1v0.9M338.46 474.1v0.9M340.69 474.1v0.9M342.92 474.1v0.9M345.15 474.1v1.6M347.37 474.1v0.9M349.6 474.1v0.9" fill="none" stroke="#000" stroke-width="0.6"/>
<text x="303.2" y="484.7" font-size="5.8" text-anchor="middle">0</text>
<text x="308.6" y="484.7" font-size="5.8" text-anchor="middle">10<tspan baseline-shift="super" font-size="70%">2</tspan></text>
<text x="321.9" y="484.7" font-size="5.8" text-anchor="middle">10<tspan baseline-shift="super" font-size="70%">3</tspan></text>
<text x="334.2" y="484.7" font-size="5.8" text-anchor="middle">10<tspan baseline-shift="super" font-size="70%">4</tspan></text>
<text x="345.8" y="484.7" font-size="5.8" text-anchor="middle">10<tspan baseline-shift="super" font-size="70%">5</tspan></text>
<line x1="301.7" y1="463.9" x2="323.5" y2="463.9" stroke="#222" stroke-width="1"/>
<line x1="301.7" y1="461.9" x2="301.7" y2="465.9" stroke="#222" stroke-width="0.9"/>
<line x1="323.5" y1="461.9" x2="323.5" y2="465.9" stroke="#222" stroke-width="0.9"/>
<line x1="323.5" y1="455.7" x2="346.3" y2="455.7" stroke="#222" stroke-width="1"/>
<line x1="323.5" y1="453.7" x2="323.5" y2="457.7" stroke="#222" stroke-width="0.9"/>
<line x1="346.3" y1="453.7" x2="346.3" y2="457.7" stroke="#222" stroke-width="0.9"/>
<text x="312.3" y="462.4" font-size="5.6" text-anchor="middle">lo</text>
<text x="338.5" y="454.2" font-size="5.6" text-anchor="middle">hi</text>
<line x1="299.6" y1="492.7" x2="322.3" y2="492.7" stroke="#000" stroke-width="1"/>
<path d="M326.2 492.7 L321.2 490.5 L321.2 494.9Z" fill="#000" stroke="none" stroke-width="1"/>
<text x="329.6" y="495.9" font-size="8.4" stroke="#000" stroke-width="0.32" textLength="16.2" lengthAdjust="spacingAndGlyphs">HLA-E</text>
<text x="363.4" y="406.3" font-size="11" font-weight="bold">I</text>
<rect x="399.4" y="399.7" width="4.3" height="4" fill="#5aa3e0" stroke="none" stroke-width="1"/>
<text x="406.4" y="403.6" font-size="5.6">Mo</text>
<rect x="399.4" y="408.3" width="4.3" height="4.2" fill="#5fa83a" stroke="none" stroke-width="1"/>
<text x="406.4" y="412.2" font-size="5.6">NK-Mo</text>
<line x1="398.3" y1="419" x2="398.3" y2="483.65" stroke="#000" stroke-width="1.3"/>
<line x1="395.7" y1="483" x2="398.3" y2="483" stroke="#000" stroke-width="1.17"/>
<text x="392" y="485.27" font-size="6.3" text-anchor="end">0</text>
<line x1="395.7" y1="470.32" x2="398.3" y2="470.32" stroke="#000" stroke-width="1.17"/>
<text x="392" y="472.59" font-size="6.3" text-anchor="end">20</text>
<line x1="395.7" y1="457.64" x2="398.3" y2="457.64" stroke="#000" stroke-width="1.17"/>
<text x="392" y="459.91" font-size="6.3" text-anchor="end">40</text>
<line x1="395.7" y1="444.96" x2="398.3" y2="444.96" stroke="#000" stroke-width="1.17"/>
<text x="392" y="447.23" font-size="6.3" text-anchor="end">60</text>
<line x1="395.7" y1="432.28" x2="398.3" y2="432.28" stroke="#000" stroke-width="1.17"/>
<text x="392" y="434.55" font-size="6.3" text-anchor="end">80</text>
<line x1="395.7" y1="419.6" x2="398.3" y2="419.6" stroke="#000" stroke-width="1.17"/>
<text x="392" y="421.87" font-size="6.3" text-anchor="end">100</text>
<rect x="404.8" y="473.49" width="8.1" height="9.51" fill="#5aa3e0" stroke="none" stroke-width="1"/>
<line x1="408.85" y1="469.05" x2="408.85" y2="473.49" stroke="#222" stroke-width="0.9"/>
<line x1="406.65" y1="469.05" x2="411.05" y2="469.05" stroke="#222" stroke-width="0.9"/>
<rect x="416.4" y="480.46" width="8.1" height="2.54" fill="#5fa83a" stroke="none" stroke-width="1"/>
<line x1="420.45" y1="477.93" x2="420.45" y2="480.46" stroke="#222" stroke-width="0.9"/>
<line x1="418.25" y1="477.93" x2="422.65" y2="477.93" stroke="#222" stroke-width="0.9"/>
<rect x="436" y="429.11" width="8.2" height="53.89" fill="#5aa3e0" stroke="none" stroke-width="1"/>
<line x1="440.1" y1="425.31" x2="440.1" y2="429.11" stroke="#222" stroke-width="0.9"/>
<line x1="437.9" y1="425.31" x2="442.3" y2="425.31" stroke="#222" stroke-width="0.9"/>
<rect x="447.4" y="423.4" width="8.1" height="59.6" fill="#5fa83a" stroke="none" stroke-width="1"/>
<line x1="451.45" y1="419.6" x2="451.45" y2="423.4" stroke="#222" stroke-width="0.9"/>
<line x1="449.25" y1="419.6" x2="453.65" y2="419.6" stroke="#222" stroke-width="0.9"/>
<line x1="397.65" y1="483" x2="460.9" y2="483" stroke="#000" stroke-width="1.3"/>
<line x1="414.6" y1="483" x2="414.6" y2="486" stroke="#000" stroke-width="1.17"/>
<line x1="445.8" y1="483" x2="445.8" y2="486" stroke="#000" stroke-width="1.17"/>
<path d="M408.9 465.8V463.6H420.5V465.8" fill="none" stroke="#000" stroke-width="0.9"/>
<text x="414.7" y="462.3" font-size="6.5" text-anchor="middle" font-weight="bold">**</text>
<path d="M440.1 416.7V414.5H451.5V416.7" fill="none" stroke="#000" stroke-width="0.9"/>
<text x="445.8" y="413.2" font-size="6.5" text-anchor="middle" font-weight="bold">**</text>
<text x="414.3" y="493.3" font-size="5.8" text-anchor="middle">HLA-E<tspan baseline-shift="super" font-size="70%">lo</tspan></text>
<text x="445.5" y="493.3" font-size="5.8" text-anchor="middle">HLA-E<tspan baseline-shift="super" font-size="70%">hi</tspan></text>
<text x="376.6" y="450" font-size="7.2" text-anchor="middle" stroke="#000" stroke-width="0.32" textLength="37.5" lengthAdjust="spacingAndGlyphs" transform="rotate(-90 376.6 450)">Frequency (%)</text>
<text x="6.5" y="518.4" font-size="11" font-weight="bold">J</text>
<line x1="43.7" y1="534.5" x2="43.7" y2="598.25" stroke="#000" stroke-width="1.3"/>
<line x1="41.1" y1="597.6" x2="43.7" y2="597.6" stroke="#000" stroke-width="1.17"/>
<text x="37.4" y="599.94" font-size="6.5" text-anchor="end">0</text>
<line x1="41.1" y1="585.47" x2="43.7" y2="585.47" stroke="#000" stroke-width="1.17"/>
<text x="37.4" y="587.81" font-size="6.5" text-anchor="end">5</text>
<line x1="41.1" y1="573.34" x2="43.7" y2="573.34" stroke="#000" stroke-width="1.17"/>
<text x="37.4" y="575.68" font-size="6.5" text-anchor="end">10</text>
<line x1="41.1" y1="561.21" x2="43.7" y2="561.21" stroke="#000" stroke-width="1.17"/>
<text x="37.4" y="563.55" font-size="6.5" text-anchor="end">15</text>
<line x1="41.1" y1="549.08" x2="43.7" y2="549.08" stroke="#000" stroke-width="1.17"/>
<text x="37.4" y="551.42" font-size="6.5" text-anchor="end">20</text>
<line x1="41.1" y1="536.95" x2="43.7" y2="536.95" stroke="#000" stroke-width="1.17"/>
<text x="37.4" y="539.29" font-size="6.5" text-anchor="end">25</text>
<rect x="45.8" y="572.85" width="6.2" height="24.75" fill="#5aa3e0" stroke="none" stroke-width="1"/>
<line x1="48.9" y1="570.43" x2="48.9" y2="572.85" stroke="#222" stroke-width="0.9"/>
<line x1="46.7" y1="570.43" x2="51.1" y2="570.43" stroke="#222" stroke-width="0.9"/>
<rect x="55.8" y="550.29" width="6.7" height="47.31" fill="#5fa83a" stroke="none" stroke-width="1"/>
<line x1="59.15" y1="547.87" x2="59.15" y2="550.29" stroke="#222" stroke-width="0.9"/>
<line x1="56.95" y1="547.87" x2="61.35" y2="547.87" stroke="#222" stroke-width="0.9"/>
<rect x="66" y="569.46" width="6.8" height="28.14" fill="#4b1f5e" stroke="none" stroke-width="1"/>
<line x1="69.4" y1="566.06" x2="69.4" y2="569.46" stroke="#222" stroke-width="0.9"/>
<line x1="67.2" y1="566.06" x2="71.6" y2="566.06" stroke="#222" stroke-width="0.9"/>
<line x1="43.05" y1="597.6" x2="73.3" y2="597.6" stroke="#000" stroke-width="1.3"/>
<line x1="48.9" y1="597.6" x2="48.9" y2="600.6" stroke="#000" stroke-width="1.17"/>
<line x1="59.15" y1="597.6" x2="59.15" y2="600.6" stroke="#000" stroke-width="1.17"/>
<line x1="69.4" y1="597.6" x2="69.4" y2="600.6" stroke="#000" stroke-width="1.17"/>
<text x="23" y="567.4" font-size="7.2" text-anchor="middle" stroke="#000" stroke-width="0.32" textLength="54" lengthAdjust="spacingAndGlyphs" transform="rotate(-90 23 567.4)">% CD14<tspan baseline-shift="super" font-size="70%">+</tspan> live/dead<tspan baseline-shift="super" font-size="70%">+</tspan></text>
<text x="51.7" y="605.8" font-size="6.36" text-anchor="end" transform="rotate(-45 51.7 605.8)">Mo</text>
<text x="61.95" y="605.8" font-size="6.36" text-anchor="end" transform="rotate(-45 61.95 605.8)">NK-Mo</text>
<text x="72.2" y="605.8" font-size="6.36" text-anchor="end" transform="rotate(-45 72.2 605.8)">NK<tspan dy="1.3" font-size="4.4">αCD94</tspan><tspan dy="-1.3">-Mo</tspan></text>
<path d="M59.2 544.6V542.2H69.4V544.6" fill="none" stroke="#000" stroke-width="0.9"/>
<text x="64.3" y="541.4" font-size="6.5" text-anchor="middle" font-weight="bold">***</text>
<line x1="111.9" y1="534.5" x2="111.9" y2="598.25" stroke="#000" stroke-width="1.3"/>
<line x1="109.3" y1="597.6" x2="111.9" y2="597.6" stroke="#000" stroke-width="1.17"/>
<text x="105.6" y="599.94" font-size="6.5" text-anchor="end">0</text>
<line x1="109.3" y1="585.47" x2="111.9" y2="585.47" stroke="#000" stroke-width="1.17"/>
<text x="105.6" y="587.81" font-size="6.5" text-anchor="end">5</text>
<line x1="109.3" y1="573.34" x2="111.9" y2="573.34" stroke="#000" stroke-width="1.17"/>
<text x="105.6" y="575.68" font-size="6.5" text-anchor="end">10</text>
<line x1="109.3" y1="561.21" x2="111.9" y2="561.21" stroke="#000" stroke-width="1.17"/>
<text x="105.6" y="563.55" font-size="6.5" text-anchor="end">15</text>
<line x1="109.3" y1="549.08" x2="111.9" y2="549.08" stroke="#000" stroke-width="1.17"/>
<text x="105.6" y="551.42" font-size="6.5" text-anchor="end">20</text>
<line x1="109.3" y1="536.95" x2="111.9" y2="536.95" stroke="#000" stroke-width="1.17"/>
<text x="105.6" y="539.29" font-size="6.5" text-anchor="end">25</text>
<rect x="114.2" y="563.64" width="6.8" height="33.96" fill="#5aa3e0" stroke="none" stroke-width="1"/>
<line x1="117.6" y1="555.14" x2="117.6" y2="563.64" stroke="#222" stroke-width="0.9"/>
<line x1="115.4" y1="555.14" x2="119.8" y2="555.14" stroke="#222" stroke-width="0.9"/>
<rect x="124.6" y="585.47" width="6.7" height="12.13" fill="#5fa83a" stroke="none" stroke-width="1"/>
<line x1="127.95" y1="582.32" x2="127.95" y2="585.47" stroke="#222" stroke-width="0.9"/>
<line x1="125.75" y1="582.32" x2="130.15" y2="582.32" stroke="#222" stroke-width="0.9"/>
<rect x="135" y="559.75" width="6.3" height="37.85" fill="#4b1f5e" stroke="none" stroke-width="1"/>
<line x1="138.15" y1="550.78" x2="138.15" y2="559.75" stroke="#222" stroke-width="0.9"/>
<line x1="135.95" y1="550.78" x2="140.35" y2="550.78" stroke="#222" stroke-width="0.9"/>
<line x1="111.25" y1="597.6" x2="142.1" y2="597.6" stroke="#000" stroke-width="1.3"/>
<line x1="117.6" y1="597.6" x2="117.6" y2="600.6" stroke="#000" stroke-width="1.17"/>
<line x1="127.95" y1="597.6" x2="127.95" y2="600.6" stroke="#000" stroke-width="1.17"/>
<line x1="138.15" y1="597.6" x2="138.15" y2="600.6" stroke="#000" stroke-width="1.17"/>
<text x="94.3" y="567.4" font-size="7.2" text-anchor="middle" stroke="#000" stroke-width="0.32" textLength="50" lengthAdjust="spacingAndGlyphs" transform="rotate(-90 94.3 567.4)">% CD14<tspan baseline-shift="super" font-size="70%">+</tspan> HLA-E<tspan baseline-shift="super" font-size="70%">lo</tspan></text>
<text x="120.4" y="605.8" font-size="6.36" text-anchor="end" transform="rotate(-45 120.4 605.8)">Mo</text>
<text x="130.75" y="605.8" font-size="6.36" text-anchor="end" transform="rotate(-45 130.75 605.8)">NK-Mo</text>
<text x="140.95" y="605.8" font-size="6.36" text-anchor="end" transform="rotate(-45 140.95 605.8)">NK<tspan dy="1.3" font-size="4.4">αCD94</tspan><tspan dy="-1.3">-Mo</tspan></text>
<path d="M128.2 547.7V545.3H138.1V547.7" fill="none" stroke="#000" stroke-width="0.9"/>
<text x="133.15" y="543.8" font-size="6.5" text-anchor="middle" font-weight="bold">*</text>
<text x="155.3" y="518.4" font-size="11" font-weight="bold">K</text>
<rect x="184.8" y="509" width="5" height="4.4" fill="#5aa3e0" stroke="none" stroke-width="1"/>
<text x="192.5" y="513.2" font-size="5.2">HLA-E<tspan baseline-shift="super" font-size="70%">lo</tspan></text>
<rect x="185.2" y="518.1" width="4.2" height="4" fill="#fff" stroke="#5a9e3c" stroke-width="0.8"/>
<text x="192.5" y="521.9" font-size="5.2">HLA-E<tspan baseline-shift="super" font-size="70%">hi</tspan></text>
<rect x="185" y="526.5" width="4.6" height="4.6" fill="#b4b4bf" stroke="#555a70" stroke-width="0.5"/>
<text x="192.5" y="530.6" font-size="5.1">Unstained</text>
<path d="M211.5 597.1 L211.5 596.9 L211.9 596.73 L212.3 596.39 L212.7 595.92 L213.1 595.17 L213.5 593.84 L213.9 591.68 L214.3 589.51 L214.7 586.84 L215.1 585.17 L215.5 581.4 L215.9 579.62 L216.3 577.99 L216.7 577.01 L217.1 576.05 L217.5 572.67 L217.9 571.88 L218.3 567.72 L218.7 559.58 L219.1 555.54 L219.5 550.16 L219.9 551.01 L220.3 561.15 L220.7 572.82 L221.1 581.62 L221.5 587.74 L221.9 588.42 L222.3 589.23 L222.7 590.44 L223.1 591.98 L223.5 592.95 L223.9 594.4 L224.3 595.02 L224.7 595.87 L225.1 596.46 L225.5 596.79 L225.9 596.94 L226.3 597.03 L226.7 597.07 L227.1 597.09 L227.5 597.1 L227.5 597.1Z" fill="#5aa3e0" stroke="none" stroke-width="0.6"/>
<path d="M186 596.86 L214 597.1 L214.5 597.1 L215 597.1 L215.5 597.1 L216 597.09 L216.5 597.09 L217 597.08 L217.5 597.06 L218 597.01 L218.5 596.91 L219 596.7 L219.5 596.34 L220 595.6 L220.5 594.39 L221 592.3 L221.5 589.16 L222 585.13 L222.5 579.28 L223 572.28 L223.5 563.41 L224 555.97 L224.5 551.07 L225 548.1 L225.5 548.1 L226 548.1 L226.5 550.06 L227 555.95 L227.5 560.51 L228 568.48 L228.5 574.38 L229 578.46 L229.5 582.57 L230 585.97 L230.5 587.75 L231 589.64 L231.5 590.9 L232 592.13 L232.5 592.87 L233 593.75 L233.5 594.41 L234 595.03 L234.5 595.6 L235 595.99 L235.5 596.31 L236 596.55 L237 596.86" fill="none" stroke="#5a9e3c" stroke-width="0.8"/>
<path d="M199 597.1 L199 596.93 L199.4 596.75 L199.8 596.46 L200.2 595.97 L200.6 595.19 L201 593.69 L201.4 591.77 L201.8 588.75 L202.2 585.39 L202.6 580.11 L203 575.54 L203.4 568.09 L203.8 561.94 L204.2 557.31 L204.6 552.08 L205 548.3 L205.4 549.6 L205.8 548.92 L206.2 550.89 L206.6 557.9 L207 561.69 L207.4 568.42 L207.8 574.27 L208.2 580.83 L208.6 585.72 L209 588.72 L209.4 591.59 L209.8 593.76 L210.2 595.17 L210.6 595.98 L211 596.45 L211.4 596.77 L211.8 596.92 L211.8 597.1Z" fill="#bdbdc2" stroke="#666" stroke-width="0.5"/>
<rect x="185.4" y="545.4" width="52" height="51.7" fill="none" stroke="#000" stroke-width="1.1"/>
<line x1="183.4" y1="597.1" x2="185.4" y2="597.1" stroke="#000" stroke-width="0.9"/>
<text x="181.4" y="599.2" font-size="5.9" text-anchor="end">0</text>
<line x1="183.4" y1="587.3" x2="185.4" y2="587.3" stroke="#000" stroke-width="0.9"/>
<text x="181.4" y="589.4" font-size="5.9" text-anchor="end">20</text>
<line x1="183.4" y1="577.5" x2="185.4" y2="577.5" stroke="#000" stroke-width="0.9"/>
<text x="181.4" y="579.6" font-size="5.9" text-anchor="end">40</text>
<line x1="183.4" y1="567.7" x2="185.4" y2="567.7" stroke="#000" stroke-width="0.9"/>
<text x="181.4" y="569.8" font-size="5.9" text-anchor="end">60</text>
<line x1="183.4" y1="557.9" x2="185.4" y2="557.9" stroke="#000" stroke-width="0.9"/>
<text x="181.4" y="560" font-size="5.9" text-anchor="end">80</text>
<line x1="183.4" y1="548.1" x2="185.4" y2="548.1" stroke="#000" stroke-width="0.9"/>
<text x="181.4" y="550.2" font-size="5.9" text-anchor="end">100</text>
<path d="M186.4 597.1v1.6M188.67 597.1v0.9M190.95 597.1v0.9M193.22 597.1v0.9M195.49 597.1v0.9M197.76 597.1v1.6M200.04 597.1v0.9M202.31 597.1v0.9M204.58 597.1v0.9M206.85 597.1v0.9M209.13 597.1v1.6M211.4 597.1v0.9M213.67 597.1v0.9M215.95 597.1v0.9M218.22 597.1v0.9M220.49 597.1v1.6M222.76 597.1v0.9M225.04 597.1v0.9M227.31 597.1v0.9M229.58 597.1v0.9M231.85 597.1v1.6M234.13 597.1v0.9M236.4 597.1v0.9" fill="none" stroke="#000" stroke-width="0.6"/>
<text x="188.5" y="607.9" font-size="5.8" text-anchor="middle">0</text>
<text x="195.6" y="607.9" font-size="5.8" text-anchor="middle">10<tspan baseline-shift="super" font-size="70%">2</tspan></text>
<text x="206.9" y="607.9" font-size="5.8" text-anchor="middle">10<tspan baseline-shift="super" font-size="70%">3</tspan></text>
<text x="220" y="607.9" font-size="5.8" text-anchor="middle">10<tspan baseline-shift="super" font-size="70%">4</tspan></text>
<text x="231.5" y="607.9" font-size="5.8" text-anchor="middle">10<tspan baseline-shift="super" font-size="70%">5</tspan></text>
<line x1="188.5" y1="615.5" x2="200.5" y2="615.5" stroke="#000" stroke-width="1"/>
<path d="M204.8 615.5 L199.8 613.3 L199.8 617.7Z" fill="#000" stroke="none" stroke-width="1"/>
<text x="208.2" y="619.2" font-size="8.8" stroke="#000" stroke-width="0.32" textLength="24.1" lengthAdjust="spacingAndGlyphs">HLA-ABC</text>
<circle cx="288.3" cy="519.4" r="1.8" fill="#3a86cc" stroke="#000" stroke-width="0.7"/>
<text x="292.5" y="521.5" font-size="5.6">Mo</text>
<circle cx="288.3" cy="528.3" r="1.7" fill="#fff" stroke="#5a9e3c" stroke-width="0.8"/>
<text x="292.5" y="530.4" font-size="5.6">Mo-NK</text>
<line x1="286.4" y1="538.5" x2="286.4" y2="597.65" stroke="#000" stroke-width="1.3"/>
<line x1="283.8" y1="597" x2="286.4" y2="597" stroke="#000" stroke-width="1.17"/>
<text x="280.1" y="599.45" font-size="6.8" text-anchor="end">0</text>
<line x1="283.8" y1="578.1" x2="286.4" y2="578.1" stroke="#000" stroke-width="1.17"/>
<text x="280.1" y="580.55" font-size="6.8" text-anchor="end">10000</text>
<line x1="283.8" y1="559.2" x2="286.4" y2="559.2" stroke="#000" stroke-width="1.17"/>
<text x="280.1" y="561.65" font-size="6.8" text-anchor="end">20000</text>
<line x1="283.8" y1="540.3" x2="286.4" y2="540.3" stroke="#000" stroke-width="1.17"/>
<text x="280.1" y="542.75" font-size="6.8" text-anchor="end">30000</text>
<line x1="285.75" y1="597" x2="315.3" y2="597" stroke="#000" stroke-width="1.3"/>
<line x1="293.7" y1="597" x2="293.7" y2="600" stroke="#000" stroke-width="1.17"/>
<line x1="307.2" y1="597" x2="307.2" y2="600" stroke="#000" stroke-width="1.17"/>
<path d="M293.7 543.4V541H307.2V543.4" fill="none" stroke="#000" stroke-width="0.9"/>
<text x="300.45" y="539.8" font-size="6.5" text-anchor="middle" font-weight="bold">***</text>
<circle cx="294" cy="569.5" r="1.65" fill="#fff" stroke="#5a9e3c" stroke-width="0.9"/>
<circle cx="291.4" cy="574.2" r="1.65" fill="#fff" stroke="#5a9e3c" stroke-width="0.9"/>
<circle cx="295.9" cy="573.6" r="1.65" fill="#fff" stroke="#5a9e3c" stroke-width="0.9"/>
<circle cx="291.2" cy="578.9" r="1.65" fill="#fff" stroke="#5a9e3c" stroke-width="0.9"/>
<circle cx="295.5" cy="582.6" r="1.65" fill="#fff" stroke="#5a9e3c" stroke-width="0.9"/>
<circle cx="291.9" cy="584.8" r="1.65" fill="#fff" stroke="#5a9e3c" stroke-width="0.9"/>
<circle cx="294.2" cy="587.5" r="1.65" fill="#fff" stroke="#5a9e3c" stroke-width="0.9"/>
<circle cx="294" cy="569.5" r="1.6" fill="#3a86cc" stroke="#000" stroke-width="0.95"/>
<circle cx="291" cy="572.3" r="1.6" fill="#3a86cc" stroke="#000" stroke-width="0.95"/>
<circle cx="293.7" cy="574.8" r="1.6" fill="#3a86cc" stroke="#000" stroke-width="0.95"/>
<circle cx="295.7" cy="578.6" r="1.6" fill="#3a86cc" stroke="#000" stroke-width="0.95"/>
<circle cx="295.3" cy="582.3" r="1.6" fill="#3a86cc" stroke="#000" stroke-width="0.95"/>
<circle cx="293.5" cy="585" r="1.6" fill="#3a86cc" stroke="#000" stroke-width="0.95"/>
<line x1="288.7" y1="577.3" x2="298.7" y2="577.3" stroke="#111" stroke-width="1.2"/>
<circle cx="304.9" cy="547.8" r="1.65" fill="#fff" stroke="#5a9e3c" stroke-width="0.9"/>
<circle cx="304.9" cy="555.9" r="1.65" fill="#fff" stroke="#5a9e3c" stroke-width="0.9"/>
<circle cx="304.9" cy="560.5" r="1.65" fill="#fff" stroke="#5a9e3c" stroke-width="0.9"/>
<circle cx="309.5" cy="560.5" r="1.65" fill="#fff" stroke="#5a9e3c" stroke-width="0.9"/>
<circle cx="304.9" cy="567.4" r="1.65" fill="#fff" stroke="#5a9e3c" stroke-width="0.9"/>
<circle cx="304.9" cy="570.5" r="1.65" fill="#fff" stroke="#5a9e3c" stroke-width="0.9"/>
<circle cx="308.7" cy="564.5" r="1.65" fill="#fff" stroke="#5a9e3c" stroke-width="0.9"/>
<circle cx="307" cy="551.5" r="1.6" fill="#3a86cc" stroke="#000" stroke-width="0.95"/>
<circle cx="309.7" cy="556.2" r="1.6" fill="#3a86cc" stroke="#000" stroke-width="0.95"/>
<circle cx="307.4" cy="557.2" r="1.6" fill="#3a86cc" stroke="#000" stroke-width="0.95"/>
<circle cx="304.9" cy="562" r="1.6" fill="#3a86cc" stroke="#000" stroke-width="0.95"/>
<circle cx="309.7" cy="568.6" r="1.6" fill="#3a86cc" stroke="#000" stroke-width="0.95"/>
<circle cx="307.2" cy="569.6" r="1.6" fill="#3a86cc" stroke="#000" stroke-width="0.95"/>
<circle cx="307.2" cy="574.2" r="1.6" fill="#3a86cc" stroke="#000" stroke-width="0.95"/>
<circle cx="307.2" cy="579.2" r="1.6" fill="#3a86cc" stroke="#000" stroke-width="0.95"/>
<line x1="302.2" y1="563.3" x2="312.2" y2="563.3" stroke="#111" stroke-width="1.2"/>
<text x="257.3" y="567" font-size="7.2" text-anchor="middle" stroke="#000" stroke-width="0.32" textLength="36" lengthAdjust="spacingAndGlyphs" transform="rotate(-90 257.3 567)">HLA-ABC MFI</text>
<text x="296.5" y="605.5" font-size="6.36" text-anchor="end" transform="rotate(-45 296.5 605.5)">HLA-E<tspan baseline-shift="super" font-size="70%">lo</tspan></text>
<text x="310" y="605.5" font-size="6.36" text-anchor="end" transform="rotate(-45 310 605.5)">HLA-E<tspan baseline-shift="super" font-size="70%">hi</tspan></text>
<rect x="340.9" y="509" width="5" height="4.4" fill="#5aa3e0" stroke="none" stroke-width="1"/>
<text x="349" y="513.2" font-size="5.2">HLA-E<tspan baseline-shift="super" font-size="70%">lo</tspan></text>
<rect x="341.3" y="518.1" width="4.2" height="4" fill="#fff" stroke="#5a9e3c" stroke-width="0.8"/>
<text x="349" y="521.9" font-size="5.2">HLA-E<tspan baseline-shift="super" font-size="70%">hi</tspan></text>
<rect x="341.1" y="526.5" width="4.6" height="4.6" fill="#b4b4bf" stroke="#555a70" stroke-width="0.5"/>
<text x="349" y="530.6" font-size="5.1">Unstained</text>
<path d="M355 597.1 L355 597.1 L355.6 587.3 L356 577.5 L357 576.52 L358 575.05 L359 572.6 L360 570.15 L361 568.68 L361.5 562.8 L361.9 550.55 L362.3 566.72 L363 560.35 L363.5 555.45 L364.2 562.8 L364.8 553 L365.3 550.55 L366 560.35 L366.8 570.15 L367.5 579.95 L368.5 586.32 L369.5 591.22 L370.5 594.16 L371.9 597.1 L371.9 597.1Z" fill="#5aa3e0" stroke="none" stroke-width="0.6"/>
<path d="M342 596.12 L350 596.61 L355 597.1 L355.5 597.1 L356 597.1 L356.5 597.09 L357 597.09 L357.5 597.08 L358 597.05 L358.5 597 L359 596.9 L359.5 596.73 L360 596.44 L360.5 595.96 L361 595.24 L361.5 594.01 L362 592.54 L362.5 590.26 L363 587.44 L363.5 583.57 L364 578.94 L364.5 573.12 L365 568.36 L365.5 563.4 L366 558.01 L366.5 551.82 L367 551.26 L367.5 548.1 L368 548.85 L368.5 549.67 L369 553.55 L369.5 556.68 L370 561.79 L370.5 566.4 L371 570.84 L371.5 575.8 L372 580.24 L372.5 583.65 L373 585.88 L373.5 588.57 L374 590.65 L374.5 592 L375 593.39 L375.5 594.39 L376 595.16 L376.5 595.82 L377 596.24 L377.5 596.53 L378 596.76 L378.5 596.89 L379 596.98 L379.5 597.03 L380 597.06 L392.5 596.86" fill="none" stroke="#5a9e3c" stroke-width="0.8"/>
<path d="M341.8 597.1 L341.8 584.85 L342.3 594.71 L342.7 593.65 L343.1 592.31 L343.5 589.95 L343.9 588.25 L344.3 584.83 L344.7 580.72 L345.1 578.21 L345.5 572.9 L345.9 568.13 L346.3 565.4 L346.7 559.96 L347.1 554.75 L347.5 552.62 L347.9 549.07 L348.3 550.56 L348.7 550.07 L349.1 551.65 L349.5 551.8 L349.9 552.9 L350.3 557.87 L350.7 561.22 L351.1 566.7 L351.5 569.86 L351.9 575.45 L352.3 578.71 L352.7 581.46 L353.1 584.46 L353.5 587.42 L353.9 589.85 L354.3 591.49 L354.7 592.95 L355.1 594.06 L355.5 594.82 L355.9 595.61 L356.3 596.01 L356.7 596.38 L357.1 596.68 L357.5 596.83 L357.5 597.1Z" fill="#bdbdc2" stroke="#666" stroke-width="0.5"/>
<rect x="341.3" y="545.4" width="51.7" height="51.7" fill="none" stroke="#000" stroke-width="1.1"/>
<line x1="339.3" y1="597.1" x2="341.3" y2="597.1" stroke="#000" stroke-width="0.9"/>
<text x="337.5" y="599.2" font-size="5.9" text-anchor="end">0</text>
<line x1="339.3" y1="587.3" x2="341.3" y2="587.3" stroke="#000" stroke-width="0.9"/>
<text x="337.5" y="589.4" font-size="5.9" text-anchor="end">20</text>
<line x1="339.3" y1="577.5" x2="341.3" y2="577.5" stroke="#000" stroke-width="0.9"/>
<text x="337.5" y="579.6" font-size="5.9" text-anchor="end">40</text>
<line x1="339.3" y1="567.7" x2="341.3" y2="567.7" stroke="#000" stroke-width="0.9"/>
<text x="337.5" y="569.8" font-size="5.9" text-anchor="end">60</text>
<line x1="339.3" y1="557.9" x2="341.3" y2="557.9" stroke="#000" stroke-width="0.9"/>
<text x="337.5" y="560" font-size="5.9" text-anchor="end">80</text>
<line x1="339.3" y1="548.1" x2="341.3" y2="548.1" stroke="#000" stroke-width="0.9"/>
<text x="337.5" y="550.2" font-size="5.9" text-anchor="end">100</text>
<path d="M342.3 597.1v1.6M344.56 597.1v0.9M346.82 597.1v0.9M349.08 597.1v0.9M351.34 597.1v0.9M353.6 597.1v1.6M355.85 597.1v0.9M358.11 597.1v0.9M360.37 597.1v0.9M362.63 597.1v0.9M364.89 597.1v1.6M367.15 597.1v0.9M369.41 597.1v0.9M371.67 597.1v0.9M373.93 597.1v0.9M376.19 597.1v1.6M378.45 597.1v0.9M380.7 597.1v0.9M382.96 597.1v0.9M385.22 597.1v0.9M387.48 597.1v1.6M389.74 597.1v0.9M392 597.1v0.9" fill="none" stroke="#000" stroke-width="0.6"/>
<text x="346.5" y="607.9" font-size="5.8" text-anchor="middle">0</text>
<text x="352.9" y="607.9" font-size="5.8" text-anchor="middle">10<tspan baseline-shift="super" font-size="70%">2</tspan></text>
<text x="364.2" y="607.9" font-size="5.8" text-anchor="middle">10<tspan baseline-shift="super" font-size="70%">3</tspan></text>
<text x="377.3" y="607.9" font-size="5.8" text-anchor="middle">10<tspan baseline-shift="super" font-size="70%">4</tspan></text>
<text x="390.4" y="607.9" font-size="5.8" text-anchor="middle">10<tspan baseline-shift="super" font-size="70%">5</tspan></text>
<line x1="341.6" y1="615.7" x2="365.6" y2="615.7" stroke="#000" stroke-width="1"/>
<path d="M369.6 615.7 L364.6 613.5 L364.6 617.9Z" fill="#000" stroke="none" stroke-width="1"/>
<text x="371.2" y="619.2" font-size="8.8" stroke="#000" stroke-width="0.32" textLength="17.6" lengthAdjust="spacingAndGlyphs">B7-H6</text>
<circle cx="440.5" cy="520" r="1.8" fill="#3a86cc" stroke="#000" stroke-width="0.7"/>
<text x="445" y="522.1" font-size="5.6">Mo</text>
<circle cx="440.5" cy="528.8" r="1.7" fill="#fff" stroke="#5a9e3c" stroke-width="0.8"/>
<text x="445" y="530.9" font-size="5.6">Mo-NK</text>
<line x1="439.2" y1="538.75" x2="439.2" y2="597.6" stroke="#000" stroke-width="1.3"/>
<line x1="436.6" y1="592" x2="439.2" y2="592" stroke="#000" stroke-width="1.1"/>
<text x="433.4" y="594.3" font-size="6.6" text-anchor="end">0</text>
<line x1="436.6" y1="579" x2="439.2" y2="579" stroke="#000" stroke-width="1.1"/>
<text x="433.4" y="581.3" font-size="6.6" text-anchor="end">500</text>
<line x1="436.6" y1="566" x2="439.2" y2="566" stroke="#000" stroke-width="1.1"/>
<text x="433.4" y="568.3" font-size="6.6" text-anchor="end">1000</text>
<line x1="436.6" y1="553" x2="439.2" y2="553" stroke="#000" stroke-width="1.1"/>
<text x="433.4" y="555.3" font-size="6.6" text-anchor="end">1500</text>
<line x1="436.6" y1="540" x2="439.2" y2="540" stroke="#000" stroke-width="1.1"/>
<text x="433.4" y="542.3" font-size="6.6" text-anchor="end">2000</text>
<line x1="438.55" y1="597" x2="466.25" y2="597" stroke="#000" stroke-width="1.3"/>
<line x1="445.8" y1="597" x2="445.8" y2="600" stroke="#000" stroke-width="1.17"/>
<line x1="459.4" y1="597" x2="459.4" y2="600" stroke="#000" stroke-width="1.17"/>
<path d="M445.8 547.4V545H459.4V547.4" fill="none" stroke="#000" stroke-width="0.9"/>
<text x="452.4" y="541.4" font-size="5.4" text-anchor="middle">p=0.053</text>
<circle cx="445.8" cy="557.8" r="1.65" fill="#fff" stroke="#5a9e3c" stroke-width="0.9"/>
<circle cx="447.3" cy="581" r="1.65" fill="#fff" stroke="#5a9e3c" stroke-width="0.9"/>
<circle cx="448.3" cy="583.4" r="1.65" fill="#fff" stroke="#5a9e3c" stroke-width="0.9"/>
<circle cx="443.3" cy="589.5" r="1.65" fill="#fff" stroke="#5a9e3c" stroke-width="0.9"/>
<circle cx="446.3" cy="590" r="1.65" fill="#fff" stroke="#5a9e3c" stroke-width="0.9"/>
<circle cx="445.3" cy="594.3" r="1.65" fill="#fff" stroke="#5a9e3c" stroke-width="0.9"/>
<circle cx="447.8" cy="586.5" r="1.65" fill="#fff" stroke="#5a9e3c" stroke-width="0.9"/>
<circle cx="443.6" cy="582.3" r="1.6" fill="#3a86cc" stroke="#000" stroke-width="0.95"/>
<circle cx="448.3" cy="589.3" r="1.6" fill="#3a86cc" stroke="#000" stroke-width="0.95"/>
<circle cx="444" cy="592.4" r="1.6" fill="#3a86cc" stroke="#000" stroke-width="0.95"/>
<circle cx="443.5" cy="595" r="1.6" fill="#3a86cc" stroke="#000" stroke-width="0.95"/>
<circle cx="448.1" cy="595" r="1.6" fill="#3a86cc" stroke="#000" stroke-width="0.95"/>
<line x1="445.8" y1="577.2" x2="445.8" y2="597" stroke="#111" stroke-width="1"/>
<line x1="443.4" y1="577.2" x2="448.2" y2="577.2" stroke="#111" stroke-width="1"/>
<line x1="443.4" y1="597" x2="448.2" y2="597" stroke="#111" stroke-width="1"/>
<line x1="441" y1="586.2" x2="450.6" y2="586.2" stroke="#111" stroke-width="1.1"/>
<circle cx="459.4" cy="551.6" r="1.65" fill="#fff" stroke="#5a9e3c" stroke-width="0.9"/>
<circle cx="459.4" cy="563.2" r="1.65" fill="#fff" stroke="#5a9e3c" stroke-width="0.9"/>
<circle cx="462.1" cy="570.2" r="1.65" fill="#fff" stroke="#5a9e3c" stroke-width="0.9"/>
<circle cx="460.9" cy="573.5" r="1.65" fill="#fff" stroke="#5a9e3c" stroke-width="0.9"/>
<circle cx="457.4" cy="576.8" r="1.65" fill="#fff" stroke="#5a9e3c" stroke-width="0.9"/>
<circle cx="460.6" cy="576.5" r="1.65" fill="#fff" stroke="#5a9e3c" stroke-width="0.9"/>
<circle cx="459.4" cy="595" r="1.65" fill="#fff" stroke="#5a9e3c" stroke-width="0.9"/>
<circle cx="458.6" cy="570.2" r="1.6" fill="#3a86cc" stroke="#000" stroke-width="0.95"/>
<circle cx="457.1" cy="571.8" r="1.6" fill="#3a86cc" stroke="#000" stroke-width="0.95"/>
<circle cx="457.4" cy="584.6" r="1.6" fill="#3a86cc" stroke="#000" stroke-width="0.95"/>
<circle cx="459.7" cy="586.5" r="1.6" fill="#3a86cc" stroke="#000" stroke-width="0.95"/>
<circle cx="457.6" cy="595" r="1.6" fill="#3a86cc" stroke="#000" stroke-width="0.95"/>
<circle cx="461.2" cy="595" r="1.6" fill="#3a86cc" stroke="#000" stroke-width="0.95"/>
<line x1="459.4" y1="566.3" x2="459.4" y2="590.8" stroke="#111" stroke-width="1"/>
<line x1="457" y1="566.3" x2="461.8" y2="566.3" stroke="#111" stroke-width="1"/>
<line x1="457" y1="590.8" x2="461.8" y2="590.8" stroke="#111" stroke-width="1"/>
<line x1="454.6" y1="578.4" x2="464.2" y2="578.4" stroke="#111" stroke-width="1.1"/>
<text x="412" y="566.2" font-size="7.2" text-anchor="middle" stroke="#000" stroke-width="0.32" textLength="26" lengthAdjust="spacingAndGlyphs" transform="rotate(-90 412 566.2)">B7H6 MFI</text>
<text x="448.6" y="605.5" font-size="6.36" text-anchor="end" transform="rotate(-45 448.6 605.5)">HLA-E<tspan baseline-shift="super" font-size="70%">lo</tspan></text>
<text x="462.2" y="605.5" font-size="6.36" text-anchor="end" transform="rotate(-45 462.2 605.5)">HLA-E<tspan baseline-shift="super" font-size="70%">hi</tspan></text>
<rect x="0.5" y="0.5" width="519" height="642" fill="none" stroke="#000" stroke-width="1.2"/>
</svg>
</body></html>
